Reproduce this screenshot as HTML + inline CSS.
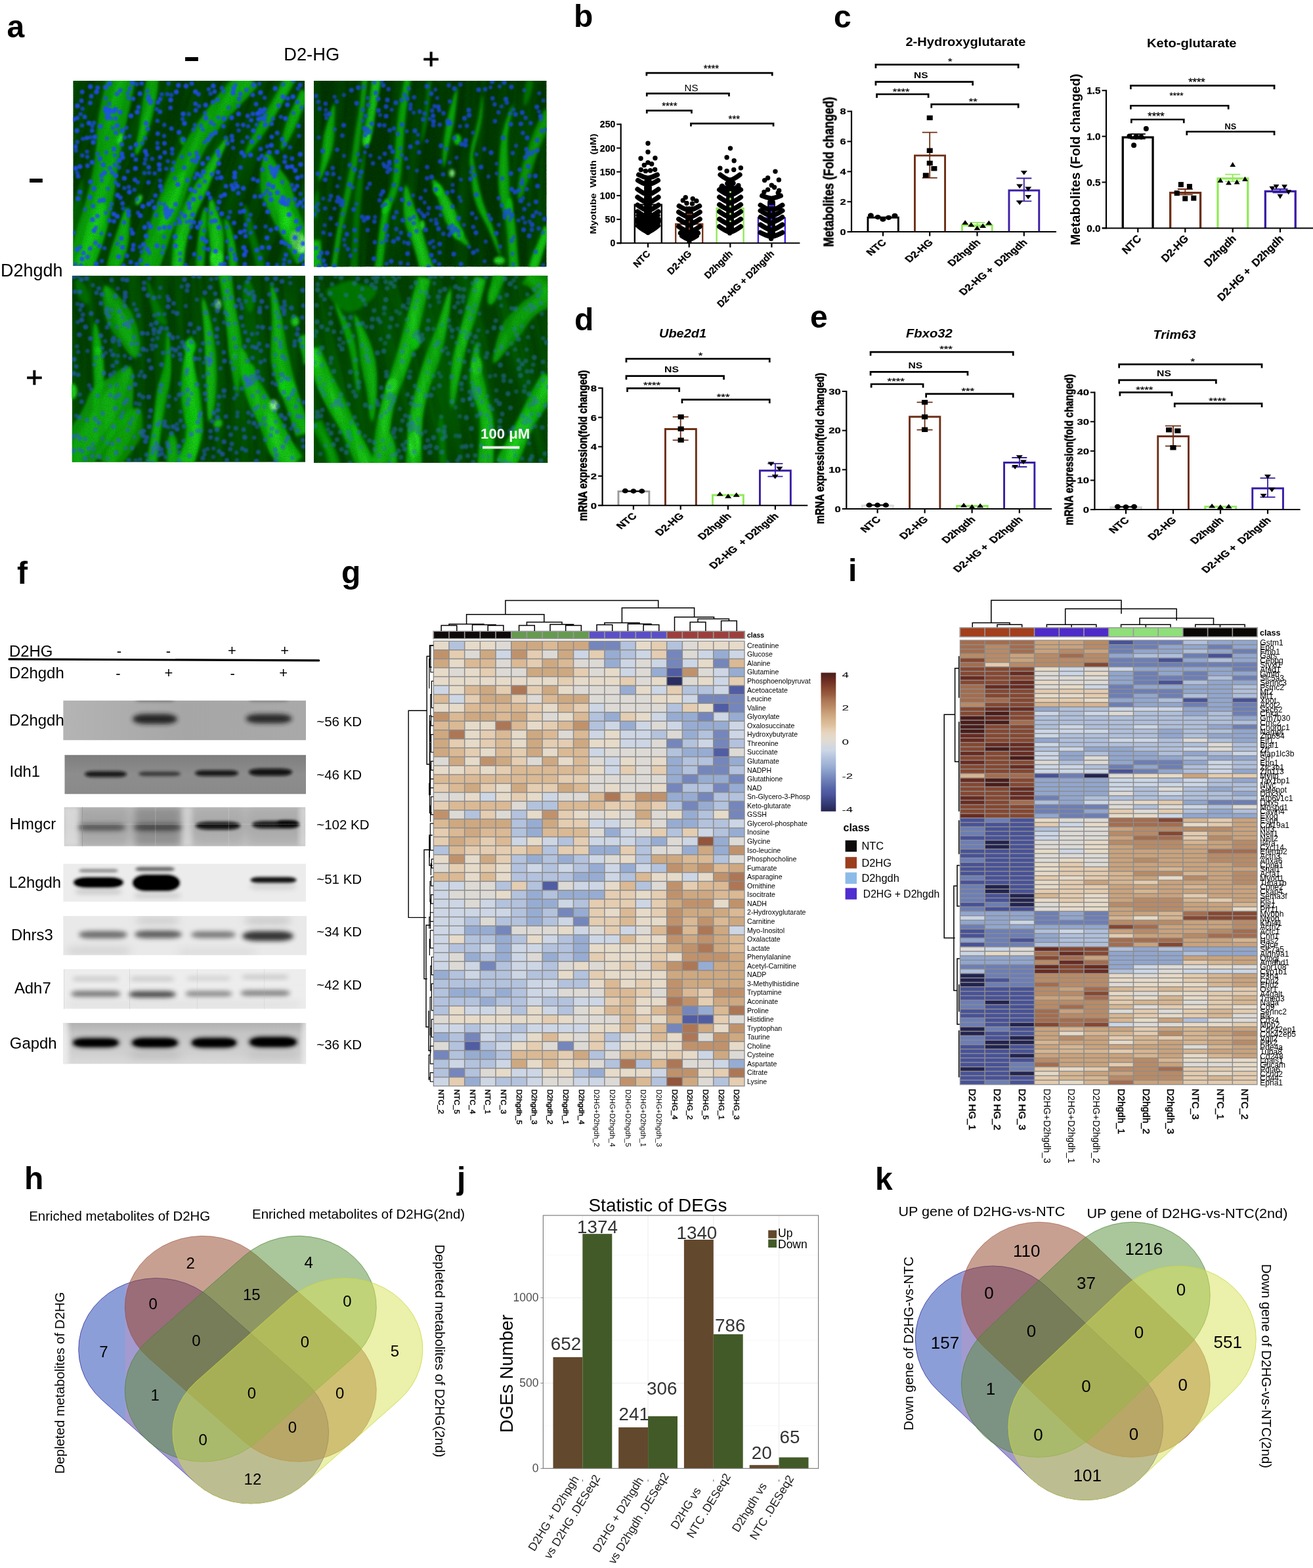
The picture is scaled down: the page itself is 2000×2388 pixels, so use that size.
<!DOCTYPE html>
<html lang="en"><head><meta charset="utf-8"><title>Figure</title>
<style>
html,body{margin:0;padding:0;background:#fff}
body{width:2000px;height:2388px;overflow:hidden}
svg{display:block}
text{font-family:"Liberation Sans","DejaVu Sans",sans-serif}
</style></head>
<body>
<svg width="2000" height="2388" viewBox="0 0 2000 2388">
<rect width="2000" height="2388" fill="#fff"/>
<g id="panel-a">
<defs><filter id="mb1" x="-5%" y="-5%" width="110%" height="110%"><feGaussianBlur stdDeviation="2.2"/></filter><filter id="mb1b" x="-5%" y="-5%" width="110%" height="110%"><feGaussianBlur stdDeviation="3.6"/></filter><filter id="mb2" x="-50%" y="-50%" width="200%" height="200%"><feGaussianBlur stdDeviation="2.2"/></filter><filter id="mb3" x="-2%" y="-2%" width="104%" height="104%"><feGaussianBlur stdDeviation="0.8"/></filter><filter id="grain" x="0" y="0" width="100%" height="100%"><feTurbulence type="fractalNoise" baseFrequency="0.9" numOctaves="2" seed="3"/><feColorMatrix type="matrix" values="0 0 0 0 0  0 0 0 0 0.12  0 0 0 0 0  0 1.6 0 0 -0.62"/></filter>
<filter id="fib1" x="0" y="0" width="100%" height="100%"><feTurbulence type="fractalNoise" baseFrequency="0.045 0.0035" numOctaves="3" seed="7"/><feColorMatrix type="matrix" values="0 0 0 0 0  0 0 0 0 0.22  0 0 0 0 0  2.6 0 0 0 -1.0"/></filter>
<filter id="fib2" x="0" y="0" width="100%" height="100%"><feTurbulence type="fractalNoise" baseFrequency="0.045 0.0035" numOctaves="3" seed="12"/><feColorMatrix type="matrix" values="0 0 0 0 0  0 0 0 0 0.22  0 0 0 0 0  2.6 0 0 0 -1.0"/></filter>
<filter id="fib3" x="0" y="0" width="100%" height="100%"><feTurbulence type="fractalNoise" baseFrequency="0.045 0.0035" numOctaves="3" seed="21"/><feColorMatrix type="matrix" values="0 0 0 0 0  0 0 0 0 0.22  0 0 0 0 0  2.6 0 0 0 -1.0"/></filter>
<filter id="fib4" x="0" y="0" width="100%" height="100%"><feTurbulence type="fractalNoise" baseFrequency="0.045 0.0035" numOctaves="3" seed="30"/><feColorMatrix type="matrix" values="0 0 0 0 0  0 0 0 0 0.22  0 0 0 0 0  2.6 0 0 0 -1.0"/></filter>
</defs>
<clipPath id="mc1"><rect x="0" y="0" width="352.9" height="282"/></clipPath><g transform="translate(111.3 123)" clip-path="url(#mc1)"><rect x="0" y="0" width="352.9" height="282" fill="#013401"/><g filter="url(#mb1)"><path d="M28.9 292L35.6 275.2L44.2 251.1L51.2 228L56.2 207.3L60.1 186.9L63.4 166.4L66.3 146.4L69.5 126.3L73.5 104.6L77.8 81.3L82.2 59.1L86.9 37.5L91.5 15.9L94.3 0.4L53.3 -8.9L49 6.3L43.9 28.6L40 51.9L37.4 75.5L35.3 99.1L32.8 120.7L29.8 140.4L25.9 159.1L20.8 177.9L15.1 196.6L9.2 215.8L2.5 237.9L-4.7 262L-9.3 279.4Z" fill="#0cbc0a" fill-opacity="0.8"/><path d="M30.5 285.2L31.6 280L33.6 272.9L36.6 264.6L40 255.6L43.6 246.5L46.8 237.8L49.2 229.9L50.8 222.5L50.7 214.6L50.3 206.9L49.9 199.8L49.5 193.4L48.7 187.9L46.1 183.4L46.1 183.4L41.6 186.3L38.5 190.8L35.2 196.2L31.6 202.3L27.7 208.7L23.8 215.3L21.6 222.1L19.5 229.7L17.4 238.5L15.3 247.9L13 257.2L10.7 265.7L8.3 272.7L6.2 277.7Z" fill="#12dc10" fill-opacity="0.55"/><path d="M70.6 288.7L72.1 285.1L74.3 280.3L76.8 274.4L79.2 267.7L81.4 260.5L83.1 253L84.4 245.6L85.5 237.9L85.8 229.2L86.1 220.4L86.5 211.8L86.4 203.9L85.7 197.2L83.2 191.9L83.2 191.9L79 196L76.1 202.2L73.5 209.6L70.9 217.7L68.2 225.9L65.3 233.7L63.2 240.6L60.9 247L58.6 253.8L56.5 260.7L54.7 267.3L53.3 273.5L52.2 278.8L51.4 282.7Z" fill="#0cbc0a" fill-opacity="0.8"/><path d="M95.1 115.1L99.8 109.7L104.3 101.2L108.6 91.1L112.6 80.7L116 71.2L119 61.8L121.3 52.3L123.5 43.1L125.5 34.3L127.3 25.8L128.6 17.1L129.4 8.9L129.9 1.9L130.1 -3L113 -5.5L111.8 -0.6L110.4 6.2L108.9 14.2L107.5 22.6L106.3 30.9L105.2 39.7L104 49L102.4 58.3L101.3 67.7L99.7 77.2L97.6 87.8L95.6 98.5L94.3 108L95.1 115.1Z" fill="#0cbc0a" fill-opacity="0.8"/><path d="M130 290.7L139.4 264.1L150.8 231.8L159.6 207.9L167.7 185.6L175.2 164.1L182.9 143.2L191.7 122.3L202.4 101.8L216.1 81.4L231.8 61.6L249.9 42.1L266.5 25.1L276.5 14.1L281.6 7.7L254 -16.3L248.5 -10.4L239.2 0.5L223.6 18.7L205.8 40.7L190 63.1L175.5 85.8L163.2 108L152.3 129.7L142.4 151L133.3 172.6L124.6 195.1L116.2 220.2L106.2 253.5L98.6 280.7Z" fill="#0cbc0a" fill-opacity="0.8"/><path d="M131.3 234.5L136 230.4L140.4 224L145.2 216.3L150.1 207.8L154.7 199.1L158.5 190.7L160.7 182.9L162.9 175.7L164.4 168L166.1 160.6L167.7 153.6L168.9 147.2L169.2 141.5L167.6 136.5L167.6 136.5L162.9 138.9L159.2 143.2L155.5 148.6L151.7 154.8L147.7 161.4L143.6 168.3L140.3 175.3L136.9 183L134.6 192.1L132.8 201.9L131.5 211.7L130.6 220.7L130.2 228.4L131.3 234.5Z" fill="#12dc10" fill-opacity="0.7"/><path d="M168.8 286.4L169.5 274.4L171.1 257.7L174 242.1L178.2 227.8L183.3 213.4L189.2 199L196.2 184.2L203.9 168.8L210.2 152.5L216.5 135.9L222.7 120.6L228.7 106.9L234.3 94.2L236.7 84.4L236.7 84.4L229.1 91.1L220.6 102.3L212 115L203.2 129.3L194 144.4L184.8 159L176.2 174L168.3 189.7L162 205.7L157.3 221.8L153.9 238L151.6 255.3L150.3 272.9L149.3 285Z" fill="#12dc10" fill-opacity="0.7"/><path d="M228.6 285.8L228.5 279.4L228.8 270.1L229.4 259.4L229.9 248.8L229.9 239.6L229.2 231.3L228 223.7L226.5 216.6L223.8 210L221.2 203.2L218.8 195.9L216.4 188.9L213.9 183L210.2 179.1L210.2 179.1L207.9 183.9L207.2 190.3L206.8 197.6L206.5 205.2L205.8 212.5L205.2 219.7L205.8 226.8L206.5 233.8L207.3 241.1L208.1 249.4L208.8 259.4L209.2 269.9L209.2 279.1L209 285.6Z" fill="#12dc10" fill-opacity="0.75"/><path d="M198.8 286.1L199.5 280.5L200.2 272.7L200.9 263.4L201.4 253.4L201.8 243.4L202.2 234.2L202.7 226.5L203.3 220.1L203.6 214L203.8 208.4L203.9 203.3L203.7 198.8L203.1 195L201.7 191.9L201.7 191.9L199.5 194.5L197.9 198L196.5 202.3L195.2 207.2L194 212.8L192.9 218.9L192.2 225.5L191.4 233.3L190.4 242.5L189.4 252.5L188.5 262.5L187.9 271.9L187.6 279.7L187.6 285.3Z" fill="#0cbc0a" fill-opacity="0.8"/><path d="M378.4 257.2L370.7 246.7L360.3 231.4L350.8 215.4L344.7 202.4L340.8 190.6L337.7 178.8L334.3 167L330.4 155.4L323.9 145.5L317.2 136.8L311.3 129L306.4 121L301.8 113.7L295.5 108.7L295.5 108.7L290.5 115L287.9 123.7L286.1 134.4L285.1 145.9L285 158.3L286.3 171.1L290.8 182.7L295.9 194.1L301.6 206.2L308.3 219.4L316.2 234.2L325.9 251.6L334.8 268.3L340.6 280.1Z" fill="#0cbc0a" fill-opacity="0.8"/><path d="M362.2 254.1L359.7 250.6L356.8 245.5L353.7 239.3L350.7 232.4L347.9 225.4L345.1 218.9L342.6 213.5L340.1 208.7L336 204.4L331.9 200.1L328.1 196L324.6 192.2L321.3 189.2L316.8 187.6L316.8 187.6L314.6 191.7L314 196.2L313.9 201.3L313.9 207.1L314 213.4L314.4 219.9L316.7 225.7L319.7 231.7L323.6 238.1L327.9 244.6L332 251L335.6 257L338.2 262.2L339.7 266.2Z" fill="#12dc10" fill-opacity="0.7"/><path d="M261.4 115.1L267.3 110.1L274.1 102L281.6 92.4L289 82.5L295.5 73.5L301.7 64.4L307 54.7L312.4 45.3L317.6 36.5L322.7 28.1L327.7 19.5L332.3 11.6L336 4.8L338.5 -0.2L322.5 -8.4L319.9 -3.5L316.6 3.5L312.8 11.7L308.7 20.4L304.3 28.8L299.3 37.5L293.5 46.5L287.4 55.7L282.1 65.4L277.2 75.4L272 86.6L267.1 97.7L263.1 107.6L261.4 115.1Z" fill="#0cbc0a" fill-opacity="0.8"/><path d="M316.8 106.6L321.1 102.3L325.4 95.6L330 87.6L334.7 78.8L339.1 69.9L342.9 61.6L345.4 54.3L347.9 48.1L350.7 42.3L353.8 36.9L356.8 32.1L359.5 27.9L361.7 24.2L363.2 21.2L347.2 12.9L345.7 15.7L343.9 19.5L341.9 24.2L339.6 29.6L337 35.5L334 41.7L330.9 48.1L327.4 55.3L324.5 64.2L321.8 73.9L319.4 83.6L317.7 92.7L316.6 100.6L316.8 106.6Z" fill="#0cbc0a" fill-opacity="0.8"/><path d="M250 285.2L249.9 281.3L249.7 275.9L249.2 269.5L248.4 262.4L247.5 255.3L246.4 248.4L245.3 242.2L244.1 236.4L242.4 230.6L240.5 225L238.5 219.7L236.3 215.2L234.1 211.5L231.6 209L231.6 209L230.6 212.4L230.7 216.8L231.2 221.7L232.1 227.2L233 232.8L233.9 238.5L234.9 243.9L235.6 249.8L236 256.5L236.4 263.5L236.9 270.5L237.4 276.9L238.1 282.3L238.7 286.2Z" fill="#0cbc0a" fill-opacity="0.8"/><path d="M292.4 284.1L291.1 278.5L289 270.7L286.4 261.5L283.3 251.6L280.2 241.7L277.3 232.5L275 224.7L273.3 217.8L271.3 211.3L269.5 205.1L267.7 199.5L265.8 194.6L263.9 190.6L261.4 187.6L261.4 187.6L260.4 191.3L260.1 195.8L260.3 201L261 207L261.9 213.4L263.1 220.3L264.9 227.3L266.8 235.4L269.2 244.8L271.7 254.9L274.5 264.9L277.2 274.1L279.7 281.8L281.6 287.3Z" fill="#0a9a08" fill-opacity="0.6"/><path d="M35.4 93.8L39.6 88.5L43.6 80.5L47.6 70.8L51.4 60.3L55 49.8L58.1 40.1L60.2 31.9L62.2 25.3L64.3 19.2L66.3 13.8L68 8.9L69.3 4.7L70.1 1.1L70.4 -1.9L53.2 -6.6L52 -3.9L50.9 -0.4L49.8 3.9L48.7 8.9L47.7 14.7L46.4 21L44.7 27.8L42.4 35.9L40.3 45.8L38.1 56.8L36.2 67.8L34.9 78.2L34.4 87.1L35.4 93.8Z" fill="#0a9a08" fill-opacity="0.6"/><path d="M4.1 265.3L4.7 259.4L5.4 251.3L6.3 241.6L7.4 231.1L8.8 220.4L10.4 210.3L12.1 201.4L13.7 193.1L14.5 184.4L15 175.8L15.3 167.7L15.3 160.3L15.1 154.1L14.1 149.3L14.1 149.3L11.5 153.5L9.2 159.2L6.8 166.2L4.3 174L1.9 182.3L-0 190.9L-1 199.5L-1.9 208.6L-3.1 218.8L-4.6 229.5L-6.2 240L-7.8 249.6L-9.1 257.6L-10.1 263.5Z" fill="#0a9a08" fill-opacity="0.4"/></g><g filter="url(#mb1b)"><path d="M19.6 288.9L24.7 271.7L32.2 247.3L38.9 224.4L44.5 204.3L49.8 184.5L54.7 164.7L58.5 145.1L61.8 125.1L64.9 103.4L67.7 79.9L70.6 57.1L74.4 35L79.1 13.1L82.8 -2.2L64.7 -6.3L61.4 9.1L56.4 31.2L51.6 53.9L47.6 77L43.9 100.3L40.5 121.9L37.6 141.7L34.7 160.8L31.1 180.2L26.7 199.6L21.5 219.4L14.5 241.7L6.2 265.6L0.1 282.5Z" fill="#12dc10" fill-opacity="0.42"/><path d="M25.1 283.5L26.6 278.4L28.5 271.3L30.8 262.8L33.4 253.6L36.1 244.3L38.9 235.5L41.5 227.7L43.8 220.6L45.2 213.2L46.2 205.9L46.8 199L47 192.8L46.9 187.5L46.1 183.4L46.1 183.4L43.4 186.7L41 191.4L38.4 197L35.8 203.3L33.2 210.1L30.9 217.2L29.3 224.3L27.4 232L24.8 240.8L21.9 250L18.8 259L15.8 267.3L13.3 274.2L11.6 279.4Z" fill="#30f62c" fill-opacity="0.5"/><path d="M65.8 287.2L67.2 283.5L69.1 278.6L71.3 272.6L73.5 265.9L75.5 258.7L77.3 251.4L78.8 244.3L80.2 236.8L81.3 228.4L82.4 219.7L83.3 211.3L83.9 203.5L84 196.9L83.2 191.9L83.2 191.9L80.7 196.3L78.6 202.6L76.7 210.1L74.7 218.4L72.6 226.8L70.5 234.8L68.8 241.9L66.7 248.6L64.5 255.5L62.3 262.5L60.2 269.1L58.5 275.2L57.1 280.3L56.2 284.2Z" fill="#12dc10" fill-opacity="0.42"/><path d="M95.1 115.1L98.2 109.2L101.8 100.4L105.7 90.2L109.5 79.9L112.7 70.4L115.5 61.1L117.5 51.6L119.1 42.3L120.4 33.4L121.6 24.9L122.8 16.3L124 8.1L125.1 1.2L126 -3.6L117 -4.9L116.6 0L115.8 6.9L114.6 15L113.1 23.5L111.4 31.8L109.6 40.6L107.8 49.7L106 59L104.5 68.4L102.9 78.1L100.6 88.7L98 99.3L95.9 108.5L95.1 115.1Z" fill="#12dc10" fill-opacity="0.42"/><path d="M121.9 288.1L130.9 261.4L141.9 228.9L150.7 204.6L159 182.3L166.9 160.8L175.2 139.8L184.5 118.7L195.5 97.8L209.4 76.7L225.1 56.3L243.2 36.1L259.5 18.8L269.4 7.9L274.6 1.7L261 -10.2L255.6 -4.2L246.2 6.8L230.3 24.7L212.4 46.1L196.7 67.8L182.3 89.9L170.4 111.6L160 133.1L150.7 154.3L142 175.9L133.6 198.4L125 223.2L114.7 256.2L106.6 283.3Z" fill="#12dc10" fill-opacity="0.42"/><path d="M131.3 234.5L134.5 229.9L138 223.2L141.8 215.2L145.7 206.3L149.5 197.3L152.9 188.7L155.4 180.9L157.9 173.8L160.2 166.4L162.5 159.2L164.7 152.4L166.5 146.2L167.6 140.8L167.6 136.5L167.6 136.5L164.5 139.6L161.6 144.2L158.5 149.8L155.3 156.2L152 163.1L148.6 170.2L145.7 177.3L142.6 185L139.8 193.9L137.2 203.4L134.9 212.8L133 221.5L131.6 228.9L131.3 234.5Z" fill="#30f62c" fill-opacity="0.5"/><path d="M163.8 286.1L164.8 274L166.5 257.1L169.3 241.1L173.2 226.3L177.9 211.5L183.7 196.5L190.8 181.5L198.7 166.1L205.9 150.3L213.1 134.2L220.1 119.3L226.8 105.8L233.1 93.5L236.7 84.4L236.7 84.4L230.4 91.8L222.5 103.4L214.6 116.4L206.6 131L198.3 146.5L190 161.6L181.7 176.8L173.8 192.1L167.4 207.7L162.4 223.3L158.6 238.9L156.2 255.9L155 273.2L154.3 285.4Z" fill="#30f62c" fill-opacity="0.5"/><path d="M223.5 285.8L223.7 279.3L224.2 270L224.5 259.4L224.6 248.9L224.2 240L223.3 232L222 224.5L220.7 217.4L219 210.6L217.5 203.7L215.9 196.3L214.2 189.2L212.4 183.2L210.2 179.1L210.2 179.1L209.3 183.7L209.3 189.9L209.7 197.2L210.2 204.7L210.6 211.8L211 218.9L211.8 225.9L212.5 233.2L213 240.7L213.4 249.2L213.6 259.4L213.8 269.9L213.9 279.2L214 285.7Z" fill="#30f62c" fill-opacity="0.5"/><path d="M195.9 285.9L196.5 280.3L197.1 272.5L197.7 263.2L198.4 253.1L198.9 243.2L199.5 233.9L200 226.2L200.6 219.8L201.1 213.7L201.6 208.1L202 203L202.2 198.6L202.2 194.9L201.7 191.9L201.7 191.9L200.5 194.6L199.4 198.2L198.4 202.5L197.4 207.5L196.4 213.1L195.5 219.2L194.9 225.8L194.1 233.5L193.3 242.7L192.4 252.7L191.7 262.8L191.1 272.1L190.7 279.9L190.4 285.5Z" fill="#12dc10" fill-opacity="0.42"/><path d="M367.9 263.6L361 252.5L351.6 236.5L342.6 219.8L336.4 206.3L331.8 194.2L327.6 182.5L323.1 171L318.5 159.7L313 149.1L308.3 139.3L304.6 130.5L301.8 121.7L299.2 114L295.5 108.7L295.5 108.7L293.2 114.7L292.5 123.1L292.8 132.9L294 143.4L295.9 154.8L298.3 166.8L302 178.7L306 190.4L310.6 202.6L316.6 215.5L324.4 229.7L334.6 246.5L344.5 262.5L351.1 273.7Z" fill="#12dc10" fill-opacity="0.42"/><path d="M357.2 256.8L355.1 253.1L352 248.1L348.4 242.2L344.6 235.7L341 229L337.8 222.6L335.4 216.9L333.4 211.7L330.7 206.6L327.9 201.7L325 197.1L322.2 193.1L319.6 189.8L316.8 187.6L316.8 187.6L316.2 191.1L316.4 195.3L317 200.2L317.9 205.6L319.2 211.3L321.1 217L323.9 222.3L327 228L330.5 234.5L334 241.3L337.3 248.1L340.3 254.4L342.8 259.7L344.8 263.5Z" fill="#30f62c" fill-opacity="0.5"/><path d="M261.4 115.1L266.2 109.4L272.1 100.8L278.8 90.7L285.6 80.4L291.9 71.3L298.1 62.2L304 52.9L309.7 43.7L314.8 34.8L319.4 26.3L323.8 17.5L327.9 9.3L331.3 2.3L333.9 -2.5L327.1 -6L324.6 -1.1L321.1 5.8L316.7 13.8L312 22.2L307.2 30.4L302 39.1L296.5 48.4L291 57.9L285.8 67.6L280.6 77.5L274.8 88.3L269 98.9L264.2 108.2L261.4 115.1Z" fill="#12dc10" fill-opacity="0.42"/><path d="M316.8 106.6L319.9 101.8L323.2 94.8L326.9 86.4L330.9 77.4L335 68.4L339 60L342.2 52.9L345 46.8L347.8 40.8L350.4 35.2L352.9 30L355.1 25.5L357 21.7L358.6 18.8L351.8 15.3L350.4 18.2L348.4 21.9L345.8 26.3L342.9 31.3L339.9 36.9L336.9 43L334.2 49.5L331.3 56.9L328.5 65.8L325.5 75.3L322.5 84.8L319.8 93.6L317.7 101L316.8 106.6Z" fill="#12dc10" fill-opacity="0.42"/><path d="M247.1 285.5L246.9 281.5L246.6 276.1L246.1 269.7L245.4 262.7L244.6 255.6L243.6 248.7L242.6 242.6L241.5 236.9L240 231.2L238.3 225.5L236.6 220.3L234.9 215.6L233.2 211.7L231.6 209L231.6 209L231.5 212.2L232.1 216.4L233.1 221.2L234.2 226.6L235.4 232.3L236.5 238L237.5 243.5L238.3 249.4L238.9 256.2L239.5 263.3L240 270.2L240.6 276.6L241.1 282L241.6 286Z" fill="#12dc10" fill-opacity="0.42"/></g><g filter="url(#mb2)"><ellipse cx="70.79" cy="88.27" rx="3.84" ry="8.53" fill="#30f62c" opacity="0.9" transform="rotate(20 70.79 88.27)"/><ellipse cx="100.21" cy="181.24" rx="3.84" ry="8.53" fill="#30f62c" opacity="0.9" transform="rotate(25 100.21 181.24)"/><ellipse cx="166.74" cy="91.68" rx="3.41" ry="6.82" fill="#12dc10" opacity="0.86" transform="rotate(-10 166.74 91.68)"/><ellipse cx="218.76" cy="270.79" rx="9.38" ry="13.65" fill="#30f62c" opacity="0.9" transform="rotate(0 218.76 270.79)"/><ellipse cx="161.19" cy="247.33" rx="5.12" ry="17.06" fill="#12dc10" opacity="0.86" transform="rotate(8 161.19 247.33)"/><ellipse cx="343.28" cy="245.2" rx="11.09" ry="17.91" fill="#98ff90" opacity="0.95" transform="rotate(-25 343.28 245.2)"/></g><rect x="-120" y="-120" width="592.9" height="522" filter="url(#fib1)" opacity="0.4" transform="rotate(20 176.45 141)"/><rect x="0" y="0" width="352.9" height="282" filter="url(#grain)" opacity="0.5"/><g fill="none" stroke-linecap="round" filter="url(#mb3)"><path d="M159.6 157.9h0M326.2 131.3h0M179.2 165.6h0M65.2 144.4h0M222.3 223.6h0M33.2 85.6h0M32 228.3h0M244.7 11.8h0M346.6 272.1h0M230.8 173.6h0M55.6 4.2h0M186.5 16.8h0M67.1 68.2h0M10.6 130.8h0M155.5 237.6h0M183.2 180.6h0M176.4 186.8h0M161.4 78.4h0M352.1 280.8h0M296.5 199.6h0M111.3 64.8h0M102 19.8h0M270.4 112.9h0M298.8 109h0M338.1 238.9h0M0.2 59.1h0M346 112.1h0M25.8 177.5h0M274.7 76.1h0M30.8 93.8h0M340.2 213.8h0M41.6 69.5h0M35.7 16.9h0M281.3 50.1h0M197.4 126.2h0M67.3 206.4h0M46.2 181.5h0M41.1 118.7h0M75.1 76.1h0M342.6 226.6h0M107.3 249.5h0M74.4 111.2h0M301.5 181h0M35.4 279h0M272.7 92.8h0M31.8 164.3h0M85.8 169.6h0M131.2 127.8h0M338.5 136.4h0M202.8 244.4h0M64.5 43.5h0M320.6 230.6h0M88 53.5h0M260.9 265.2h0M69.4 267.9h0M311.3 170.2h0M148.7 29.3h0M13.7 271.5h0M84.1 198.7h0M90.7 232.3h0M210.5 82.7h0M61.9 203.1h0M24.3 64.4h0M197.4 240.4h0M216.8 79h0M323.7 57.5h0M5.8 75.9h0M157.3 17h0M62.2 104h0M201.9 37.1h0M127.8 251.2h0M346 185.3h0M243.9 164.8h0M49.5 9.9h0M6.3 256.7h0M247.4 271.5h0M7.5 179.4h0M170.2 206h0M112.5 281.8h0M26.6 154h0M260.1 253.9h0M260.1 198.4h0M279.9 258h0M124.2 193.2h0M317.9 245.7h0M147.2 222.9h0M304.7 161.5h0M220.5 107.8h0M205.6 171.7h0M350.5 248.1h0M257 109.5h0M259.4 163.8h0M29.6 211.6h0M10.5 169.6h0M169.7 64.9h0M246.4 140.2h0M216.9 259.6h0M90.3 3.2h0M106.2 191.2h0M71.5 47.8h0M319.6 186.1h0M156 251.5h0M115.4 187.8h0M70.1 121.5h0M310.6 108.4h0M205.8 89.2h0M48.1 140h0M295.4 239.3h0M97.7 47.7h0M75.5 116.7h0M220.8 139.3h0M111.3 236.6h0M346.6 127.6h0M26.4 8.9h0M308 11.7h0M250.1 160.9h0M109.1 223.2h0M6.7 38.3h0M160.5 7h0M292.8 66.9h0M222 125.9h0M222.3 184.7h0M284.9 270.3h0M241.6 56.2h0M167.7 50.4h0M3.8 133.2h0M252 50.5h0M96.1 97.5h0M246.1 146.8h0M216.8 213.3h0M138.9 223.3h0M319.8 24.6h0M329.1 203.7h0M45.8 127.9h0M133 160.4h0M310.3 224.7h0M333.2 130.8h0M229.9 57.8h0M254.8 230.8h0M226.4 202.4h0M75.3 253.8h0M189.5 223h0M113.1 256.6h0M302 98.3h0M29.2 124.3h0M194.2 216.6h0M172 8h0M285.5 18.1h0M118.2 222.2h0M49.6 41.9h0M182.3 204h0M335 24.3h0M78.1 148.5h0M102.4 205.5h0M225.5 147.4h0M297.7 157.9h0M110 107.5h0M298.3 253.9h0M73.5 239.9h0M341.8 147.8h0M202.2 56.7h0M189.1 141.9h0M213.6 7.8h0M198.6 138.5h0M243.8 18.6h0M190.1 116.7h0M337.7 260.4h0M95 133.4h0M287.9 254h0M168.2 89.5h0M67.6 174.2h0M326.5 36.5h0M275 6.4h0" stroke="#1f4cf0" stroke-opacity="0.9" stroke-width="7.52"/><path d="M242.5 90.8h0M125.4 174.8h0M37 206.1h0M43.3 144h0M187.2 123.2h0M132.6 116.6h0M186.8 45h0M72.1 178h0M300.4 172.5h0M302.4 65.6h0M261.4 228.6h0M318.6 89.1h0M77 281.5h0M313.2 37.8h0M84.5 204.9h0M91.6 27.4h0M293.7 118.9h0M278.8 35.5h0M142.1 193.2h0M6.3 56.7h0M240.8 257h0M341.7 32.5h0M178.5 213.8h0M177.4 193.4h0M66.7 19.9h0M37.5 10.6h0M194.7 145.2h0M65.1 57.5h0M296.5 279.3h0M327.1 26.9h0M21.9 268.3h0M163.1 215.7h0M115.3 131.7h0M181.8 121.3h0M247.4 238.1h0M64 128h0M260.9 114.3h0M180.9 4.3h0M222.1 114.1h0M211.6 142.2h0M91.1 257h0M262.7 219.4h0M287.5 114.4h0M245.2 216.4h0M255 19.9h0M3.7 100.3h0M225.4 176h0M81.9 266.4h0M235.1 95.3h0M232.8 160.6h0M188.1 109.9h0M352.9 181.1h0M345.9 6.4h0M90.6 113.2h0M17.8 55.1h0M132.6 27.8h0M341.3 160.2h0M210.9 214.1h0M15.9 262.3h0M56.4 133h0M59.7 139.7h0M215.7 16.5h0M333.6 118.6h0M185.9 168.6h0M129 80.6h0M104.5 4h0M86.5 12.1h0M55.3 212.8h0M137.6 253.1h0M264.1 14.1h0M348.9 266.3h0M25.9 255.4h0M151.6 134.7h0M343.4 68.7h0M184.7 264.3h0M255.1 132.1h0M213 32.5h0M71.9 14.7h0M186.4 35.1h0M156.3 188.3h0M205.5 118.3h0M274.5 149.7h0M259.1 67.2h0M40.2 251.7h0M276.8 176.2h0M241.8 159.3h0M208.8 178.5h0M265.9 53.5h0M87.9 276.3h0M323.2 247.8h0M13.9 17.1h0M95.6 119.9h0M220 28.9h0M191.1 20.4h0M30.5 190.7h0M194.3 178h0M131.7 135h0M74.3 96.9h0M262.8 236.5h0M26.2 33.8h0M285.6 175.9h0M271.3 60.1h0M149.8 72.8h0M285.8 104h0M230.7 278.9h0M114.8 154.7h0M263.3 259.7h0M150.9 104.1h0M34.2 246.8h0M27.7 23.4h0M241.9 84.3h0M273.7 21.5h0M75.3 186.7h0M99.8 40.3h0M126.3 204.7h0M129.3 33.1h0M324.2 265.1h0M322.3 123.5h0M283.4 85.9h0M112.1 112.7h0M329.8 252.3h0M87.6 102h0M129 102.5h0M139.6 109.3h0M68.8 159h0M281.3 152.4h0M62.3 214h0M310.9 79.4h0M7.8 145.4h0M192 160h0M229 69.2h0M77.8 215.8h0M184.1 215.6h0M139.2 95.3h0M341.7 189.6h0M174.2 151.5h0M254.4 199.7h0M322.9 115.8h0M291.6 188h0M301.2 227.3h0M338 180.6h0M283.1 118.9h0M148.4 41.2h0M261.6 279.5h0M132.5 47.3h0M103.1 273.5h0M20.9 87h0M40.5 182.7h0M273.8 50.6h0M22 129.4h0M206.1 256.4h0M12.8 30.6h0M209.9 63.2h0M65.3 79.3h0M288.4 135.2h0M91.9 250.3h0M322.6 96.5h0M193.2 269.9h0M96.9 279.2h0M131.1 224.7h0M251.7 170.9h0M55.5 44.2h0M113.6 73.2h0M306.8 145.5h0M224.8 280.1h0M94.1 150.8h0M0.5 231.6h0M29.1 76.1h0M252.9 27.4h0M169.4 132.2h0M337.2 165.4h0M302.6 85.6h0M291.6 58.8h0" stroke="#1f4cf0" stroke-opacity="0.83" stroke-width="7"/><path d="M55.6 234.6h0M109.9 87.6h0M26.8 86.2h0M164.9 201.7h0M37.3 111.2h0M163 272.7h0M4.4 106.3h0M250.6 67h0M3.7 279.6h0M282.1 58.3h0M132.7 152.2h0M105.2 95.1h0M138.4 188h0M258.1 92.9h0M333.5 158.7h0M291.8 26h0M49.7 26.6h0M239.2 199.7h0M63.5 113.4h0M295.3 167.2h0M31.8 63.9h0M55.4 35h0M143.6 20.5h0M270.6 231.6h0M145.4 4.3h0M346.5 222.7h0M6.5 93.3h0M120.8 183.5h0M179.8 222.4h0M291.2 172.4h0M318.7 154.6h0M124.4 141.1h0M50 201.2h0M348.2 145.5h0M221.3 55.8h0M29.4 69h0M203.4 196.6h0M116.2 262h0M43.8 274.5h0M47.9 254.9h0M197.7 74.6h0M320.9 279.8h0M43.3 232.6h0M101.8 253h0M85 161.8h0M293.2 52.3h0M11.3 50.8h0M232.3 86.8h0M236.9 208h0M134.7 166.9h0M283.7 4.6h0M70.4 132h0M50.5 109h0M201 49h0M183.4 74.4h0M200.5 93.7h0M226.5 10.7h0M236.8 40.8h0M165.8 116h0M220.1 194.4h0M267.5 212h0M171.4 280.5h0M144.3 122.4h0M199.7 255.3h0M185.6 148.1h0M113.2 15.4h0M265.3 85.9h0M209.4 19.7h0M177.4 111.9h0M18.3 196h0M185.7 67.4h0M83.2 19.3h0M321.6 272.5h0M234.9 244.4h0M34.8 223.4h0M43.7 151.6h0M335.6 0.2h0M86.1 84.4h0M206.6 12.9h0M11 253.4h0M108.6 140.6h0M329.6 275.6h0M166.8 58.2h0M104.2 260.2h0M316.5 55.1h0M295.7 99.9h0M310.5 280.7h0M67.6 248.2h0M251.7 38h0M245.6 264.5h0M78.8 86.6h0M234.5 222.9h0M131.5 186.7h0M327 188.1h0M97.7 180.5h0M155.4 149h0M88.5 226.5h0M266.7 69.3h0M98.5 154.6h0M135.8 262.1h0M176.4 50.7h0M178.4 238.4h0M335.8 49h0M214.6 66.4h0M155.4 218h0M277.6 223.1h0M83.3 137.9h0M78.1 163.6h0M210.6 201.6h0M6.3 139.9h0M153.4 124.6h0M200.8 153.2h0M279.4 67.1h0M51.6 87.7h0M14.9 88.6h0M219.2 148.2h0M93.4 166h0M60.6 71.9h0M56.4 194.8h0M293.2 221.9h0M21.6 115.8h0M128.6 61h0M342.5 11.9h0M172.8 214.7h0M348 40.8h0M160.7 210.1h0M13.8 67.9h0M138.7 84.1h0M149.8 21.6h0M12.1 280.9h0M81.1 71.4h0M194.8 68.2h0M162.9 263h0M128.5 95h0M346.3 172.3h0M14 113.7h0M229.3 16.5h0M312.8 130.5h0M138.7 237.7h0M64.8 155h0M57.8 57.4h0M108.9 126.1h0M350.5 191.5h0M304.5 57.7h0M135.1 20.5h0M244 102.3h0M96.9 5.2h0M252.4 75.8h0M127.4 43.3h0M330.5 101.4h0M270.2 204h0M320.1 5.8h0M114.8 217.3h0M139 67.2h0M14.4 42.5h0M110.2 119.6h0M192 38.4h0M256 187.9h0M51.9 57.8h0M98.9 201h0M199.7 228.1h0M344.3 84.1h0M76.3 194.4h0M235.2 269.4h0M150.9 110.7h0M21.2 108.1h0M115.8 140.2h0M142 134h0M58.8 187.6h0M84.6 26.2h0M120.6 119.1h0M53.2 164.3h0M247.5 156h0M247.1 6.5h0" stroke="#1f4cf0" stroke-opacity="0.72" stroke-width="6.48"/><path d="M303.9 138.3h0M309.2 137.7h0M309.9 137.8h0M303 134.5h0M305.3 138.3h0M308.9 136.9h0M309.7 133.6h0M305.8 141.8h0M307.7 139.9h0M300.5 131.4h0M303.2 140h0M150.6 198h0M140.2 196.4h0M141 202.4h0M142.9 207.8h0M146.6 198.1h0M144.4 200.2h0M147.1 203.9h0M143 203.5h0M145.5 200.2h0M144.9 202.3h0M55.7 44.8h0M62.2 46.9h0M54.8 48.4h0M50.2 47.2h0M50.8 45h0M49 43.8h0M60 46.3h0M51.7 54.2h0M53.9 53.5h0M319 177.6h0M328.3 181.7h0M324.1 188.1h0M316 183.7h0M319.4 185.2h0M321.1 178.6h0M321.3 185.6h0M320.4 184.8h0M320 183.3h0M114.8 27.9h0M118.8 31.1h0M117 30.1h0M114.8 23.9h0M117.9 33.6h0M114.6 27.4h0M286.9 56.8h0M288.2 47h0M286.4 48.5h0M286.2 47.7h0M282.8 58.4h0M292 43.6h0M282.8 49.3h0M285.2 44.6h0M291.3 43.5h0" stroke="#1f4cf0" stroke-opacity="0.85" stroke-width="7"/></g></g>
<clipPath id="mc2"><rect x="0" y="0" width="354.6" height="283.2"/></clipPath><g transform="translate(478 123)" clip-path="url(#mc2)"><rect x="0" y="0" width="354.6" height="283.2" fill="#012e01"/><g filter="url(#mb1)"><path d="M31.1 34.1L28.2 39.4L25.7 47.1L22.9 56.2L20.1 65.5L17.4 74.4L15 83.4L13.8 92.7L12.7 101.9L12.4 110.9L11.7 119.9L10.3 129.6L8.6 139.1L7.4 147.3L7.7 153.5L7.7 153.5L11.3 148.5L14.8 140.9L18.5 131.9L22.2 122.5L25.5 113.5L28.2 104.4L29.8 94.9L31 85.6L31.2 76.4L31.3 67.4L31.6 57.6L32 48.2L32.1 40.1L31.1 34.1Z" fill="#0cbc0a" fill-opacity="0.8"/><path d="M73.7 -4.7L72.5 10.6L70.5 31.5L68.1 49.9L65.1 67.9L62.1 86.8L59.5 106.1L56.3 127.1L51.1 152.8L45.4 179.1L41.3 198.5L38 213.1L34.3 233.5L29.6 263.8L26 287.2L34.5 288.5L37.7 265L42.2 234.8L46 214.8L49.6 200.4L54.3 181.1L60.3 154.7L65.7 128.8L68.8 107.3L71 88L73.5 69.2L76.1 51L78.5 32.4L80.7 11.4L82.4 -3.9Z" fill="#0cbc0a" fill-opacity="0.8"/><path d="M88.9 -5.3L88 1.7L86.8 11.8L85.4 23.3L83.8 34.8L82.2 44.9L80.3 54.9L78.1 64.9L76.1 74.1L75.2 82L75 87.8L75.3 91.9L75.9 94.8L76.6 97L78 98.9L78 98.9L80.1 97.9L81.9 96.3L83.7 93.8L85.7 89.9L87.7 84.3L89.7 76.6L91.1 67.2L92.5 57.1L94.1 46.9L95.8 36.7L97.8 25.2L99.9 13.8L101.8 3.8L103 -3.2Z" fill="#12dc10" fill-opacity="0.7"/><path d="M78 106.6L75.3 113.9L72.3 124.5L69.1 136.8L66.3 149.4L64.1 160.8L62.6 171.1L62 181.2L61.4 192L60.7 204.1L59.7 219.2L58.4 238L57.1 257.8L56 275.4L55.3 287.5L66.7 288.1L67.3 275.9L67.9 258.4L68.7 238.6L69.5 219.7L70.3 204.8L71.2 192.7L72.3 182L73.4 172.1L74.1 162L74.9 150.7L76 138L77.2 125.4L78.1 114.4L78 106.6Z" fill="#0a9a08" fill-opacity="0.6"/><path d="M138.1 -5L134.2 18.6L129.3 50L126.3 74.9L124.6 96.5L123 117.5L121.9 138.3L119.9 156.7L115 172.5L109.2 186.2L105.9 194.5L104.2 199.2L101.4 217L96.5 255.7L92.8 287.2L104.2 288.5L107.8 257L112.1 218.3L114.3 201L115.1 197.9L118.1 189.9L124.2 175.9L130 158.9L132.8 139.3L134.3 118.3L136 97.4L137.5 75.9L139.9 51.4L144.2 20.1L147.7 -3.5Z" fill="#0cbc0a" fill-opacity="0.8"/><path d="M139.9 157.8L137.9 164.5L137.3 173.7L136.9 184.4L136.8 195.5L137.2 205.8L138.4 215.7L141.5 225L144.9 234L148.4 243L151.8 252.6L155.2 263.6L158.3 274.6L160.7 284.2L162.2 291.1L183.2 284.6L180.6 278.1L177.2 268.8L173.7 257.9L170.4 246.9L167.8 236.9L165.4 227.4L162.9 218.2L160.4 209.4L156.8 201.1L153.1 192.4L149.6 182.5L146.4 172.5L143.5 163.7L139.9 157.8Z" fill="#12dc10" fill-opacity="0.7"/><path d="M218.8 8.5L216.1 14.5L213.2 23.1L210.2 33.2L207.2 43.6L204.6 53.5L202.3 63.6L200.6 74.2L199 84.6L197.9 94.4L197.1 103.4L196.5 112.2L196.2 120.3L196.4 127.2L197.4 132.2L197.4 132.2L199.6 127.6L201.3 120.9L202.9 113L204.5 104.5L206.4 95.8L208.7 86.3L210.8 76.1L213 65.6L214.6 55.4L215.8 45.3L217.1 34.6L218.2 24.1L218.9 15.1L218.8 8.5Z" fill="#0cbc0a" fill-opacity="0.8"/><path d="M180.4 149.3L180.7 155.1L183.2 162L186.3 169.6L188.9 177.2L191.3 185.9L193.6 195.3L196.7 204.2L199.8 213L204.3 221.6L209.7 230L216.2 237.5L223.7 244.3L230.8 249.7L236.7 252.5L236.7 252.5L234.7 246.3L230.4 238.7L226.3 230.6L223.6 222.8L221.6 214.4L219.1 205.4L215.2 196.7L211 188L206.1 179.6L201.1 171.5L196.2 164.2L190.8 157.4L185.5 152L180.4 149.3Z" fill="#12dc10" fill-opacity="0.7"/><path d="M257.1 21.3L255.6 26.8L254.3 34.7L252.9 43.9L251.4 53.3L249.6 62.1L247.2 71.2L244.6 80.8L241.9 90.2L239.8 99L238.6 107.1L237.8 114.9L237.5 122L237.5 127.9L238 132.2L238 132.2L239.4 128.1L240.8 122.4L242.3 115.5L243.9 108L245.8 100.4L248.1 91.8L250.5 82.4L253 72.7L255 63.2L256.3 54L257.2 44.3L257.6 35L257.7 27L257.1 21.3Z" fill="#0cbc0a" fill-opacity="0.8"/><path d="M304.1 34.1L298.1 46.5L291.4 64.9L286.4 84.2L283.7 104.6L282.1 125.2L281.1 143.4L281.4 159.2L282.8 174.2L285.4 188.6L289.2 200.7L292.5 214.8L294.8 237.9L296.5 267.1L297.4 288.3L312.4 287.4L310.7 266.1L308.5 236.7L306 212.8L302.9 197.3L300 185.5L298.4 172.5L297.6 158.5L297.2 143.2L296.1 125.3L295.1 105.1L295.1 85.3L297.6 66.4L301.9 47.6L304.1 34.1Z" fill="#0cbc0a" fill-opacity="0.8"/><path d="M351.4 43.1L347.8 49.8L343 59.4L337.8 70.9L332.9 83L328.8 94.3L325 105.8L321.2 117.4L317.4 128.7L314.7 139.6L312.6 149.8L311.3 159.9L310.8 169.4L311 177.4L312.6 183.4L312.6 183.4L316.3 178.4L319.6 171.2L322.8 162.5L326.1 153.2L329.4 143.9L333.1 133.6L336.5 122.5L340.4 111.2L344.8 100.4L349.5 90L354.9 78.7L360.3 67.6L364.7 57.8L367.6 50.7Z" fill="#0cbc0a" fill-opacity="0.6"/><path d="M240.1 106.6L239.4 115.9L239.5 129.3L240 143.5L241 155.7L242.3 167L244.4 178.2L248 189.3L252.7 200.4L258.4 211L264.1 221.8L269.4 233.5L275 247.4L280.5 260.6L285.3 269.5L285.3 269.5L283.6 259.6L279.8 245.7L275.4 231.2L270.9 218.8L266.2 207.4L261.7 196.5L257.8 185.9L255 175.4L252.2 165L249.6 154.3L247 142.6L244.5 128.8L242.3 115.7L240.1 106.6Z" fill="#0cbc0a" fill-opacity="0.8"/><path d="M350.8 221.1L349.5 224.5L347.9 229.3L345.9 234.9L343.6 241L341.1 247.1L338.6 252.8L336.3 257.8L334.2 262.4L332.3 267.2L330.8 271.8L329.6 276.2L328.6 280.2L327.9 283.5L327.3 286L338.8 289.7L339.8 287.3L341.1 284.2L342.7 280.5L344.3 276.3L345.8 271.8L347.2 267.1L348.6 262.5L350.2 257.4L352.3 251.6L354.8 245.6L357.5 239.8L360.1 234.4L362.4 229.9L364 226.6Z" fill="#12dc10" fill-opacity="0.86"/><path d="M-7.7 243.5L-8 245.4L-8.1 248L-7.8 251L-7.2 254.3L-6.6 258L-6 261.9L-5.7 265.8L-5.7 269.8L-5.9 273.7L-6.2 277.4L-6.4 280.9L-6.3 283.9L-6 286.4L-5.5 288.3L12.3 287.4L12.7 285.5L12.7 283L12.5 280L12 276.6L11.3 272.9L10.7 269.1L10.4 265.1L10.3 261.1L10.5 257.2L10.8 253.5L11 250.1L11 247.1L10.7 244.5L10.2 242.6Z" fill="#12dc10" fill-opacity="0.7"/><path d="M5.5 166.3L4.2 168L3.2 170.4L2.3 173.1L1.3 176.3L0.2 179.7L-0.9 183.4L-1.3 187.2L-1.7 191L-1.8 194.7L-2 198.2L-2.1 201.5L-2.3 204.3L-2.6 206.7L-3 208.5L5.5 209.4L5.5 207.5L5.7 205.1L6.1 202.3L6.6 199.1L7.2 195.6L7.7 191.9L8.2 188.1L8.4 184.3L8.1 180.5L7.7 177L7.4 173.6L7 170.7L6.5 168.3L5.5 166.3Z" fill="#0a9a08" fill-opacity="0.6"/><path d="M324.9 -1.1L324.3 0.6L323.6 2.6L322.7 5.2L322 8L321.3 11.2L320.8 14.6L320.3 18.1L319.8 21.5L319.7 25L319.5 28.3L319.4 31.3L319.5 34L319.9 36.4L321.1 38.4L321.1 38.4L323.1 37.1L324.4 35.1L325.7 32.7L326.8 29.9L328.1 26.9L329.4 23.7L330.4 20.3L331.4 17L332.4 13.7L333.2 10.5L333.7 7.6L334 5L334.2 2.8L334.4 1.1Z" fill="#0a9a08" fill-opacity="0.6"/><path d="M172.3 -0.3L172 3.9L171.7 9.6L171.4 16.3L170.9 23.8L170.3 31.5L169.5 39.2L168.5 46.5L167.2 53.9L166.2 62.2L165.2 70.7L164.3 79.1L163.6 86.8L163.2 93.2L163.3 98.1L163.3 98.1L165.1 93.6L166.9 87.4L168.9 79.9L170.9 71.7L172.8 63.2L174.3 55L175.2 47.3L176 39.9L176.7 32.1L177.5 24.3L178.3 16.9L179 10.1L179.6 4.5L179.9 0.3Z" fill="#0a9a08" fill-opacity="0.6"/></g><g filter="url(#mb1b)"><path d="M31.1 34.1L29.1 39.5L27.1 47.4L25.1 56.5L23.2 66L21.3 75L19.6 84L18.2 93.3L16.7 102.5L15.5 111.5L14 120.5L12.1 130.1L10.1 139.5L8.4 147.6L7.7 153.5L7.7 153.5L10.3 148.2L13.4 140.5L16.7 131.4L19.9 121.9L22.4 112.9L24.3 103.7L25.4 94.3L26.5 85L27.2 75.9L28.3 66.9L29.4 57.3L30.6 47.9L31.3 39.9L31.1 34.1Z" fill="#12dc10" fill-opacity="0.42"/><path d="M92.6 -4.8L91.4 2.2L89.9 12.3L88.3 23.8L86.7 35.3L85.2 45.4L83.5 55.5L81.6 65.5L79.8 74.8L78.5 82.6L77.7 88.4L77.3 92.4L77.3 95.2L77.5 97.2L78 98.9L78 98.9L79.3 97.7L80.4 95.9L81.6 93.3L82.9 89.4L84.3 83.7L86 75.9L87.5 66.6L89.3 56.5L91.1 46.4L93 36.3L94.9 24.8L96.8 13.3L98.4 3.3L99.3 -3.7Z" fill="#30f62c" fill-opacity="0.5"/><path d="M140.4 -4.6L136.7 19L131.9 50.3L129.1 75.1L127.5 96.7L126 117.7L124.8 138.6L122.6 157.3L117.4 173.4L111.4 187.1L108.1 195.4L106.7 199.6L104 217.3L99.3 256L95.7 287.5L101.3 288.2L104.9 256.6L109.5 218L111.8 200.5L112.8 197.1L115.8 188.9L121.8 175L127.3 158.3L129.9 139L131.4 118.1L133.1 97.1L134.7 75.6L137.3 51L141.8 19.7L145.3 -3.9Z" fill="#12dc10" fill-opacity="0.42"/><path d="M139.9 157.8L139.3 164.3L139.4 173.4L139.9 184L140.8 194.7L142.1 204.6L144.2 214.1L147.3 223.2L150.5 232.2L153.6 241.4L156.5 251.1L159.7 262.2L162.8 273.2L165.4 282.8L167.3 289.5L178.1 286.2L175.9 279.6L172.8 270.1L169.2 259.3L165.6 248.4L162.6 238.5L159.8 229.2L157.1 220.1L154.7 211L151.8 202.3L149.2 193.2L146.6 182.9L144.2 172.8L142.1 163.9L139.9 157.8Z" fill="#30f62c" fill-opacity="0.5"/><path d="M218.8 8.5L216.8 14.6L214.5 23.3L211.9 33.5L209.4 44.1L207.2 54L205.1 64.2L203.3 74.7L201.5 85.1L200.1 94.8L199 103.7L198.1 112.4L197.5 120.5L197.2 127.3L197.4 132.2L197.4 132.2L198.8 127.5L200 120.8L201.3 112.8L202.7 104.2L204.3 95.5L206.2 85.9L208.1 75.6L210.2 65.1L212 54.9L213.6 44.9L215.3 34.2L217 23.9L218.2 14.9L218.8 8.5Z" fill="#12dc10" fill-opacity="0.42"/><path d="M180.4 149.3L182 154.2L185.3 160.8L188.7 168.3L191.6 176L194.5 184.5L197.5 193.6L201.3 202.3L205 211L209.1 219.6L213.7 228L219 235.6L225.4 242.8L231.7 248.9L236.7 252.5L236.7 252.5L233.7 247.1L228.6 240.1L223.4 232.5L219.6 224.9L216.7 216.4L214 207.4L210.7 198.5L207.1 189.7L202.8 181L198.4 172.8L193.8 165.5L188.8 158.6L184.2 152.9L180.4 149.3Z" fill="#30f62c" fill-opacity="0.5"/><path d="M304.1 34.1L298.9 46.7L292.8 65.2L288.6 84.5L286.8 104.8L286.1 125.3L285.7 143.3L285.9 159L286.8 173.8L288.8 187.9L292.2 200L295.4 214.3L298 237.6L300.1 266.8L301.5 288.1L308.3 287.6L307.1 266.4L305.3 237L303.1 213.2L299.9 198.1L296.6 186.2L294.4 172.9L293.2 158.7L292.6 143.2L292.1 125.3L292 105L292.9 85L296.2 66L301.1 47.4L304.1 34.1Z" fill="#12dc10" fill-opacity="0.42"/><path d="M355.6 45.1L352.5 52L348 61.8L342.7 73.2L337.4 84.9L332.8 95.8L328.4 107L324.4 118.5L320.8 129.8L318.2 140.6L316.2 150.7L314.6 160.7L313.4 169.9L312.6 177.7L312.6 183.4L312.6 183.4L314.8 178.1L317 170.6L319.6 161.8L322.5 152.3L325.9 142.8L329.7 132.6L333.3 121.4L337 110L340.8 98.9L345 88.1L349.9 76.5L355.2 65.2L360 55.5L363.4 48.8Z" fill="#12dc10" fill-opacity="0.42"/><path d="M240.1 106.6L240.1 115.9L240.7 129.2L241.7 143.2L243.2 155.3L244.9 166.5L247.2 177.4L250.6 188.4L255 199.4L260.4 210.1L265.8 221L270.8 232.9L276.2 247L281.3 260.4L285.3 269.5L285.3 269.5L282.8 259.8L278.7 246.2L273.9 231.8L269.3 219.5L264.2 208.3L259.4 197.5L255.2 186.8L252.2 176.1L249.6 165.5L247.4 154.6L245.2 142.8L243.3 128.9L241.6 115.7L240.1 106.6Z" fill="#12dc10" fill-opacity="0.42"/><path d="M354.2 222.6L352.7 225.9L350.8 230.5L348.6 236L346.3 242.1L343.9 248.2L341.7 254L339.6 259.1L337.8 263.7L335.9 268.4L334.2 273L332.8 277.3L331.6 281.1L330.7 284.4L330.1 286.9L336 288.8L337 286.4L338.2 283.3L339.5 279.4L340.8 275.1L342.2 270.6L343.7 265.8L345.2 261.2L347.1 256.2L349.5 250.5L352.2 244.5L354.8 238.6L357.2 233.2L359.2 228.6L360.5 225.2Z" fill="#30f62c" fill-opacity="0.5"/><path d="M-3 243.3L-2.7 245.2L-2.5 247.7L-2.3 250.7L-2.3 254.1L-2.4 257.8L-2.4 261.7L-2.3 265.7L-2.1 269.7L-1.8 273.5L-1.4 277.2L-1 280.6L-0.7 283.6L-0.7 286.1L-0.7 288L7.6 287.6L7.3 285.7L7.1 283.2L7.1 280.2L7.2 276.8L7.2 273.1L7.2 269.2L7 265.2L6.7 261.3L6.3 257.4L5.9 253.7L5.6 250.3L5.4 247.3L5.5 244.8L5.6 242.9Z" fill="#30f62c" fill-opacity="0.5"/></g><g filter="url(#mb2)"><ellipse cx="80.17" cy="89.55" rx="5.12" ry="11.09" fill="#30f62c" opacity="0.9" transform="rotate(10 80.17 89.55)"/><ellipse cx="210.23" cy="140.72" rx="4.26" ry="5.97" fill="#98ff90" opacity="0.95" transform="rotate(0 210.23 140.72)"/><ellipse cx="165.46" cy="219.62" rx="3.41" ry="7.68" fill="#30f62c" opacity="0.9" transform="rotate(-5 165.46 219.62)"/><ellipse cx="188.91" cy="166.31" rx="6.82" ry="10.23" fill="#12dc10" opacity="0.86" transform="rotate(-20 188.91 166.31)"/><ellipse cx="218.76" cy="89.55" rx="5.97" ry="8.53" fill="#12dc10" opacity="0.86" transform="rotate(0 218.76 89.55)"/><ellipse cx="110.02" cy="191.9" rx="5.97" ry="11.94" fill="#12dc10" opacity="0.86" transform="rotate(10 110.02 191.9)"/><ellipse cx="218.76" cy="231.13" rx="8.53" ry="11.94" fill="#12dc10" opacity="0.86" transform="rotate(-30 218.76 231.13)"/><ellipse cx="297.65" cy="191.9" rx="5.12" ry="13.65" fill="#12dc10" opacity="0.86" transform="rotate(0 297.65 191.9)"/><ellipse cx="282.73" cy="273.77" rx="8.53" ry="5.97" fill="#30f62c" opacity="0.9" transform="rotate(0 282.73 273.77)"/><ellipse cx="2.13" cy="260.13" rx="7.68" ry="13.65" fill="#12dc10" opacity="0.86" transform="rotate(0 2.13 260.13)"/></g><rect x="-120" y="-120" width="594.6" height="523.2" filter="url(#fib2)" opacity="0.3" transform="rotate(4 177.3 141.6)"/><rect x="0" y="0" width="354.6" height="283.2" filter="url(#grain)" opacity="0.5"/><g fill="none" stroke-linecap="round" filter="url(#mb3)"><path d="M339.8 39.8h0M8.4 282.8h0M65.3 34.2h0M231 97.9h0M315.4 65.6h0M340.2 90.5h0M213.2 264h0M243 261.6h0M251.1 13.7h0M312.5 167h0M110.2 53.8h0M301.3 165.1h0M332.6 219.2h0M340.8 160.4h0M247.6 173.4h0M91.6 270.9h0M110.8 221.2h0M338.5 184.3h0M50.4 233.7h0M236.7 52.4h0M17.4 150.6h0M11.4 262h0M179.5 146.5h0M145.2 187.2h0M325 87h0M132.5 165h0M105.4 168.7h0M192.6 122.8h0M238.7 149.6h0M31.2 282.2h0M126.1 122.3h0M142.8 263.2h0M337.6 145h0M142.1 27.3h0M317.5 48.5h0M193.8 98.9h0M116.4 101.2h0M67.8 10.5h0M189.9 225.4h0M229.5 57.1h0M145.7 234.5h0M326.6 130.4h0M300.2 141.2h0M185.8 165.5h0M351.5 210.6h0M167.7 206h0M278.1 232.2h0M6.4 141.6h0M225 96.5h0M60.8 196h0M154 76.2h0M14.8 273.9h0M124.9 33.4h0M76.7 72.2h0M307.2 51.2h0M98 27.6h0M166.6 58.8h0M122 208.1h0M328 236.2h0M13.6 107h0M301 9.3h0M72.1 138.8h0M135.6 212.5h0M254.7 131.5h0M88.3 65.3h0M94.4 18.5h0M236.1 44.7h0M315.4 182.9h0M20.1 141.2h0M214.1 12h0M172.6 8.5h0M271.7 1.2h0M224.1 279.1h0M300.1 66.1h0M189.6 39.6h0M121.4 244.6h0M290 2.6h0M134.7 181.3h0M62.2 227.3h0M316.7 156.2h0M128.4 240.3h0M181.8 53.3h0M98.5 45.1h0M247 231.5h0M345.3 53.9h0M143.9 247.6h0M270.1 109.5h0M57.4 14.3h0M134.6 66.8h0M183.6 274.6h0M54.2 157.9h0M306.6 169.5h0M186.9 217.4h0M7.7 268.6h0M292.6 27.9h0M23.6 50.5h0M179 265.7h0M322.4 116.7h0M220.7 209.5h0M117.9 274.8h0M334 205.9h0M319.6 226.8h0M231.3 91h0M99.8 67.5h0M20.3 262.2h0M105.8 6.8h0M112.1 29.2h0M157.9 94.1h0M62.2 135h0M147.1 100.3h0M288.4 86.9h0M191.9 248.6h0M340.1 106.1h0M182.3 61.6h0M45.5 67.7h0M110.1 39.3h0M17.4 281.6h0M170.5 227h0M178.9 19.6h0M120.4 107.8h0" stroke="#1c48e0" stroke-opacity="0.82" stroke-width="7.31"/><path d="M324.3 165.1h0M162.8 178.6h0M17.2 194.3h0M286.5 189.9h0M128 81h0M3.6 23.2h0M54.8 128.4h0M276 61.5h0M223.2 5.8h0M107.5 67.8h0M197.6 49.5h0M197.3 233.1h0M92.9 246h0M187.9 193.1h0M203.1 170.5h0M85.1 156.9h0M125.7 226h0M132.2 277.4h0M205.8 64.5h0M147.4 36.3h0M261.1 13h0M214.5 87.2h0M275.5 35.9h0M241.3 202.2h0M82.7 36.9h0M92.5 2.5h0M156.5 229h0M56 266.4h0M180.2 45.5h0M35.5 105h0M168.9 49.8h0M29.8 142h0M90.1 125.8h0M159.8 197.5h0M63.7 243.2h0M17.9 34.9h0M24.8 234h0M191.8 261.6h0M152.6 207.4h0M82 227.4h0M144.5 11.9h0M121.9 158.7h0M52 256.4h0M328.4 144.8h0M320.8 195.4h0M190.8 44.8h0M337.9 260.4h0M160.3 109h0M26.1 175.4h0M303.1 110.1h0M102.4 173.6h0M281.3 48.1h0M100.1 181.9h0M14.7 231.3h0M111.9 235.7h0M161.3 46.9h0M6.9 32.1h0M92.3 214.5h0M281.6 178.8h0M108.9 188.1h0M259.7 104h0M28.9 132.8h0M78.7 53.4h0M138.5 21.2h0M318.4 79.5h0M318.6 208.8h0M3.8 254.7h0M287 148.8h0M313.6 135.5h0M8.9 42.5h0M110.1 243h0M294.1 33.4h0M81 99.7h0M147 42.5h0M233.2 68.6h0M152.3 216.9h0M122.3 72.7h0M43.5 83.5h0M83.2 208.2h0M125.9 200.2h0M108.1 111.2h0M322.7 56.4h0M75 44.2h0M330.4 64.4h0M207.3 31.6h0M0.5 203.5h0M242.9 222.7h0M172.6 131.4h0M183.9 38.6h0M182.2 67.8h0M113.8 12.7h0M191.8 66.9h0M197 142.6h0M211.3 191.6h0M244.8 143.8h0M205.7 6.9h0M108.6 226.7h0M133.8 29.5h0M34.8 31.7h0M176.7 247.1h0M272.3 26.7h0M301.2 243.9h0M115.5 75.4h0M347.1 76.5h0M25.7 209.4h0M342.6 224.9h0M146.3 210.7h0M269.7 210.7h0M174.8 282.9h0M152.7 25.2h0M132.9 231.5h0M172.4 148.5h0M125.4 136.9h0M175.1 193.9h0M332.2 227h0M193.4 193.7h0M191 279.3h0M211.5 168.2h0M140.4 118.7h0M338.7 200.1h0" stroke="#1c48e0" stroke-opacity="0.75" stroke-width="6.8"/><path d="M202.1 103.9h0M6.4 187.3h0M266.4 204.8h0M269.2 10.1h0M242.6 79.2h0M137.8 246h0M143.6 132.2h0M18 51.4h0M74.5 60.9h0M185.3 13.5h0M31.6 24.4h0M260.1 274.8h0M266 145.8h0M46.3 222h0M45.9 21.7h0M181.4 244.2h0M261.9 244.9h0M349.1 231.3h0M69.6 146.1h0M193.2 204.6h0M81.4 163.4h0M100.8 52.2h0M141.5 76.9h0M104.3 190.7h0M221.7 177.4h0M327.6 188.6h0M46.1 114.3h0M185.9 211.4h0M188 26.3h0M168.8 185.5h0M278.5 126.3h0M75.8 9.6h0M178.4 212.4h0M39.2 148.1h0M211.6 158.6h0M82.1 26.1h0M7.6 86.4h0M207 124.6h0M118.6 44.2h0M318.7 178.7h0M134 113.2h0M35.9 160.6h0M278.7 141.2h0M247.3 209.1h0M117.4 180.6h0M344.7 202.6h0M64.9 187.6h0M228.6 219.6h0M248.9 258.4h0M346.2 59.3h0M349.7 30.2h0M151.2 174.6h0M152.2 48.6h0M173.7 202.5h0M106.1 126.5h0M224.1 150.6h0M284 252.4h0M342.9 46.8h0M171.1 33.4h0M247.7 112.2h0M283 8.7h0M217.4 117.1h0M31.5 194.7h0M115.7 123.2h0M143.3 279.1h0M221.2 235.8h0M158.6 82.2h0M182.7 253.3h0M321.6 215.9h0M14.3 179.4h0M32 74.1h0M308 98.9h0M169.9 167.2h0M100.2 117.3h0M298.7 50.1h0M317.9 150.3h0M223.9 182.8h0M236.7 253h0M349.5 280.8h0M44.2 203h0M35.4 257.9h0M176.5 58.1h0M328.8 214.5h0M59.3 162.5h0M353.1 74.6h0M132.3 102.9h0M222.8 69.3h0M241.3 132.5h0M298.9 211.4h0M304.3 43.9h0M281.8 219.4h0M103.5 0.3h0M35.2 218.7h0M343.3 19.1h0M86.2 113.9h0M24.2 181.6h0M304.2 238.5h0M63.3 257.8h0M302.6 263.5h0M311.7 212.7h0M3.1 192.2h0M47.3 250.6h0M320.6 14.5h0M6.6 197.6h0M103.4 246.3h0M163.9 201.7h0M16.5 219.9h0M70.7 121.6h0M172.3 92h0M18.3 44.6h0M46.2 241.9h0M110.6 278.6h0M303.5 279.5h0M157 136.8h0M239.1 138.9h0M93.2 207.5h0M77.9 108.8h0M285.9 39.1h0M67.3 112h0M19.3 56.9h0" stroke="#1c48e0" stroke-opacity="0.66" stroke-width="6.29"/><path d="M81.6 73.7h0M81.9 74.3h0M82 78.9h0M79.3 75.9h0M83.2 78.1h0M79.3 73.5h0M85.4 77.7h0M78 82.9h0M114.6 124.1h0M112.3 138.8h0M111.9 130.8h0M115.9 135.6h0M109.7 130.5h0M111.2 131.3h0M107.8 130.1h0M115.3 126.5h0M116.6 134.6h0M115.5 135.6h0M36.9 177.7h0M44.4 183.6h0M41.7 187.4h0M35.3 183.6h0M39.9 180.7h0M37.5 183.7h0M41.5 188.8h0M43.6 189.4h0M38.9 184.1h0M39.7 183.2h0M77.1 212.1h0M81.5 209.3h0M73.5 207.1h0M76.5 212.8h0M80.5 208.6h0M208.1 65.1h0M206 64h0M203.5 61.3h0M205.8 61.4h0M206.7 63.7h0M204.1 65h0M204.6 63.4h0M209 231.1h0M212.6 228h0M212.1 229.6h0M210.7 220.6h0M220.2 228.9h0M215.8 225h0M205.8 223.7h0M214.4 227.1h0M212.2 227.4h0M206.4 235h0M291.4 198.3h0M290.8 204.2h0M301.6 203.8h0M296.7 202.1h0M302.2 204h0M297.6 198.3h0M301.7 206.1h0M294.1 200.4h0M297.9 197.1h0M296.1 200h0M290.8 208.1h0M323.8 104.2h0M333.6 108.6h0M331.7 111.1h0M324 104.8h0M327.3 111.4h0M326 110h0M325.4 110.7h0M327.7 110.7h0" stroke="#1c48e0" stroke-opacity="0.78" stroke-width="6.8"/></g></g>
<clipPath id="mc3"><rect x="0" y="0" width="355.2" height="284"/></clipPath><g transform="translate(109.8 419.8)" clip-path="url(#mc3)"><rect x="0" y="0" width="355.2" height="284" fill="#023a02"/><g filter="url(#mb1)"><path d="M21.8 307.6L27.7 296.8L37 281.5L48.2 264.8L59.7 249.1L69.6 236.8L78.1 226.9L85.4 218L91.2 209.5L92.6 198.7L93.1 186.3L93.6 172.8L93.9 159.6L93.2 148L88.7 137.7L88.7 137.7L77.7 140.1L68 146.4L57.6 154.1L47 161.5L37.1 168L28.9 174.4L25.2 182.7L21.7 191.7L17.3 201.8L10.2 214.1L-0.5 229.1L-13 244.3L-25 257.5L-33.7 266.3Z" fill="#0cbc0a" fill-opacity="0.7"/><path d="M71.7 297.5L73.9 292.4L77.8 285.8L83.1 278.4L89.1 270.4L95.1 262.4L100.4 254.5L104.3 247.4L107 240.7L107.2 232.9L107 225.5L106.9 218.8L106.5 212.8L105.4 207.4L101.5 201.7L101.5 201.7L94.5 201.8L89.5 204.1L84.5 207.3L79.1 211L73 214.8L66.8 218.8L62.9 224.2L59 230.8L55 239L51 248.1L47 257.1L43 265.4L39.2 272L35.8 276.4Z" fill="#0cbc0a" fill-opacity="0.6"/><path d="M49.5 14.1L46.8 21.9L46.6 31.4L47.4 42.2L48.8 53.3L51 63.7L54.7 74L60.7 83.1L66.1 91.8L71.9 98.9L76.6 105.2L80.9 111.7L85.2 117.9L90.1 123L97.2 125.8L97.2 125.8L102 119.9L103.8 112.9L104.1 104.7L103.1 95.5L101.4 85.9L98.9 75.5L94.7 65.4L90.7 55.4L84.9 47.1L78.6 39.6L71.5 31.5L64.1 23.8L57 17.5L49.5 14.1Z" fill="#0cbc0a" fill-opacity="0.65"/><path d="M34.5 69.5L32.5 76.8L31.7 87L31.4 98.6L31.4 110.1L31.4 120.2L31.7 129.6L32.5 138.5L32.8 147.2L33.4 155.8L33.5 164.8L33.2 175.2L32.9 185.6L33 194.9L34.5 201.7L34.5 201.7L38.3 195.9L41.7 187.2L44.9 176.9L47.3 166.2L48.7 156.3L49.2 146.8L48.5 137.5L47.9 128.3L46.6 119L45.1 109L43.1 97.5L40.7 86.1L37.9 76.3L34.5 69.5Z" fill="#0cbc0a" fill-opacity="0.8"/><path d="M181.7 90.8L177 100.2L173.2 114L169.9 129.9L167.7 145.6L166.5 162.3L166.1 179.1L167.4 194.7L169.6 209.1L172.1 221.9L173.7 233.2L172.9 244.9L169.1 259.1L163.9 273L159.9 282.7L184.7 291.3L187.5 281L192.2 266.2L196.7 249.5L198.9 233.7L198.6 219L197.2 205.3L195.9 191.6L194.3 176.4L190.8 160.4L187.5 145L185.3 130.5L184.5 115.1L184 101L181.7 90.8Z" fill="#12dc10" fill-opacity="0.86"/><path d="M198.7 31.1L198 42.4L199 58.1L200.4 75.2L201.3 90.8L202 106.6L202.6 122.6L203.5 138L203.7 153.2L204.2 168.3L204.7 182.3L205.4 194.8L206.2 206.6L207.2 216.7L209.4 223.9L209.4 223.9L212.6 217.1L215.1 207.2L217.2 195.3L218.6 182.6L219.6 168.4L220.1 153L219.5 137.4L218.9 121.6L217.2 105.4L215 89.3L212 73.5L207.9 56.6L203.3 41.4L198.7 31.1Z" fill="#12dc10" fill-opacity="0.7"/><path d="M145.4 78L143.6 91.3L142.6 110.2L141.2 129.4L138.6 143.9L135 155.6L131.3 166.8L128.9 178.9L127.3 190.8L126 202.2L124.5 214.8L122.3 230.6L119 251.3L115.6 271.7L113.1 285.8L129.1 288.2L130.8 273.9L133.4 253.4L136.2 232.6L138.5 216.8L140.6 204.3L142.7 193.1L144.9 181.9L147.6 170.6L149.5 158.8L150.7 145.5L150.6 129.8L149.4 110.2L147.7 91.2L145.4 78Z" fill="#0cbc0a" fill-opacity="0.8"/><path d="M258.4 107.9L255.1 121.1L254.9 139.4L256.9 157L261.1 172.5L266.5 187L272.4 202.1L280.6 218L287.7 233.4L292.3 245.7L295.5 256.7L300.3 268.6L308.2 280.8L317.2 291.3L323.7 297.9L350.9 276L346 268.5L339.2 258.8L333.7 250.3L329.7 242.5L324.7 232L317.7 218.8L309.3 203.5L301.4 187.7L293.4 174L285.8 161.6L278.9 149.8L272.4 135.5L265.9 119.2L258.4 107.9Z" fill="#12dc10" fill-opacity="0.75"/><path d="M303.2 9.8L302.3 24.6L303.8 45.1L304.5 65.8L303.7 87.7L302.7 110.1L302.9 129.3L305.6 144.1L309.5 157.4L314.7 172.2L320.9 187.7L327 202.8L332.4 218.3L337.5 234.1L340.7 245.2L365.5 236.6L361 225.9L355.2 210.3L349.8 194.7L344.7 179.2L340 163.8L336.4 149.7L333.5 137.8L331 125.2L327 108.1L323.5 86.5L319.8 64.3L314.9 43.4L309.3 23.3L303.2 9.8Z" fill="#0cbc0a" fill-opacity="0.8"/><path d="M222.6 -1.6L224.5 8L226.8 22L229.2 37.6L231.4 52.9L233.7 69.3L235.8 85.7L237.3 100.5L238.1 113.2L239.9 125L241.9 136.5L244.2 148.4L246.6 161.4L249 173.1L252 181.2L252 181.2L254.2 172.8L255.2 160.9L256.2 147.8L257.4 135.9L258.8 124.3L259.6 111.9L258.2 98.2L255.7 82.7L252.5 66.2L249.4 50.1L247.1 35.1L245.2 19.5L243.8 5.5L243 -4.3Z" fill="#0cbc0a" fill-opacity="0.8"/><path d="M113.4 5.5L113.1 11.1L114.2 18.3L116 26.8L118.1 35.9L120.3 44.8L122.2 52.9L124.5 59.4L126.7 64.6L129.8 68.4L133.1 71.2L136.3 73L139.2 74L141.7 74.6L144.1 74.6L144.1 74.6L144.2 72L143.5 69.6L142.5 66.9L141.4 64.1L140.2 61.1L138.8 57.8L136.5 54L133.9 48.5L130.5 41.3L126.9 33L123.5 24.5L120.1 16.5L116.9 9.9L113.4 5.5Z" fill="#0a9a08" fill-opacity="0.6"/><path d="M6.8 5.5L5.1 8.3L4.4 11.2L4.3 14.3L4.7 17.6L5.4 21.1L6.4 24.6L8 28L9.4 31.5L11.3 34.6L13.4 37.5L15.7 39.9L18.1 41.9L20.7 43.4L23.9 43.9L23.9 43.9L25.6 41.2L26.3 38.3L26.4 35.1L26.1 31.8L25.4 28.4L24.4 24.8L22.7 21.5L21.3 18L19.3 14.9L17.2 12L15 9.5L12.6 7.5L10 6.1L6.8 5.5Z" fill="#0a9a08" fill-opacity="0.5"/><path d="M345.2 92.2L345.4 94.1L345.6 96.6L345.7 99.5L346 102.8L346.6 106.3L347.4 110L348.6 113.7L349.7 117.5L350.8 121.1L351.6 124.6L352.1 127.8L352.3 130.8L352.4 133.2L352.4 135.1L369.1 131.8L368.4 130L367.5 127.7L366.6 124.9L365.8 121.7L365.2 118.2L364.8 114.4L364.5 110.6L364 106.7L363.4 103L362.6 99.5L361.6 96.3L360.6 93.6L359.8 91.2L359.3 89.4Z" fill="#0cbc0a" fill-opacity="0.8"/><path d="M267 5.5L264.4 8L262.9 11L261.8 14.5L261.1 18.5L260.7 22.8L260.6 27.3L261.1 31.8L261.3 36.4L262.2 40.8L263.3 44.9L264.6 48.7L266.3 52L268.3 54.7L271.2 56.7L271.2 56.7L273.7 54.3L275.3 51.3L276.4 47.7L277.1 43.8L277.5 39.5L277.6 35L277.1 30.5L276.8 25.9L275.9 21.5L274.9 17.4L273.5 13.6L271.8 10.2L269.8 7.5L267 5.5Z" fill="#0a9a08" fill-opacity="0.6"/><path d="M151.8 240.1L149.2 242.2L147.5 244.9L146.3 248.1L145.4 251.7L144.9 255.6L144.5 259.7L144.9 263.9L144.9 268.1L144.7 272.2L144.4 276.1L144.2 279.6L144.2 282.8L144.5 285.4L145 287.4L162.9 286.6L163.2 284.6L163.3 281.9L163 278.8L162.5 275.2L161.8 271.4L161.3 267.3L160.9 263.2L160.8 259L160.1 255L159.2 251.1L158 247.6L156.5 244.5L154.6 242L151.8 240.1Z" fill="#0cbc0a" fill-opacity="0.8"/></g><g filter="url(#mb1b)"><path d="M6.4 296.2L13.3 286L23.9 271.8L36.3 256L48.2 241L57.6 228.8L64.8 218.6L70.3 209.2L74.8 200.2L77.4 190.3L80.3 179.4L83.8 167.7L87.2 156.2L89.5 146.1L88.7 137.7L88.7 137.7L81.5 142L74.7 149.8L67.4 159.1L59.8 168.4L52.4 176.5L45.4 183.7L40.2 191.5L35 200L29.2 209.8L21.7 222.2L11.4 237.8L0.1 254.1L-10.5 268.3L-18.3 277.8Z" fill="#12dc10" fill-opacity="0.42"/><path d="M62.2 292L65.1 287.3L69.4 280.9L74.6 273.3L80 265.1L85.2 256.6L89.7 248.4L93.3 241.2L96.1 234.8L98 228L99.7 221.7L101.3 215.9L102.5 210.7L102.8 206.1L101.5 201.7L101.5 201.7L97.1 203.2L93.6 206.2L90.1 210.2L86.4 214.7L82.2 219.7L77.7 224.7L73.9 230.4L69.7 236.9L64.9 244.8L60.1 253.4L55.6 262.2L51.4 270.3L47.9 277.2L45.2 282Z" fill="#12dc10" fill-opacity="0.42"/><path d="M49.5 14.1L49.3 20.8L51.3 29.4L54.3 39.1L57.6 49.2L60.6 59L64.1 69.1L68.7 78.9L73.1 88.3L78.1 96.2L82.5 103.1L86.6 110L90.3 116.6L93.6 122.1L97.2 125.8L97.2 125.8L98.6 120.8L98.7 114.3L98.3 106.4L97.3 97.7L95.3 88.6L91.9 79L86.6 69.6L81.2 60.3L75.2 51.8L69.9 43.6L64.5 34.6L59.4 25.8L54.5 18.5L49.5 14.1Z" fill="#12dc10" fill-opacity="0.42"/><path d="M34.5 69.5L34 76.6L34.3 86.7L34.8 98.3L35.2 109.8L35.2 119.9L35.3 129.3L35.9 138.3L36.4 147.1L37 155.9L37.2 165.2L36.5 175.7L35.5 186.1L34.5 195.2L34.5 201.7L34.5 201.7L36.8 195.6L39.1 186.7L41.5 176.4L43.7 165.9L45.1 156.2L45.7 146.9L45.2 137.7L44.4 128.5L42.9 119.3L41.4 109.3L39.7 97.8L38 86.4L36.4 76.4L34.5 69.5Z" fill="#12dc10" fill-opacity="0.42"/><path d="M181.7 90.8L178.5 100.3L175.7 114.3L173.7 130L173 145.4L173.4 161.8L174.2 178.3L175.4 193.9L176.8 208.1L178.4 221.2L179.2 233.3L178 245.9L174.3 260.7L169.8 275L166.6 285.1L177.9 288.9L181.6 279L186.9 264.6L191.6 248.5L193.3 233.6L192.3 219.7L190 206.3L187.9 192.5L186.2 177.1L183.9 160.9L182.2 145.1L181.5 130.3L182 114.9L182.5 100.8L181.7 90.8Z" fill="#30f62c" fill-opacity="0.5"/><path d="M198.7 31.1L199.5 42.1L201.6 57.7L203.7 74.7L205 90.4L205.7 106.3L206.2 122.4L206.8 137.9L207.2 153.2L207.9 168.3L208.4 182.4L208.8 195L208.8 206.7L208.7 216.8L209.4 223.9L209.4 223.9L211 217L212.5 207L213.8 195.2L214.9 182.6L215.9 168.4L216.5 153.1L216.2 137.6L215.3 121.8L213.4 105.7L211.2 89.7L208.6 74L205.3 57.1L201.8 41.7L198.7 31.1Z" fill="#30f62c" fill-opacity="0.5"/><path d="M145.4 78L144.5 91.3L144.2 110.2L143.6 129.5L142 144.4L139.2 156.6L135.9 167.9L133.1 179.7L131 191.3L129.3 202.7L127.5 215.2L125.4 231L122.5 251.8L119.7 272.2L117.7 286.5L124.5 287.5L126.7 273.3L129.9 252.8L133.1 232.2L135.6 216.4L137.4 203.8L139 192.6L140.6 181.1L142.9 169.5L145.3 157.9L147.2 145.1L148.1 129.7L147.8 110.2L146.8 91.2L145.4 78Z" fill="#12dc10" fill-opacity="0.42"/><path d="M258.4 107.9L257.9 120.6L259.4 138.4L262.4 155.2L267.1 169.9L273 183.8L279.6 198.5L287.9 214.3L295.6 229.5L301 242.1L304.6 252.9L309 263.8L316.1 275.2L324.3 285.7L330.3 292.6L344.3 281.3L338.9 274.1L331.3 264.3L325 255.1L320.7 246.3L316.1 235.7L309.8 222.7L302 207.2L294.2 191.3L286.9 177.1L279.8 164.2L273.4 151.6L267.9 136.5L263.1 119.7L258.4 107.9Z" fill="#30f62c" fill-opacity="0.5"/><path d="M303.2 9.8L303.8 24.3L306.3 44.7L308.2 65.4L309 87.4L309.6 109.6L311 128.1L313.4 142.3L316.5 155.4L320.7 170.2L326.2 185.8L331.9 201.1L337.6 216.5L343.4 232L347.4 242.9L358.7 239L355.2 227.9L350.1 212.1L344.9 196.4L339.4 181.1L333.9 165.8L329.3 151.7L325.8 139.5L322.9 126.4L320.1 108.7L318.2 86.8L316.1 64.6L312.4 43.8L307.8 23.6L303.2 9.8Z" fill="#12dc10" fill-opacity="0.42"/><path d="M228.4 -2.4L229.7 7.3L231.5 21.4L233.4 37L235.4 52.3L237.9 68.6L240.5 85L242.7 99.9L244 112.9L245.2 124.8L246.2 136.3L247.4 148.3L248.7 161.2L250.2 173.1L252 181.2L252 181.2L253 172.9L253.1 161L253 148L253 136.1L253.4 124.5L253.7 112.3L252.8 98.8L250.9 83.4L248.3 66.9L245.4 50.7L242.9 35.7L240.5 20.1L238.5 6.2L237.3 -3.6Z" fill="#12dc10" fill-opacity="0.42"/><path d="M348.2 91.6L348.7 93.4L349.4 95.8L350.1 98.6L350.8 101.8L351.5 105.4L352 109.1L352.6 112.9L353.2 116.8L353.9 120.5L354.6 124L355.5 127.2L356.3 130L356.9 132.3L357.3 134.2L364.2 132.8L363.9 130.9L363.6 128.5L363.2 125.6L362.8 122.3L362.1 118.8L361.4 115.1L360.4 111.4L359.5 107.6L358.6 104L357.8 100.5L357.2 97.2L356.8 94.3L356.5 91.9L356.3 90Z" fill="#12dc10" fill-opacity="0.42"/><path d="M151.8 240.1L150.7 242.2L150.2 244.8L149.7 248L149.2 251.6L148.6 255.5L148.1 259.6L148.2 263.8L148.4 267.9L148.7 272L149.2 275.8L149.5 279.4L149.8 282.5L149.9 285.2L149.8 287.2L158.1 286.8L157.8 284.8L157.7 282.2L157.6 279L157.7 275.4L157.8 271.6L157.7 267.5L157.6 263.3L157.2 259.2L156.4 255.1L155.5 251.3L154.6 247.8L153.9 244.7L153.1 242L151.8 240.1Z" fill="#12dc10" fill-opacity="0.42"/></g><g filter="url(#mb2)"><ellipse cx="222.17" cy="43.92" rx="4.69" ry="7.68" fill="#98ff90" opacity="0.95" transform="rotate(0 222.17 43.92)"/><ellipse cx="339.45" cy="69.51" rx="5.97" ry="7.68" fill="#30f62c" opacity="0.9" transform="rotate(0 339.45 69.51)"/><ellipse cx="307.46" cy="197.44" rx="6.4" ry="8.53" fill="#98ff90" opacity="0.95" transform="rotate(-10 307.46 197.44)"/><ellipse cx="222.17" cy="225.16" rx="5.97" ry="6.82" fill="#30f62c" opacity="0.9" transform="rotate(30 222.17 225.16)"/><ellipse cx="0" cy="176.12" rx="7.68" ry="11.94" fill="#30f62c" opacity="0.9" transform="rotate(0 0 176.12)"/><ellipse cx="247.76" cy="122.81" rx="2.13" ry="4.26" fill="#30f62c" opacity="0.9" transform="rotate(0 247.76 122.81)"/><ellipse cx="179.53" cy="107.89" rx="9.38" ry="11.09" fill="#12dc10" opacity="0.86" transform="rotate(0 179.53 107.89)"/><ellipse cx="183.8" cy="216.63" rx="10.23" ry="14.5" fill="#12dc10" opacity="0.86" transform="rotate(0 183.8 216.63)"/><ellipse cx="269.08" cy="146.27" rx="10.23" ry="12.79" fill="#12dc10" opacity="0.86" transform="rotate(0 269.08 146.27)"/><ellipse cx="326.65" cy="169.72" rx="11.94" ry="17.06" fill="#12dc10" opacity="0.86" transform="rotate(-20 326.65 169.72)"/><ellipse cx="38.81" cy="114.29" rx="4.26" ry="6.4" fill="#12dc10" opacity="0.86" transform="rotate(0 38.81 114.29)"/></g><rect x="-120" y="-120" width="595.2" height="524" filter="url(#fib3)" opacity="0.4" transform="rotate(-3 177.6 142)"/><rect x="0" y="0" width="355.2" height="284" filter="url(#grain)" opacity="0.5"/><g fill="none" stroke-linecap="round" filter="url(#mb3)"><path d="M202.6 179.6h0M290.2 78.8h0M231.5 253h0M322.8 53h0M231.5 175.3h0M178.8 274.4h0M187.6 126.5h0M335.2 180.5h0M107 87.8h0M176.2 14.9h0M215.8 209h0M151.4 240.4h0M329.6 157.8h0M242 33.3h0M19.9 278.3h0M101 60.6h0M318.5 212.9h0M43.8 91.4h0M86.2 77.4h0M2.3 149h0M108.1 112h0M65.9 31.3h0M11.7 247.9h0M265.5 158.9h0M44 42.3h0M20.5 78.2h0M72.1 54.8h0M232.2 130h0M168.2 101.7h0M191.5 223h0M109.4 19.9h0M170.9 107.7h0M277.2 31.5h0M310 4.2h0M112 252.4h0M249.4 46.4h0M175.8 173.9h0M11.9 24.8h0M164.3 119.9h0M180.1 74h0M311.3 273.1h0M171.2 5.8h0M141.1 228.1h0M115.4 30h0M65.8 202.1h0M220.9 81.3h0M221.5 216h0M343.2 236.1h0M154.1 229.9h0M328.7 246.8h0M266.6 166.6h0M181.7 241.5h0M222 204.8h0M81 26.2h0M96 165.7h0M203.5 56.4h0M67 269.8h0M25.4 263.1h0M274.2 162.9h0M353.6 193.1h0M2.4 266.7h0M146.8 260.3h0M289.1 39.2h0M14.1 5.9h0M277.3 224.8h0M81 32h0M130.2 227h0M263.1 246.2h0M343.9 214.3h0M296.8 4.7h0M2.3 244.9h0M219.8 92.8h0M120.5 140.8h0M159.8 57.4h0M29.1 57.7h0M45.6 28.5h0M147.2 37h0M284.2 154.7h0M163.4 181.5h0M83.4 6.6h0M27.9 95.8h0M128.3 71.7h0M108.8 236.8h0M3.1 127.5h0M136 80.1h0M257.5 63.7h0M15 45.3h0M347.5 98.2h0M41.6 275.7h0M229.1 271.6h0M117.7 230h0M14.7 67.5h0M282.3 146.5h0M280.4 109.6h0M311.3 22h0M221.5 53.6h0M70.8 250.8h0M100.9 207.4h0M322.3 178h0M83.3 189.8h0M337.7 227.5h0M157.7 113.4h0M35 218.3h0M56.2 62h0M136.3 135.4h0M62.2 120.6h0M269.3 27.5h0M48.1 148.4h0M321.1 260.6h0M202.2 26h0M310.4 281.9h0M319.4 150.8h0M135.9 166.7h0M280.8 282.4h0M175.3 143.9h0M110.3 153.4h0M193.1 80.4h0M162.8 260h0M83.8 72.1h0M108.2 243.8h0M285.7 55.3h0M160 233.8h0M87.3 170.9h0M309.4 265.1h0M124.5 33.9h0M11 89.9h0M292.6 184.6h0M220.6 234.8h0M116.7 184.6h0M124.6 82.1h0M40.7 224h0M319.8 8.8h0M254.5 17.7h0M148.3 89.9h0M320.7 123h0M181.4 101.1h0M90.5 69.1h0M22.1 4.1h0M195.4 209.7h0M238.2 73.6h0M351.1 22.4h0M153.3 94.8h0M254 37.3h0M62.9 230h0M132.3 85.6h0M209.2 88.5h0M210.3 18h0M190.1 165.8h0M113.6 246.4h0M329.7 186.6h0M146.2 47.1h0M58.6 151.2h0M71.1 181.6h0M269.9 3.3h0M119.7 205.4h0M342.9 89.2h0M268 98.5h0M334.1 49.3h0M236.2 23.5h0M324.4 217.4h0" stroke="#2a5ad8" stroke-opacity="0.62" stroke-width="7.52"/><path d="M195.2 113.6h0M223.8 184.1h0M264.7 266.1h0M220.5 248.8h0M263 108h0M285 103.7h0M294.3 249.7h0M245.9 141.5h0M102.5 181.5h0M317 101.8h0M74.8 215h0M323 58.5h0M196 236.3h0M88 224.7h0M16.5 59.4h0M194.2 215.3h0M175.4 195.3h0M127.7 107.2h0M185 0.6h0M71.2 99.7h0M233.2 55.9h0M86.5 281.3h0M231.2 116.7h0M278.1 203h0M290.2 158.7h0M218.3 27.5h0M152.2 111.4h0M90.9 103.6h0M314.7 63.2h0M60.1 6.6h0M324.3 155.5h0M9.4 150.9h0M61.9 137.3h0M335.7 277.8h0M141.2 222.3h0M175.1 22.8h0M350.9 108h0M249.5 232.4h0M310 96.6h0M134.2 175.7h0M131.7 58.4h0M65.8 185.4h0M283.5 268.7h0M79.5 194.5h0M58.4 182.2h0M234.3 214.5h0M310.7 165.7h0M80.1 46.2h0M304.3 233h0M287.4 114.4h0M325.8 252.5h0M2.2 2.1h0M312.1 237.6h0M274.9 125.1h0M113.4 272.8h0M6.3 138.2h0M313.4 199h0M315.5 77.3h0M199.1 278h0M47 122.2h0M352.1 45.6h0M274.8 212.7h0M277.3 37.5h0M351.6 250.7h0M264.3 22.6h0M170.4 229.5h0M258.7 49.2h0M117.1 129h0M163.1 281h0M331.6 0.4h0M219.6 39.1h0M307.1 149.9h0M22.8 219.6h0M165.3 220.8h0M176.3 113h0M164.2 164.8h0M243.3 256.2h0M131.9 273.1h0M249.6 108.9h0M199.6 102.9h0M231.9 7.1h0M4.1 24.4h0M120.5 74.7h0M297.5 106.8h0M325.5 79h0M122.5 270.2h0M40.7 19.5h0M246.8 95.7h0M37.2 26.3h0M114.7 88.2h0M235.8 281h0M211.1 246.1h0M352.3 260.2h0M46.8 209.8h0M274.9 108.1h0M11.3 215.9h0M268.5 208.8h0M15.4 267.3h0M339.4 100.1h0M213.8 221.6h0M146.6 198.4h0M339 106.2h0M323.2 39.8h0M210.8 236.6h0M143.9 80.5h0M98.6 103.4h0M138.7 117.6h0M78.9 74.6h0M97.8 51.6h0M84.7 234.9h0M282.6 199.8h0M207 149.2h0M285.9 49.5h0M267.2 129.7h0M300.5 28.5h0M317.4 108.4h0M165.3 127.7h0M323.7 45.5h0M343.8 81.2h0M240.9 264.3h0M241.7 242.3h0M31 274.6h0M14.5 192h0M292.7 217.7h0M258.4 172.2h0M350.6 63.7h0M323.3 229h0M68.1 131.6h0M154.7 42.3h0M302.8 243h0M266.7 9.8h0M259.2 263.5h0M341 199.7h0M263.6 85.9h0M274.2 88.9h0M94.4 93.6h0M109.7 10.9h0M53.3 78.6h0M77 5.7h0M261.3 234.4h0M203.6 167.5h0M61.2 256h0M190.5 236.5h0M20.2 248.9h0M186.2 86.3h0M92.3 153.7h0M35.8 234.8h0M145.2 254.7h0M38.5 69.4h0M223.8 267.4h0M222.1 102.4h0M287.2 131.7h0M209.5 129.2h0M337.8 174.1h0M38.4 182.7h0M337.4 62.3h0M193.5 1.5h0M107.9 185h0M177.6 188.2h0M91.2 262.4h0" stroke="#2a5ad8" stroke-opacity="0.57" stroke-width="7"/><path d="M296.6 47.9h0M147.8 184.3h0M318.8 48.6h0M105.2 146.4h0M242.1 131.6h0M251.1 281.3h0M23.5 114.7h0M281.6 230.3h0M294.1 226.8h0M190.2 36.6h0M248.6 72.7h0M9 0.6h0M121.1 106.1h0M193.7 126.6h0M181.9 179.8h0M238.2 230.6h0M200.3 153.4h0M94.5 245.8h0M68.2 78.2h0M293.5 129h0M54.1 255.2h0M211.8 5.4h0M122.6 97.6h0M305.2 163.3h0M169.3 251.5h0M201.2 266.7h0M169.1 179.1h0M279.5 158.7h0M167 16.7h0M217.1 67.3h0M94.3 43.4h0M208.6 102.4h0M92.2 217.9h0M257.4 43.6h0M50.4 100h0M282.2 88h0M80.2 122.2h0M113.4 113.6h0M349.5 215.3h0M78 144.3h0M54 278.4h0M76.9 63.8h0M122.2 111.7h0M145.2 31.8h0M223 196.6h0M79.5 38.3h0M12.4 51.9h0M333.5 232.9h0M56.4 73.3h0M69.6 19.6h0M8.6 70.8h0M124.9 244h0M36.2 125.1h0M310.3 222.1h0M64 147.1h0M306.3 192.5h0M130.2 95h0M31.7 256.4h0M68.1 166.8h0M247.9 171.4h0M283 78h0M237 60.2h0M251.7 214.1h0M165.4 207.1h0M240.4 4.3h0M81.8 262.4h0M69.8 121.9h0M301.7 80.3h0M304.7 12.6h0M103.6 238.7h0M232.8 34.9h0M174 149.8h0M10.4 264.8h0M246.9 186.6h0M34 135.6h0M215 276h0M250.3 269.4h0M248.7 123.7h0M332.5 11.4h0M31.7 14.4h0M159.7 226.2h0M282.6 176.6h0M161.2 93.7h0M32.7 263.9h0M46.3 248.1h0M28.8 172.4h0M308.2 137.2h0M8.4 43.1h0M311.3 55.9h0M250.8 181.8h0M275.1 183.2h0M26 166.9h0M204.1 188.8h0M103.6 280.1h0M212.1 119.2h0M60.3 52.2h0M97 194.4h0M146.5 230.7h0M344.7 190h0M163.3 109h0M142.5 276.2h0M260.1 76.2h0M153.9 122h0M163.1 268.9h0M225.9 141.1h0M46.2 110.4h0M286.9 225.7h0M11.9 181h0M59 114h0M8.6 243.2h0M157.9 188h0M133.9 222.8h0M201.1 132.4h0M201.9 272.3h0M117.7 4.3h0M117.7 214.8h0M293.1 199.9h0M309.8 38.5h0M146.7 116.7h0M102.8 120.7h0M330.8 211.2h0M231.3 71.2h0M124.5 88.3h0M88.7 125.6h0M82.1 139.4h0M277.4 246.8h0M206.1 264h0M102.5 195.7h0M140.8 58.6h0M222.5 46.1h0M252.1 208.5h0M7.5 107.6h0M231.5 183.5h0M220 4.2h0M265 38.9h0M6.4 213.4h0M154 55.2h0M309.8 120.8h0M58.3 168.1h0M318.6 159.9h0M125 60.4h0M51.1 117.8h0M149.3 268.1h0M177 84.9h0M72.1 105.8h0M275.4 24.4h0M215.3 263.3h0M308.3 206h0M324.9 127.3h0M77.7 208.4h0M214.3 44.3h0M269.3 223h0M102.2 152.1h0M9.3 116.3h0M96.9 281.4h0M122.1 283.9h0M132.8 32.5h0M134.5 18.4h0M173.2 46.3h0M114.9 281.9h0" stroke="#2a5ad8" stroke-opacity="0.5" stroke-width="6.48"/><path d="M265.1 155.5h0M273.3 153.2h0M271.1 156.8h0M263 155.6h0M270.5 157.9h0M278 153h0M270.7 158h0M267.7 160.2h0M270.6 165.4h0M263.7 153.8h0M123.4 262.1h0M129.3 259.8h0M124.1 264.2h0M128.6 259.7h0M137 271.2h0M128 254.9h0M130.9 264.7h0M135.8 264.6h0M130.1 263.5h0M132.3 261.7h0M62.9 99h0M62.5 99.9h0M63.3 95.1h0M61.8 98.2h0M64.1 96.4h0M52.4 57h0M52.6 51.1h0M52.4 52.4h0M52.8 52.7h0M53.4 50.4h0M204.2 125.4h0M209.2 130.2h0M208.8 135.7h0M209.2 129.5h0M211.8 130.3h0M210.6 128.2h0M209.8 126.7h0" stroke="#2a5ad8" stroke-opacity="0.59" stroke-width="7"/></g></g>
<clipPath id="mc4"><rect x="0" y="0" width="356.2" height="285.1"/></clipPath><g transform="translate(478 419.8)" clip-path="url(#mc4)"><rect x="0" y="0" width="356.2" height="285.1" fill="#023c02"/><g filter="url(#mb1)"><path d="M-14.6 116.8L-10.6 126.9L-5.3 141.7L0.5 157.6L6.1 171.6L12.1 184.5L18.5 196.6L24.9 208.1L31.1 218.7L36.9 228.8L42.6 239.6L48.7 252.4L55.8 268.6L62.5 284.4L67 295.4L93.3 282.9L87.6 272.4L79.6 257.2L71.4 241.5L64.9 228.6L59.7 217.4L55 206.7L50.1 195.3L44.6 183.3L38.5 171.2L32.2 159.3L25.8 146.7L18.9 131.9L12.7 117.6L8.6 107.5Z" fill="#12dc10" fill-opacity="0.75"/><path d="M61 56.7L61.5 66.8L64.3 80.6L67.1 95.1L68.7 107.7L69.8 120L71.2 132.1L73.7 143.7L75.8 154.5L78.5 164.7L80.6 175.2L82.3 186.9L83.8 200.9L85.4 214.4L88.7 223.9L88.7 223.9L92.2 214.5L94.2 201L95.5 186.5L96.1 174.2L96.3 162.9L96.3 151.7L95.2 140.3L93.8 128.2L90.6 115.8L86.3 103.3L80.9 90.7L74.1 77.1L67.2 64.7L61 56.7Z" fill="#0cbc0a" fill-opacity="0.8"/><path d="M158.7 0.9L153.4 20L146.1 46.1L140 68.7L134.4 90.3L128.4 111.9L121.2 134.9L114.7 155.4L110.1 169.1L106 181.2L101.7 197.5L97.4 216.1L93.8 238.3L90.9 266.8L89.2 288.3L113 289.9L114.2 268.6L115.9 240.7L118.3 219.7L121.5 202L125.3 187.1L129.5 176.3L135.2 162.7L142.9 142.3L151.1 118.9L157.5 96.3L162.5 74.2L167.5 51.4L173.6 25.2L178.2 5.9Z" fill="#12dc10" fill-opacity="0.7"/><path d="M209 16.2L202.9 30.8L196.3 51.8L189.5 71.4L182.7 89.1L175.8 106.6L169.3 124.4L163.4 142.7L157.7 161.5L152.9 180.1L148.5 198.1L144.8 217.7L142.3 242.2L141 269.5L140.3 288.9L164.2 289.4L164.3 270.1L164.5 243.3L165.8 220.2L168.4 202L172.3 185L177.5 167.6L184 149.8L191 131.6L196 112.9L200.1 94.1L203.5 75L206.4 54L208.8 32L209 16.2Z" fill="#12dc10" fill-opacity="0.7"/><path d="M245.1 1.1L241.3 13.4L236.3 31.2L231.2 50.1L227.1 66.1L223 81.1L219 95.8L215.2 110.3L212 124.3L209.9 138.1L208.6 151.6L207.8 165.1L207.7 179.8L208.3 193.2L210.2 202.6L210.2 202.6L213.7 193.6L216.6 180.6L219.5 166.5L222.3 153.6L225.1 140.7L228 127.6L230.8 114.1L234.6 100.3L239.3 86.1L244.4 71.2L249.4 55.1L254.7 36.3L259.4 18.3L262.4 5.8Z" fill="#12dc10" fill-opacity="0.7"/><path d="M248.6 99.4L244.9 108.3L241.7 121.5L239.1 135.8L237.9 148.5L238 160.3L239.3 171.5L242.3 183L246.1 194.5L250 205.6L252.6 217.1L253.3 232L252.3 252.7L250.6 273.7L249.5 288.5L273.3 289.8L273.9 275L274.6 253.6L274.4 231.6L272.7 214.2L269.3 200.2L265.9 188.6L263.4 177.8L261.7 166.9L258.9 156.8L256 146.9L253.6 135.8L252.1 122.1L250.9 108.8L248.6 99.4Z" fill="#12dc10" fill-opacity="0.75"/><path d="M348.8 147.7L343.5 155.8L336.5 167.7L329.7 180.2L324.6 190.3L320.5 198.8L316.3 207.3L311.5 217L305.6 228.5L299.2 240.7L293.1 252.1L287.9 261.4L283.4 269.8L279.9 277.1L278 282.4L304.5 295.9L307.7 291.1L311.5 284L315.7 275L319.9 264.8L324.7 252.6L329.8 240L335 229.1L340 220.6L345.1 213.2L350.7 205.3L356.9 195.4L364 183L370.4 170.7L374.4 161.9Z" fill="#12dc10" fill-opacity="0.75"/><path d="M353.3 14.7L348.2 18.3L340.6 23.5L331.5 29.9L321.9 37L313.1 44.6L304.9 52.5L297.1 60.9L289.8 69.7L284.8 79.9L280.8 90.9L277.3 103.3L274.6 115.4L272.8 126L273.3 134.3L273.3 134.3L280.2 129.6L287.2 121.5L294.9 112.3L302.7 103.4L310 95.9L316.8 88.4L322.1 79.9L327.4 71.9L333 64.9L339.2 59.2L347.2 54.1L355.9 49.7L364.1 46.1L370 43.3Z" fill="#0cbc0a" fill-opacity="0.65"/><path d="M18.3 22.6L20.2 29.1L23.8 34L28.5 39.1L34.1 44.6L40.5 50L48 54.4L56.7 54.8L65.3 53.5L72.7 48.7L79.3 43.5L85.2 38.6L90.2 34.1L94 29.4L95.9 22.6L95.9 22.6L90.8 17.6L84.9 15.7L78.5 14.5L71.8 12.9L65.3 10.7L60 8L56.7 7.4L53.7 7.1L48.6 9.4L42.3 11.9L35.6 14L29.2 15.8L23.4 17.9L18.3 22.6Z" fill="#0a9a08" fill-opacity="0.6"/><path d="M31.1 39.7L32.7 46.7L36 56.3L39.9 67.2L43.7 77.8L46.5 86.9L48.9 94.7L51.4 101.8L53.6 109.4L55.9 118.1L58.2 129.3L60.5 143.5L62.8 158.6L65.1 172L67.8 181.2L67.8 181.2L68.6 171.7L68.3 158.1L67.4 142.8L66.2 128.1L64.8 116.5L63.4 107.1L61.4 99L59.3 91.2L56.2 83.3L52 74.3L46.7 64.1L40.9 54L35.6 45.4L31.1 39.7Z" fill="#0cbc0a" fill-opacity="0.8"/><path d="M275.1 -5.8L274 -3.9L272.9 -1.2L272 2L271.2 5.7L270.4 9.8L269.4 14.1L268.1 18.4L266.5 22.6L265.6 26.9L265 31L264.8 35L265.1 38.6L265.9 41.9L267.8 44.8L267.8 44.8L271 43.6L273.6 41.4L276 38.7L278.2 35.4L280.2 31.7L282.1 27.7L283.3 23.4L284.8 19.2L286.6 15.2L288.3 11.4L289.9 7.9L291.1 4.7L291.8 2L292.1 -0.2Z" fill="#0cbc0a" fill-opacity="0.8"/><path d="M316 12.8L317.8 13.3L320.2 14L322.9 14.9L325.7 16.4L328.4 18.5L331 21L333.5 23.8L336.2 26.5L339 28.8L341.9 30.5L344.9 31.7L347.6 32.6L349.9 33.4L351.5 34.2L367.4 11L366.1 9.8L364.6 7.9L362.8 5.7L360.6 3.3L357.9 1.2L354.8 -0.6L351.3 -2.1L347.8 -3.4L344.5 -5L341.6 -6.8L339.2 -8.8L337.3 -11L335.9 -13L334.8 -14.5Z" fill="#0cbc0a" fill-opacity="0.6"/><path d="M116.4 240.1L114.6 242.4L113.7 245.2L113.2 248.6L112.8 252.4L112.4 256.5L112 260.8L112 265.2L112 269.6L112.2 273.8L112.5 277.9L113.1 281.6L113.7 284.8L114.3 287.6L114.7 289.6L126.7 288.6L126.7 286.5L126.8 283.7L126.9 280.4L126.8 276.6L126.4 272.6L125.8 268.4L125.1 264L124.4 259.7L123.2 255.5L122.1 251.6L121 247.9L120 244.7L118.6 242L116.4 240.1Z" fill="#0cbc0a" fill-opacity="0.8"/><path d="M193.2 210.2L191.9 213.7L191.1 218.2L190.4 223.5L189.8 229.6L189.5 236.1L189.5 243L190.2 250L190.8 257L191.3 263.8L191.5 270.3L191.6 276.3L191.6 281.6L191.6 286L191.7 289.4L203.2 288.8L202.9 285.4L202.4 281L201.9 275.7L201.3 269.8L200.9 263.3L200.6 256.4L200.5 249.4L200.4 242.4L199.6 235.5L198.6 229.1L197.4 223.2L196.1 217.9L194.8 213.5L193.2 210.2Z" fill="#0a9a08" fill-opacity="0.6"/><path d="M-4.6 227.1L-3.1 230.9L-0.7 235.9L2.5 241.7L6.1 247.8L9.7 253.9L12.9 259.6L15.2 264.5L16.8 269L17.9 273.5L18.7 278L19.5 282.2L20.4 286L21.4 289.1L22.5 291.5L39.7 286.7L39.5 284.3L38.9 281.1L37.8 277.3L36.2 273L34.3 268.3L32.2 263.4L30 258.3L27.6 252.7L25 246.3L22.2 239.6L19.2 233L16.3 227.1L13.6 222.3L11.4 218.9Z" fill="#0cbc0a" fill-opacity="0.5"/></g><g filter="url(#mb1b)"><path d="M-9.7 114.8L-5.4 124.8L0.7 139.3L7.4 154.7L13.6 168L19.8 180.6L25.8 192.9L31.5 204.8L36.7 215.9L41.8 226.4L47.3 237.3L53.8 250L61.8 265.7L69.4 281.1L74.7 291.8L85.7 286.5L80.7 275.7L73.6 260.1L66.3 244L60.2 230.9L54.8 219.9L49.4 209.5L43.6 198.6L37.3 187L30.8 175.1L24.7 162.8L19 149.7L13 134.3L7.5 119.7L3.7 109.5Z" fill="#30f62c" fill-opacity="0.5"/><path d="M61 56.7L62.9 66.3L66.7 79.7L70.5 94L73.2 106.6L75.2 118.9L77.1 131.1L79.3 142.8L81.2 153.8L83 164.3L84.5 174.9L85.6 186.8L86.3 200.9L87.1 214.5L88.7 223.9L88.7 223.9L90.5 214.5L91.7 201L92.3 186.6L92.2 174.4L91.8 163.3L91 152.5L89.5 141.2L87.9 129.2L85.2 116.8L81.8 104.4L77.4 91.8L71.7 78L65.8 65.3L61 56.7Z" fill="#12dc10" fill-opacity="0.42"/><path d="M163.6 2.2L158.4 21.3L151.4 47.4L145.6 70.1L140.3 91.8L134.3 113.7L126.9 136.9L120.1 157.3L115.2 171L110.9 182.7L106.6 198.6L102.6 217L99.2 238.9L96.7 267.3L95.2 288.7L106.9 289.5L108.4 268.1L110.5 240.1L113.1 218.8L116.5 200.9L120.4 185.6L124.5 174.4L129.8 160.8L137.2 140.4L145.2 117.1L151.6 94.8L156.8 72.9L162.2 50.1L168.6 24L173.3 4.7Z" fill="#30f62c" fill-opacity="0.5"/><path d="M209 16.2L204.3 31.1L198.7 52.3L193 72.3L187.1 90.3L181 108.2L175 126.3L168.8 144.6L162.8 163.1L157.8 181.3L153.5 199L150 218.3L147.8 242.5L146.8 269.6L146.4 289L158.1 289.2L158.5 269.9L159 243L160.6 219.5L163.5 201.1L167.4 183.8L172.3 166L178.6 147.9L185.3 129.7L190.8 111.3L195.7 92.8L200 74.1L203.9 53.5L207.3 31.7L209 16.2Z" fill="#30f62c" fill-opacity="0.5"/><path d="M249.6 2.3L246.4 14.8L241.7 32.7L236.5 51.5L231.8 67.5L227 82.3L222.4 96.8L218.5 111L215.4 125L213.6 138.7L212.2 152.1L211.1 165.5L210.3 180L209.9 193.3L210.2 202.6L210.2 202.6L212.2 193.5L214 180.4L216.1 166.1L218.7 153.1L221.5 140.1L224.6 126.9L227.6 113.3L231.2 99.3L235.3 84.8L239.7 69.8L244.1 53.7L249.3 34.8L254.3 16.9L257.9 4.5Z" fill="#30f62c" fill-opacity="0.5"/><path d="M248.6 99.4L246.4 108.4L244.3 121.6L242.7 135.8L242.5 148.1L243.4 159.4L245.1 170.3L247.9 181.6L251.2 193L254.9 204.2L257.6 216.4L258.5 231.9L257.8 253L256.4 274L255.6 288.8L267.2 289.5L268.1 274.7L269.1 253.4L269.3 231.7L267.7 214.9L264.4 201.6L260.7 190.1L257.9 179.2L255.8 168.1L253.4 157.7L251.4 147.3L250 135.8L249.5 121.9L249.4 108.7L248.6 99.4Z" fill="#30f62c" fill-opacity="0.5"/><path d="M355.3 151.3L350.9 159.9L344.5 172.1L337.6 184.6L331.9 194.5L326.7 202.4L321.7 210.3L316.4 219.5L310.8 230.9L305.1 243.5L300 255.4L295.7 265.2L291.6 274L288 281.2L285.2 286.1L297.3 292.2L299.6 287.1L303.3 279.8L307.9 271.2L313 261.5L318.8 249.8L324.7 237.6L330.1 226.5L334.6 217.6L338.9 209.6L343.4 201.1L349 191L356 178.5L363 166.5L368 158.3Z" fill="#30f62c" fill-opacity="0.5"/><path d="M358 22.8L352.7 26.2L344.8 30.6L335.4 35.9L325.8 42.1L317.4 49L309.9 56.8L303.1 65.5L296.9 74.6L291.8 84.3L287.1 94.5L282.3 105.8L277.9 117L274.6 126.9L273.3 134.3L273.3 134.3L278.4 128.7L283.9 119.9L290 109.7L296.4 99.8L303 91.5L309.7 83.5L316 75.3L322.4 67.5L328.6 60.5L335.2 54.1L343.3 48.1L351.8 42.6L359.6 38.2L365.2 35.1Z" fill="#12dc10" fill-opacity="0.42"/><path d="M31.1 39.7L33.4 46.4L37.2 55.7L41.6 66.4L45.8 76.9L49 86L51.6 93.8L54 101.1L56.1 108.8L58.2 117.7L60.2 129L62.3 143.3L64.2 158.5L66 171.9L67.8 181.2L67.8 181.2L67.7 171.8L66.9 158.2L65.7 143L64.2 128.4L62.6 116.9L60.9 107.7L58.8 99.7L56.6 92.1L53.7 84.3L49.9 75.2L45 64.9L39.7 54.6L34.8 45.7L31.1 39.7Z" fill="#12dc10" fill-opacity="0.42"/><path d="M279.5 -4.3L279 -2.2L278.3 0.5L277.2 3.7L275.9 7.3L274.4 11.1L272.8 15.2L271.3 19.4L269.9 23.7L269.1 28L268.5 32.2L268 36L267.6 39.5L267.4 42.4L267.8 44.8L267.8 44.8L269.6 43.1L271.1 40.6L272.8 37.6L274.7 34.2L276.7 30.5L278.7 26.6L280.1 22.4L281.4 18.1L282.6 13.9L283.7 9.9L284.7 6.2L285.8 3L286.8 0.4L287.7 -1.6Z" fill="#12dc10" fill-opacity="0.42"/><path d="M321.3 5L322.9 5.9L324.8 7.2L326.9 9L329.3 11.1L331.9 13.4L334.8 15.5L337.8 17.6L341 19.4L344.2 21.1L347.2 22.7L349.9 24.4L352.1 26L353.9 27.6L355.1 29L363.9 16.2L362.2 15.6L360.1 14.5L357.7 13L355.2 11.1L352.6 8.9L349.9 6.5L347 4.2L344 2L341 0.1L338 -1.5L335.1 -2.9L332.7 -4.3L330.8 -5.5L329.4 -6.7Z" fill="#12dc10" fill-opacity="0.42"/><path d="M116.4 240.1L115.6 242.3L115.2 245.1L115 248.4L115 252.2L115.1 256.2L115.2 260.5L115.6 264.9L115.8 269.2L116 273.5L116.2 277.6L116.5 281.3L116.8 284.6L117.2 287.3L117.5 289.4L123.8 288.9L123.8 286.7L123.7 284L123.5 280.7L123.1 277L122.6 272.9L122 268.7L121.5 264.3L121.1 260L120.5 255.8L119.9 251.7L119.2 248.1L118.5 244.8L117.6 242.1L116.4 240.1Z" fill="#12dc10" fill-opacity="0.42"/><path d="M-0.4 225L1.6 228.5L4.3 233.3L7.3 239.2L10.5 245.5L13.5 252L16.1 258.1L18.3 263.2L20.1 267.8L21.8 272.3L23.3 276.7L24.7 280.8L25.8 284.5L26.6 287.7L27.1 290.2L35.1 288L34.3 285.7L33.4 282.5L32.6 278.7L31.6 274.3L30.4 269.5L28.8 264.6L26.9 259.6L24.4 254.2L21.2 248.2L17.8 241.8L14.4 235.5L11.3 229.7L8.9 224.7L7.3 221.1Z" fill="#12dc10" fill-opacity="0.42"/></g><g filter="url(#mb2)"><ellipse cx="2.13" cy="124.95" rx="7.68" ry="15.35" fill="#30f62c" opacity="0.9" transform="rotate(-20 2.13 124.95)"/><ellipse cx="118.55" cy="167.59" rx="7.68" ry="11.94" fill="#30f62c" opacity="0.9" transform="rotate(20 118.55 167.59)"/><ellipse cx="248.61" cy="137.74" rx="7.68" ry="13.65" fill="#30f62c" opacity="0.9" transform="rotate(0 248.61 137.74)"/><ellipse cx="152.67" cy="257.14" rx="7.68" ry="19.62" fill="#30f62c" opacity="0.9" transform="rotate(0 152.67 257.14)"/><ellipse cx="56.72" cy="237.95" rx="9.38" ry="15.35" fill="#12dc10" opacity="0.86" transform="rotate(-25 56.72 237.95)"/><ellipse cx="154.8" cy="101.49" rx="7.68" ry="11.94" fill="#12dc10" opacity="0.86" transform="rotate(15 154.8 101.49)"/><ellipse cx="327.51" cy="218.76" rx="7.68" ry="13.65" fill="#12dc10" opacity="0.86" transform="rotate(30 327.51 218.76)"/></g><rect x="-120" y="-120" width="596.2" height="525.1" filter="url(#fib4)" opacity="0.4" transform="rotate(-12 178.1 142.55)"/><rect x="0" y="0" width="356.2" height="285.1" filter="url(#grain)" opacity="0.5"/><g fill="none" stroke-linecap="round" filter="url(#mb3)"><path d="M145.5 154.5h0M307.1 50.4h0M80.2 8.3h0M41.6 2.5h0M55.8 146.5h0M352.5 197.7h0M134.8 115.5h0M246.2 93h0M26.2 239.9h0M219.9 31.9h0M25 27h0M341.6 30.7h0M222.7 276.4h0M12.5 110h0M170 261.4h0M67.2 73.7h0M88.3 14h0M240 232.8h0M155.4 10.8h0M254.2 210.1h0M232.8 93.7h0M295.8 179.8h0M210.1 154.1h0M83.1 129.9h0M282.8 194.9h0M123.2 233.7h0M299 12.4h0M56 63.6h0M5.2 214.8h0M230.4 154.9h0M354.3 101.7h0M70.9 31.8h0M121.2 238.9h0M216.1 16.9h0M63.9 183.2h0M104.6 184h0M96.9 1.9h0M97.6 196.2h0M223.2 54.9h0M299.4 236.8h0M99.5 274h0M93.5 18.5h0M182.5 246.6h0M173.7 81h0M106.8 114.9h0M194.9 268.8h0M25.9 71.9h0M336.1 187.4h0M26.5 125.9h0M231.9 260h0M30 257.2h0M274.5 79.4h0M190 235.3h0M86.6 200h0M199.5 20.8h0M96.8 117.6h0M49.7 269.1h0M89.1 66.1h0M113.7 92.8h0M176.9 259.2h0M334.1 194.8h0M285.9 108.9h0M342.9 211.7h0M244.6 128h0M78.6 197.1h0M262.1 1.5h0M110.9 152.7h0M75.5 36.9h0M66.9 4.5h0M43 111.6h0M178.6 182h0M109.8 36.6h0M327.8 180.1h0M241.8 196.4h0M114.6 169.3h0M113.6 186.1h0M291.3 4.6h0M283.4 33.4h0M5.7 21.5h0M200.3 244.5h0M329.6 45h0M152.8 268.5h0M316.1 235.6h0M88.4 78.3h0M53.1 75.1h0M144.1 227.2h0M235.1 49h0M63.7 128.5h0M317.2 134.7h0M312.7 141.5h0M134.6 130.5h0M285.7 79.4h0M68.9 238.6h0M171.1 182.9h0M62 11.8h0M80.2 122.4h0M11.8 77.8h0M335.9 124.6h0M1.6 228.8h0M107.5 49.3h0M227.2 189.5h0M115.5 202.6h0M311.9 96.8h0M177.1 1.6h0M210.7 83.3h0M232.4 216.1h0M121.3 190.2h0M335.8 48.2h0M284.1 136.1h0M336.1 20.8h0M136.4 46.2h0M92.3 253.8h0M189.1 102h0M342.9 15h0M198.7 237.4h0M176.8 269.1h0M118.2 65.3h0M314.8 152h0M10.7 2.9h0M5.6 208h0M227.5 32.2h0M283.7 221.3h0M224.8 164.8h0M154.6 197.4h0M138.5 264.3h0M210.4 191.8h0M329.7 280.3h0M189.8 32.1h0M187 261.9h0M74 72.8h0M98 66.2h0M289.3 152.7h0M30.4 145.8h0M247.9 7.6h0M248 114.1h0M4.9 70.4h0M68.6 162.2h0M152 120h0M117.4 11.2h0M116.3 180.7h0" stroke="#2a70b6" stroke-opacity="0.5" stroke-width="7.74"/><path d="M191.5 167.6h0M271.6 203.4h0M234.5 274.4h0M109.2 208.6h0M102.7 170.8h0M323 129.8h0M219 281.5h0M174.5 68.2h0M339.9 192.2h0M116 78.4h0M348.8 159.3h0M277.2 68.5h0M299.5 201.4h0M326.9 162.1h0M51.4 259.1h0M107.3 263.3h0M195.7 114.1h0M185.1 106.2h0M27.8 13.1h0M124.1 6.4h0M142.7 181h0M225.9 260.6h0M124.9 272h0M4.2 45.1h0M148.7 223.7h0M194.5 0h0M91.9 53h0M229.2 131.2h0M351.9 271.3h0M109.5 9.3h0M30.6 85.4h0M146.1 215.1h0M41.2 180.7h0M135.2 220.9h0M242.4 54.6h0M251.4 105.3h0M205.5 68h0M306.1 81.2h0M246 273.7h0M35.4 249.9h0M42.1 264.5h0M110.5 146.7h0M346 41.8h0M27.9 198h0M16.2 36h0M90.7 3.1h0M122.2 16.2h0M331.8 145.5h0M11.1 213.5h0M84.8 251.2h0M132.3 234.9h0M332.3 275.1h0M73.5 106.1h0M303.9 231.6h0M147.9 194.6h0M158.2 237.9h0M102.4 214.4h0M54.2 168h0M95 9h0M33.6 191.4h0M237.2 187.7h0M154 168.1h0M283 280.7h0M139.3 213.2h0M289.1 240.8h0M238.6 65.3h0M289.2 159.8h0M264.1 212.4h0M73.8 20.4h0M278.1 190.1h0M6 13.3h0M150.5 186h0M43.8 198.1h0M122.6 184.8h0M52.6 195.7h0M221.8 19.8h0M40.4 238.3h0M92.8 264.7h0M348 231.1h0M49.3 29.5h0M295.1 118.7h0M11.5 29.7h0M101.3 70.7h0M13 204.5h0M20.6 82.1h0M248.7 213.7h0M60.6 176.8h0M287 210.6h0M263.9 118.2h0M255.4 259.1h0M219.4 41.4h0M3.9 85h0M132.9 276.5h0M262.2 124h0M204.4 118.5h0M320.4 176.1h0M129.3 266.7h0M311.9 128.8h0M173.6 250.8h0M255.4 191.6h0M56.7 249h0M175 32.4h0M267.8 199h0M345.8 281.7h0M221.8 244.3h0M324.9 145.7h0M299.6 160.7h0M269.2 230.1h0M251.9 173.2h0M301.2 49.9h0M291.2 282.9h0M171.2 25.9h0M245.2 22.6h0M283.1 231.3h0M135.3 257.8h0M39.3 96.6h0M141.1 253.3h0M294 29.6h0M164 240.9h0M349.1 131.3h0M57.4 223.8h0M68.5 169.9h0M111.6 19.2h0M7.9 118.1h0M16.5 181.9h0M308.7 89.8h0M214.4 47.7h0M242.9 284.3h0M118.2 196h0M55.4 285h0M192.2 23.9h0M228.7 20.9h0M119.2 273.4h0M184.5 1.5h0M62.2 215.7h0M96 190.9h0M196.2 248.5h0M120.8 0.6h0M12.3 136.1h0M199.4 230.3h0" stroke="#2a70b6" stroke-opacity="0.46" stroke-width="7.2"/><path d="M225.1 173h0M304.5 7.6h0M117.2 257.3h0M190.5 148.5h0M306.7 273.9h0M349.3 95.3h0M190.7 40h0M278.1 174.9h0M172.8 147.7h0M130.6 57.4h0M162.3 197.7h0M141.6 50h0M176 130.8h0M210.7 93.3h0M245.6 45.1h0M236.1 114.7h0M274.3 240.3h0M231.2 2.1h0M24.6 58h0M252 143.1h0M211.5 2.9h0M28.4 160h0M60.2 92.1h0M13.7 175.8h0M1.8 132.3h0M355.4 169.3h0M201.3 110.2h0M216 200.6h0M129.8 2.4h0M333 78.3h0M17.9 259.1h0M123.3 246.2h0M321.4 168.5h0M250.9 83.2h0M257.6 275.3h0M148.6 17.5h0M264.2 85.6h0M241.5 11.6h0M316.6 77.2h0M182.1 81.4h0M240.1 259.1h0M39 106.2h0M260.1 237.6h0M306.7 112.5h0M240.7 162.8h0M26.8 49h0M219 80.8h0M346.1 24.3h0M324.2 112.8h0M217.3 102.2h0M337.1 229.2h0M238.7 143.7h0M25.7 133h0M163.1 24.5h0M105.1 250.6h0M222.3 214.2h0M328 255.2h0M317.2 278.6h0M327.6 197h0M183.7 11.7h0M334.2 135.6h0M108.7 102.9h0M268.6 219.6h0M144.6 35.6h0M216.1 243.9h0M143.9 41.6h0M66 148.4h0M241.8 101.1h0M42.2 86.1h0M71.9 261.5h0M79.7 77.7h0M107.2 57.9h0M30 228.3h0M8.6 156.9h0M10 271.6h0M45 102.2h0M327 246.6h0M322.9 50.5h0M53.5 100.3h0M15.3 165.3h0M1.2 91.8h0M195.8 74.8h0M221.5 128h0M146.6 146.2h0M298 285.1h0M77.7 244.3h0M268.3 153.4h0M158.9 218.9h0M348.3 147.7h0M9.6 171.2h0M206.9 77.6h0M276.6 114.7h0M307.4 17.7h0M331.7 231.3h0M21.4 226.2h0M285.6 45.8h0M223.8 85.9h0M305.1 264.3h0M331.2 52.9h0M45.9 64.4h0M194.3 215h0M204.1 284.8h0M266.6 276.4h0M341.6 167.8h0M33 1.2h0M46.6 79.2h0M131.1 202.7h0M138.9 106h0M80.8 112.6h0M125.7 54.3h0M326.4 93.8h0M264 183.8h0M347.4 58.3h0M21.8 234.1h0M325.4 28.6h0M141.7 67h0M101.7 96.9h0M207.5 133.5h0M177 46h0M170.1 237.5h0M78.9 44.3h0M154.5 48.6h0M159.6 174.9h0M230.7 85.3h0M115.8 283.7h0M276.4 152h0M238.2 89.1h0M66.1 226.8h0M308.4 176.5h0M182.3 152.7h0M227.1 39.2h0M301.2 103.5h0M142.7 84.2h0M106.6 1.7h0M308.2 1h0M126.8 75.7h0M252.3 57.8h0M182.6 171.7h0M193.4 153.8h0M157.1 39h0" stroke="#2a70b6" stroke-opacity="0.4" stroke-width="6.66"/><path d="M165.7 95.6h0M165.9 96.7h0M156.6 87h0M157.8 94.5h0M159.3 96.9h0M158 85.9h0M162.5 100.4h0M164.6 90.1h0M152.9 91.4h0M159.9 92.3h0M39.2 188.9h0M39.8 195.7h0M33.8 196.3h0M35.9 192.3h0M39.5 196h0M37.7 192.1h0M33.8 194.4h0M252.1 178.1h0M243.5 170h0M237.6 176.8h0M238.7 187.1h0M242.3 178.1h0M247.6 185.8h0M250.3 172.4h0M241.1 182.9h0M243.1 176.1h0M241.1 177.9h0M54 240.1h0M52.4 237.8h0M51.9 238h0M52.1 244.2h0M53.3 237.9h0M52.6 239.3h0M52.5 240.1h0M330.5 221.7h0M320.2 222.6h0M331.2 211h0M325.8 218.4h0M326.1 218.1h0M319.5 214.5h0M319.7 224.3h0M317.6 213.6h0M324.3 223.9h0M150.7 231.5h0M150.8 224.2h0M152.2 227.9h0M150.9 233h0M159.5 230.7h0M152.7 231.7h0M146.2 234.9h0" stroke="#2a70b6" stroke-opacity="0.47" stroke-width="7.2"/></g><text x="291.6" y="248.2" font-size="22" text-anchor="middle" font-weight="bold" fill="#f2f2f2" textLength="75" lengthAdjust="spacingAndGlyphs">100 μM</text><line x1="257" y1="261.8" x2="313.4" y2="261.8" stroke="#eee" stroke-width="4" /></g>
<text x="474.7" y="92.1" font-size="27.5" text-anchor="middle" textLength="85" lengthAdjust="spacingAndGlyphs">D2-HG</text>
<text x="1" y="420.7" font-size="27.3" textLength="94.5" lengthAdjust="spacingAndGlyphs">D2hgdh</text>
<text x="291.9" y="103.3" font-size="50" text-anchor="middle" font-weight="bold" textLength="26" lengthAdjust="spacingAndGlyphs">-</text>
<text x="54.9" y="288.1" font-size="50" text-anchor="middle" font-weight="bold" textLength="26" lengthAdjust="spacingAndGlyphs">-</text>
</g>
<text x="656.6" y="104.6" font-size="45" text-anchor="middle" stroke="#000" stroke-width="0.7">+</text><text x="52.3" y="590.2" font-size="45" text-anchor="middle" stroke="#000" stroke-width="0.7">+</text>
<g id="charts">
<path d="M966.8 370.3V311.6H1007.8V370.3" fill="#fff" stroke="#000" stroke-width="2.4"/>
<path d="M1029.2 370.3V341.2H1070.2V370.3" fill="#fff" stroke="#7a3a1e" stroke-width="2.4"/>
<path d="M1091.6 370.3V317.2H1132.6V370.3" fill="#fff" stroke="#92e95a" stroke-width="2.4"/>
<path d="M1154.9 370.3V331.9H1195.8V370.3" fill="#fff" stroke="#4a22e0" stroke-width="2.4"/>
<line x1="945.7" y1="188.3" x2="945.7" y2="371.3" stroke="#000" stroke-width="2.2" />
<line x1="940" y1="370.3" x2="1218.4" y2="370.3" stroke="#000" stroke-width="2" />
<line x1="939.2" y1="370.3" x2="945.7" y2="370.3" stroke="#000" stroke-width="2" />
<text transform="translate(937.2 375.34)" font-size="14" text-anchor="end" font-weight="bold" stroke="#000" stroke-width="0.25">0</text>
<line x1="939.2" y1="334.1" x2="945.7" y2="334.1" stroke="#000" stroke-width="2" />
<text transform="translate(937.2 339.14)" font-size="14" text-anchor="end" font-weight="bold" stroke="#000" stroke-width="0.25">50</text>
<line x1="939.2" y1="297.9" x2="945.7" y2="297.9" stroke="#000" stroke-width="2" />
<text transform="translate(937.2 302.94)" font-size="14" text-anchor="end" font-weight="bold" stroke="#000" stroke-width="0.25">100</text>
<line x1="939.2" y1="261.7" x2="945.7" y2="261.7" stroke="#000" stroke-width="2" />
<text transform="translate(937.2 266.74)" font-size="14" text-anchor="end" font-weight="bold" stroke="#000" stroke-width="0.25">150</text>
<line x1="939.2" y1="225.5" x2="945.7" y2="225.5" stroke="#000" stroke-width="2" />
<text transform="translate(937.2 230.54)" font-size="14" text-anchor="end" font-weight="bold" stroke="#000" stroke-width="0.25">200</text>
<line x1="939.2" y1="189.3" x2="945.7" y2="189.3" stroke="#000" stroke-width="2" />
<text transform="translate(937.2 194.34)" font-size="14" text-anchor="end" font-weight="bold" stroke="#000" stroke-width="0.25">250</text>
<line x1="987" y1="370.3" x2="987" y2="376.8" stroke="#000" stroke-width="2.2" />
<text transform="translate(991.5 387.3) rotate(-45)" font-size="14.5" text-anchor="end" font-weight="bold" xml:space="preserve" stroke="#000" stroke-width="0.3">NTC</text>
<line x1="1049.7" y1="370.3" x2="1049.7" y2="376.8" stroke="#000" stroke-width="2.2" />
<text transform="translate(1054.2 387.3) rotate(-45)" font-size="14.5" text-anchor="end" font-weight="bold" xml:space="preserve" stroke="#000" stroke-width="0.3">D2-HG</text>
<line x1="1112.3" y1="370.3" x2="1112.3" y2="376.8" stroke="#000" stroke-width="2.2" />
<text transform="translate(1116.8 387.3) rotate(-45)" font-size="14.5" text-anchor="end" font-weight="bold" xml:space="preserve" stroke="#000" stroke-width="0.3">D2hgdh</text>
<line x1="1175.4" y1="370.3" x2="1175.4" y2="376.8" stroke="#000" stroke-width="2.2" />
<text transform="translate(1179.9 387.3) rotate(-45)" font-size="14.5" text-anchor="end" font-weight="bold" xml:space="preserve" stroke="#000" stroke-width="0.3">D2-HG + D2hgdh</text>
<g fill="#000">
</g>
<path d="M984.85 115.5V111.1H1176.25V115.5" fill="none" stroke="#000" stroke-width="2.7" stroke-linejoin="miter"/><text transform="translate(1083.5 108.9)" font-size="15" text-anchor="middle" stroke="#000" stroke-width="0.3">****</text>
<path d="M985.25 146.7V142.3H1110.45V146.7" fill="none" stroke="#000" stroke-width="2.7" stroke-linejoin="miter"/><text transform="translate(1053 139.4)" font-size="15" text-anchor="middle">NS</text>
<path d="M985.25 172.8V168.4H1053.45V172.8" fill="none" stroke="#000" stroke-width="2.7" stroke-linejoin="miter"/><text transform="translate(1019.8 166.2)" font-size="15" text-anchor="middle" stroke="#000" stroke-width="0.3">****</text>
<path d="M1052.45 192.6V188.2H1178.05V192.6" fill="none" stroke="#000" stroke-width="2.7" stroke-linejoin="miter"/><text transform="translate(1118.3 186)" font-size="15" text-anchor="middle" stroke="#000" stroke-width="0.3">***</text>
<text transform="translate(908 280) rotate(-90)" font-size="13.5" text-anchor="middle" font-weight="bold" xml:space="preserve" textLength="153" lengthAdjust="spacingAndGlyphs">Myotube  Width  (μM)</text><path d="M979.87 347.81Q983.78 352.61 986.98 354.21Q990.18 352.61 994.08 347.81M971.34 343.55Q979.94 351.01 986.98 353.5Q994.01 351.01 1002.61 343.55M971.34 338.57Q979.94 345.5 986.98 347.81Q994.01 345.5 1002.61 338.57M971.06 333.6Q979.82 339.99 986.98 342.13Q994.14 339.99 1002.9 333.6M972.06 327.91Q980.26 333.78 986.98 335.73Q993.69 333.78 1001.9 327.91M971.06 322.23Q979.82 328.84 986.98 331.04Q994.14 328.84 1002.9 322.23M971.06 312.28Q979.82 318.89 986.98 321.09Q994.14 318.89 1002.9 312.28M971.06 300.2Q979.82 306.81 986.98 309.01Q994.14 306.81 1002.9 300.2M971.06 288.12Q979.82 294.73 986.98 296.93Q994.14 294.73 1002.9 288.12M971.63 274.62Q980.07 279.95 986.98 281.72Q993.89 279.95 1002.33 274.62M972.77 266.09Q980.58 270.14 986.98 271.49Q993.37 270.14 1001.19 266.09M976.32 258.56h0M983.43 260.4h0M990.53 259.69h0M997.64 258.27h0M981.29 251.45h0M986.98 247.61h0M992.66 249.74h0M976.03 241.22h0M997.92 240.79h0M986.98 231.55h0M986.98 218.19h0M986.98 354.21h0M970.63 336.44h0M1003.32 336.44h0M986.98 332.18h0M986.98 299.49h0M986.98 310.86h0M986.98 273.91V353.5M984.78 276.75V347.81M989.18 276.75V347.81" stroke="#000" stroke-width="7.4" stroke-linecap="round" stroke-linejoin="round" fill="none"/><path d="M1038.57 359.18Q1044.82 363.45 1049.94 364.87Q1055.06 363.45 1061.31 359.18M1036.44 354.92Q1043.86 358.12 1049.94 359.18Q1056.02 358.12 1063.44 354.92M1033.74 344.97Q1042.65 351.15 1049.94 353.21Q1057.23 351.15 1066.14 344.97M1033.74 333.6Q1042.65 339.78 1049.94 341.84Q1057.23 339.78 1066.14 333.6M1033.74 322.94Q1042.65 329.12 1049.94 331.18Q1057.23 329.12 1066.14 322.94M1034.31 313.7Q1042.91 319.03 1049.94 320.81Q1056.98 319.03 1065.57 313.7M1040.28 305.17h0M1044.26 300.63h0M1055.2 302.62h0M1060.88 305.88h0M1045.96 309.44h0M1054.49 310.15h0M1049.94 367.71h0M1049.94 363.45h0M1049.94 322.23h0M1045.96 317.96h0M1054.49 317.96h0M1049.94 317.96V366.29M1047.74 320.81V360.6M1052.14 320.81V360.6" stroke="#000" stroke-width="7.4" stroke-linecap="round" stroke-linejoin="round" fill="none"/><path d="M1095.7 344.97Q1104.69 351.58 1112.05 353.78Q1119.4 351.58 1128.39 344.97M1095.7 333.6Q1104.69 340.21 1112.05 342.41Q1119.4 340.21 1128.39 333.6M1095.7 322.23Q1104.69 328.84 1112.05 331.04Q1119.4 328.84 1128.39 322.23M1095.7 311.57Q1104.69 318.18 1112.05 320.38Q1119.4 318.18 1128.39 311.57M1095.7 300.2Q1104.69 306.81 1112.05 309.01Q1119.4 306.81 1128.39 300.2M1095.7 288.83Q1104.69 295.44 1112.05 297.64Q1119.4 295.44 1128.39 288.83M1099.26 283.85Q1106.29 288.12 1112.05 289.54Q1117.81 288.12 1124.84 283.85M1097.13 266.09Q1105.33 272.48 1112.05 274.62Q1118.76 272.48 1126.97 266.09M1096.84 256.14h0M1107.08 260.4h0M1117.73 258.56h0M1128.39 255.71h0M1107.08 239.8h0M1118.16 244.77h0M1112.48 225.87h0M1111.62 354.92h0M1099.97 283.14h0M1124.84 282.43h0M1107.79 279.59h0M1117.02 278.88h0M1112.05 349.23h0M1112.05 279.59V353.5M1109.85 282.43V347.81M1114.25 282.43V347.81" stroke="#000" stroke-width="7.4" stroke-linecap="round" stroke-linejoin="round" fill="none"/><path d="M1158.24 354.21Q1167.46 359 1175.01 360.6Q1182.56 359 1191.78 354.21M1158.24 342.13Q1167.46 348.52 1175.01 350.65Q1182.56 348.52 1191.78 342.13M1158.24 330.76Q1167.46 337.15 1175.01 339.28Q1182.56 337.15 1191.78 330.76M1158.24 320.81Q1167.46 327.2 1175.01 329.33Q1182.56 327.2 1191.78 320.81M1158.24 312.28Q1167.46 318.68 1175.01 320.81Q1182.56 318.68 1191.78 312.28M1160.8 298.07Q1168.62 301.26 1175.01 302.33Q1181.41 301.26 1189.22 298.07M1169.61 288.83h0M1179.56 285.28h0M1186.67 290.25h0M1175.3 282.15h0M1164.64 274.62h0M1169.61 271.06h0M1186.38 273.91h0M1180.98 261.11h0M1174.58 363.45h0M1174.58 357.76h0M1163.93 292.38h0M1185.24 293.8h0M1175.01 350.65h0M1175.01 305.17V362.02M1172.81 308.02V356.34M1177.21 308.02V356.34" stroke="#000" stroke-width="7.4" stroke-linecap="round" stroke-linejoin="round" fill="none"/><path d="M1045.96 326.49h8.5M1049.94 336.16v3.5M1049.94 346.39v3.5" stroke="#7a3a1e" stroke-width="1.8" fill="none"/><path d="M1112.48 290.96v3M1112.48 301.19v3.5M1112.48 312.99v3M1112.48 324.36v3M1112.48 335.73v2.5" stroke="#92e95a" stroke-width="2.6" fill="none"/><path d="M1171.03 313.27h8.5M1175.01 321.52v2.5M1175.01 332.89v2.5M1175.01 343.83v2.5" stroke="#4a22e0" stroke-width="2.4" fill="none"/>
<path d="M1321.95 353.1V331.25H1368.35V353.1" fill="#fff" stroke="#000" stroke-width="2.9"/>
<path d="M1393.45 353.1V236.85H1439.55V353.1" fill="#fff" stroke="#6e2f17" stroke-width="2.9"/>
<path d="M1465.45 353.1V343.15H1511.25V353.1" fill="#fff" stroke="#92e95a" stroke-width="2.9"/>
<path d="M1536.95 353.1V289.95H1582.75V353.1" fill="#fff" stroke="#3a1ea6" stroke-width="2.9"/>
<path d="M1404.7 201.6H1427.7M1404.7 270.9H1427.7M1416.2 201.6V270.9" fill="none" stroke="#6e2f17" stroke-width="1.8" />
<path d="M1548.3 271.5H1571.3M1548.3 306.3H1571.3M1559.8 271.5V306.3" fill="none" stroke="#3a1ea6" stroke-width="1.8" />
<path d="M1477 338.97H1500M1477 345.14H1500M1488.5 338.97V345.14" fill="none" stroke="#92e95a" stroke-width="1.8" />
<line x1="1297" y1="168.6" x2="1297" y2="354.1" stroke="#000" stroke-width="2.2" />
<line x1="1291.4" y1="353.1" x2="1609" y2="353.1" stroke="#000" stroke-width="2" />
<line x1="1290.5" y1="353.1" x2="1297" y2="353.1" stroke="#000" stroke-width="2" />
<text transform="translate(1288.5 357.92) scale(1.22 1)" font-size="13.4" text-anchor="end" font-weight="bold" stroke="#000" stroke-width="0.25">0</text>
<line x1="1290.5" y1="307.23" x2="1297" y2="307.23" stroke="#000" stroke-width="2" />
<text transform="translate(1288.5 312.05) scale(1.22 1)" font-size="13.4" text-anchor="end" font-weight="bold" stroke="#000" stroke-width="0.25">2</text>
<line x1="1290.5" y1="261.35" x2="1297" y2="261.35" stroke="#000" stroke-width="2" />
<text transform="translate(1288.5 266.17) scale(1.22 1)" font-size="13.4" text-anchor="end" font-weight="bold" stroke="#000" stroke-width="0.25">4</text>
<line x1="1290.5" y1="215.47" x2="1297" y2="215.47" stroke="#000" stroke-width="2" />
<text transform="translate(1288.5 220.3) scale(1.22 1)" font-size="13.4" text-anchor="end" font-weight="bold" stroke="#000" stroke-width="0.25">6</text>
<line x1="1290.5" y1="169.6" x2="1297" y2="169.6" stroke="#000" stroke-width="2" />
<text transform="translate(1288.5 174.42) scale(1.22 1)" font-size="13.4" text-anchor="end" font-weight="bold" stroke="#000" stroke-width="0.25">8</text>
<line x1="1345" y1="353.1" x2="1345" y2="359.6" stroke="#000" stroke-width="2.2" />
<text transform="translate(1351 370.1) scale(1.22 1) rotate(-45)" font-size="13.8" text-anchor="end" font-weight="bold" xml:space="preserve" stroke="#000" stroke-width="0.3">NTC</text>
<line x1="1416.2" y1="353.1" x2="1416.2" y2="359.6" stroke="#000" stroke-width="2.2" />
<text transform="translate(1422.2 370.1) scale(1.22 1) rotate(-45)" font-size="13.8" text-anchor="end" font-weight="bold" xml:space="preserve" stroke="#000" stroke-width="0.3">D2-HG</text>
<line x1="1488.5" y1="353.1" x2="1488.5" y2="359.6" stroke="#000" stroke-width="2.2" />
<text transform="translate(1494.5 370.1) scale(1.22 1) rotate(-45)" font-size="13.8" text-anchor="end" font-weight="bold" xml:space="preserve" stroke="#000" stroke-width="0.3">D2hgdh</text>
<line x1="1559.8" y1="353.1" x2="1559.8" y2="359.6" stroke="#000" stroke-width="2.2" />
<text transform="translate(1565.8 370.1) scale(1.22 1) rotate(-45)" font-size="13.8" text-anchor="end" font-weight="bold" xml:space="preserve" stroke="#000" stroke-width="0.3">D2-HG +  D2hgdh</text>
<g fill="#000">
<rect x="1411.71" y="175.73" width="9.03" height="7.4"/>
<rect x="1411.71" y="225.56" width="9.03" height="7.4"/>
<rect x="1411.71" y="244.76" width="9.03" height="7.4"/>
<rect x="1418.34" y="252.99" width="9.03" height="7.4"/>
<rect x="1405.77" y="263.27" width="9.03" height="7.4"/>
<ellipse cx="1326.4" cy="328" rx="4.51" ry="3.7"/>
<ellipse cx="1337.14" cy="330.74" rx="4.51" ry="3.7"/>
<ellipse cx="1344.91" cy="334.17" rx="4.51" ry="3.7"/>
<ellipse cx="1353.6" cy="331.43" rx="4.51" ry="3.7"/>
<ellipse cx="1362.97" cy="328.46" rx="4.51" ry="3.7"/>
<path d="M1465.21 341.93L1475.14 341.93L1470.17 335.27Z"/>
<path d="M1474.35 345.13L1484.28 345.13L1479.31 338.47Z"/>
<path d="M1483.49 350.39L1493.42 350.39L1488.46 343.73Z"/>
<path d="M1492.18 346.96L1502.11 346.96L1497.14 340.3Z"/>
<path d="M1501.32 342.39L1511.25 342.39L1506.29 335.73Z"/>
<path d="M1554.81 259.9L1564.74 259.9L1559.77 266.56Z"/>
<path d="M1548.18 280.47L1558.11 280.47L1553.14 287.13Z"/>
<path d="M1561.21 284.58L1571.14 284.58L1566.17 291.24Z"/>
<path d="M1561.21 296.93L1571.14 296.93L1566.17 303.59Z"/>
<path d="M1548.18 305.61L1558.11 305.61L1553.14 312.27Z"/>
</g>
<path d="M1333.95 103.9V98.3H1551.15V103.9" fill="none" stroke="#000" stroke-width="2.7" stroke-linejoin="miter"/><text transform="translate(1447.3 98.3) scale(1.22 1)" font-size="13.6" text-anchor="middle" stroke="#000" stroke-width="0.3">*</text>
<path d="M1333.95 130.2V124.6H1481.65V130.2" fill="none" stroke="#000" stroke-width="2.7" stroke-linejoin="miter"/><text transform="translate(1402.7 118.9) scale(1.22 1)" font-size="12.7" text-anchor="middle" font-weight="bold">NS</text>
<path d="M1335.55 149.1V143.5H1414.15V149.1" fill="none" stroke="#000" stroke-width="2.7" stroke-linejoin="miter"/><text transform="translate(1372.6 143.5) scale(1.22 1)" font-size="13.6" text-anchor="middle" stroke="#000" stroke-width="0.3">****</text>
<path d="M1418.75 164.5V158.9H1551.15V164.5" fill="none" stroke="#000" stroke-width="2.7" stroke-linejoin="miter"/><text transform="translate(1482.3 158.9) scale(1.22 1)" font-size="13.6" text-anchor="middle" stroke="#000" stroke-width="0.3">**</text>
<text x="1470.9" y="69.7" font-size="17.5" text-anchor="middle" font-weight="bold" textLength="183" lengthAdjust="spacingAndGlyphs">2-Hydroxyglutarate</text>
<text transform="translate(1269.5 261.7) scale(1.22 1) rotate(-90)" font-size="17.66" text-anchor="middle" font-weight="bold" stroke="#000" stroke-width="0.45">Metabolites (Fold changed)</text>
<path d="M1710.25 347.4V209.15H1756.05V347.4" fill="#fff" stroke="#000" stroke-width="3.3"/>
<path d="M1782.65 347.4V293.55H1828.55V347.4" fill="#fff" stroke="#6e2f17" stroke-width="3.3"/>
<path d="M1854.95 347.4V271.85H1900.75V347.4" fill="#fff" stroke="#92e95a" stroke-width="3.3"/>
<path d="M1927.35 347.4V291.45H1973.25V347.4" fill="#fff" stroke="#3a1ea6" stroke-width="3.3"/>
<path d="M1721.8 204.11H1744.8M1721.8 211.43H1744.8M1733.3 204.11V211.43" fill="none" stroke="#000" stroke-width="1.8" />
<path d="M1793.8 288H1816.8M1793.8 296.46H1816.8M1805.3 288V296.46" fill="none" stroke="#6e2f17" stroke-width="1.8" />
<path d="M1866.2 265.6H1889.2M1866.2 276.11H1889.2M1877.7 265.6V276.11" fill="none" stroke="#92e95a" stroke-width="1.8" />
<path d="M1938.5 288H1961.5M1938.5 293.26H1961.5M1950 288V293.26" fill="none" stroke="#3a1ea6" stroke-width="1.8" />
<line x1="1685" y1="136.8" x2="1685" y2="348.4" stroke="#000" stroke-width="2.2" />
<line x1="1678.9" y1="347.4" x2="2000" y2="347.4" stroke="#000" stroke-width="2" />
<line x1="1678.5" y1="347.4" x2="1685" y2="347.4" stroke="#000" stroke-width="2" />
<text transform="translate(1676.5 352.91)" font-size="15.3" text-anchor="end" font-weight="bold" stroke="#000" stroke-width="0.25">0.0</text>
<line x1="1678.5" y1="277.53" x2="1685" y2="277.53" stroke="#000" stroke-width="2" />
<text transform="translate(1676.5 283.04)" font-size="15.3" text-anchor="end" font-weight="bold" stroke="#000" stroke-width="0.25">0.5</text>
<line x1="1678.5" y1="207.67" x2="1685" y2="207.67" stroke="#000" stroke-width="2" />
<text transform="translate(1676.5 213.17)" font-size="15.3" text-anchor="end" font-weight="bold" stroke="#000" stroke-width="0.25">1.0</text>
<line x1="1678.5" y1="137.8" x2="1685" y2="137.8" stroke="#000" stroke-width="2" />
<text transform="translate(1676.5 143.31)" font-size="15.3" text-anchor="end" font-weight="bold" stroke="#000" stroke-width="0.25">1.5</text>
<line x1="1733.3" y1="347.4" x2="1733.3" y2="353.9" stroke="#000" stroke-width="2.2" />
<text transform="translate(1739.3 364.4) rotate(-45)" font-size="16.3" text-anchor="end" font-weight="bold" xml:space="preserve" stroke="#000" stroke-width="0.3">NTC</text>
<line x1="1805.3" y1="347.4" x2="1805.3" y2="353.9" stroke="#000" stroke-width="2.2" />
<text transform="translate(1811.3 364.4) rotate(-45)" font-size="16.3" text-anchor="end" font-weight="bold" xml:space="preserve" stroke="#000" stroke-width="0.3">D2-HG</text>
<line x1="1877.7" y1="347.4" x2="1877.7" y2="353.9" stroke="#000" stroke-width="2.2" />
<text transform="translate(1883.7 364.4) rotate(-45)" font-size="16.3" text-anchor="end" font-weight="bold" xml:space="preserve" stroke="#000" stroke-width="0.3">D2hgdh</text>
<line x1="1950" y1="347.4" x2="1950" y2="353.9" stroke="#000" stroke-width="2.2" />
<text transform="translate(1956 364.4) rotate(-45)" font-size="16.3" text-anchor="end" font-weight="bold" xml:space="preserve" stroke="#000" stroke-width="0.3">D2-HG +  D2hgdh</text>
<g fill="#000">
<ellipse cx="1720.46" cy="207.54" rx="4" ry="4"/>
<ellipse cx="1730.29" cy="208.46" rx="4" ry="4"/>
<ellipse cx="1738.29" cy="208.46" rx="4" ry="4"/>
<ellipse cx="1745.83" cy="196.11" rx="4" ry="4"/>
<ellipse cx="1727.09" cy="221.26" rx="4" ry="4"/>
<rect x="1794.86" y="277.14" width="8" height="8"/>
<rect x="1807.89" y="280.11" width="8" height="8"/>
<rect x="1788.69" y="290.17" width="8" height="8"/>
<rect x="1801.26" y="298.4" width="8" height="8"/>
<rect x="1814.29" y="297.71" width="8" height="8"/>
<path d="M1873.31 253.94L1882.11 253.94L1877.71 246.74Z"/>
<path d="M1854.57 277.94L1863.37 277.94L1858.97 270.74Z"/>
<path d="M1867.14 281.6L1875.94 281.6L1871.54 274.4Z"/>
<path d="M1879.71 280.46L1888.51 280.46L1884.11 273.26Z"/>
<path d="M1892.06 275.89L1900.86 275.89L1896.46 268.69Z"/>
<path d="M1933.43 283.66L1942.23 283.66L1937.83 290.86Z"/>
<path d="M1939.6 280.91L1948.4 280.91L1944 288.11Z"/>
<path d="M1952.17 281.37L1960.97 281.37L1956.57 288.57Z"/>
<path d="M1958.34 289.37L1967.14 289.37L1962.74 296.57Z"/>
<path d="M1945.54 295.77L1954.34 295.77L1949.94 302.97Z"/>
</g>
<path d="M1722.35 135.9V130.3H1941.05V135.9" fill="none" stroke="#000" stroke-width="2.7" stroke-linejoin="miter"/><text transform="translate(1822.9 131.4)" font-size="16.3" text-anchor="middle" stroke="#000" stroke-width="0.3">****</text>
<path d="M1722.35 166.6V161H1871.15V166.6" fill="none" stroke="#000" stroke-width="2.7" stroke-linejoin="miter"/><text transform="translate(1792 149.5)" font-size="13.5" text-anchor="middle" stroke="#000" stroke-width="0.3">****</text>
<path d="M1723.35 187.6V182H1803.25V187.6" fill="none" stroke="#000" stroke-width="2.7" stroke-linejoin="miter"/><text transform="translate(1761 183.1)" font-size="16.3" text-anchor="middle" stroke="#000" stroke-width="0.3">****</text>
<path d="M1807.75 206.1V200.5H1941.05V206.1" fill="none" stroke="#000" stroke-width="2.7" stroke-linejoin="miter"/><text transform="translate(1874.3 196.6)" font-size="12.7" text-anchor="middle" font-weight="bold">NS</text>
<text x="1815.3" y="72" font-size="18" text-anchor="middle" font-weight="bold" textLength="136.5" lengthAdjust="spacingAndGlyphs">Keto-glutarate</text>
<text transform="translate(1644.5 242.9) rotate(-90)" font-size="20.2" text-anchor="middle" font-weight="bold">Metabolites (Fold changed)</text>
<path d="M941.95 769.7V748.35H988.85V769.7" fill="#fff" stroke="#9a9a9a" stroke-width="2.9"/>
<path d="M1013.45 769.7V653.45H1060.35V769.7" fill="#fff" stroke="#6e2f17" stroke-width="2.9"/>
<path d="M1085.45 769.7V754.05H1132.35V769.7" fill="#fff" stroke="#92e95a" stroke-width="2.9"/>
<path d="M1157.45 769.7V716.75H1204.35V769.7" fill="#fff" stroke="#3a1ea6" stroke-width="2.9"/>
<path d="M1024.7 634.9H1048.7M1024.7 670.3H1048.7M1036.7 634.9V670.3" fill="none" stroke="#6e2f17" stroke-width="1.8" />
<path d="M1169.4 706.2H1192.4M1169.4 725.6H1192.4M1180.9 706.2V725.6" fill="none" stroke="#3a1ea6" stroke-width="1.8" />
<line x1="917.6" y1="590" x2="917.6" y2="770.7" stroke="#000" stroke-width="2.2" />
<line x1="911.4" y1="769.7" x2="1230.3" y2="769.7" stroke="#000" stroke-width="2" />
<line x1="911.1" y1="769.7" x2="917.6" y2="769.7" stroke="#000" stroke-width="2" />
<text transform="translate(909.1 774.52) scale(1.24 1)" font-size="13.4" text-anchor="end" font-weight="bold" stroke="#000" stroke-width="0.25">0</text>
<line x1="911.1" y1="725.03" x2="917.6" y2="725.03" stroke="#000" stroke-width="2" />
<text transform="translate(909.1 729.85) scale(1.24 1)" font-size="13.4" text-anchor="end" font-weight="bold" stroke="#000" stroke-width="0.25">2</text>
<line x1="911.1" y1="680.35" x2="917.6" y2="680.35" stroke="#000" stroke-width="2" />
<text transform="translate(909.1 685.17) scale(1.24 1)" font-size="13.4" text-anchor="end" font-weight="bold" stroke="#000" stroke-width="0.25">4</text>
<line x1="911.1" y1="635.67" x2="917.6" y2="635.67" stroke="#000" stroke-width="2" />
<text transform="translate(909.1 640.5) scale(1.24 1)" font-size="13.4" text-anchor="end" font-weight="bold" stroke="#000" stroke-width="0.25">6</text>
<line x1="911.1" y1="591" x2="917.6" y2="591" stroke="#000" stroke-width="2" />
<text transform="translate(909.1 595.82) scale(1.24 1)" font-size="13.4" text-anchor="end" font-weight="bold" stroke="#000" stroke-width="0.25">8</text>
<line x1="964.9" y1="769.7" x2="964.9" y2="776.2" stroke="#000" stroke-width="2.2" />
<text transform="translate(970.9 786.7) scale(1.24 1) rotate(-45)" font-size="13.8" text-anchor="end" font-weight="bold" xml:space="preserve" stroke="#000" stroke-width="0.3">NTC</text>
<line x1="1036.7" y1="769.7" x2="1036.7" y2="776.2" stroke="#000" stroke-width="2.2" />
<text transform="translate(1042.7 786.7) scale(1.24 1) rotate(-45)" font-size="13.8" text-anchor="end" font-weight="bold" xml:space="preserve" stroke="#000" stroke-width="0.3">D2-HG</text>
<line x1="1108.9" y1="769.7" x2="1108.9" y2="776.2" stroke="#000" stroke-width="2.2" />
<text transform="translate(1114.9 786.7) scale(1.24 1) rotate(-45)" font-size="13.8" text-anchor="end" font-weight="bold" xml:space="preserve" stroke="#000" stroke-width="0.3">D2hgdh</text>
<line x1="1180.9" y1="769.7" x2="1180.9" y2="776.2" stroke="#000" stroke-width="2.2" />
<text transform="translate(1186.9 786.7) scale(1.24 1) rotate(-45)" font-size="13.8" text-anchor="end" font-weight="bold" xml:space="preserve" stroke="#000" stroke-width="0.3">D2-HG  + D2hgdh</text>
<g fill="#000">
<rect x="1032.55" y="631.16" width="9.18" height="7.4"/>
<rect x="1032.55" y="649.44" width="9.18" height="7.4"/>
<rect x="1032.55" y="666.59" width="9.18" height="7.4"/>
<ellipse cx="952.34" cy="747.54" rx="4.59" ry="3.7"/>
<ellipse cx="964.91" cy="748" rx="4.59" ry="3.7"/>
<ellipse cx="977.71" cy="748" rx="4.59" ry="3.7"/>
<path d="M1091.52 755.3L1101.62 755.3L1096.57 748.64Z"/>
<path d="M1104.1 758.73L1114.19 758.73L1109.14 752.07Z"/>
<path d="M1116.67 756.67L1126.76 756.67L1121.71 750.01Z"/>
<path d="M1169.47 703.44L1179.56 703.44L1174.51 710.1Z"/>
<path d="M1182.27 710.75L1192.36 710.75L1187.31 717.41Z"/>
<path d="M1175.64 722.87L1185.73 722.87L1180.69 729.53Z"/>
</g>
<path d="M953.95 552V546.4H1172.25V552" fill="none" stroke="#000" stroke-width="2.7" stroke-linejoin="miter"/><text transform="translate(1066.9 546.4) scale(1.24 1)" font-size="13.6" text-anchor="middle" stroke="#000" stroke-width="0.3">*</text>
<path d="M953.95 578.3V572.7H1102.55V578.3" fill="none" stroke="#000" stroke-width="2.7" stroke-linejoin="miter"/><text transform="translate(1023 567) scale(1.24 1)" font-size="12.7" text-anchor="middle" font-weight="bold">NS</text>
<path d="M955.55 597V591.4H1034.65V597" fill="none" stroke="#000" stroke-width="2.7" stroke-linejoin="miter"/><text transform="translate(993 591.4) scale(1.24 1)" font-size="13.6" text-anchor="middle" stroke="#000" stroke-width="0.3">****</text>
<path d="M1038.95 614.2V608.6H1172.25V614.2" fill="none" stroke="#000" stroke-width="2.7" stroke-linejoin="miter"/><text transform="translate(1101.6 608.6) scale(1.24 1)" font-size="13.6" text-anchor="middle" stroke="#000" stroke-width="0.3">***</text>
<text x="1040" y="513.7" font-size="17.5" text-anchor="middle" font-weight="bold" font-style="italic" textLength="72" lengthAdjust="spacingAndGlyphs">Ube2d1</text>
<text transform="translate(893.5 678.5) scale(1.24 1) rotate(-90)" font-size="14.85" text-anchor="middle" font-weight="bold" stroke="#000" stroke-width="0.5">mRNA expression(fold changed)</text><line x1="952.34" y1="748" x2="977.71" y2="748" stroke="#000" stroke-width="2" />
<path d="M1313.35 775V770.05H1360.25V775" fill="#fff" stroke="#dcdcdc" stroke-width="2.9"/>
<path d="M1385.55 775V634.75H1431.85V775" fill="#fff" stroke="#6e2f17" stroke-width="2.9"/>
<path d="M1457.55 775V770.45H1504.25V775" fill="#fff" stroke="#92e95a" stroke-width="2.9"/>
<path d="M1529.55 775V704.45H1575.85V775" fill="#fff" stroke="#3a1ea6" stroke-width="2.9"/>
<path d="M1396.6 612.7H1420.6M1396.6 654.7H1420.6M1408.6 612.7V654.7" fill="none" stroke="#6e2f17" stroke-width="1.8" />
<path d="M1541.3 697H1564.3M1541.3 711H1564.3M1552.8 697V711" fill="none" stroke="#3a1ea6" stroke-width="1.8" />
<line x1="1289.3" y1="595" x2="1289.3" y2="776" stroke="#000" stroke-width="2.2" />
<line x1="1282.9" y1="775" x2="1602.2" y2="775" stroke="#000" stroke-width="2" />
<line x1="1282.8" y1="775" x2="1289.3" y2="775" stroke="#000" stroke-width="2" />
<text transform="translate(1280.8 779.82) scale(1.24 1)" font-size="13.4" text-anchor="end" font-weight="bold" stroke="#000" stroke-width="0.25">0</text>
<line x1="1282.8" y1="715.33" x2="1289.3" y2="715.33" stroke="#000" stroke-width="2" />
<text transform="translate(1280.8 720.16) scale(1.24 1)" font-size="13.4" text-anchor="end" font-weight="bold" stroke="#000" stroke-width="0.25">10</text>
<line x1="1282.8" y1="655.67" x2="1289.3" y2="655.67" stroke="#000" stroke-width="2" />
<text transform="translate(1280.8 660.49) scale(1.24 1)" font-size="13.4" text-anchor="end" font-weight="bold" stroke="#000" stroke-width="0.25">20</text>
<line x1="1282.8" y1="596" x2="1289.3" y2="596" stroke="#000" stroke-width="2" />
<text transform="translate(1280.8 600.82) scale(1.24 1)" font-size="13.4" text-anchor="end" font-weight="bold" stroke="#000" stroke-width="0.25">30</text>
<line x1="1336.6" y1="775" x2="1336.6" y2="781.5" stroke="#000" stroke-width="2.2" />
<text transform="translate(1342.6 792) scale(1.24 1) rotate(-45)" font-size="13.8" text-anchor="end" font-weight="bold" xml:space="preserve" stroke="#000" stroke-width="0.3">NTC</text>
<line x1="1408.6" y1="775" x2="1408.6" y2="781.5" stroke="#000" stroke-width="2.2" />
<text transform="translate(1414.6 792) scale(1.24 1) rotate(-45)" font-size="13.8" text-anchor="end" font-weight="bold" xml:space="preserve" stroke="#000" stroke-width="0.3">D2-HG</text>
<line x1="1480.6" y1="775" x2="1480.6" y2="781.5" stroke="#000" stroke-width="2.2" />
<text transform="translate(1486.6 792) scale(1.24 1) rotate(-45)" font-size="13.8" text-anchor="end" font-weight="bold" xml:space="preserve" stroke="#000" stroke-width="0.3">D2hgdh</text>
<line x1="1552.8" y1="775" x2="1552.8" y2="781.5" stroke="#000" stroke-width="2.2" />
<text transform="translate(1558.8 792) scale(1.24 1) rotate(-45)" font-size="13.8" text-anchor="end" font-weight="bold" xml:space="preserve" stroke="#000" stroke-width="0.3">D2-HG +  D2hgdh</text>
<g fill="#000">
<rect x="1403.98" y="608.99" width="9.18" height="7.4"/>
<rect x="1403.98" y="631.16" width="9.18" height="7.4"/>
<rect x="1403.98" y="650.59" width="9.18" height="7.4"/>
<ellipse cx="1324" cy="769.26" rx="4.59" ry="3.7"/>
<ellipse cx="1336.57" cy="769.26" rx="4.59" ry="3.7"/>
<ellipse cx="1349.37" cy="769.26" rx="4.59" ry="3.7"/>
<path d="M1462.95 772.45L1473.05 772.45L1468 765.79Z"/>
<path d="M1475.52 774.73L1485.62 774.73L1480.57 768.07Z"/>
<path d="M1488.1 773.13L1498.19 773.13L1493.14 766.47Z"/>
<path d="M1547.75 693.15L1557.85 693.15L1552.8 699.81Z"/>
<path d="M1553.92 700.47L1564.02 700.47L1558.97 707.13Z"/>
<path d="M1541.12 708.01L1551.22 708.01L1546.17 714.67Z"/>
</g>
<path d="M1326.05 541.7V536.1H1543.25V541.7" fill="none" stroke="#000" stroke-width="2.7" stroke-linejoin="miter"/><text transform="translate(1441 536.1) scale(1.24 1)" font-size="13.6" text-anchor="middle" stroke="#000" stroke-width="0.3">***</text>
<path d="M1326.05 571.9V566.3H1473.95V571.9" fill="none" stroke="#000" stroke-width="2.7" stroke-linejoin="miter"/><text transform="translate(1394.4 560.6) scale(1.24 1)" font-size="12.7" text-anchor="middle" font-weight="bold">NS</text>
<path d="M1327.15 590.6V585H1406.05V590.6" fill="none" stroke="#000" stroke-width="2.7" stroke-linejoin="miter"/><text transform="translate(1364.7 585) scale(1.24 1)" font-size="13.6" text-anchor="middle" stroke="#000" stroke-width="0.3">****</text>
<path d="M1410.65 605.5V599.9H1543.25V605.5" fill="none" stroke="#000" stroke-width="2.7" stroke-linejoin="miter"/><text transform="translate(1474.2 599.9) scale(1.24 1)" font-size="13.6" text-anchor="middle" stroke="#000" stroke-width="0.3">***</text>
<text x="1415.4" y="513.7" font-size="17.5" text-anchor="middle" font-weight="bold" font-style="italic" textLength="71" lengthAdjust="spacingAndGlyphs">Fbxo32</text>
<text transform="translate(1255 683) scale(1.24 1) rotate(-90)" font-size="14.9" text-anchor="middle" font-weight="bold" stroke="#000" stroke-width="0.5">mRNA expression(fold changed)</text><line x1="1324" y1="769.26" x2="1349.37" y2="769.26" stroke="#000" stroke-width="2" />
<path d="M1691.75 776.1V772.75H1738.45V776.1" fill="#fff" stroke="#cfcfcf" stroke-width="2.9"/>
<path d="M1763.75 776.1V664.45H1810.45V776.1" fill="#fff" stroke="#6e2f17" stroke-width="2.9"/>
<path d="M1835.75 776.1V771.65H1882.65V776.1" fill="#fff" stroke="#92e95a" stroke-width="2.9"/>
<path d="M1907.75 776.1V743.75H1954.45V776.1" fill="#fff" stroke="#3a1ea6" stroke-width="2.9"/>
<path d="M1775 648.6H1799M1775 679.4H1799M1787 648.6V679.4" fill="none" stroke="#6e2f17" stroke-width="1.8" />
<path d="M1919.5 728.1H1942.5M1919.5 757.1H1942.5M1931 728.1V757.1" fill="none" stroke="#3a1ea6" stroke-width="1.8" />
<line x1="1667.4" y1="596.6" x2="1667.4" y2="777.1" stroke="#000" stroke-width="2.2" />
<line x1="1661.3" y1="776.1" x2="1980.6" y2="776.1" stroke="#000" stroke-width="2" />
<line x1="1660.9" y1="776.1" x2="1667.4" y2="776.1" stroke="#000" stroke-width="2" />
<text transform="translate(1658.9 780.92) scale(1.24 1)" font-size="13.4" text-anchor="end" font-weight="bold" stroke="#000" stroke-width="0.25">0</text>
<line x1="1660.9" y1="731.48" x2="1667.4" y2="731.48" stroke="#000" stroke-width="2" />
<text transform="translate(1658.9 736.3) scale(1.24 1)" font-size="13.4" text-anchor="end" font-weight="bold" stroke="#000" stroke-width="0.25">10</text>
<line x1="1660.9" y1="686.85" x2="1667.4" y2="686.85" stroke="#000" stroke-width="2" />
<text transform="translate(1658.9 691.67) scale(1.24 1)" font-size="13.4" text-anchor="end" font-weight="bold" stroke="#000" stroke-width="0.25">20</text>
<line x1="1660.9" y1="642.23" x2="1667.4" y2="642.23" stroke="#000" stroke-width="2" />
<text transform="translate(1658.9 647.05) scale(1.24 1)" font-size="13.4" text-anchor="end" font-weight="bold" stroke="#000" stroke-width="0.25">30</text>
<line x1="1660.9" y1="597.6" x2="1667.4" y2="597.6" stroke="#000" stroke-width="2" />
<text transform="translate(1658.9 602.42) scale(1.24 1)" font-size="13.4" text-anchor="end" font-weight="bold" stroke="#000" stroke-width="0.25">40</text>
<line x1="1715" y1="776.1" x2="1715" y2="782.6" stroke="#000" stroke-width="2.2" />
<text transform="translate(1721 793.1) scale(1.24 1) rotate(-45)" font-size="13.8" text-anchor="end" font-weight="bold" xml:space="preserve" stroke="#000" stroke-width="0.3">NTC</text>
<line x1="1787" y1="776.1" x2="1787" y2="782.6" stroke="#000" stroke-width="2.2" />
<text transform="translate(1793 793.1) scale(1.24 1) rotate(-45)" font-size="13.8" text-anchor="end" font-weight="bold" xml:space="preserve" stroke="#000" stroke-width="0.3">D2-HG</text>
<line x1="1859" y1="776.1" x2="1859" y2="782.6" stroke="#000" stroke-width="2.2" />
<text transform="translate(1865 793.1) scale(1.24 1) rotate(-45)" font-size="13.8" text-anchor="end" font-weight="bold" xml:space="preserve" stroke="#000" stroke-width="0.3">D2hgdh</text>
<line x1="1931" y1="776.1" x2="1931" y2="782.6" stroke="#000" stroke-width="2.2" />
<text transform="translate(1937 793.1) scale(1.24 1) rotate(-45)" font-size="13.8" text-anchor="end" font-weight="bold" xml:space="preserve" stroke="#000" stroke-width="0.3">D2-HG +  D2hgdh</text>
<g fill="#000">
<rect x="1775.98" y="651.04" width="9.18" height="7.4"/>
<rect x="1789.24" y="652.41" width="9.18" height="7.4"/>
<rect x="1782.38" y="678.01" width="9.18" height="7.4"/>
<ellipse cx="1702.4" cy="771.54" rx="4.59" ry="3.7"/>
<ellipse cx="1714.97" cy="772" rx="4.59" ry="3.7"/>
<ellipse cx="1727.54" cy="771.54" rx="4.59" ry="3.7"/>
<path d="M1841.12 773.59L1851.22 773.59L1846.17 766.93Z"/>
<path d="M1853.92 774.96L1864.02 774.96L1858.97 768.3Z"/>
<path d="M1866.5 774.27L1876.59 774.27L1871.54 767.61Z"/>
<path d="M1925.92 722.87L1936.02 722.87L1930.97 729.53Z"/>
<path d="M1932.32 742.75L1942.42 742.75L1937.37 749.41Z"/>
<path d="M1919.52 751.9L1929.62 751.9L1924.57 758.56Z"/>
</g>
<path d="M1704.65 560.5V554.9H1922.05V560.5" fill="none" stroke="#000" stroke-width="2.7" stroke-linejoin="miter"/><text transform="translate(1816.7 554.9) scale(1.24 1)" font-size="13.6" text-anchor="middle" stroke="#000" stroke-width="0.3">*</text>
<path d="M1704.65 584.5V578.9H1852.35V584.5" fill="none" stroke="#000" stroke-width="2.7" stroke-linejoin="miter"/><text transform="translate(1773 572.7) scale(1.24 1)" font-size="12.7" text-anchor="middle" font-weight="bold">NS</text>
<path d="M1705.85 603.2V597.6H1784.95V603.2" fill="none" stroke="#000" stroke-width="2.7" stroke-linejoin="miter"/><text transform="translate(1743.3 597.6) scale(1.24 1)" font-size="13.6" text-anchor="middle" stroke="#000" stroke-width="0.3">****</text>
<path d="M1789.25 620.3V614.7H1922.05V620.3" fill="none" stroke="#000" stroke-width="2.7" stroke-linejoin="miter"/><text transform="translate(1854.4 614.7) scale(1.24 1)" font-size="13.6" text-anchor="middle" stroke="#000" stroke-width="0.3">****</text>
<text x="1789" y="516" font-size="17.5" text-anchor="middle" font-weight="bold" font-style="italic" textLength="65" lengthAdjust="spacingAndGlyphs">Trim63</text>
<text transform="translate(1634 685) scale(1.24 1) rotate(-90)" font-size="14.9" text-anchor="middle" font-weight="bold" stroke="#000" stroke-width="0.5">mRNA expression(fold changed)</text><line x1="1702.4" y1="771.77" x2="1727.54" y2="771.77" stroke="#000" stroke-width="2" />
</g>
<g id="panel-f">
<defs>
<filter id="bl1" x="-30%" y="-80%" width="160%" height="260%"><feGaussianBlur stdDeviation="1.2"/></filter>
<filter id="bl2" x="-30%" y="-80%" width="160%" height="260%"><feGaussianBlur stdDeviation="2.2"/></filter>
<filter id="bl3" x="-30%" y="-80%" width="160%" height="260%"><feGaussianBlur stdDeviation="3.5"/></filter>
<filter id="bl4" x="-30%" y="-80%" width="160%" height="260%"><feGaussianBlur stdDeviation="6"/></filter>
<linearGradient id="gIdh" x1="0" y1="0" x2="0" y2="1"><stop offset="0" stop-color="#7e7e7e"/><stop offset="0.5" stop-color="#8d8d8d"/><stop offset="1" stop-color="#8a8a8a"/></linearGradient>
<linearGradient id="gD2" x1="0" y1="0" x2="1" y2="0"><stop offset="0" stop-color="#b4b4b4"/><stop offset="0.5" stop-color="#a6a6a6"/><stop offset="1" stop-color="#a9a9a9"/></linearGradient>
<linearGradient id="gGap" x1="0" y1="0" x2="0" y2="1"><stop offset="0" stop-color="#b0b0b0"/><stop offset="0.25" stop-color="#c4c4c4"/><stop offset="0.75" stop-color="#d0d0d0"/><stop offset="1" stop-color="#dadada"/></linearGradient>
<linearGradient id="gHm" x1="0" y1="0" x2="0" y2="1"><stop offset="0" stop-color="#bdbdbd"/><stop offset="0.5" stop-color="#b0b0b0"/><stop offset="1" stop-color="#c6c6c6"/></linearGradient>
</defs>
<text x="14" y="999.8" font-size="23.9">D2HG</text>
<line x1="14" y1="1003.9" x2="485.7" y2="1005.9" stroke="#000" stroke-width="3.2" stroke-linecap="round"/>
<text x="14" y="1032.5" font-size="23.9">D2hgdh</text>
<text x="181.5" y="999" font-size="22" text-anchor="middle">-</text>
<text x="256.3" y="999" font-size="22" text-anchor="middle">-</text>
<text x="353.5" y="998" font-size="22" text-anchor="middle">+</text>
<text x="433.6" y="998" font-size="22" text-anchor="middle">+</text>
<text x="179.8" y="1033" font-size="22" text-anchor="middle">-</text>
<text x="257" y="1032" font-size="22" text-anchor="middle">+</text>
<text x="354.2" y="1033" font-size="22" text-anchor="middle">-</text>
<text x="431.8" y="1032" font-size="22" text-anchor="middle">+</text>
<clipPath id="bc1"><rect x="96.2" y="1066.7" width="369.8" height="60.7"/></clipPath><g clip-path="url(#bc1)"><rect x="96.2" y="1066.7" width="369.8" height="60.7" fill="url(#gD2)"/><rect x="202" y="1087.5" width="68" height="15" rx="18.7" ry="7.5" fill="#1a1a1a" opacity="0.95" filter="url(#bl3)"/><rect x="374.5" y="1087.5" width="70" height="14" rx="19.25" ry="7" fill="#1a1a1a" opacity="0.92" filter="url(#bl3)"/><rect x="206" y="1063" width="60" height="6" rx="9" ry="3" fill="#555" opacity="0.5" filter="url(#bl2)"/><rect x="379" y="1063" width="60" height="6" rx="9" ry="3" fill="#555" opacity="0.4" filter="url(#bl2)"/></g>
<text x="14" y="1104.8" font-size="23.9">D2hgdh</text>
<text x="482.2" y="1106.2" font-size="20.5">~56 KD</text>
<clipPath id="bc2"><rect x="98.3" y="1149.6" width="367.7" height="59.9"/></clipPath><g clip-path="url(#bc2)"><rect x="98.3" y="1149.6" width="367.7" height="59.9" fill="url(#gIdh)"/><rect x="129" y="1174.5" width="64" height="9" rx="13.5" ry="4.5" fill="#111" opacity="0.9" filter="url(#bl2)"/><rect x="211" y="1174.9" width="64" height="7.2" rx="10.8" ry="3.6" fill="#222" opacity="0.75" filter="url(#bl2)"/><rect x="297" y="1173" width="66" height="9" rx="13.5" ry="4.5" fill="#111" opacity="0.9" filter="url(#bl2)"/><rect x="379" y="1170.5" width="66" height="11" rx="16.5" ry="5.5" fill="#080808" opacity="0.95" filter="url(#bl2)"/></g>
<text x="14.5" y="1183" font-size="23.9">Idh1</text>
<text x="482.2" y="1186.6" font-size="20.5">~46 KD</text>
<clipPath id="bc3"><rect x="97.6" y="1229.3" width="367.7" height="59.5"/></clipPath><g clip-path="url(#bc3)"><rect x="97.6" y="1229.3" width="367.7" height="59.5" fill="url(#gHm)"/><rect x="120" y="1229" width="75" height="60" fill="#9a9a9a" opacity="0.55" filter="url(#bl4)"/><rect x="205" y="1229" width="70" height="60" fill="#7e7e7e" opacity="0.7" filter="url(#bl4)"/><rect x="295" y="1229" width="75" height="60" fill="#a0a0a0" opacity="0.45" filter="url(#bl4)"/><rect x="378" y="1229" width="80" height="60" fill="#a0a0a0" opacity="0.45" filter="url(#bl4)"/><rect x="96" y="1229" width="24" height="60" fill="#e0e0e0" opacity="0.8" filter="url(#bl3)"/><rect x="278" y="1229" width="14" height="60" fill="#e0e0e0" opacity="0.6" filter="url(#bl3)"/><rect x="456" y="1229" width="12" height="60" fill="#e0e0e0" opacity="0.7" filter="url(#bl3)"/><rect x="119" y="1255" width="72" height="10" rx="15" ry="5" fill="#3a3a3a" opacity="0.75" filter="url(#bl3)"/><rect x="204" y="1255" width="72" height="10" rx="15" ry="5" fill="#333" opacity="0.8" filter="url(#bl3)"/><rect x="298" y="1251.5" width="68" height="12" rx="18" ry="6" fill="#0a0a0a" opacity="0.95" filter="url(#bl2)"/><rect x="384" y="1250.5" width="72" height="11" rx="16.5" ry="5.5" fill="#0a0a0a" opacity="0.95" filter="url(#bl2)"/><rect x="422" y="1249.5" width="32" height="9" rx="8.8" ry="4.5" fill="#000" opacity="0.8" filter="url(#bl2)"/></g>
<g stroke="#ddd" stroke-width="0.7" stroke-dasharray="1 1.4" opacity="0.9"><line x1="110" y1="1255.2" x2="462" y2="1255.2" stroke="#e6e6e6" stroke-width="0.7" /><line x1="236.8" y1="1229" x2="236.8" y2="1289" stroke="#e6e6e6" stroke-width="0.7" /><line x1="348.3" y1="1229" x2="348.3" y2="1289" stroke="#e6e6e6" stroke-width="0.7" /></g>
<line x1="125.5" y1="1229" x2="125.5" y2="1289" stroke="#8a8a8a" stroke-width="0.6" />
<text x="14.8" y="1263.4" font-size="23.9">Hmgcr</text>
<text x="482.2" y="1263.4" font-size="20.5">~102 KD</text>
<clipPath id="bc4"><rect x="96.2" y="1315.3" width="369.8" height="58.1"/></clipPath><g clip-path="url(#bc4)"><rect x="96.2" y="1315.3" width="369.8" height="58.1" fill="#ececec"/><rect x="112" y="1336" width="76" height="16" rx="20.9" ry="8" fill="#000" opacity="1" filter="url(#bl2)"/><rect x="116" y="1339" width="68" height="10" rx="15" ry="5" fill="#000" opacity="1" filter="url(#bl1)"/><rect x="202" y="1332" width="72" height="25" rx="19.8" ry="12.5" fill="#000" opacity="1" filter="url(#bl2)"/><rect x="205" y="1335" width="66" height="19" rx="18.15" ry="9.5" fill="#000" opacity="1" filter="url(#bl1)"/><rect x="381.5" y="1335.8" width="70" height="9" rx="13.5" ry="4.5" fill="#000" opacity="0.95" filter="url(#bl2)"/><rect x="120" y="1323.5" width="60" height="5" rx="7.5" ry="2.5" fill="#444" opacity="0.6" filter="url(#bl2)"/><rect x="206" y="1320.5" width="60" height="6" rx="9" ry="3" fill="#333" opacity="0.75" filter="url(#bl2)"/><rect x="114" y="1354" width="72" height="8" rx="12" ry="4" fill="#999" opacity="0.4" filter="url(#bl3)"/><rect x="204" y="1360" width="72" height="8" rx="12" ry="4" fill="#999" opacity="0.35" filter="url(#bl3)"/><rect x="380" y="1345" width="72" height="10" rx="15" ry="5" fill="#aaa" opacity="0.35" filter="url(#bl3)"/></g>
<text x="13.4" y="1352.3" font-size="23.9">L2hgdh</text>
<text x="482.2" y="1346.3" font-size="20.5">~51 KD</text>
<clipPath id="bc5"><rect x="96.2" y="1395" width="370.8" height="59.8"/></clipPath><g clip-path="url(#bc5)"><rect x="96.2" y="1395" width="370.8" height="59.8" fill="#e9e9e9"/><rect x="120" y="1418" width="74" height="11" rx="16.5" ry="5.5" fill="#555" opacity="0.85" filter="url(#bl3)"/><rect x="205" y="1417.2" width="72" height="11.6" rx="17.4" ry="5.8" fill="#4a4a4a" opacity="0.88" filter="url(#bl3)"/><rect x="291" y="1418.5" width="68" height="10" rx="15" ry="5" fill="#5a5a5a" opacity="0.8" filter="url(#bl3)"/><rect x="369" y="1418" width="78" height="15" rx="21.45" ry="7.5" fill="#2c2c2c" opacity="0.95" filter="url(#bl3)"/><rect x="206" y="1396" width="68" height="12" rx="18" ry="6" fill="#bbb" opacity="0.6" filter="url(#bl4)"/><rect x="372" y="1395" width="72" height="14" rx="19.8" ry="7" fill="#b8b8b8" opacity="0.6" filter="url(#bl4)"/><rect x="100" y="1442" width="100" height="12" rx="18" ry="6" fill="#c4c4c4" opacity="0.6" filter="url(#bl4)"/><rect x="270" y="1445" width="120" height="10" rx="15" ry="5" fill="#cdcdcd" opacity="0.5" filter="url(#bl4)"/></g>
<text x="17" y="1431.6" font-size="23.9">Dhrs3</text>
<text x="482.2" y="1425.6" font-size="20.5">~34 KD</text>
<clipPath id="bc6"><rect x="97" y="1476" width="369" height="60.6"/></clipPath><g clip-path="url(#bc6)"><rect x="97" y="1476" width="369" height="60.6" fill="#ededed"/><rect x="108" y="1509.3" width="76" height="8.8" rx="13.2" ry="4.4" fill="#555" opacity="0.8" filter="url(#bl3)"/><rect x="196" y="1509.5" width="72" height="10" rx="15" ry="5" fill="#333" opacity="0.88" filter="url(#bl3)"/><rect x="282" y="1509.3" width="72" height="8.4" rx="12.6" ry="4.2" fill="#666" opacity="0.75" filter="url(#bl3)"/><rect x="366" y="1508.3" width="76" height="8.4" rx="12.6" ry="4.2" fill="#606060" opacity="0.78" filter="url(#bl3)"/><rect x="110" y="1487.8" width="72" height="6" rx="9" ry="3" fill="#aaa" opacity="0.6" filter="url(#bl3)"/><rect x="198" y="1487.8" width="68" height="6" rx="9" ry="3" fill="#aaa" opacity="0.6" filter="url(#bl3)"/><rect x="284" y="1487" width="68" height="6" rx="9" ry="3" fill="#b5b5b5" opacity="0.55" filter="url(#bl3)"/><rect x="368" y="1485" width="72" height="6" rx="9" ry="3" fill="#aaa" opacity="0.6" filter="url(#bl3)"/><rect x="100" y="1525" width="360" height="10" rx="15" ry="5" fill="#d8d8d8" opacity="0.6" filter="url(#bl4)"/></g>
<g opacity="0.45"><line x1="197.5" y1="1476" x2="197.5" y2="1537" stroke="#aaa" stroke-width="0.6" /><line x1="300.5" y1="1476" x2="300.5" y2="1537" stroke="#bbb" stroke-width="0.6" /><line x1="402.5" y1="1476" x2="402.5" y2="1537" stroke="#bbb" stroke-width="0.6" /><line x1="97.5" y1="1476" x2="97.5" y2="1537" stroke="#aaa" stroke-width="0.6" /><line x1="97" y1="1500.5" x2="466" y2="1500.5" stroke="#d0d0d0" stroke-width="0.5" stroke-dasharray="1 1.5"/></g>
<text x="21.9" y="1513" font-size="23.9">Adh7</text>
<text x="482.2" y="1507.4" font-size="20.5">~42 KD</text>
<clipPath id="bc7"><rect x="96.2" y="1557.8" width="370.1" height="62.7"/></clipPath><g clip-path="url(#bc7)"><rect x="96.2" y="1557.8" width="370.1" height="62.7" fill="url(#gGap)"/><rect x="110" y="1581" width="72" height="14" rx="19.8" ry="7" fill="#000" opacity="1" filter="url(#bl3)"/><rect x="200" y="1580.5" width="72" height="15" rx="19.8" ry="7.5" fill="#000" opacity="1" filter="url(#bl3)"/><rect x="291" y="1580.5" width="70" height="15" rx="19.25" ry="7.5" fill="#000" opacity="1" filter="url(#bl3)"/><rect x="379" y="1579" width="74" height="16" rx="20.35" ry="8" fill="#000" opacity="1" filter="url(#bl3)"/><rect x="114" y="1584" width="64" height="8" rx="12" ry="4" fill="#000" opacity="0.9" filter="url(#bl2)"/><rect x="204" y="1583.5" width="64" height="9" rx="13.5" ry="4.5" fill="#000" opacity="0.9" filter="url(#bl2)"/><rect x="294" y="1583.5" width="64" height="9" rx="13.5" ry="4.5" fill="#000" opacity="0.9" filter="url(#bl2)"/><rect x="383" y="1582" width="66" height="10" rx="15" ry="5" fill="#000" opacity="0.9" filter="url(#bl2)"/><rect x="196" y="1602" width="80" height="10" rx="15" ry="5" fill="#aaa" opacity="0.5" filter="url(#bl4)"/><rect x="376" y="1602" width="80" height="10" rx="15" ry="5" fill="#b0b0b0" opacity="0.45" filter="url(#bl4)"/><rect x="89" y="1550" width="16" height="80" rx="4.4" ry="40" fill="#eee" opacity="0.9" filter="url(#bl3)"/><rect x="460" y="1550" width="12" height="80" rx="3.3" ry="40" fill="#eee" opacity="0.8" filter="url(#bl3)"/></g>
<text x="14.8" y="1596.5" font-size="23.9">Gapdh</text>
<text x="482.2" y="1597.6" font-size="20.5">~36 KD</text>
</g>
<g id="panel-g">
<rect x="659.3" y="960.6" width="475.8" height="12.8" fill="#999"/><rect x="661.1" y="962.1" width="22.09" height="9.8" fill="#0d0909"/><rect x="684.79" y="962.1" width="22.09" height="9.8" fill="#0d0909"/><rect x="708.48" y="962.1" width="22.09" height="9.8" fill="#0d0909"/><rect x="732.17" y="962.1" width="22.09" height="9.8" fill="#0d0909"/><rect x="755.86" y="962.1" width="22.09" height="9.8" fill="#0d0909"/><rect x="779.55" y="962.1" width="22.09" height="9.8" fill="#669a50"/><rect x="803.24" y="962.1" width="22.09" height="9.8" fill="#669a50"/><rect x="826.93" y="962.1" width="22.09" height="9.8" fill="#669a50"/><rect x="850.62" y="962.1" width="22.09" height="9.8" fill="#669a50"/><rect x="874.31" y="962.1" width="22.09" height="9.8" fill="#669a50"/><rect x="898" y="962.1" width="22.09" height="9.8" fill="#5b4fc6"/><rect x="921.69" y="962.1" width="22.09" height="9.8" fill="#5b4fc6"/><rect x="945.38" y="962.1" width="22.09" height="9.8" fill="#5b4fc6"/><rect x="969.07" y="962.1" width="22.09" height="9.8" fill="#5b4fc6"/><rect x="992.76" y="962.1" width="22.09" height="9.8" fill="#5b4fc6"/><rect x="1016.45" y="962.1" width="22.09" height="9.8" fill="#9c3f3c"/><rect x="1040.14" y="962.1" width="22.09" height="9.8" fill="#9c3f3c"/><rect x="1063.83" y="962.1" width="22.09" height="9.8" fill="#9c3f3c"/><rect x="1087.52" y="962.1" width="22.09" height="9.8" fill="#9c3f3c"/><rect x="1111.21" y="962.1" width="22.09" height="9.8" fill="#9c3f3c"/>
<rect x="659.7" y="975.7" width="475" height="678.95" fill="#8c8c8c"/><g shape-rendering="auto"><rect x="661.05" y="977.05" width="22.19" height="12.05" fill="#e6dac9"/><rect x="684.74" y="977.05" width="22.19" height="12.05" fill="#b3c2dd"/><rect x="708.43" y="977.05" width="22.19" height="12.05" fill="#e6dac9"/><rect x="732.12" y="977.05" width="22.19" height="12.05" fill="#e6dac9"/><rect x="755.81" y="977.05" width="22.19" height="12.05" fill="#dddad6"/><rect x="779.5" y="977.05" width="22.19" height="12.05" fill="#cea880"/><rect x="803.19" y="977.05" width="22.19" height="12.05" fill="#cea880"/><rect x="826.88" y="977.05" width="22.19" height="12.05" fill="#dab994"/><rect x="850.57" y="977.05" width="22.19" height="12.05" fill="#cea880"/><rect x="874.26" y="977.05" width="22.19" height="12.05" fill="#cea880"/><rect x="897.95" y="977.05" width="22.19" height="12.05" fill="#7486bc"/><rect x="921.64" y="977.05" width="22.19" height="12.05" fill="#7486bc"/><rect x="945.33" y="977.05" width="22.19" height="12.05" fill="#b3c2dd"/><rect x="969.02" y="977.05" width="22.19" height="12.05" fill="#e6dac9"/><rect x="992.71" y="977.05" width="22.19" height="12.05" fill="#e4cdb1"/><rect x="1016.4" y="977.05" width="22.19" height="12.05" fill="#b3c2dd"/><rect x="1040.09" y="977.05" width="22.19" height="12.05" fill="#dddad6"/><rect x="1063.78" y="977.05" width="22.19" height="12.05" fill="#e6dac9"/><rect x="1087.47" y="977.05" width="22.19" height="12.05" fill="#e6dac9"/><rect x="1111.16" y="977.05" width="22.19" height="12.05" fill="#e6dac9"/><rect x="661.05" y="990.6" width="22.19" height="12.05" fill="#c0926c"/><rect x="684.74" y="990.6" width="22.19" height="12.05" fill="#e4cdb1"/><rect x="708.43" y="990.6" width="22.19" height="12.05" fill="#dddad6"/><rect x="732.12" y="990.6" width="22.19" height="12.05" fill="#cea880"/><rect x="755.81" y="990.6" width="22.19" height="12.05" fill="#cdd6e5"/><rect x="779.5" y="990.6" width="22.19" height="12.05" fill="#c0926c"/><rect x="803.19" y="990.6" width="22.19" height="12.05" fill="#e4cdb1"/><rect x="826.88" y="990.6" width="22.19" height="12.05" fill="#dddad6"/><rect x="850.57" y="990.6" width="22.19" height="12.05" fill="#cea880"/><rect x="874.26" y="990.6" width="22.19" height="12.05" fill="#cdd6e5"/><rect x="897.95" y="990.6" width="22.19" height="12.05" fill="#e4cdb1"/><rect x="921.64" y="990.6" width="22.19" height="12.05" fill="#97acd2"/><rect x="945.33" y="990.6" width="22.19" height="12.05" fill="#b3c2dd"/><rect x="969.02" y="990.6" width="22.19" height="12.05" fill="#cdd6e5"/><rect x="992.71" y="990.6" width="22.19" height="12.05" fill="#e4cdb1"/><rect x="1016.4" y="990.6" width="22.19" height="12.05" fill="#7486bc"/><rect x="1040.09" y="990.6" width="22.19" height="12.05" fill="#dddad6"/><rect x="1063.78" y="990.6" width="22.19" height="12.05" fill="#cdd6e5"/><rect x="1087.47" y="990.6" width="22.19" height="12.05" fill="#97acd2"/><rect x="1111.16" y="990.6" width="22.19" height="12.05" fill="#cdd6e5"/><rect x="661.05" y="1004.16" width="22.19" height="12.05" fill="#cea880"/><rect x="684.74" y="1004.16" width="22.19" height="12.05" fill="#e6dac9"/><rect x="708.43" y="1004.16" width="22.19" height="12.05" fill="#dab994"/><rect x="732.12" y="1004.16" width="22.19" height="12.05" fill="#dab994"/><rect x="755.81" y="1004.16" width="22.19" height="12.05" fill="#dddad6"/><rect x="779.5" y="1004.16" width="22.19" height="12.05" fill="#dab994"/><rect x="803.19" y="1004.16" width="22.19" height="12.05" fill="#e4cdb1"/><rect x="826.88" y="1004.16" width="22.19" height="12.05" fill="#cea880"/><rect x="850.57" y="1004.16" width="22.19" height="12.05" fill="#dab994"/><rect x="874.26" y="1004.16" width="22.19" height="12.05" fill="#dddad6"/><rect x="897.95" y="1004.16" width="22.19" height="12.05" fill="#dddad6"/><rect x="921.64" y="1004.16" width="22.19" height="12.05" fill="#97acd2"/><rect x="945.33" y="1004.16" width="22.19" height="12.05" fill="#cdd6e5"/><rect x="969.02" y="1004.16" width="22.19" height="12.05" fill="#dddad6"/><rect x="992.71" y="1004.16" width="22.19" height="12.05" fill="#cdd6e5"/><rect x="1016.4" y="1004.16" width="22.19" height="12.05" fill="#7486bc"/><rect x="1040.09" y="1004.16" width="22.19" height="12.05" fill="#cdd6e5"/><rect x="1063.78" y="1004.16" width="22.19" height="12.05" fill="#e6dac9"/><rect x="1087.47" y="1004.16" width="22.19" height="12.05" fill="#7486bc"/><rect x="1111.16" y="1004.16" width="22.19" height="12.05" fill="#dab994"/><rect x="661.05" y="1017.71" width="22.19" height="12.05" fill="#e6dac9"/><rect x="684.74" y="1017.71" width="22.19" height="12.05" fill="#dddad6"/><rect x="708.43" y="1017.71" width="22.19" height="12.05" fill="#e6dac9"/><rect x="732.12" y="1017.71" width="22.19" height="12.05" fill="#e4cdb1"/><rect x="755.81" y="1017.71" width="22.19" height="12.05" fill="#dddad6"/><rect x="779.5" y="1017.71" width="22.19" height="12.05" fill="#dddad6"/><rect x="803.19" y="1017.71" width="22.19" height="12.05" fill="#cea880"/><rect x="826.88" y="1017.71" width="22.19" height="12.05" fill="#cea880"/><rect x="850.57" y="1017.71" width="22.19" height="12.05" fill="#cea880"/><rect x="874.26" y="1017.71" width="22.19" height="12.05" fill="#e4cdb1"/><rect x="897.95" y="1017.71" width="22.19" height="12.05" fill="#dddad6"/><rect x="921.64" y="1017.71" width="22.19" height="12.05" fill="#e6dac9"/><rect x="945.33" y="1017.71" width="22.19" height="12.05" fill="#cdd6e5"/><rect x="969.02" y="1017.71" width="22.19" height="12.05" fill="#dddad6"/><rect x="992.71" y="1017.71" width="22.19" height="12.05" fill="#97acd2"/><rect x="1016.4" y="1017.71" width="22.19" height="12.05" fill="#515da3"/><rect x="1040.09" y="1017.71" width="22.19" height="12.05" fill="#c0926c"/><rect x="1063.78" y="1017.71" width="22.19" height="12.05" fill="#dddad6"/><rect x="1087.47" y="1017.71" width="22.19" height="12.05" fill="#cdd6e5"/><rect x="1111.16" y="1017.71" width="22.19" height="12.05" fill="#97acd2"/><rect x="661.05" y="1031.27" width="22.19" height="12.05" fill="#e6dac9"/><rect x="684.74" y="1031.27" width="22.19" height="12.05" fill="#e6dac9"/><rect x="708.43" y="1031.27" width="22.19" height="12.05" fill="#e6dac9"/><rect x="732.12" y="1031.27" width="22.19" height="12.05" fill="#e6dac9"/><rect x="755.81" y="1031.27" width="22.19" height="12.05" fill="#e6dac9"/><rect x="779.5" y="1031.27" width="22.19" height="12.05" fill="#e6dac9"/><rect x="803.19" y="1031.27" width="22.19" height="12.05" fill="#e6dac9"/><rect x="826.88" y="1031.27" width="22.19" height="12.05" fill="#e6dac9"/><rect x="850.57" y="1031.27" width="22.19" height="12.05" fill="#e4cdb1"/><rect x="874.26" y="1031.27" width="22.19" height="12.05" fill="#e6dac9"/><rect x="897.95" y="1031.27" width="22.19" height="12.05" fill="#e6dac9"/><rect x="921.64" y="1031.27" width="22.19" height="12.05" fill="#e6dac9"/><rect x="945.33" y="1031.27" width="22.19" height="12.05" fill="#e4cdb1"/><rect x="969.02" y="1031.27" width="22.19" height="12.05" fill="#dddad6"/><rect x="992.71" y="1031.27" width="22.19" height="12.05" fill="#e6dac9"/><rect x="1016.4" y="1031.27" width="22.19" height="12.05" fill="#2b2d60"/><rect x="1040.09" y="1031.27" width="22.19" height="12.05" fill="#dddad6"/><rect x="1063.78" y="1031.27" width="22.19" height="12.05" fill="#e6dac9"/><rect x="1087.47" y="1031.27" width="22.19" height="12.05" fill="#cdd6e5"/><rect x="1111.16" y="1031.27" width="22.19" height="12.05" fill="#e4cdb1"/><rect x="661.05" y="1044.83" width="22.19" height="12.05" fill="#cdd6e5"/><rect x="684.74" y="1044.83" width="22.19" height="12.05" fill="#e6dac9"/><rect x="708.43" y="1044.83" width="22.19" height="12.05" fill="#dab994"/><rect x="732.12" y="1044.83" width="22.19" height="12.05" fill="#cea880"/><rect x="755.81" y="1044.83" width="22.19" height="12.05" fill="#e4cdb1"/><rect x="779.5" y="1044.83" width="22.19" height="12.05" fill="#ad7756"/><rect x="803.19" y="1044.83" width="22.19" height="12.05" fill="#e4cdb1"/><rect x="826.88" y="1044.83" width="22.19" height="12.05" fill="#cea880"/><rect x="850.57" y="1044.83" width="22.19" height="12.05" fill="#e6dac9"/><rect x="874.26" y="1044.83" width="22.19" height="12.05" fill="#dddad6"/><rect x="897.95" y="1044.83" width="22.19" height="12.05" fill="#dddad6"/><rect x="921.64" y="1044.83" width="22.19" height="12.05" fill="#dddad6"/><rect x="945.33" y="1044.83" width="22.19" height="12.05" fill="#97acd2"/><rect x="969.02" y="1044.83" width="22.19" height="12.05" fill="#e6dac9"/><rect x="992.71" y="1044.83" width="22.19" height="12.05" fill="#cdd6e5"/><rect x="1016.4" y="1044.83" width="22.19" height="12.05" fill="#e4cdb1"/><rect x="1040.09" y="1044.83" width="22.19" height="12.05" fill="#b3c2dd"/><rect x="1063.78" y="1044.83" width="22.19" height="12.05" fill="#b3c2dd"/><rect x="1087.47" y="1044.83" width="22.19" height="12.05" fill="#cdd6e5"/><rect x="1111.16" y="1044.83" width="22.19" height="12.05" fill="#515da3"/><rect x="661.05" y="1058.38" width="22.19" height="12.05" fill="#dab994"/><rect x="684.74" y="1058.38" width="22.19" height="12.05" fill="#cdd6e5"/><rect x="708.43" y="1058.38" width="22.19" height="12.05" fill="#e4cdb1"/><rect x="732.12" y="1058.38" width="22.19" height="12.05" fill="#cea880"/><rect x="755.81" y="1058.38" width="22.19" height="12.05" fill="#cea880"/><rect x="779.5" y="1058.38" width="22.19" height="12.05" fill="#e4cdb1"/><rect x="803.19" y="1058.38" width="22.19" height="12.05" fill="#dddad6"/><rect x="826.88" y="1058.38" width="22.19" height="12.05" fill="#dab994"/><rect x="850.57" y="1058.38" width="22.19" height="12.05" fill="#cea880"/><rect x="874.26" y="1058.38" width="22.19" height="12.05" fill="#cea880"/><rect x="897.95" y="1058.38" width="22.19" height="12.05" fill="#dddad6"/><rect x="921.64" y="1058.38" width="22.19" height="12.05" fill="#dddad6"/><rect x="945.33" y="1058.38" width="22.19" height="12.05" fill="#dddad6"/><rect x="969.02" y="1058.38" width="22.19" height="12.05" fill="#dddad6"/><rect x="992.71" y="1058.38" width="22.19" height="12.05" fill="#e6dac9"/><rect x="1016.4" y="1058.38" width="22.19" height="12.05" fill="#e6dac9"/><rect x="1040.09" y="1058.38" width="22.19" height="12.05" fill="#cdd6e5"/><rect x="1063.78" y="1058.38" width="22.19" height="12.05" fill="#7486bc"/><rect x="1087.47" y="1058.38" width="22.19" height="12.05" fill="#7486bc"/><rect x="1111.16" y="1058.38" width="22.19" height="12.05" fill="#7486bc"/><rect x="661.05" y="1071.93" width="22.19" height="12.05" fill="#e6dac9"/><rect x="684.74" y="1071.93" width="22.19" height="12.05" fill="#e6dac9"/><rect x="708.43" y="1071.93" width="22.19" height="12.05" fill="#dab994"/><rect x="732.12" y="1071.93" width="22.19" height="12.05" fill="#dab994"/><rect x="755.81" y="1071.93" width="22.19" height="12.05" fill="#dab994"/><rect x="779.5" y="1071.93" width="22.19" height="12.05" fill="#dab994"/><rect x="803.19" y="1071.93" width="22.19" height="12.05" fill="#e4cdb1"/><rect x="826.88" y="1071.93" width="22.19" height="12.05" fill="#e6dac9"/><rect x="850.57" y="1071.93" width="22.19" height="12.05" fill="#dab994"/><rect x="874.26" y="1071.93" width="22.19" height="12.05" fill="#e4cdb1"/><rect x="897.95" y="1071.93" width="22.19" height="12.05" fill="#cdd6e5"/><rect x="921.64" y="1071.93" width="22.19" height="12.05" fill="#dddad6"/><rect x="945.33" y="1071.93" width="22.19" height="12.05" fill="#dddad6"/><rect x="969.02" y="1071.93" width="22.19" height="12.05" fill="#dddad6"/><rect x="992.71" y="1071.93" width="22.19" height="12.05" fill="#dddad6"/><rect x="1016.4" y="1071.93" width="22.19" height="12.05" fill="#b3c2dd"/><rect x="1040.09" y="1071.93" width="22.19" height="12.05" fill="#e4cdb1"/><rect x="1063.78" y="1071.93" width="22.19" height="12.05" fill="#e6dac9"/><rect x="1087.47" y="1071.93" width="22.19" height="12.05" fill="#515da3"/><rect x="1111.16" y="1071.93" width="22.19" height="12.05" fill="#7486bc"/><rect x="661.05" y="1085.49" width="22.19" height="12.05" fill="#c0926c"/><rect x="684.74" y="1085.49" width="22.19" height="12.05" fill="#dab994"/><rect x="708.43" y="1085.49" width="22.19" height="12.05" fill="#cea880"/><rect x="732.12" y="1085.49" width="22.19" height="12.05" fill="#cea880"/><rect x="755.81" y="1085.49" width="22.19" height="12.05" fill="#dab994"/><rect x="779.5" y="1085.49" width="22.19" height="12.05" fill="#cea880"/><rect x="803.19" y="1085.49" width="22.19" height="12.05" fill="#e4cdb1"/><rect x="826.88" y="1085.49" width="22.19" height="12.05" fill="#dddad6"/><rect x="850.57" y="1085.49" width="22.19" height="12.05" fill="#e6dac9"/><rect x="874.26" y="1085.49" width="22.19" height="12.05" fill="#dab994"/><rect x="897.95" y="1085.49" width="22.19" height="12.05" fill="#b3c2dd"/><rect x="921.64" y="1085.49" width="22.19" height="12.05" fill="#97acd2"/><rect x="945.33" y="1085.49" width="22.19" height="12.05" fill="#e4cdb1"/><rect x="969.02" y="1085.49" width="22.19" height="12.05" fill="#e6dac9"/><rect x="992.71" y="1085.49" width="22.19" height="12.05" fill="#cdd6e5"/><rect x="1016.4" y="1085.49" width="22.19" height="12.05" fill="#97acd2"/><rect x="1040.09" y="1085.49" width="22.19" height="12.05" fill="#97acd2"/><rect x="1063.78" y="1085.49" width="22.19" height="12.05" fill="#7486bc"/><rect x="1087.47" y="1085.49" width="22.19" height="12.05" fill="#cdd6e5"/><rect x="1111.16" y="1085.49" width="22.19" height="12.05" fill="#97acd2"/><rect x="661.05" y="1099.05" width="22.19" height="12.05" fill="#dab994"/><rect x="684.74" y="1099.05" width="22.19" height="12.05" fill="#dab994"/><rect x="708.43" y="1099.05" width="22.19" height="12.05" fill="#e6dac9"/><rect x="732.12" y="1099.05" width="22.19" height="12.05" fill="#e6dac9"/><rect x="755.81" y="1099.05" width="22.19" height="12.05" fill="#ad7756"/><rect x="779.5" y="1099.05" width="22.19" height="12.05" fill="#dab994"/><rect x="803.19" y="1099.05" width="22.19" height="12.05" fill="#e6dac9"/><rect x="826.88" y="1099.05" width="22.19" height="12.05" fill="#e4cdb1"/><rect x="850.57" y="1099.05" width="22.19" height="12.05" fill="#dab994"/><rect x="874.26" y="1099.05" width="22.19" height="12.05" fill="#c0926c"/><rect x="897.95" y="1099.05" width="22.19" height="12.05" fill="#b3c2dd"/><rect x="921.64" y="1099.05" width="22.19" height="12.05" fill="#cdd6e5"/><rect x="945.33" y="1099.05" width="22.19" height="12.05" fill="#97acd2"/><rect x="969.02" y="1099.05" width="22.19" height="12.05" fill="#cdd6e5"/><rect x="992.71" y="1099.05" width="22.19" height="12.05" fill="#dddad6"/><rect x="1016.4" y="1099.05" width="22.19" height="12.05" fill="#cdd6e5"/><rect x="1040.09" y="1099.05" width="22.19" height="12.05" fill="#97acd2"/><rect x="1063.78" y="1099.05" width="22.19" height="12.05" fill="#97acd2"/><rect x="1087.47" y="1099.05" width="22.19" height="12.05" fill="#97acd2"/><rect x="1111.16" y="1099.05" width="22.19" height="12.05" fill="#cdd6e5"/><rect x="661.05" y="1112.6" width="22.19" height="12.05" fill="#cea880"/><rect x="684.74" y="1112.6" width="22.19" height="12.05" fill="#ad7756"/><rect x="708.43" y="1112.6" width="22.19" height="12.05" fill="#e6dac9"/><rect x="732.12" y="1112.6" width="22.19" height="12.05" fill="#e4cdb1"/><rect x="755.81" y="1112.6" width="22.19" height="12.05" fill="#dab994"/><rect x="779.5" y="1112.6" width="22.19" height="12.05" fill="#e6dac9"/><rect x="803.19" y="1112.6" width="22.19" height="12.05" fill="#cea880"/><rect x="826.88" y="1112.6" width="22.19" height="12.05" fill="#dab994"/><rect x="850.57" y="1112.6" width="22.19" height="12.05" fill="#dddad6"/><rect x="874.26" y="1112.6" width="22.19" height="12.05" fill="#dab994"/><rect x="897.95" y="1112.6" width="22.19" height="12.05" fill="#cdd6e5"/><rect x="921.64" y="1112.6" width="22.19" height="12.05" fill="#e6dac9"/><rect x="945.33" y="1112.6" width="22.19" height="12.05" fill="#cdd6e5"/><rect x="969.02" y="1112.6" width="22.19" height="12.05" fill="#cdd6e5"/><rect x="992.71" y="1112.6" width="22.19" height="12.05" fill="#b3c2dd"/><rect x="1016.4" y="1112.6" width="22.19" height="12.05" fill="#dddad6"/><rect x="1040.09" y="1112.6" width="22.19" height="12.05" fill="#97acd2"/><rect x="1063.78" y="1112.6" width="22.19" height="12.05" fill="#b3c2dd"/><rect x="1087.47" y="1112.6" width="22.19" height="12.05" fill="#7486bc"/><rect x="1111.16" y="1112.6" width="22.19" height="12.05" fill="#cdd6e5"/><rect x="661.05" y="1126.15" width="22.19" height="12.05" fill="#cea880"/><rect x="684.74" y="1126.15" width="22.19" height="12.05" fill="#e4cdb1"/><rect x="708.43" y="1126.15" width="22.19" height="12.05" fill="#e6dac9"/><rect x="732.12" y="1126.15" width="22.19" height="12.05" fill="#e4cdb1"/><rect x="755.81" y="1126.15" width="22.19" height="12.05" fill="#dab994"/><rect x="779.5" y="1126.15" width="22.19" height="12.05" fill="#e6dac9"/><rect x="803.19" y="1126.15" width="22.19" height="12.05" fill="#cea880"/><rect x="826.88" y="1126.15" width="22.19" height="12.05" fill="#e4cdb1"/><rect x="850.57" y="1126.15" width="22.19" height="12.05" fill="#e4cdb1"/><rect x="874.26" y="1126.15" width="22.19" height="12.05" fill="#cea880"/><rect x="897.95" y="1126.15" width="22.19" height="12.05" fill="#e6dac9"/><rect x="921.64" y="1126.15" width="22.19" height="12.05" fill="#e6dac9"/><rect x="945.33" y="1126.15" width="22.19" height="12.05" fill="#cdd6e5"/><rect x="969.02" y="1126.15" width="22.19" height="12.05" fill="#cdd6e5"/><rect x="992.71" y="1126.15" width="22.19" height="12.05" fill="#dddad6"/><rect x="1016.4" y="1126.15" width="22.19" height="12.05" fill="#7486bc"/><rect x="1040.09" y="1126.15" width="22.19" height="12.05" fill="#b3c2dd"/><rect x="1063.78" y="1126.15" width="22.19" height="12.05" fill="#cdd6e5"/><rect x="1087.47" y="1126.15" width="22.19" height="12.05" fill="#7486bc"/><rect x="1111.16" y="1126.15" width="22.19" height="12.05" fill="#b3c2dd"/><rect x="661.05" y="1139.71" width="22.19" height="12.05" fill="#cea880"/><rect x="684.74" y="1139.71" width="22.19" height="12.05" fill="#dab994"/><rect x="708.43" y="1139.71" width="22.19" height="12.05" fill="#e4cdb1"/><rect x="732.12" y="1139.71" width="22.19" height="12.05" fill="#e6dac9"/><rect x="755.81" y="1139.71" width="22.19" height="12.05" fill="#dab994"/><rect x="779.5" y="1139.71" width="22.19" height="12.05" fill="#e4cdb1"/><rect x="803.19" y="1139.71" width="22.19" height="12.05" fill="#cea880"/><rect x="826.88" y="1139.71" width="22.19" height="12.05" fill="#e6dac9"/><rect x="850.57" y="1139.71" width="22.19" height="12.05" fill="#dab994"/><rect x="874.26" y="1139.71" width="22.19" height="12.05" fill="#dab994"/><rect x="897.95" y="1139.71" width="22.19" height="12.05" fill="#cdd6e5"/><rect x="921.64" y="1139.71" width="22.19" height="12.05" fill="#dddad6"/><rect x="945.33" y="1139.71" width="22.19" height="12.05" fill="#dddad6"/><rect x="969.02" y="1139.71" width="22.19" height="12.05" fill="#dddad6"/><rect x="992.71" y="1139.71" width="22.19" height="12.05" fill="#dddad6"/><rect x="1016.4" y="1139.71" width="22.19" height="12.05" fill="#b3c2dd"/><rect x="1040.09" y="1139.71" width="22.19" height="12.05" fill="#97acd2"/><rect x="1063.78" y="1139.71" width="22.19" height="12.05" fill="#97acd2"/><rect x="1087.47" y="1139.71" width="22.19" height="12.05" fill="#515da3"/><rect x="1111.16" y="1139.71" width="22.19" height="12.05" fill="#dddad6"/><rect x="661.05" y="1153.26" width="22.19" height="12.05" fill="#dddad6"/><rect x="684.74" y="1153.26" width="22.19" height="12.05" fill="#cea880"/><rect x="708.43" y="1153.26" width="22.19" height="12.05" fill="#e6dac9"/><rect x="732.12" y="1153.26" width="22.19" height="12.05" fill="#c0926c"/><rect x="755.81" y="1153.26" width="22.19" height="12.05" fill="#cea880"/><rect x="779.5" y="1153.26" width="22.19" height="12.05" fill="#e4cdb1"/><rect x="803.19" y="1153.26" width="22.19" height="12.05" fill="#dddad6"/><rect x="826.88" y="1153.26" width="22.19" height="12.05" fill="#cea880"/><rect x="850.57" y="1153.26" width="22.19" height="12.05" fill="#e6dac9"/><rect x="874.26" y="1153.26" width="22.19" height="12.05" fill="#dab994"/><rect x="897.95" y="1153.26" width="22.19" height="12.05" fill="#dddad6"/><rect x="921.64" y="1153.26" width="22.19" height="12.05" fill="#cdd6e5"/><rect x="945.33" y="1153.26" width="22.19" height="12.05" fill="#e6dac9"/><rect x="969.02" y="1153.26" width="22.19" height="12.05" fill="#dddad6"/><rect x="992.71" y="1153.26" width="22.19" height="12.05" fill="#e6dac9"/><rect x="1016.4" y="1153.26" width="22.19" height="12.05" fill="#97acd2"/><rect x="1040.09" y="1153.26" width="22.19" height="12.05" fill="#b3c2dd"/><rect x="1063.78" y="1153.26" width="22.19" height="12.05" fill="#b3c2dd"/><rect x="1087.47" y="1153.26" width="22.19" height="12.05" fill="#7486bc"/><rect x="1111.16" y="1153.26" width="22.19" height="12.05" fill="#97acd2"/><rect x="661.05" y="1166.82" width="22.19" height="12.05" fill="#e6dac9"/><rect x="684.74" y="1166.82" width="22.19" height="12.05" fill="#e6dac9"/><rect x="708.43" y="1166.82" width="22.19" height="12.05" fill="#e4cdb1"/><rect x="732.12" y="1166.82" width="22.19" height="12.05" fill="#e6dac9"/><rect x="755.81" y="1166.82" width="22.19" height="12.05" fill="#e4cdb1"/><rect x="779.5" y="1166.82" width="22.19" height="12.05" fill="#dab994"/><rect x="803.19" y="1166.82" width="22.19" height="12.05" fill="#dab994"/><rect x="826.88" y="1166.82" width="22.19" height="12.05" fill="#dab994"/><rect x="850.57" y="1166.82" width="22.19" height="12.05" fill="#dab994"/><rect x="874.26" y="1166.82" width="22.19" height="12.05" fill="#dab994"/><rect x="897.95" y="1166.82" width="22.19" height="12.05" fill="#e6dac9"/><rect x="921.64" y="1166.82" width="22.19" height="12.05" fill="#cdd6e5"/><rect x="945.33" y="1166.82" width="22.19" height="12.05" fill="#e4cdb1"/><rect x="969.02" y="1166.82" width="22.19" height="12.05" fill="#dddad6"/><rect x="992.71" y="1166.82" width="22.19" height="12.05" fill="#e4cdb1"/><rect x="1016.4" y="1166.82" width="22.19" height="12.05" fill="#97acd2"/><rect x="1040.09" y="1166.82" width="22.19" height="12.05" fill="#b3c2dd"/><rect x="1063.78" y="1166.82" width="22.19" height="12.05" fill="#7486bc"/><rect x="1087.47" y="1166.82" width="22.19" height="12.05" fill="#7486bc"/><rect x="1111.16" y="1166.82" width="22.19" height="12.05" fill="#b3c2dd"/><rect x="661.05" y="1180.38" width="22.19" height="12.05" fill="#dab994"/><rect x="684.74" y="1180.38" width="22.19" height="12.05" fill="#dab994"/><rect x="708.43" y="1180.38" width="22.19" height="12.05" fill="#dab994"/><rect x="732.12" y="1180.38" width="22.19" height="12.05" fill="#dab994"/><rect x="755.81" y="1180.38" width="22.19" height="12.05" fill="#dab994"/><rect x="779.5" y="1180.38" width="22.19" height="12.05" fill="#dab994"/><rect x="803.19" y="1180.38" width="22.19" height="12.05" fill="#dab994"/><rect x="826.88" y="1180.38" width="22.19" height="12.05" fill="#dab994"/><rect x="850.57" y="1180.38" width="22.19" height="12.05" fill="#e4cdb1"/><rect x="874.26" y="1180.38" width="22.19" height="12.05" fill="#e4cdb1"/><rect x="897.95" y="1180.38" width="22.19" height="12.05" fill="#dddad6"/><rect x="921.64" y="1180.38" width="22.19" height="12.05" fill="#dddad6"/><rect x="945.33" y="1180.38" width="22.19" height="12.05" fill="#dddad6"/><rect x="969.02" y="1180.38" width="22.19" height="12.05" fill="#dddad6"/><rect x="992.71" y="1180.38" width="22.19" height="12.05" fill="#dddad6"/><rect x="1016.4" y="1180.38" width="22.19" height="12.05" fill="#97acd2"/><rect x="1040.09" y="1180.38" width="22.19" height="12.05" fill="#7486bc"/><rect x="1063.78" y="1180.38" width="22.19" height="12.05" fill="#97acd2"/><rect x="1087.47" y="1180.38" width="22.19" height="12.05" fill="#97acd2"/><rect x="1111.16" y="1180.38" width="22.19" height="12.05" fill="#7486bc"/><rect x="661.05" y="1193.93" width="22.19" height="12.05" fill="#e4cdb1"/><rect x="684.74" y="1193.93" width="22.19" height="12.05" fill="#dab994"/><rect x="708.43" y="1193.93" width="22.19" height="12.05" fill="#cea880"/><rect x="732.12" y="1193.93" width="22.19" height="12.05" fill="#e4cdb1"/><rect x="755.81" y="1193.93" width="22.19" height="12.05" fill="#e6dac9"/><rect x="779.5" y="1193.93" width="22.19" height="12.05" fill="#cea880"/><rect x="803.19" y="1193.93" width="22.19" height="12.05" fill="#e4cdb1"/><rect x="826.88" y="1193.93" width="22.19" height="12.05" fill="#e4cdb1"/><rect x="850.57" y="1193.93" width="22.19" height="12.05" fill="#cea880"/><rect x="874.26" y="1193.93" width="22.19" height="12.05" fill="#dab994"/><rect x="897.95" y="1193.93" width="22.19" height="12.05" fill="#dddad6"/><rect x="921.64" y="1193.93" width="22.19" height="12.05" fill="#e6dac9"/><rect x="945.33" y="1193.93" width="22.19" height="12.05" fill="#dddad6"/><rect x="969.02" y="1193.93" width="22.19" height="12.05" fill="#dddad6"/><rect x="992.71" y="1193.93" width="22.19" height="12.05" fill="#e6dac9"/><rect x="1016.4" y="1193.93" width="22.19" height="12.05" fill="#7486bc"/><rect x="1040.09" y="1193.93" width="22.19" height="12.05" fill="#b3c2dd"/><rect x="1063.78" y="1193.93" width="22.19" height="12.05" fill="#b3c2dd"/><rect x="1087.47" y="1193.93" width="22.19" height="12.05" fill="#7486bc"/><rect x="1111.16" y="1193.93" width="22.19" height="12.05" fill="#97acd2"/><rect x="661.05" y="1207.48" width="22.19" height="12.05" fill="#dddad6"/><rect x="684.74" y="1207.48" width="22.19" height="12.05" fill="#dddad6"/><rect x="708.43" y="1207.48" width="22.19" height="12.05" fill="#e6dac9"/><rect x="732.12" y="1207.48" width="22.19" height="12.05" fill="#cdd6e5"/><rect x="755.81" y="1207.48" width="22.19" height="12.05" fill="#e6dac9"/><rect x="779.5" y="1207.48" width="22.19" height="12.05" fill="#e4cdb1"/><rect x="803.19" y="1207.48" width="22.19" height="12.05" fill="#e6dac9"/><rect x="826.88" y="1207.48" width="22.19" height="12.05" fill="#cdd6e5"/><rect x="850.57" y="1207.48" width="22.19" height="12.05" fill="#dddad6"/><rect x="874.26" y="1207.48" width="22.19" height="12.05" fill="#dddad6"/><rect x="897.95" y="1207.48" width="22.19" height="12.05" fill="#dab994"/><rect x="921.64" y="1207.48" width="22.19" height="12.05" fill="#ad7756"/><rect x="945.33" y="1207.48" width="22.19" height="12.05" fill="#e4cdb1"/><rect x="969.02" y="1207.48" width="22.19" height="12.05" fill="#c0926c"/><rect x="992.71" y="1207.48" width="22.19" height="12.05" fill="#c0926c"/><rect x="1016.4" y="1207.48" width="22.19" height="12.05" fill="#97acd2"/><rect x="1040.09" y="1207.48" width="22.19" height="12.05" fill="#97acd2"/><rect x="1063.78" y="1207.48" width="22.19" height="12.05" fill="#7486bc"/><rect x="1087.47" y="1207.48" width="22.19" height="12.05" fill="#b3c2dd"/><rect x="1111.16" y="1207.48" width="22.19" height="12.05" fill="#b3c2dd"/><rect x="661.05" y="1221.04" width="22.19" height="12.05" fill="#e4cdb1"/><rect x="684.74" y="1221.04" width="22.19" height="12.05" fill="#dab994"/><rect x="708.43" y="1221.04" width="22.19" height="12.05" fill="#dab994"/><rect x="732.12" y="1221.04" width="22.19" height="12.05" fill="#dab994"/><rect x="755.81" y="1221.04" width="22.19" height="12.05" fill="#dab994"/><rect x="779.5" y="1221.04" width="22.19" height="12.05" fill="#dddad6"/><rect x="803.19" y="1221.04" width="22.19" height="12.05" fill="#b3c2dd"/><rect x="826.88" y="1221.04" width="22.19" height="12.05" fill="#b3c2dd"/><rect x="850.57" y="1221.04" width="22.19" height="12.05" fill="#dab994"/><rect x="874.26" y="1221.04" width="22.19" height="12.05" fill="#dab994"/><rect x="897.95" y="1221.04" width="22.19" height="12.05" fill="#dab994"/><rect x="921.64" y="1221.04" width="22.19" height="12.05" fill="#e4cdb1"/><rect x="945.33" y="1221.04" width="22.19" height="12.05" fill="#e4cdb1"/><rect x="969.02" y="1221.04" width="22.19" height="12.05" fill="#dab994"/><rect x="992.71" y="1221.04" width="22.19" height="12.05" fill="#e4cdb1"/><rect x="1016.4" y="1221.04" width="22.19" height="12.05" fill="#b3c2dd"/><rect x="1040.09" y="1221.04" width="22.19" height="12.05" fill="#7486bc"/><rect x="1063.78" y="1221.04" width="22.19" height="12.05" fill="#97acd2"/><rect x="1087.47" y="1221.04" width="22.19" height="12.05" fill="#b3c2dd"/><rect x="1111.16" y="1221.04" width="22.19" height="12.05" fill="#7486bc"/><rect x="661.05" y="1234.6" width="22.19" height="12.05" fill="#c0926c"/><rect x="684.74" y="1234.6" width="22.19" height="12.05" fill="#dddad6"/><rect x="708.43" y="1234.6" width="22.19" height="12.05" fill="#b3c2dd"/><rect x="732.12" y="1234.6" width="22.19" height="12.05" fill="#e4cdb1"/><rect x="755.81" y="1234.6" width="22.19" height="12.05" fill="#dddad6"/><rect x="779.5" y="1234.6" width="22.19" height="12.05" fill="#b3c2dd"/><rect x="803.19" y="1234.6" width="22.19" height="12.05" fill="#e6dac9"/><rect x="826.88" y="1234.6" width="22.19" height="12.05" fill="#c0926c"/><rect x="850.57" y="1234.6" width="22.19" height="12.05" fill="#e4cdb1"/><rect x="874.26" y="1234.6" width="22.19" height="12.05" fill="#e6dac9"/><rect x="897.95" y="1234.6" width="22.19" height="12.05" fill="#dddad6"/><rect x="921.64" y="1234.6" width="22.19" height="12.05" fill="#e6dac9"/><rect x="945.33" y="1234.6" width="22.19" height="12.05" fill="#dddad6"/><rect x="969.02" y="1234.6" width="22.19" height="12.05" fill="#cea880"/><rect x="992.71" y="1234.6" width="22.19" height="12.05" fill="#dddad6"/><rect x="1016.4" y="1234.6" width="22.19" height="12.05" fill="#e6dac9"/><rect x="1040.09" y="1234.6" width="22.19" height="12.05" fill="#97acd2"/><rect x="1063.78" y="1234.6" width="22.19" height="12.05" fill="#b3c2dd"/><rect x="1087.47" y="1234.6" width="22.19" height="12.05" fill="#e6dac9"/><rect x="1111.16" y="1234.6" width="22.19" height="12.05" fill="#7486bc"/><rect x="661.05" y="1248.15" width="22.19" height="12.05" fill="#dab994"/><rect x="684.74" y="1248.15" width="22.19" height="12.05" fill="#cea880"/><rect x="708.43" y="1248.15" width="22.19" height="12.05" fill="#cea880"/><rect x="732.12" y="1248.15" width="22.19" height="12.05" fill="#cea880"/><rect x="755.81" y="1248.15" width="22.19" height="12.05" fill="#cea880"/><rect x="779.5" y="1248.15" width="22.19" height="12.05" fill="#b3c2dd"/><rect x="803.19" y="1248.15" width="22.19" height="12.05" fill="#97acd2"/><rect x="826.88" y="1248.15" width="22.19" height="12.05" fill="#cea880"/><rect x="850.57" y="1248.15" width="22.19" height="12.05" fill="#e4cdb1"/><rect x="874.26" y="1248.15" width="22.19" height="12.05" fill="#e4cdb1"/><rect x="897.95" y="1248.15" width="22.19" height="12.05" fill="#cdd6e5"/><rect x="921.64" y="1248.15" width="22.19" height="12.05" fill="#cdd6e5"/><rect x="945.33" y="1248.15" width="22.19" height="12.05" fill="#dddad6"/><rect x="969.02" y="1248.15" width="22.19" height="12.05" fill="#e4cdb1"/><rect x="992.71" y="1248.15" width="22.19" height="12.05" fill="#dddad6"/><rect x="1016.4" y="1248.15" width="22.19" height="12.05" fill="#97acd2"/><rect x="1040.09" y="1248.15" width="22.19" height="12.05" fill="#97acd2"/><rect x="1063.78" y="1248.15" width="22.19" height="12.05" fill="#b3c2dd"/><rect x="1087.47" y="1248.15" width="22.19" height="12.05" fill="#b3c2dd"/><rect x="1111.16" y="1248.15" width="22.19" height="12.05" fill="#cdd6e5"/><rect x="661.05" y="1261.7" width="22.19" height="12.05" fill="#e4cdb1"/><rect x="684.74" y="1261.7" width="22.19" height="12.05" fill="#dab994"/><rect x="708.43" y="1261.7" width="22.19" height="12.05" fill="#cea880"/><rect x="732.12" y="1261.7" width="22.19" height="12.05" fill="#dab994"/><rect x="755.81" y="1261.7" width="22.19" height="12.05" fill="#dab994"/><rect x="779.5" y="1261.7" width="22.19" height="12.05" fill="#b3c2dd"/><rect x="803.19" y="1261.7" width="22.19" height="12.05" fill="#97acd2"/><rect x="826.88" y="1261.7" width="22.19" height="12.05" fill="#dab994"/><rect x="850.57" y="1261.7" width="22.19" height="12.05" fill="#dab994"/><rect x="874.26" y="1261.7" width="22.19" height="12.05" fill="#dab994"/><rect x="897.95" y="1261.7" width="22.19" height="12.05" fill="#dddad6"/><rect x="921.64" y="1261.7" width="22.19" height="12.05" fill="#97acd2"/><rect x="945.33" y="1261.7" width="22.19" height="12.05" fill="#cdd6e5"/><rect x="969.02" y="1261.7" width="22.19" height="12.05" fill="#dddad6"/><rect x="992.71" y="1261.7" width="22.19" height="12.05" fill="#e4cdb1"/><rect x="1016.4" y="1261.7" width="22.19" height="12.05" fill="#b3c2dd"/><rect x="1040.09" y="1261.7" width="22.19" height="12.05" fill="#e4cdb1"/><rect x="1063.78" y="1261.7" width="22.19" height="12.05" fill="#cdd6e5"/><rect x="1087.47" y="1261.7" width="22.19" height="12.05" fill="#b3c2dd"/><rect x="1111.16" y="1261.7" width="22.19" height="12.05" fill="#97acd2"/><rect x="661.05" y="1275.26" width="22.19" height="12.05" fill="#e4cdb1"/><rect x="684.74" y="1275.26" width="22.19" height="12.05" fill="#cea880"/><rect x="708.43" y="1275.26" width="22.19" height="12.05" fill="#dab994"/><rect x="732.12" y="1275.26" width="22.19" height="12.05" fill="#e4cdb1"/><rect x="755.81" y="1275.26" width="22.19" height="12.05" fill="#dab994"/><rect x="779.5" y="1275.26" width="22.19" height="12.05" fill="#cdd6e5"/><rect x="803.19" y="1275.26" width="22.19" height="12.05" fill="#e6dac9"/><rect x="826.88" y="1275.26" width="22.19" height="12.05" fill="#cdd6e5"/><rect x="850.57" y="1275.26" width="22.19" height="12.05" fill="#b3c2dd"/><rect x="874.26" y="1275.26" width="22.19" height="12.05" fill="#e4cdb1"/><rect x="897.95" y="1275.26" width="22.19" height="12.05" fill="#cdd6e5"/><rect x="921.64" y="1275.26" width="22.19" height="12.05" fill="#cdd6e5"/><rect x="945.33" y="1275.26" width="22.19" height="12.05" fill="#cdd6e5"/><rect x="969.02" y="1275.26" width="22.19" height="12.05" fill="#b3c2dd"/><rect x="992.71" y="1275.26" width="22.19" height="12.05" fill="#97acd2"/><rect x="1016.4" y="1275.26" width="22.19" height="12.05" fill="#dddad6"/><rect x="1040.09" y="1275.26" width="22.19" height="12.05" fill="#cdd6e5"/><rect x="1063.78" y="1275.26" width="22.19" height="12.05" fill="#93553b"/><rect x="1087.47" y="1275.26" width="22.19" height="12.05" fill="#97acd2"/><rect x="1111.16" y="1275.26" width="22.19" height="12.05" fill="#dddad6"/><rect x="661.05" y="1288.82" width="22.19" height="12.05" fill="#b3c2dd"/><rect x="684.74" y="1288.82" width="22.19" height="12.05" fill="#dab994"/><rect x="708.43" y="1288.82" width="22.19" height="12.05" fill="#e4cdb1"/><rect x="732.12" y="1288.82" width="22.19" height="12.05" fill="#e4cdb1"/><rect x="755.81" y="1288.82" width="22.19" height="12.05" fill="#e4cdb1"/><rect x="779.5" y="1288.82" width="22.19" height="12.05" fill="#e4cdb1"/><rect x="803.19" y="1288.82" width="22.19" height="12.05" fill="#dab994"/><rect x="826.88" y="1288.82" width="22.19" height="12.05" fill="#b3c2dd"/><rect x="850.57" y="1288.82" width="22.19" height="12.05" fill="#e4cdb1"/><rect x="874.26" y="1288.82" width="22.19" height="12.05" fill="#e4cdb1"/><rect x="897.95" y="1288.82" width="22.19" height="12.05" fill="#97acd2"/><rect x="921.64" y="1288.82" width="22.19" height="12.05" fill="#97acd2"/><rect x="945.33" y="1288.82" width="22.19" height="12.05" fill="#e4cdb1"/><rect x="969.02" y="1288.82" width="22.19" height="12.05" fill="#b3c2dd"/><rect x="992.71" y="1288.82" width="22.19" height="12.05" fill="#dddad6"/><rect x="1016.4" y="1288.82" width="22.19" height="12.05" fill="#dddad6"/><rect x="1040.09" y="1288.82" width="22.19" height="12.05" fill="#97acd2"/><rect x="1063.78" y="1288.82" width="22.19" height="12.05" fill="#cea880"/><rect x="1087.47" y="1288.82" width="22.19" height="12.05" fill="#97acd2"/><rect x="1111.16" y="1288.82" width="22.19" height="12.05" fill="#c0926c"/><rect x="661.05" y="1302.37" width="22.19" height="12.05" fill="#e6dac9"/><rect x="684.74" y="1302.37" width="22.19" height="12.05" fill="#c0926c"/><rect x="708.43" y="1302.37" width="22.19" height="12.05" fill="#e6dac9"/><rect x="732.12" y="1302.37" width="22.19" height="12.05" fill="#cea880"/><rect x="755.81" y="1302.37" width="22.19" height="12.05" fill="#e4cdb1"/><rect x="779.5" y="1302.37" width="22.19" height="12.05" fill="#b3c2dd"/><rect x="803.19" y="1302.37" width="22.19" height="12.05" fill="#97acd2"/><rect x="826.88" y="1302.37" width="22.19" height="12.05" fill="#b3c2dd"/><rect x="850.57" y="1302.37" width="22.19" height="12.05" fill="#97acd2"/><rect x="874.26" y="1302.37" width="22.19" height="12.05" fill="#b3c2dd"/><rect x="897.95" y="1302.37" width="22.19" height="12.05" fill="#cdd6e5"/><rect x="921.64" y="1302.37" width="22.19" height="12.05" fill="#dddad6"/><rect x="945.33" y="1302.37" width="22.19" height="12.05" fill="#e6dac9"/><rect x="969.02" y="1302.37" width="22.19" height="12.05" fill="#b3c2dd"/><rect x="992.71" y="1302.37" width="22.19" height="12.05" fill="#cea880"/><rect x="1016.4" y="1302.37" width="22.19" height="12.05" fill="#cea880"/><rect x="1040.09" y="1302.37" width="22.19" height="12.05" fill="#dab994"/><rect x="1063.78" y="1302.37" width="22.19" height="12.05" fill="#dab994"/><rect x="1087.47" y="1302.37" width="22.19" height="12.05" fill="#b3c2dd"/><rect x="1111.16" y="1302.37" width="22.19" height="12.05" fill="#dddad6"/><rect x="661.05" y="1315.92" width="22.19" height="12.05" fill="#dddad6"/><rect x="684.74" y="1315.92" width="22.19" height="12.05" fill="#e4cdb1"/><rect x="708.43" y="1315.92" width="22.19" height="12.05" fill="#e6dac9"/><rect x="732.12" y="1315.92" width="22.19" height="12.05" fill="#e4cdb1"/><rect x="755.81" y="1315.92" width="22.19" height="12.05" fill="#e6dac9"/><rect x="779.5" y="1315.92" width="22.19" height="12.05" fill="#b3c2dd"/><rect x="803.19" y="1315.92" width="22.19" height="12.05" fill="#cdd6e5"/><rect x="826.88" y="1315.92" width="22.19" height="12.05" fill="#b3c2dd"/><rect x="850.57" y="1315.92" width="22.19" height="12.05" fill="#cdd6e5"/><rect x="874.26" y="1315.92" width="22.19" height="12.05" fill="#b3c2dd"/><rect x="897.95" y="1315.92" width="22.19" height="12.05" fill="#97acd2"/><rect x="921.64" y="1315.92" width="22.19" height="12.05" fill="#cdd6e5"/><rect x="945.33" y="1315.92" width="22.19" height="12.05" fill="#97acd2"/><rect x="969.02" y="1315.92" width="22.19" height="12.05" fill="#cdd6e5"/><rect x="992.71" y="1315.92" width="22.19" height="12.05" fill="#b3c2dd"/><rect x="1016.4" y="1315.92" width="22.19" height="12.05" fill="#c0926c"/><rect x="1040.09" y="1315.92" width="22.19" height="12.05" fill="#cea880"/><rect x="1063.78" y="1315.92" width="22.19" height="12.05" fill="#c0926c"/><rect x="1087.47" y="1315.92" width="22.19" height="12.05" fill="#dab994"/><rect x="1111.16" y="1315.92" width="22.19" height="12.05" fill="#cea880"/><rect x="661.05" y="1329.48" width="22.19" height="12.05" fill="#dab994"/><rect x="684.74" y="1329.48" width="22.19" height="12.05" fill="#dab994"/><rect x="708.43" y="1329.48" width="22.19" height="12.05" fill="#e6dac9"/><rect x="732.12" y="1329.48" width="22.19" height="12.05" fill="#dab994"/><rect x="755.81" y="1329.48" width="22.19" height="12.05" fill="#e6dac9"/><rect x="779.5" y="1329.48" width="22.19" height="12.05" fill="#b3c2dd"/><rect x="803.19" y="1329.48" width="22.19" height="12.05" fill="#b3c2dd"/><rect x="826.88" y="1329.48" width="22.19" height="12.05" fill="#b3c2dd"/><rect x="850.57" y="1329.48" width="22.19" height="12.05" fill="#b3c2dd"/><rect x="874.26" y="1329.48" width="22.19" height="12.05" fill="#97acd2"/><rect x="897.95" y="1329.48" width="22.19" height="12.05" fill="#97acd2"/><rect x="921.64" y="1329.48" width="22.19" height="12.05" fill="#cdd6e5"/><rect x="945.33" y="1329.48" width="22.19" height="12.05" fill="#b3c2dd"/><rect x="969.02" y="1329.48" width="22.19" height="12.05" fill="#dab994"/><rect x="992.71" y="1329.48" width="22.19" height="12.05" fill="#e6dac9"/><rect x="1016.4" y="1329.48" width="22.19" height="12.05" fill="#e6dac9"/><rect x="1040.09" y="1329.48" width="22.19" height="12.05" fill="#cdd6e5"/><rect x="1063.78" y="1329.48" width="22.19" height="12.05" fill="#e6dac9"/><rect x="1087.47" y="1329.48" width="22.19" height="12.05" fill="#c0926c"/><rect x="1111.16" y="1329.48" width="22.19" height="12.05" fill="#ad7756"/><rect x="661.05" y="1343.03" width="22.19" height="12.05" fill="#cdd6e5"/><rect x="684.74" y="1343.03" width="22.19" height="12.05" fill="#cdd6e5"/><rect x="708.43" y="1343.03" width="22.19" height="12.05" fill="#dddad6"/><rect x="732.12" y="1343.03" width="22.19" height="12.05" fill="#dddad6"/><rect x="755.81" y="1343.03" width="22.19" height="12.05" fill="#b3c2dd"/><rect x="779.5" y="1343.03" width="22.19" height="12.05" fill="#e4cdb1"/><rect x="803.19" y="1343.03" width="22.19" height="12.05" fill="#b3c2dd"/><rect x="826.88" y="1343.03" width="22.19" height="12.05" fill="#515da3"/><rect x="850.57" y="1343.03" width="22.19" height="12.05" fill="#dddad6"/><rect x="874.26" y="1343.03" width="22.19" height="12.05" fill="#cdd6e5"/><rect x="897.95" y="1343.03" width="22.19" height="12.05" fill="#cdd6e5"/><rect x="921.64" y="1343.03" width="22.19" height="12.05" fill="#e6dac9"/><rect x="945.33" y="1343.03" width="22.19" height="12.05" fill="#dab994"/><rect x="969.02" y="1343.03" width="22.19" height="12.05" fill="#b3c2dd"/><rect x="992.71" y="1343.03" width="22.19" height="12.05" fill="#dddad6"/><rect x="1016.4" y="1343.03" width="22.19" height="12.05" fill="#c0926c"/><rect x="1040.09" y="1343.03" width="22.19" height="12.05" fill="#e4cdb1"/><rect x="1063.78" y="1343.03" width="22.19" height="12.05" fill="#dab994"/><rect x="1087.47" y="1343.03" width="22.19" height="12.05" fill="#dab994"/><rect x="1111.16" y="1343.03" width="22.19" height="12.05" fill="#ad7756"/><rect x="661.05" y="1356.59" width="22.19" height="12.05" fill="#cdd6e5"/><rect x="684.74" y="1356.59" width="22.19" height="12.05" fill="#dddad6"/><rect x="708.43" y="1356.59" width="22.19" height="12.05" fill="#dddad6"/><rect x="732.12" y="1356.59" width="22.19" height="12.05" fill="#dddad6"/><rect x="755.81" y="1356.59" width="22.19" height="12.05" fill="#e6dac9"/><rect x="779.5" y="1356.59" width="22.19" height="12.05" fill="#b3c2dd"/><rect x="803.19" y="1356.59" width="22.19" height="12.05" fill="#97acd2"/><rect x="826.88" y="1356.59" width="22.19" height="12.05" fill="#b3c2dd"/><rect x="850.57" y="1356.59" width="22.19" height="12.05" fill="#97acd2"/><rect x="874.26" y="1356.59" width="22.19" height="12.05" fill="#97acd2"/><rect x="897.95" y="1356.59" width="22.19" height="12.05" fill="#97acd2"/><rect x="921.64" y="1356.59" width="22.19" height="12.05" fill="#e4cdb1"/><rect x="945.33" y="1356.59" width="22.19" height="12.05" fill="#e4cdb1"/><rect x="969.02" y="1356.59" width="22.19" height="12.05" fill="#e6dac9"/><rect x="992.71" y="1356.59" width="22.19" height="12.05" fill="#e4cdb1"/><rect x="1016.4" y="1356.59" width="22.19" height="12.05" fill="#c0926c"/><rect x="1040.09" y="1356.59" width="22.19" height="12.05" fill="#cea880"/><rect x="1063.78" y="1356.59" width="22.19" height="12.05" fill="#cea880"/><rect x="1087.47" y="1356.59" width="22.19" height="12.05" fill="#dab994"/><rect x="1111.16" y="1356.59" width="22.19" height="12.05" fill="#dab994"/><rect x="661.05" y="1370.14" width="22.19" height="12.05" fill="#cdd6e5"/><rect x="684.74" y="1370.14" width="22.19" height="12.05" fill="#cdd6e5"/><rect x="708.43" y="1370.14" width="22.19" height="12.05" fill="#dddad6"/><rect x="732.12" y="1370.14" width="22.19" height="12.05" fill="#cdd6e5"/><rect x="755.81" y="1370.14" width="22.19" height="12.05" fill="#b3c2dd"/><rect x="779.5" y="1370.14" width="22.19" height="12.05" fill="#b3c2dd"/><rect x="803.19" y="1370.14" width="22.19" height="12.05" fill="#97acd2"/><rect x="826.88" y="1370.14" width="22.19" height="12.05" fill="#97acd2"/><rect x="850.57" y="1370.14" width="22.19" height="12.05" fill="#cdd6e5"/><rect x="874.26" y="1370.14" width="22.19" height="12.05" fill="#b3c2dd"/><rect x="897.95" y="1370.14" width="22.19" height="12.05" fill="#e4cdb1"/><rect x="921.64" y="1370.14" width="22.19" height="12.05" fill="#e4cdb1"/><rect x="945.33" y="1370.14" width="22.19" height="12.05" fill="#e4cdb1"/><rect x="969.02" y="1370.14" width="22.19" height="12.05" fill="#cdd6e5"/><rect x="992.71" y="1370.14" width="22.19" height="12.05" fill="#e4cdb1"/><rect x="1016.4" y="1370.14" width="22.19" height="12.05" fill="#cea880"/><rect x="1040.09" y="1370.14" width="22.19" height="12.05" fill="#c0926c"/><rect x="1063.78" y="1370.14" width="22.19" height="12.05" fill="#c0926c"/><rect x="1087.47" y="1370.14" width="22.19" height="12.05" fill="#e6dac9"/><rect x="1111.16" y="1370.14" width="22.19" height="12.05" fill="#c0926c"/><rect x="661.05" y="1383.7" width="22.19" height="12.05" fill="#cdd6e5"/><rect x="684.74" y="1383.7" width="22.19" height="12.05" fill="#cdd6e5"/><rect x="708.43" y="1383.7" width="22.19" height="12.05" fill="#cdd6e5"/><rect x="732.12" y="1383.7" width="22.19" height="12.05" fill="#cdd6e5"/><rect x="755.81" y="1383.7" width="22.19" height="12.05" fill="#cdd6e5"/><rect x="779.5" y="1383.7" width="22.19" height="12.05" fill="#b3c2dd"/><rect x="803.19" y="1383.7" width="22.19" height="12.05" fill="#97acd2"/><rect x="826.88" y="1383.7" width="22.19" height="12.05" fill="#b3c2dd"/><rect x="850.57" y="1383.7" width="22.19" height="12.05" fill="#7486bc"/><rect x="874.26" y="1383.7" width="22.19" height="12.05" fill="#97acd2"/><rect x="897.95" y="1383.7" width="22.19" height="12.05" fill="#e4cdb1"/><rect x="921.64" y="1383.7" width="22.19" height="12.05" fill="#e6dac9"/><rect x="945.33" y="1383.7" width="22.19" height="12.05" fill="#dab994"/><rect x="969.02" y="1383.7" width="22.19" height="12.05" fill="#e6dac9"/><rect x="992.71" y="1383.7" width="22.19" height="12.05" fill="#e4cdb1"/><rect x="1016.4" y="1383.7" width="22.19" height="12.05" fill="#c0926c"/><rect x="1040.09" y="1383.7" width="22.19" height="12.05" fill="#cea880"/><rect x="1063.78" y="1383.7" width="22.19" height="12.05" fill="#cea880"/><rect x="1087.47" y="1383.7" width="22.19" height="12.05" fill="#cea880"/><rect x="1111.16" y="1383.7" width="22.19" height="12.05" fill="#dab994"/><rect x="661.05" y="1397.25" width="22.19" height="12.05" fill="#cdd6e5"/><rect x="684.74" y="1397.25" width="22.19" height="12.05" fill="#cdd6e5"/><rect x="708.43" y="1397.25" width="22.19" height="12.05" fill="#b3c2dd"/><rect x="732.12" y="1397.25" width="22.19" height="12.05" fill="#dddad6"/><rect x="755.81" y="1397.25" width="22.19" height="12.05" fill="#b3c2dd"/><rect x="779.5" y="1397.25" width="22.19" height="12.05" fill="#b3c2dd"/><rect x="803.19" y="1397.25" width="22.19" height="12.05" fill="#97acd2"/><rect x="826.88" y="1397.25" width="22.19" height="12.05" fill="#b3c2dd"/><rect x="850.57" y="1397.25" width="22.19" height="12.05" fill="#cdd6e5"/><rect x="874.26" y="1397.25" width="22.19" height="12.05" fill="#7486bc"/><rect x="897.95" y="1397.25" width="22.19" height="12.05" fill="#e4cdb1"/><rect x="921.64" y="1397.25" width="22.19" height="12.05" fill="#e4cdb1"/><rect x="945.33" y="1397.25" width="22.19" height="12.05" fill="#dab994"/><rect x="969.02" y="1397.25" width="22.19" height="12.05" fill="#e6dac9"/><rect x="992.71" y="1397.25" width="22.19" height="12.05" fill="#e6dac9"/><rect x="1016.4" y="1397.25" width="22.19" height="12.05" fill="#c0926c"/><rect x="1040.09" y="1397.25" width="22.19" height="12.05" fill="#dab994"/><rect x="1063.78" y="1397.25" width="22.19" height="12.05" fill="#c0926c"/><rect x="1087.47" y="1397.25" width="22.19" height="12.05" fill="#dab994"/><rect x="1111.16" y="1397.25" width="22.19" height="12.05" fill="#cea880"/><rect x="661.05" y="1410.81" width="22.19" height="12.05" fill="#cdd6e5"/><rect x="684.74" y="1410.81" width="22.19" height="12.05" fill="#cdd6e5"/><rect x="708.43" y="1410.81" width="22.19" height="12.05" fill="#97acd2"/><rect x="732.12" y="1410.81" width="22.19" height="12.05" fill="#97acd2"/><rect x="755.81" y="1410.81" width="22.19" height="12.05" fill="#7486bc"/><rect x="779.5" y="1410.81" width="22.19" height="12.05" fill="#dddad6"/><rect x="803.19" y="1410.81" width="22.19" height="12.05" fill="#dddad6"/><rect x="826.88" y="1410.81" width="22.19" height="12.05" fill="#dddad6"/><rect x="850.57" y="1410.81" width="22.19" height="12.05" fill="#e6dac9"/><rect x="874.26" y="1410.81" width="22.19" height="12.05" fill="#cdd6e5"/><rect x="897.95" y="1410.81" width="22.19" height="12.05" fill="#dddad6"/><rect x="921.64" y="1410.81" width="22.19" height="12.05" fill="#e4cdb1"/><rect x="945.33" y="1410.81" width="22.19" height="12.05" fill="#cdd6e5"/><rect x="969.02" y="1410.81" width="22.19" height="12.05" fill="#dddad6"/><rect x="992.71" y="1410.81" width="22.19" height="12.05" fill="#dab994"/><rect x="1016.4" y="1410.81" width="22.19" height="12.05" fill="#ad7756"/><rect x="1040.09" y="1410.81" width="22.19" height="12.05" fill="#dab994"/><rect x="1063.78" y="1410.81" width="22.19" height="12.05" fill="#ad7756"/><rect x="1087.47" y="1410.81" width="22.19" height="12.05" fill="#cea880"/><rect x="1111.16" y="1410.81" width="22.19" height="12.05" fill="#cdd6e5"/><rect x="661.05" y="1424.37" width="22.19" height="12.05" fill="#cdd6e5"/><rect x="684.74" y="1424.37" width="22.19" height="12.05" fill="#e6dac9"/><rect x="708.43" y="1424.37" width="22.19" height="12.05" fill="#b3c2dd"/><rect x="732.12" y="1424.37" width="22.19" height="12.05" fill="#b3c2dd"/><rect x="755.81" y="1424.37" width="22.19" height="12.05" fill="#97acd2"/><rect x="779.5" y="1424.37" width="22.19" height="12.05" fill="#b3c2dd"/><rect x="803.19" y="1424.37" width="22.19" height="12.05" fill="#e6dac9"/><rect x="826.88" y="1424.37" width="22.19" height="12.05" fill="#cdd6e5"/><rect x="850.57" y="1424.37" width="22.19" height="12.05" fill="#b3c2dd"/><rect x="874.26" y="1424.37" width="22.19" height="12.05" fill="#97acd2"/><rect x="897.95" y="1424.37" width="22.19" height="12.05" fill="#cdd6e5"/><rect x="921.64" y="1424.37" width="22.19" height="12.05" fill="#cdd6e5"/><rect x="945.33" y="1424.37" width="22.19" height="12.05" fill="#dab994"/><rect x="969.02" y="1424.37" width="22.19" height="12.05" fill="#e6dac9"/><rect x="992.71" y="1424.37" width="22.19" height="12.05" fill="#e6dac9"/><rect x="1016.4" y="1424.37" width="22.19" height="12.05" fill="#c0926c"/><rect x="1040.09" y="1424.37" width="22.19" height="12.05" fill="#cea880"/><rect x="1063.78" y="1424.37" width="22.19" height="12.05" fill="#c0926c"/><rect x="1087.47" y="1424.37" width="22.19" height="12.05" fill="#cea880"/><rect x="1111.16" y="1424.37" width="22.19" height="12.05" fill="#dab994"/><rect x="661.05" y="1437.92" width="22.19" height="12.05" fill="#cdd6e5"/><rect x="684.74" y="1437.92" width="22.19" height="12.05" fill="#b3c2dd"/><rect x="708.43" y="1437.92" width="22.19" height="12.05" fill="#b3c2dd"/><rect x="732.12" y="1437.92" width="22.19" height="12.05" fill="#cdd6e5"/><rect x="755.81" y="1437.92" width="22.19" height="12.05" fill="#97acd2"/><rect x="779.5" y="1437.92" width="22.19" height="12.05" fill="#cdd6e5"/><rect x="803.19" y="1437.92" width="22.19" height="12.05" fill="#cdd6e5"/><rect x="826.88" y="1437.92" width="22.19" height="12.05" fill="#b3c2dd"/><rect x="850.57" y="1437.92" width="22.19" height="12.05" fill="#b3c2dd"/><rect x="874.26" y="1437.92" width="22.19" height="12.05" fill="#97acd2"/><rect x="897.95" y="1437.92" width="22.19" height="12.05" fill="#e6dac9"/><rect x="921.64" y="1437.92" width="22.19" height="12.05" fill="#e6dac9"/><rect x="945.33" y="1437.92" width="22.19" height="12.05" fill="#e6dac9"/><rect x="969.02" y="1437.92" width="22.19" height="12.05" fill="#e6dac9"/><rect x="992.71" y="1437.92" width="22.19" height="12.05" fill="#e4cdb1"/><rect x="1016.4" y="1437.92" width="22.19" height="12.05" fill="#cea880"/><rect x="1040.09" y="1437.92" width="22.19" height="12.05" fill="#c0926c"/><rect x="1063.78" y="1437.92" width="22.19" height="12.05" fill="#ad7756"/><rect x="1087.47" y="1437.92" width="22.19" height="12.05" fill="#cea880"/><rect x="1111.16" y="1437.92" width="22.19" height="12.05" fill="#dab994"/><rect x="661.05" y="1451.47" width="22.19" height="12.05" fill="#cdd6e5"/><rect x="684.74" y="1451.47" width="22.19" height="12.05" fill="#dddad6"/><rect x="708.43" y="1451.47" width="22.19" height="12.05" fill="#97acd2"/><rect x="732.12" y="1451.47" width="22.19" height="12.05" fill="#b3c2dd"/><rect x="755.81" y="1451.47" width="22.19" height="12.05" fill="#97acd2"/><rect x="779.5" y="1451.47" width="22.19" height="12.05" fill="#cdd6e5"/><rect x="803.19" y="1451.47" width="22.19" height="12.05" fill="#dddad6"/><rect x="826.88" y="1451.47" width="22.19" height="12.05" fill="#97acd2"/><rect x="850.57" y="1451.47" width="22.19" height="12.05" fill="#b3c2dd"/><rect x="874.26" y="1451.47" width="22.19" height="12.05" fill="#97acd2"/><rect x="897.95" y="1451.47" width="22.19" height="12.05" fill="#e4cdb1"/><rect x="921.64" y="1451.47" width="22.19" height="12.05" fill="#e6dac9"/><rect x="945.33" y="1451.47" width="22.19" height="12.05" fill="#e6dac9"/><rect x="969.02" y="1451.47" width="22.19" height="12.05" fill="#e6dac9"/><rect x="992.71" y="1451.47" width="22.19" height="12.05" fill="#e4cdb1"/><rect x="1016.4" y="1451.47" width="22.19" height="12.05" fill="#e6dac9"/><rect x="1040.09" y="1451.47" width="22.19" height="12.05" fill="#c0926c"/><rect x="1063.78" y="1451.47" width="22.19" height="12.05" fill="#c0926c"/><rect x="1087.47" y="1451.47" width="22.19" height="12.05" fill="#c0926c"/><rect x="1111.16" y="1451.47" width="22.19" height="12.05" fill="#cea880"/><rect x="661.05" y="1465.03" width="22.19" height="12.05" fill="#cdd6e5"/><rect x="684.74" y="1465.03" width="22.19" height="12.05" fill="#dddad6"/><rect x="708.43" y="1465.03" width="22.19" height="12.05" fill="#cdd6e5"/><rect x="732.12" y="1465.03" width="22.19" height="12.05" fill="#7486bc"/><rect x="755.81" y="1465.03" width="22.19" height="12.05" fill="#b3c2dd"/><rect x="779.5" y="1465.03" width="22.19" height="12.05" fill="#cdd6e5"/><rect x="803.19" y="1465.03" width="22.19" height="12.05" fill="#cdd6e5"/><rect x="826.88" y="1465.03" width="22.19" height="12.05" fill="#b3c2dd"/><rect x="850.57" y="1465.03" width="22.19" height="12.05" fill="#dddad6"/><rect x="874.26" y="1465.03" width="22.19" height="12.05" fill="#e6dac9"/><rect x="897.95" y="1465.03" width="22.19" height="12.05" fill="#dddad6"/><rect x="921.64" y="1465.03" width="22.19" height="12.05" fill="#e6dac9"/><rect x="945.33" y="1465.03" width="22.19" height="12.05" fill="#e4cdb1"/><rect x="969.02" y="1465.03" width="22.19" height="12.05" fill="#dddad6"/><rect x="992.71" y="1465.03" width="22.19" height="12.05" fill="#dab994"/><rect x="1016.4" y="1465.03" width="22.19" height="12.05" fill="#c0926c"/><rect x="1040.09" y="1465.03" width="22.19" height="12.05" fill="#ad7756"/><rect x="1063.78" y="1465.03" width="22.19" height="12.05" fill="#97acd2"/><rect x="1087.47" y="1465.03" width="22.19" height="12.05" fill="#cea880"/><rect x="1111.16" y="1465.03" width="22.19" height="12.05" fill="#cea880"/><rect x="661.05" y="1478.59" width="22.19" height="12.05" fill="#97acd2"/><rect x="684.74" y="1478.59" width="22.19" height="12.05" fill="#b3c2dd"/><rect x="708.43" y="1478.59" width="22.19" height="12.05" fill="#cdd6e5"/><rect x="732.12" y="1478.59" width="22.19" height="12.05" fill="#b3c2dd"/><rect x="755.81" y="1478.59" width="22.19" height="12.05" fill="#b3c2dd"/><rect x="779.5" y="1478.59" width="22.19" height="12.05" fill="#cdd6e5"/><rect x="803.19" y="1478.59" width="22.19" height="12.05" fill="#b3c2dd"/><rect x="826.88" y="1478.59" width="22.19" height="12.05" fill="#b3c2dd"/><rect x="850.57" y="1478.59" width="22.19" height="12.05" fill="#e6dac9"/><rect x="874.26" y="1478.59" width="22.19" height="12.05" fill="#b3c2dd"/><rect x="897.95" y="1478.59" width="22.19" height="12.05" fill="#e4cdb1"/><rect x="921.64" y="1478.59" width="22.19" height="12.05" fill="#e6dac9"/><rect x="945.33" y="1478.59" width="22.19" height="12.05" fill="#e6dac9"/><rect x="969.02" y="1478.59" width="22.19" height="12.05" fill="#e6dac9"/><rect x="992.71" y="1478.59" width="22.19" height="12.05" fill="#e6dac9"/><rect x="1016.4" y="1478.59" width="22.19" height="12.05" fill="#cea880"/><rect x="1040.09" y="1478.59" width="22.19" height="12.05" fill="#cea880"/><rect x="1063.78" y="1478.59" width="22.19" height="12.05" fill="#cea880"/><rect x="1087.47" y="1478.59" width="22.19" height="12.05" fill="#cea880"/><rect x="1111.16" y="1478.59" width="22.19" height="12.05" fill="#cea880"/><rect x="661.05" y="1492.14" width="22.19" height="12.05" fill="#b3c2dd"/><rect x="684.74" y="1492.14" width="22.19" height="12.05" fill="#b3c2dd"/><rect x="708.43" y="1492.14" width="22.19" height="12.05" fill="#b3c2dd"/><rect x="732.12" y="1492.14" width="22.19" height="12.05" fill="#b3c2dd"/><rect x="755.81" y="1492.14" width="22.19" height="12.05" fill="#b3c2dd"/><rect x="779.5" y="1492.14" width="22.19" height="12.05" fill="#b3c2dd"/><rect x="803.19" y="1492.14" width="22.19" height="12.05" fill="#cdd6e5"/><rect x="826.88" y="1492.14" width="22.19" height="12.05" fill="#cdd6e5"/><rect x="850.57" y="1492.14" width="22.19" height="12.05" fill="#b3c2dd"/><rect x="874.26" y="1492.14" width="22.19" height="12.05" fill="#b3c2dd"/><rect x="897.95" y="1492.14" width="22.19" height="12.05" fill="#e6dac9"/><rect x="921.64" y="1492.14" width="22.19" height="12.05" fill="#dab994"/><rect x="945.33" y="1492.14" width="22.19" height="12.05" fill="#e6dac9"/><rect x="969.02" y="1492.14" width="22.19" height="12.05" fill="#e4cdb1"/><rect x="992.71" y="1492.14" width="22.19" height="12.05" fill="#e6dac9"/><rect x="1016.4" y="1492.14" width="22.19" height="12.05" fill="#c0926c"/><rect x="1040.09" y="1492.14" width="22.19" height="12.05" fill="#cea880"/><rect x="1063.78" y="1492.14" width="22.19" height="12.05" fill="#cea880"/><rect x="1087.47" y="1492.14" width="22.19" height="12.05" fill="#cea880"/><rect x="1111.16" y="1492.14" width="22.19" height="12.05" fill="#cea880"/><rect x="661.05" y="1505.69" width="22.19" height="12.05" fill="#b3c2dd"/><rect x="684.74" y="1505.69" width="22.19" height="12.05" fill="#97acd2"/><rect x="708.43" y="1505.69" width="22.19" height="12.05" fill="#97acd2"/><rect x="732.12" y="1505.69" width="22.19" height="12.05" fill="#b3c2dd"/><rect x="755.81" y="1505.69" width="22.19" height="12.05" fill="#97acd2"/><rect x="779.5" y="1505.69" width="22.19" height="12.05" fill="#b3c2dd"/><rect x="803.19" y="1505.69" width="22.19" height="12.05" fill="#cdd6e5"/><rect x="826.88" y="1505.69" width="22.19" height="12.05" fill="#cdd6e5"/><rect x="850.57" y="1505.69" width="22.19" height="12.05" fill="#dddad6"/><rect x="874.26" y="1505.69" width="22.19" height="12.05" fill="#dddad6"/><rect x="897.95" y="1505.69" width="22.19" height="12.05" fill="#dddad6"/><rect x="921.64" y="1505.69" width="22.19" height="12.05" fill="#dab994"/><rect x="945.33" y="1505.69" width="22.19" height="12.05" fill="#dab994"/><rect x="969.02" y="1505.69" width="22.19" height="12.05" fill="#e4cdb1"/><rect x="992.71" y="1505.69" width="22.19" height="12.05" fill="#dddad6"/><rect x="1016.4" y="1505.69" width="22.19" height="12.05" fill="#c0926c"/><rect x="1040.09" y="1505.69" width="22.19" height="12.05" fill="#dab994"/><rect x="1063.78" y="1505.69" width="22.19" height="12.05" fill="#e4cdb1"/><rect x="1087.47" y="1505.69" width="22.19" height="12.05" fill="#c0926c"/><rect x="1111.16" y="1505.69" width="22.19" height="12.05" fill="#c0926c"/><rect x="661.05" y="1519.25" width="22.19" height="12.05" fill="#b3c2dd"/><rect x="684.74" y="1519.25" width="22.19" height="12.05" fill="#b3c2dd"/><rect x="708.43" y="1519.25" width="22.19" height="12.05" fill="#b3c2dd"/><rect x="732.12" y="1519.25" width="22.19" height="12.05" fill="#97acd2"/><rect x="755.81" y="1519.25" width="22.19" height="12.05" fill="#b3c2dd"/><rect x="779.5" y="1519.25" width="22.19" height="12.05" fill="#b3c2dd"/><rect x="803.19" y="1519.25" width="22.19" height="12.05" fill="#cdd6e5"/><rect x="826.88" y="1519.25" width="22.19" height="12.05" fill="#b3c2dd"/><rect x="850.57" y="1519.25" width="22.19" height="12.05" fill="#b3c2dd"/><rect x="874.26" y="1519.25" width="22.19" height="12.05" fill="#cdd6e5"/><rect x="897.95" y="1519.25" width="22.19" height="12.05" fill="#cdd6e5"/><rect x="921.64" y="1519.25" width="22.19" height="12.05" fill="#e4cdb1"/><rect x="945.33" y="1519.25" width="22.19" height="12.05" fill="#dab994"/><rect x="969.02" y="1519.25" width="22.19" height="12.05" fill="#e6dac9"/><rect x="992.71" y="1519.25" width="22.19" height="12.05" fill="#e6dac9"/><rect x="1016.4" y="1519.25" width="22.19" height="12.05" fill="#ad7756"/><rect x="1040.09" y="1519.25" width="22.19" height="12.05" fill="#c0926c"/><rect x="1063.78" y="1519.25" width="22.19" height="12.05" fill="#e4cdb1"/><rect x="1087.47" y="1519.25" width="22.19" height="12.05" fill="#cea880"/><rect x="1111.16" y="1519.25" width="22.19" height="12.05" fill="#cea880"/><rect x="661.05" y="1532.8" width="22.19" height="12.05" fill="#b3c2dd"/><rect x="684.74" y="1532.8" width="22.19" height="12.05" fill="#e6dac9"/><rect x="708.43" y="1532.8" width="22.19" height="12.05" fill="#cdd6e5"/><rect x="732.12" y="1532.8" width="22.19" height="12.05" fill="#cdd6e5"/><rect x="755.81" y="1532.8" width="22.19" height="12.05" fill="#dddad6"/><rect x="779.5" y="1532.8" width="22.19" height="12.05" fill="#b3c2dd"/><rect x="803.19" y="1532.8" width="22.19" height="12.05" fill="#e6dac9"/><rect x="826.88" y="1532.8" width="22.19" height="12.05" fill="#cdd6e5"/><rect x="850.57" y="1532.8" width="22.19" height="12.05" fill="#b3c2dd"/><rect x="874.26" y="1532.8" width="22.19" height="12.05" fill="#dddad6"/><rect x="897.95" y="1532.8" width="22.19" height="12.05" fill="#e6dac9"/><rect x="921.64" y="1532.8" width="22.19" height="12.05" fill="#dab994"/><rect x="945.33" y="1532.8" width="22.19" height="12.05" fill="#dab994"/><rect x="969.02" y="1532.8" width="22.19" height="12.05" fill="#e6dac9"/><rect x="992.71" y="1532.8" width="22.19" height="12.05" fill="#dab994"/><rect x="1016.4" y="1532.8" width="22.19" height="12.05" fill="#c0926c"/><rect x="1040.09" y="1532.8" width="22.19" height="12.05" fill="#7486bc"/><rect x="1063.78" y="1532.8" width="22.19" height="12.05" fill="#97acd2"/><rect x="1087.47" y="1532.8" width="22.19" height="12.05" fill="#dab994"/><rect x="1111.16" y="1532.8" width="22.19" height="12.05" fill="#ad7756"/><rect x="661.05" y="1546.36" width="22.19" height="12.05" fill="#dddad6"/><rect x="684.74" y="1546.36" width="22.19" height="12.05" fill="#e6dac9"/><rect x="708.43" y="1546.36" width="22.19" height="12.05" fill="#e6dac9"/><rect x="732.12" y="1546.36" width="22.19" height="12.05" fill="#e6dac9"/><rect x="755.81" y="1546.36" width="22.19" height="12.05" fill="#e6dac9"/><rect x="779.5" y="1546.36" width="22.19" height="12.05" fill="#e6dac9"/><rect x="803.19" y="1546.36" width="22.19" height="12.05" fill="#e6dac9"/><rect x="826.88" y="1546.36" width="22.19" height="12.05" fill="#e4cdb1"/><rect x="850.57" y="1546.36" width="22.19" height="12.05" fill="#e6dac9"/><rect x="874.26" y="1546.36" width="22.19" height="12.05" fill="#dddad6"/><rect x="897.95" y="1546.36" width="22.19" height="12.05" fill="#dddad6"/><rect x="921.64" y="1546.36" width="22.19" height="12.05" fill="#dddad6"/><rect x="945.33" y="1546.36" width="22.19" height="12.05" fill="#dab994"/><rect x="969.02" y="1546.36" width="22.19" height="12.05" fill="#e4cdb1"/><rect x="992.71" y="1546.36" width="22.19" height="12.05" fill="#e6dac9"/><rect x="1016.4" y="1546.36" width="22.19" height="12.05" fill="#cea880"/><rect x="1040.09" y="1546.36" width="22.19" height="12.05" fill="#515da3"/><rect x="1063.78" y="1546.36" width="22.19" height="12.05" fill="#515da3"/><rect x="1087.47" y="1546.36" width="22.19" height="12.05" fill="#e4cdb1"/><rect x="1111.16" y="1546.36" width="22.19" height="12.05" fill="#dddad6"/><rect x="661.05" y="1559.91" width="22.19" height="12.05" fill="#cdd6e5"/><rect x="684.74" y="1559.91" width="22.19" height="12.05" fill="#cdd6e5"/><rect x="708.43" y="1559.91" width="22.19" height="12.05" fill="#b3c2dd"/><rect x="732.12" y="1559.91" width="22.19" height="12.05" fill="#cdd6e5"/><rect x="755.81" y="1559.91" width="22.19" height="12.05" fill="#cdd6e5"/><rect x="779.5" y="1559.91" width="22.19" height="12.05" fill="#b3c2dd"/><rect x="803.19" y="1559.91" width="22.19" height="12.05" fill="#cdd6e5"/><rect x="826.88" y="1559.91" width="22.19" height="12.05" fill="#cdd6e5"/><rect x="850.57" y="1559.91" width="22.19" height="12.05" fill="#cdd6e5"/><rect x="874.26" y="1559.91" width="22.19" height="12.05" fill="#cdd6e5"/><rect x="897.95" y="1559.91" width="22.19" height="12.05" fill="#e6dac9"/><rect x="921.64" y="1559.91" width="22.19" height="12.05" fill="#e6dac9"/><rect x="945.33" y="1559.91" width="22.19" height="12.05" fill="#dab994"/><rect x="969.02" y="1559.91" width="22.19" height="12.05" fill="#dddad6"/><rect x="992.71" y="1559.91" width="22.19" height="12.05" fill="#dab994"/><rect x="1016.4" y="1559.91" width="22.19" height="12.05" fill="#7486bc"/><rect x="1040.09" y="1559.91" width="22.19" height="12.05" fill="#ad7756"/><rect x="1063.78" y="1559.91" width="22.19" height="12.05" fill="#cea880"/><rect x="1087.47" y="1559.91" width="22.19" height="12.05" fill="#e6dac9"/><rect x="1111.16" y="1559.91" width="22.19" height="12.05" fill="#c0926c"/><rect x="661.05" y="1573.47" width="22.19" height="12.05" fill="#97acd2"/><rect x="684.74" y="1573.47" width="22.19" height="12.05" fill="#b3c2dd"/><rect x="708.43" y="1573.47" width="22.19" height="12.05" fill="#7486bc"/><rect x="732.12" y="1573.47" width="22.19" height="12.05" fill="#cdd6e5"/><rect x="755.81" y="1573.47" width="22.19" height="12.05" fill="#b3c2dd"/><rect x="779.5" y="1573.47" width="22.19" height="12.05" fill="#cdd6e5"/><rect x="803.19" y="1573.47" width="22.19" height="12.05" fill="#e6dac9"/><rect x="826.88" y="1573.47" width="22.19" height="12.05" fill="#dab994"/><rect x="850.57" y="1573.47" width="22.19" height="12.05" fill="#e6dac9"/><rect x="874.26" y="1573.47" width="22.19" height="12.05" fill="#dddad6"/><rect x="897.95" y="1573.47" width="22.19" height="12.05" fill="#e4cdb1"/><rect x="921.64" y="1573.47" width="22.19" height="12.05" fill="#b3c2dd"/><rect x="945.33" y="1573.47" width="22.19" height="12.05" fill="#dddad6"/><rect x="969.02" y="1573.47" width="22.19" height="12.05" fill="#e6dac9"/><rect x="992.71" y="1573.47" width="22.19" height="12.05" fill="#dab994"/><rect x="1016.4" y="1573.47" width="22.19" height="12.05" fill="#e6dac9"/><rect x="1040.09" y="1573.47" width="22.19" height="12.05" fill="#ad7756"/><rect x="1063.78" y="1573.47" width="22.19" height="12.05" fill="#dddad6"/><rect x="1087.47" y="1573.47" width="22.19" height="12.05" fill="#c0926c"/><rect x="1111.16" y="1573.47" width="22.19" height="12.05" fill="#cea880"/><rect x="661.05" y="1587.03" width="22.19" height="12.05" fill="#dddad6"/><rect x="684.74" y="1587.03" width="22.19" height="12.05" fill="#b3c2dd"/><rect x="708.43" y="1587.03" width="22.19" height="12.05" fill="#515da3"/><rect x="732.12" y="1587.03" width="22.19" height="12.05" fill="#b3c2dd"/><rect x="755.81" y="1587.03" width="22.19" height="12.05" fill="#cdd6e5"/><rect x="779.5" y="1587.03" width="22.19" height="12.05" fill="#e6dac9"/><rect x="803.19" y="1587.03" width="22.19" height="12.05" fill="#e4cdb1"/><rect x="826.88" y="1587.03" width="22.19" height="12.05" fill="#dddad6"/><rect x="850.57" y="1587.03" width="22.19" height="12.05" fill="#7486bc"/><rect x="874.26" y="1587.03" width="22.19" height="12.05" fill="#dddad6"/><rect x="897.95" y="1587.03" width="22.19" height="12.05" fill="#e4cdb1"/><rect x="921.64" y="1587.03" width="22.19" height="12.05" fill="#cdd6e5"/><rect x="945.33" y="1587.03" width="22.19" height="12.05" fill="#e6dac9"/><rect x="969.02" y="1587.03" width="22.19" height="12.05" fill="#e6dac9"/><rect x="992.71" y="1587.03" width="22.19" height="12.05" fill="#e6dac9"/><rect x="1016.4" y="1587.03" width="22.19" height="12.05" fill="#e6dac9"/><rect x="1040.09" y="1587.03" width="22.19" height="12.05" fill="#c0926c"/><rect x="1063.78" y="1587.03" width="22.19" height="12.05" fill="#c0926c"/><rect x="1087.47" y="1587.03" width="22.19" height="12.05" fill="#c0926c"/><rect x="1111.16" y="1587.03" width="22.19" height="12.05" fill="#e6dac9"/><rect x="661.05" y="1600.58" width="22.19" height="12.05" fill="#7486bc"/><rect x="684.74" y="1600.58" width="22.19" height="12.05" fill="#b3c2dd"/><rect x="708.43" y="1600.58" width="22.19" height="12.05" fill="#97acd2"/><rect x="732.12" y="1600.58" width="22.19" height="12.05" fill="#97acd2"/><rect x="755.81" y="1600.58" width="22.19" height="12.05" fill="#b3c2dd"/><rect x="779.5" y="1600.58" width="22.19" height="12.05" fill="#dab994"/><rect x="803.19" y="1600.58" width="22.19" height="12.05" fill="#dab994"/><rect x="826.88" y="1600.58" width="22.19" height="12.05" fill="#dab994"/><rect x="850.57" y="1600.58" width="22.19" height="12.05" fill="#e4cdb1"/><rect x="874.26" y="1600.58" width="22.19" height="12.05" fill="#cea880"/><rect x="897.95" y="1600.58" width="22.19" height="12.05" fill="#b3c2dd"/><rect x="921.64" y="1600.58" width="22.19" height="12.05" fill="#dddad6"/><rect x="945.33" y="1600.58" width="22.19" height="12.05" fill="#dab994"/><rect x="969.02" y="1600.58" width="22.19" height="12.05" fill="#dab994"/><rect x="992.71" y="1600.58" width="22.19" height="12.05" fill="#e6dac9"/><rect x="1016.4" y="1600.58" width="22.19" height="12.05" fill="#e4cdb1"/><rect x="1040.09" y="1600.58" width="22.19" height="12.05" fill="#e6dac9"/><rect x="1063.78" y="1600.58" width="22.19" height="12.05" fill="#cdd6e5"/><rect x="1087.47" y="1600.58" width="22.19" height="12.05" fill="#cea880"/><rect x="1111.16" y="1600.58" width="22.19" height="12.05" fill="#dddad6"/><rect x="661.05" y="1614.13" width="22.19" height="12.05" fill="#b3c2dd"/><rect x="684.74" y="1614.13" width="22.19" height="12.05" fill="#cdd6e5"/><rect x="708.43" y="1614.13" width="22.19" height="12.05" fill="#b3c2dd"/><rect x="732.12" y="1614.13" width="22.19" height="12.05" fill="#b3c2dd"/><rect x="755.81" y="1614.13" width="22.19" height="12.05" fill="#cdd6e5"/><rect x="779.5" y="1614.13" width="22.19" height="12.05" fill="#cea880"/><rect x="803.19" y="1614.13" width="22.19" height="12.05" fill="#e6dac9"/><rect x="826.88" y="1614.13" width="22.19" height="12.05" fill="#dab994"/><rect x="850.57" y="1614.13" width="22.19" height="12.05" fill="#e6dac9"/><rect x="874.26" y="1614.13" width="22.19" height="12.05" fill="#e4cdb1"/><rect x="897.95" y="1614.13" width="22.19" height="12.05" fill="#dddad6"/><rect x="921.64" y="1614.13" width="22.19" height="12.05" fill="#b3c2dd"/><rect x="945.33" y="1614.13" width="22.19" height="12.05" fill="#ad7756"/><rect x="969.02" y="1614.13" width="22.19" height="12.05" fill="#b3c2dd"/><rect x="992.71" y="1614.13" width="22.19" height="12.05" fill="#dab994"/><rect x="1016.4" y="1614.13" width="22.19" height="12.05" fill="#ad7756"/><rect x="1040.09" y="1614.13" width="22.19" height="12.05" fill="#dddad6"/><rect x="1063.78" y="1614.13" width="22.19" height="12.05" fill="#dddad6"/><rect x="1087.47" y="1614.13" width="22.19" height="12.05" fill="#cdd6e5"/><rect x="1111.16" y="1614.13" width="22.19" height="12.05" fill="#97acd2"/><rect x="661.05" y="1627.69" width="22.19" height="12.05" fill="#b3c2dd"/><rect x="684.74" y="1627.69" width="22.19" height="12.05" fill="#7486bc"/><rect x="708.43" y="1627.69" width="22.19" height="12.05" fill="#b3c2dd"/><rect x="732.12" y="1627.69" width="22.19" height="12.05" fill="#dddad6"/><rect x="755.81" y="1627.69" width="22.19" height="12.05" fill="#e6dac9"/><rect x="779.5" y="1627.69" width="22.19" height="12.05" fill="#cdd6e5"/><rect x="803.19" y="1627.69" width="22.19" height="12.05" fill="#cdd6e5"/><rect x="826.88" y="1627.69" width="22.19" height="12.05" fill="#e6dac9"/><rect x="850.57" y="1627.69" width="22.19" height="12.05" fill="#e6dac9"/><rect x="874.26" y="1627.69" width="22.19" height="12.05" fill="#b3c2dd"/><rect x="897.95" y="1627.69" width="22.19" height="12.05" fill="#97acd2"/><rect x="921.64" y="1627.69" width="22.19" height="12.05" fill="#e6dac9"/><rect x="945.33" y="1627.69" width="22.19" height="12.05" fill="#e6dac9"/><rect x="969.02" y="1627.69" width="22.19" height="12.05" fill="#e6dac9"/><rect x="992.71" y="1627.69" width="22.19" height="12.05" fill="#cdd6e5"/><rect x="1016.4" y="1627.69" width="22.19" height="12.05" fill="#c0926c"/><rect x="1040.09" y="1627.69" width="22.19" height="12.05" fill="#c0926c"/><rect x="1063.78" y="1627.69" width="22.19" height="12.05" fill="#e6dac9"/><rect x="1087.47" y="1627.69" width="22.19" height="12.05" fill="#e4cdb1"/><rect x="1111.16" y="1627.69" width="22.19" height="12.05" fill="#ad7756"/><rect x="661.05" y="1641.24" width="22.19" height="12.05" fill="#cdd6e5"/><rect x="684.74" y="1641.24" width="22.19" height="12.05" fill="#e4cdb1"/><rect x="708.43" y="1641.24" width="22.19" height="12.05" fill="#97acd2"/><rect x="732.12" y="1641.24" width="22.19" height="12.05" fill="#cdd6e5"/><rect x="755.81" y="1641.24" width="22.19" height="12.05" fill="#b3c2dd"/><rect x="779.5" y="1641.24" width="22.19" height="12.05" fill="#b3c2dd"/><rect x="803.19" y="1641.24" width="22.19" height="12.05" fill="#cdd6e5"/><rect x="826.88" y="1641.24" width="22.19" height="12.05" fill="#dddad6"/><rect x="850.57" y="1641.24" width="22.19" height="12.05" fill="#dddad6"/><rect x="874.26" y="1641.24" width="22.19" height="12.05" fill="#cdd6e5"/><rect x="897.95" y="1641.24" width="22.19" height="12.05" fill="#cdd6e5"/><rect x="921.64" y="1641.24" width="22.19" height="12.05" fill="#dddad6"/><rect x="945.33" y="1641.24" width="22.19" height="12.05" fill="#c0926c"/><rect x="969.02" y="1641.24" width="22.19" height="12.05" fill="#dab994"/><rect x="992.71" y="1641.24" width="22.19" height="12.05" fill="#b3c2dd"/><rect x="1016.4" y="1641.24" width="22.19" height="12.05" fill="#93553b"/><rect x="1040.09" y="1641.24" width="22.19" height="12.05" fill="#cea880"/><rect x="1063.78" y="1641.24" width="22.19" height="12.05" fill="#dddad6"/><rect x="1087.47" y="1641.24" width="22.19" height="12.05" fill="#b3c2dd"/><rect x="1111.16" y="1641.24" width="22.19" height="12.05" fill="#e4cdb1"/></g>
<text x="1138" y="986.78" font-size="10.6">Creatinine</text>
<text x="1138" y="1000.33" font-size="10.6">Glucose</text>
<text x="1138" y="1013.89" font-size="10.6">Alanine</text>
<text x="1138" y="1027.44" font-size="10.6">Glutamine</text>
<text x="1138" y="1041" font-size="10.6">Phosphoenolpyruvat</text>
<text x="1138" y="1054.55" font-size="10.6">Acetoacetate</text>
<text x="1138" y="1068.11" font-size="10.6">Leucine</text>
<text x="1138" y="1081.66" font-size="10.6">Valine</text>
<text x="1138" y="1095.22" font-size="10.6">Glyoxylate</text>
<text x="1138" y="1108.77" font-size="10.6">Oxalosuccinate</text>
<text x="1138" y="1122.33" font-size="10.6">Hydroxybutyrate</text>
<text x="1138" y="1135.88" font-size="10.6">Threonine</text>
<text x="1138" y="1149.44" font-size="10.6">Succinate</text>
<text x="1138" y="1162.99" font-size="10.6">Glutamate</text>
<text x="1138" y="1176.55" font-size="10.6">NADPH</text>
<text x="1138" y="1190.1" font-size="10.6">Glutathione</text>
<text x="1138" y="1203.66" font-size="10.6">NAD</text>
<text x="1138" y="1217.21" font-size="10.6">Sn-Glycero-3-Phosp</text>
<text x="1138" y="1230.77" font-size="10.6">Keto-glutarate</text>
<text x="1138" y="1244.32" font-size="10.6">GSSH</text>
<text x="1138" y="1257.88" font-size="10.6">Glycerol-phosphate</text>
<text x="1138" y="1271.43" font-size="10.6">Inosine</text>
<text x="1138" y="1284.99" font-size="10.6">Glycine</text>
<text x="1138" y="1298.54" font-size="10.6">Iso-leucine</text>
<text x="1138" y="1312.1" font-size="10.6">Phosphocholine</text>
<text x="1138" y="1325.65" font-size="10.6">Fumarate</text>
<text x="1138" y="1339.21" font-size="10.6">Asparagine</text>
<text x="1138" y="1352.76" font-size="10.6">Ornithine</text>
<text x="1138" y="1366.32" font-size="10.6">Isocitrate</text>
<text x="1138" y="1379.87" font-size="10.6">NADH</text>
<text x="1138" y="1393.43" font-size="10.6">2-Hydroxyglutarate</text>
<text x="1138" y="1406.98" font-size="10.6">Carnitine</text>
<text x="1138" y="1420.54" font-size="10.6">Myo-Inositol</text>
<text x="1138" y="1434.09" font-size="10.6">Oxalactate</text>
<text x="1138" y="1447.65" font-size="10.6">Lactate</text>
<text x="1138" y="1461.2" font-size="10.6">Phenylalanine</text>
<text x="1138" y="1474.76" font-size="10.6">Acetyl-Carnitine</text>
<text x="1138" y="1488.31" font-size="10.6">NADP</text>
<text x="1138" y="1501.87" font-size="10.6">3-Methylhistidine</text>
<text x="1138" y="1515.42" font-size="10.6">Tryptamine</text>
<text x="1138" y="1528.98" font-size="10.6">Aconinate</text>
<text x="1138" y="1542.53" font-size="10.6">Proline</text>
<text x="1138" y="1556.09" font-size="10.6">Histidine</text>
<text x="1138" y="1569.64" font-size="10.6">Tryptophan</text>
<text x="1138" y="1583.2" font-size="10.6">Taurine</text>
<text x="1138" y="1596.75" font-size="10.6">Choline</text>
<text x="1138" y="1610.31" font-size="10.6">Cysteine</text>
<text x="1138" y="1623.86" font-size="10.6">Aspartate</text>
<text x="1138" y="1637.42" font-size="10.6">Citrate</text>
<text x="1138" y="1650.97" font-size="10.6">Lysine</text>
<text x="1138" y="971" font-size="10.4" font-weight="bold">class</text>
<text transform="translate(668.35 1659) rotate(90)" font-size="11" textLength="37.5" lengthAdjust="spacingAndGlyphs" stroke="#000" stroke-width="0.45">NTC_2</text>
<text transform="translate(692.03 1659) rotate(90)" font-size="11" textLength="37.5" lengthAdjust="spacingAndGlyphs" stroke="#000" stroke-width="0.45">NTC_5</text>
<text transform="translate(715.73 1659) rotate(90)" font-size="11" textLength="37.5" lengthAdjust="spacingAndGlyphs" stroke="#000" stroke-width="0.45">NTC_4</text>
<text transform="translate(739.41 1659) rotate(90)" font-size="11" textLength="37.5" lengthAdjust="spacingAndGlyphs" stroke="#000" stroke-width="0.45">NTC_1</text>
<text transform="translate(763.11 1659) rotate(90)" font-size="11" textLength="37.5" lengthAdjust="spacingAndGlyphs" stroke="#000" stroke-width="0.45">NTC_3</text>
<text transform="translate(786.8 1659) rotate(90)" font-size="11" textLength="53.5" lengthAdjust="spacingAndGlyphs" stroke="#000" stroke-width="0.45">D2hgdh_5</text>
<text transform="translate(810.49 1659) rotate(90)" font-size="11" textLength="53.5" lengthAdjust="spacingAndGlyphs" stroke="#000" stroke-width="0.45">D2hgdh_3</text>
<text transform="translate(834.17 1659) rotate(90)" font-size="11" textLength="53.5" lengthAdjust="spacingAndGlyphs" stroke="#000" stroke-width="0.45">D2hgdh_2</text>
<text transform="translate(857.87 1659) rotate(90)" font-size="11" textLength="53.5" lengthAdjust="spacingAndGlyphs" stroke="#000" stroke-width="0.45">D2hgdh_1</text>
<text transform="translate(881.56 1659) rotate(90)" font-size="11" textLength="53.5" lengthAdjust="spacingAndGlyphs" stroke="#000" stroke-width="0.45">D2hgdh_4</text>
<text transform="translate(905.25 1659) rotate(90)" font-size="11" textLength="87.5" lengthAdjust="spacingAndGlyphs">D2HG+D2hgdh_2</text>
<text transform="translate(928.93 1659) rotate(90)" font-size="11" textLength="87.5" lengthAdjust="spacingAndGlyphs">D2HG+D2hgdh_4</text>
<text transform="translate(952.62 1659) rotate(90)" font-size="11" textLength="87.5" lengthAdjust="spacingAndGlyphs">D2HG+D2hgdh_5</text>
<text transform="translate(976.32 1659) rotate(90)" font-size="11" textLength="87.5" lengthAdjust="spacingAndGlyphs">D2HG+D2hgdh_1</text>
<text transform="translate(1000 1659) rotate(90)" font-size="11" textLength="87.5" lengthAdjust="spacingAndGlyphs">D2HG+D2hgdh_3</text>
<text transform="translate(1023.69 1659) rotate(90)" font-size="11" textLength="46" lengthAdjust="spacingAndGlyphs" stroke="#000" stroke-width="0.45">D2HG_4</text>
<text transform="translate(1047.38 1659) rotate(90)" font-size="11" textLength="46" lengthAdjust="spacingAndGlyphs" stroke="#000" stroke-width="0.45">D2HG_2</text>
<text transform="translate(1071.08 1659) rotate(90)" font-size="11" textLength="46" lengthAdjust="spacingAndGlyphs" stroke="#000" stroke-width="0.45">D2HG_5</text>
<text transform="translate(1094.77 1659) rotate(90)" font-size="11" textLength="46" lengthAdjust="spacingAndGlyphs" stroke="#000" stroke-width="0.45">D2HG_1</text>
<text transform="translate(1118.46 1659) rotate(90)" font-size="11" textLength="46" lengthAdjust="spacingAndGlyphs" stroke="#000" stroke-width="0.45">D2HG_3</text>
<path d="M769.9 935.8L769.9 914.4M769.9 914.4L1002.7 914.4M1002.7 914.4L1002.7 925.8M710.6 950.5L710.6 935.8M710.6 935.8L828.8 935.8M828.8 935.8L828.8 947.6M672.14 960.3L672.14 952.4M672.14 952.4L695.83 952.4M695.83 952.4L695.83 960.3M743.21 960.3L743.21 952.6M743.21 952.6L766.9 952.6M766.9 952.6L766.9 960.3M719.52 960.3L719.52 951.4M719.52 951.4L755.06 951.4M755.06 951.4L755.06 952.6M683.99 952.4L683.99 950.5M683.99 950.5L737 950.5M737 950.5L737 951.4M790.6 960.3L790.6 952.4M790.6 952.4L814.28 952.4M814.28 952.4L814.28 960.3M861.66 960.3L861.66 952.4M861.66 952.4L885.36 952.4M885.36 952.4L885.36 960.3M837.97 960.3L837.97 951M837.97 951L873.51 951M873.51 951L873.51 952.4M802.44 952.4L802.44 947.6M802.44 947.6L856 947.6M856 947.6L856 951M947.4 948.4L947.4 925.8M947.4 925.8L1057.6 925.8M1057.6 925.8L1057.6 939.7M909.04 960.3L909.04 951.6M909.04 951.6L932.73 951.6M932.73 951.6L932.73 960.3M980.12 960.3L980.12 951.6M980.12 951.6L1003.8 951.6M1003.8 951.6L1003.8 960.3M956.42 960.3L956.42 950.2M956.42 950.2L991.96 950.2M991.96 950.2L991.96 951.6M920.89 951.6L920.89 948.4M920.89 948.4L974 948.4M974 948.4L974 950.2M1027.49 960.3L1027.49 939.7M1027.49 939.7L1087.5 939.7M1087.5 939.7L1087.5 942.5M1051.18 960.3L1051.18 947.6M1051.18 947.6L1074.88 947.6M1074.88 947.6L1074.88 960.3M1098.57 960.3L1098.57 945.6M1098.57 945.6L1122.26 945.6M1122.26 945.6L1122.26 960.3M1063.03 947.6L1063.03 942.5M1063.03 942.5L1110.41 942.5M1110.41 942.5L1110.41 945.6" fill="none" stroke="#000" stroke-width="1.5" stroke-linecap="square"/>
<path d="M649.7 1082.2L622.2 1082.2M622.2 1082.2L622.2 1397.4M622.2 1397.4L648.5 1397.4M650.2 999.5L650.2 1164M650.2 999.5L654.5 999.5M650.2 1164L654.5 1164M654.5 983L654.5 1016M654.5 983L659.5 983M654.5 1016L657 1016M654.5 1090L654.5 1238M654.5 1238L657 1238M654.5 1090L657 1090M646 1294.3L646 1490.7M646 1294.3L654 1294.3M646 1490.7L650 1490.7M654 1272L654 1318M654 1272L658 1272M654 1318L658 1318M649 1409L649 1564M649 1409L655 1409M649 1564L653 1564M653 1540L653 1600M653 1600L656 1600" fill="none" stroke="#000" stroke-width="1.4" stroke-linecap="square"/>
<path d="M659.6 983.08L656 983.08M656 983.08L656 1023.74M656 1023.74L659.6 1023.74M656 1003.41L653.8 1003.41M653.8 1003.41L653.8 1047.85M659.6 1037.3L657.4 1037.3M657.4 1037.3L657.4 1077.96M657.4 1077.96L659.6 1077.96M657.4 1057.63L655.8 1057.63M655.8 1057.63L655.8 1088.52M659.6 1091.52L656.6 1091.52M656.6 1091.52L656.6 1105.07M656.6 1105.07L659.6 1105.07M656.6 1098.3L655.6 1098.3M655.6 1098.3L655.6 1129.18M659.6 1118.63L656.6 1118.63M656.6 1118.63L656.6 1145.74M656.6 1145.74L659.6 1145.74M656.6 1132.18L655 1132.18M655 1132.18L655 1183.4M659.6 1159.29L656.6 1159.29M656.6 1159.29L656.6 1172.85M656.6 1172.85L659.6 1172.85M656.6 1166.07L655.6 1166.07M655.6 1166.07L655.6 1210.51M659.6 1186.4L655.4 1186.4M655.4 1186.4L655.4 1199.96M655.4 1199.96L659.6 1199.96M655.4 1193.18L653.8 1193.18M653.8 1193.18L653.8 1210.51M659.6 1213.51L656.6 1213.51M656.6 1213.51L656.6 1240.62M656.6 1240.62L659.6 1240.62M656.6 1227.07L655.6 1227.07M655.6 1227.07L655.6 1251.18M659.6 1254.18L655.4 1254.18M655.4 1254.18L655.4 1294.84M655.4 1294.84L659.6 1294.84M655.4 1274.51L654.4 1274.51M654.4 1274.51L654.4 1305.4M659.6 1308.4L657.4 1308.4M657.4 1308.4L657.4 1321.95M657.4 1321.95L659.6 1321.95M657.4 1315.17L656.4 1315.17M656.4 1315.17L656.4 1332.51M659.6 1335.51L656.6 1335.51M656.6 1335.51L656.6 1349.06M656.6 1349.06L659.6 1349.06M656.6 1342.28L655 1342.28M655 1342.28L655 1373.17M659.6 1362.62L656.6 1362.62M656.6 1362.62L656.6 1376.17M656.6 1376.17L659.6 1376.17M656.6 1369.39L655.6 1369.39M655.6 1369.39L655.6 1413.84M659.6 1389.73L655.4 1389.73M655.4 1389.73L655.4 1403.28M655.4 1403.28L659.6 1403.28M655.4 1396.51L653.8 1396.51M653.8 1396.51L653.8 1413.84M659.6 1416.84L655.4 1416.84M655.4 1416.84L655.4 1443.95M655.4 1443.95L659.6 1443.95M655.4 1430.39L654.4 1430.39M654.4 1430.39L654.4 1454.5M659.6 1457.5L657.4 1457.5M657.4 1457.5L657.4 1484.61M657.4 1484.61L659.6 1484.61M657.4 1471.06L655.8 1471.06M655.8 1471.06L655.8 1508.72M659.6 1498.17L657.4 1498.17M657.4 1498.17L657.4 1538.83M657.4 1538.83L659.6 1538.83M657.4 1518.5L655.2 1518.5M655.2 1518.5L655.2 1576.5M659.6 1552.39L657.4 1552.39M657.4 1552.39L657.4 1579.5M657.4 1579.5L659.6 1579.5M657.4 1565.94L655.8 1565.94M655.8 1565.94L655.8 1603.61M659.6 1593.05L655.4 1593.05M655.4 1593.05L655.4 1620.16M655.4 1620.16L659.6 1620.16M655.4 1606.61L653.2 1606.61M653.2 1606.61L653.2 1644.27M659.6 1633.72L655.4 1633.72M655.4 1633.72L655.4 1647.27M655.4 1647.27L659.6 1647.27M655.4 1640.49L653.8 1640.49M653.8 1640.49L653.8 1644.27" fill="none" stroke="#000" stroke-width="1.2" stroke-linecap="square"/>
<defs><linearGradient id="cbar" x1="0" y1="0" x2="0" y2="1">
<stop offset="0" stop-color="#4a1c1a"/>
<stop offset="0.03" stop-color="#5c251e"/>
<stop offset="0.06" stop-color="#6e2e22"/>
<stop offset="0.09" stop-color="#7c3c2a"/>
<stop offset="0.12" stop-color="#8a4a32"/>
<stop offset="0.16" stop-color="#995d41"/>
<stop offset="0.19" stop-color="#a87050"/>
<stop offset="0.22" stop-color="#b27e5b"/>
<stop offset="0.25" stop-color="#bc8c66"/>
<stop offset="0.28" stop-color="#c69b74"/>
<stop offset="0.31" stop-color="#cfa881"/>
<stop offset="0.34" stop-color="#d6b48e"/>
<stop offset="0.38" stop-color="#dec19f"/>
<stop offset="0.41" stop-color="#e4ceb1"/>
<stop offset="0.44" stop-color="#e6d6c2"/>
<stop offset="0.47" stop-color="#e3dacd"/>
<stop offset="0.5" stop-color="#dddad6"/>
<stop offset="0.53" stop-color="#d4d8de"/>
<stop offset="0.56" stop-color="#ccd6e6"/>
<stop offset="0.59" stop-color="#becbe1"/>
<stop offset="0.62" stop-color="#b0c0dc"/>
<stop offset="0.66" stop-color="#a2b4d6"/>
<stop offset="0.69" stop-color="#93a8d0"/>
<stop offset="0.72" stop-color="#869ac7"/>
<stop offset="0.75" stop-color="#798bbf"/>
<stop offset="0.78" stop-color="#6c7db6"/>
<stop offset="0.81" stop-color="#6070ae"/>
<stop offset="0.84" stop-color="#5562a6"/>
<stop offset="0.88" stop-color="#4a559e"/>
<stop offset="0.91" stop-color="#40488a"/>
<stop offset="0.94" stop-color="#363c77"/>
<stop offset="0.97" stop-color="#2d3064"/>
<stop offset="1" stop-color="#232350"/>
</linearGradient></defs>
<rect x="1250.5" y="1024.5" width="22.8" height="211.2" fill="url(#cbar)"/>
<text x="1282.6" y="1031.5" font-size="10" textLength="10.5" lengthAdjust="spacingAndGlyphs">4</text>
<text x="1282.6" y="1082.2" font-size="10" textLength="10.5" lengthAdjust="spacingAndGlyphs">2</text>
<text x="1282.6" y="1133.8" font-size="10" textLength="10.5" lengthAdjust="spacingAndGlyphs">0</text>
<text x="1282.6" y="1185.7" font-size="10" textLength="16.5" lengthAdjust="spacingAndGlyphs">-2</text>
<text x="1282.6" y="1236.9" font-size="10" textLength="16.5" lengthAdjust="spacingAndGlyphs">-4</text>
<text x="1284.5" y="1265.5" font-size="16" font-weight="bold">class</text>
<rect x="1287.6" y="1279.8" width="17.4" height="17.4" fill="#0f0b0b"/>
<text x="1312.4" y="1294" font-size="16.4">NTC</text>
<rect x="1287.6" y="1305.2" width="17.4" height="17.4" fill="#9a3e1e"/>
<text x="1312.4" y="1319.5" font-size="16.4">D2HG</text>
<rect x="1287.6" y="1328.6" width="17.4" height="17.4" fill="#8cbbe8"/>
<text x="1312.4" y="1342.9" font-size="16.4">D2hgdh</text>
<rect x="1287.6" y="1352.4" width="17.4" height="17.4" fill="#4f2dd0"/>
<text x="1314.8" y="1366.7" font-size="16.4" textLength="116.5" lengthAdjust="spacingAndGlyphs">D2HG + D2hgdh</text>
</g>
<g id="panel-i">
<rect x="1461.4" y="955.2" width="454.64" height="15.4" fill="#999"/><rect x="1463.2" y="956.7" width="36.12" height="12.4" fill="#a33f1c"/><rect x="1500.92" y="956.7" width="36.12" height="12.4" fill="#a33f1c"/><rect x="1538.64" y="956.7" width="36.12" height="12.4" fill="#a33f1c"/><rect x="1576.36" y="956.7" width="36.12" height="12.4" fill="#4e2ac8"/><rect x="1614.08" y="956.7" width="36.12" height="12.4" fill="#4e2ac8"/><rect x="1651.8" y="956.7" width="36.12" height="12.4" fill="#4e2ac8"/><rect x="1689.52" y="956.7" width="36.12" height="12.4" fill="#8fdf7a"/><rect x="1727.24" y="956.7" width="36.12" height="12.4" fill="#8fdf7a"/><rect x="1764.96" y="956.7" width="36.12" height="12.4" fill="#8fdf7a"/><rect x="1802.68" y="956.7" width="36.12" height="12.4" fill="#0b0705"/><rect x="1840.4" y="956.7" width="36.12" height="12.4" fill="#0b0705"/><rect x="1878.12" y="956.7" width="36.12" height="12.4" fill="#0b0705"/>
<rect x="1461.8" y="974.4" width="453.84" height="678" fill="#8c8c8c"/><g shape-rendering="auto"><rect x="1463.15" y="975.75" width="36.22" height="5.27" fill="#a56c4d"/><rect x="1500.87" y="975.75" width="36.22" height="5.27" fill="#a56c4d"/><rect x="1538.59" y="975.75" width="36.22" height="5.27" fill="#a56c4d"/><rect x="1576.31" y="975.75" width="36.22" height="5.27" fill="#cba27a"/><rect x="1614.03" y="975.75" width="36.22" height="5.27" fill="#cba27a"/><rect x="1651.75" y="975.75" width="36.22" height="5.27" fill="#ba8a64"/><rect x="1689.47" y="975.75" width="36.22" height="5.27" fill="#485299"/><rect x="1727.19" y="975.75" width="36.22" height="5.27" fill="#6c7eb7"/><rect x="1764.91" y="975.75" width="36.22" height="5.27" fill="#6c7eb7"/><rect x="1802.63" y="975.75" width="36.22" height="5.27" fill="#afbfdc"/><rect x="1840.35" y="975.75" width="36.22" height="5.27" fill="#91a6cf"/><rect x="1878.07" y="975.75" width="36.22" height="5.27" fill="#91a6cf"/><rect x="1463.15" y="982.52" width="36.22" height="5.27" fill="#a56c4d"/><rect x="1500.87" y="982.52" width="36.22" height="5.27" fill="#ba8a64"/><rect x="1538.59" y="982.52" width="36.22" height="5.27" fill="#a56c4d"/><rect x="1576.31" y="982.52" width="36.22" height="5.27" fill="#cba27a"/><rect x="1614.03" y="982.52" width="36.22" height="5.27" fill="#cba27a"/><rect x="1651.75" y="982.52" width="36.22" height="5.27" fill="#ba8a64"/><rect x="1689.47" y="982.52" width="36.22" height="5.27" fill="#6c7eb7"/><rect x="1727.19" y="982.52" width="36.22" height="5.27" fill="#6c7eb7"/><rect x="1764.91" y="982.52" width="36.22" height="5.27" fill="#91a6cf"/><rect x="1802.63" y="982.52" width="36.22" height="5.27" fill="#91a6cf"/><rect x="1840.35" y="982.52" width="36.22" height="5.27" fill="#6c7eb7"/><rect x="1878.07" y="982.52" width="36.22" height="5.27" fill="#91a6cf"/><rect x="1463.15" y="989.29" width="36.22" height="5.27" fill="#a56c4d"/><rect x="1500.87" y="989.29" width="36.22" height="5.27" fill="#ba8a64"/><rect x="1538.59" y="989.29" width="36.22" height="5.27" fill="#a56c4d"/><rect x="1576.31" y="989.29" width="36.22" height="5.27" fill="#cba27a"/><rect x="1614.03" y="989.29" width="36.22" height="5.27" fill="#ba8a64"/><rect x="1651.75" y="989.29" width="36.22" height="5.27" fill="#cba27a"/><rect x="1689.47" y="989.29" width="36.22" height="5.27" fill="#6c7eb7"/><rect x="1727.19" y="989.29" width="36.22" height="5.27" fill="#91a6cf"/><rect x="1764.91" y="989.29" width="36.22" height="5.27" fill="#91a6cf"/><rect x="1802.63" y="989.29" width="36.22" height="5.27" fill="#afbfdc"/><rect x="1840.35" y="989.29" width="36.22" height="5.27" fill="#91a6cf"/><rect x="1878.07" y="989.29" width="36.22" height="5.27" fill="#6c7eb7"/><rect x="1463.15" y="996.05" width="36.22" height="5.27" fill="#ba8a64"/><rect x="1500.87" y="996.05" width="36.22" height="5.27" fill="#ba8a64"/><rect x="1538.59" y="996.05" width="36.22" height="5.27" fill="#cba27a"/><rect x="1576.31" y="996.05" width="36.22" height="5.27" fill="#ba8a64"/><rect x="1614.03" y="996.05" width="36.22" height="5.27" fill="#a56c4d"/><rect x="1651.75" y="996.05" width="36.22" height="5.27" fill="#ba8a64"/><rect x="1689.47" y="996.05" width="36.22" height="5.27" fill="#91a6cf"/><rect x="1727.19" y="996.05" width="36.22" height="5.27" fill="#afbfdc"/><rect x="1764.91" y="996.05" width="36.22" height="5.27" fill="#afbfdc"/><rect x="1802.63" y="996.05" width="36.22" height="5.27" fill="#6c7eb7"/><rect x="1840.35" y="996.05" width="36.22" height="5.27" fill="#485299"/><rect x="1878.07" y="996.05" width="36.22" height="5.27" fill="#91a6cf"/><rect x="1463.15" y="1002.82" width="36.22" height="5.27" fill="#874730"/><rect x="1500.87" y="1002.82" width="36.22" height="5.27" fill="#ba8a64"/><rect x="1538.59" y="1002.82" width="36.22" height="5.27" fill="#cba27a"/><rect x="1576.31" y="1002.82" width="36.22" height="5.27" fill="#ba8a64"/><rect x="1614.03" y="1002.82" width="36.22" height="5.27" fill="#ba8a64"/><rect x="1651.75" y="1002.82" width="36.22" height="5.27" fill="#ba8a64"/><rect x="1689.47" y="1002.82" width="36.22" height="5.27" fill="#6c7eb7"/><rect x="1727.19" y="1002.82" width="36.22" height="5.27" fill="#6c7eb7"/><rect x="1764.91" y="1002.82" width="36.22" height="5.27" fill="#485299"/><rect x="1802.63" y="1002.82" width="36.22" height="5.27" fill="#91a6cf"/><rect x="1840.35" y="1002.82" width="36.22" height="5.27" fill="#afbfdc"/><rect x="1878.07" y="1002.82" width="36.22" height="5.27" fill="#91a6cf"/><rect x="1463.15" y="1009.59" width="36.22" height="5.27" fill="#a56c4d"/><rect x="1500.87" y="1009.59" width="36.22" height="5.27" fill="#e4cbad"/><rect x="1538.59" y="1009.59" width="36.22" height="5.27" fill="#ba8a64"/><rect x="1576.31" y="1009.59" width="36.22" height="5.27" fill="#ba8a64"/><rect x="1614.03" y="1009.59" width="36.22" height="5.27" fill="#ba8a64"/><rect x="1651.75" y="1009.59" width="36.22" height="5.27" fill="#874730"/><rect x="1689.47" y="1009.59" width="36.22" height="5.27" fill="#6c7eb7"/><rect x="1727.19" y="1009.59" width="36.22" height="5.27" fill="#6c7eb7"/><rect x="1764.91" y="1009.59" width="36.22" height="5.27" fill="#6c7eb7"/><rect x="1802.63" y="1009.59" width="36.22" height="5.27" fill="#6c7eb7"/><rect x="1840.35" y="1009.59" width="36.22" height="5.27" fill="#6c7eb7"/><rect x="1878.07" y="1009.59" width="36.22" height="5.27" fill="#6c7eb7"/><rect x="1463.15" y="1016.36" width="36.22" height="5.27" fill="#874730"/><rect x="1500.87" y="1016.36" width="36.22" height="5.27" fill="#874730"/><rect x="1538.59" y="1016.36" width="36.22" height="5.27" fill="#874730"/><rect x="1576.31" y="1016.36" width="36.22" height="5.27" fill="#e6dac7"/><rect x="1614.03" y="1016.36" width="36.22" height="5.27" fill="#cbd6e6"/><rect x="1651.75" y="1016.36" width="36.22" height="5.27" fill="#dddad6"/><rect x="1689.47" y="1016.36" width="36.22" height="5.27" fill="#cbd6e6"/><rect x="1727.19" y="1016.36" width="36.22" height="5.27" fill="#91a6cf"/><rect x="1764.91" y="1016.36" width="36.22" height="5.27" fill="#91a6cf"/><rect x="1802.63" y="1016.36" width="36.22" height="5.27" fill="#91a6cf"/><rect x="1840.35" y="1016.36" width="36.22" height="5.27" fill="#91a6cf"/><rect x="1878.07" y="1016.36" width="36.22" height="5.27" fill="#6c7eb7"/><rect x="1463.15" y="1023.13" width="36.22" height="5.27" fill="#874730"/><rect x="1500.87" y="1023.13" width="36.22" height="5.27" fill="#874730"/><rect x="1538.59" y="1023.13" width="36.22" height="5.27" fill="#692b21"/><rect x="1576.31" y="1023.13" width="36.22" height="5.27" fill="#dddad6"/><rect x="1614.03" y="1023.13" width="36.22" height="5.27" fill="#cbd6e6"/><rect x="1651.75" y="1023.13" width="36.22" height="5.27" fill="#e6dac7"/><rect x="1689.47" y="1023.13" width="36.22" height="5.27" fill="#91a6cf"/><rect x="1727.19" y="1023.13" width="36.22" height="5.27" fill="#6c7eb7"/><rect x="1764.91" y="1023.13" width="36.22" height="5.27" fill="#91a6cf"/><rect x="1802.63" y="1023.13" width="36.22" height="5.27" fill="#6c7eb7"/><rect x="1840.35" y="1023.13" width="36.22" height="5.27" fill="#91a6cf"/><rect x="1878.07" y="1023.13" width="36.22" height="5.27" fill="#91a6cf"/><rect x="1463.15" y="1029.89" width="36.22" height="5.27" fill="#692b21"/><rect x="1500.87" y="1029.89" width="36.22" height="5.27" fill="#874730"/><rect x="1538.59" y="1029.89" width="36.22" height="5.27" fill="#874730"/><rect x="1576.31" y="1029.89" width="36.22" height="5.27" fill="#dddad6"/><rect x="1614.03" y="1029.89" width="36.22" height="5.27" fill="#dddad6"/><rect x="1651.75" y="1029.89" width="36.22" height="5.27" fill="#dddad6"/><rect x="1689.47" y="1029.89" width="36.22" height="5.27" fill="#91a6cf"/><rect x="1727.19" y="1029.89" width="36.22" height="5.27" fill="#6c7eb7"/><rect x="1764.91" y="1029.89" width="36.22" height="5.27" fill="#6c7eb7"/><rect x="1802.63" y="1029.89" width="36.22" height="5.27" fill="#6c7eb7"/><rect x="1840.35" y="1029.89" width="36.22" height="5.27" fill="#afbfdc"/><rect x="1878.07" y="1029.89" width="36.22" height="5.27" fill="#6c7eb7"/><rect x="1463.15" y="1036.66" width="36.22" height="5.27" fill="#874730"/><rect x="1500.87" y="1036.66" width="36.22" height="5.27" fill="#874730"/><rect x="1538.59" y="1036.66" width="36.22" height="5.27" fill="#692b21"/><rect x="1576.31" y="1036.66" width="36.22" height="5.27" fill="#e6dac7"/><rect x="1614.03" y="1036.66" width="36.22" height="5.27" fill="#dddad6"/><rect x="1651.75" y="1036.66" width="36.22" height="5.27" fill="#dddad6"/><rect x="1689.47" y="1036.66" width="36.22" height="5.27" fill="#91a6cf"/><rect x="1727.19" y="1036.66" width="36.22" height="5.27" fill="#6c7eb7"/><rect x="1764.91" y="1036.66" width="36.22" height="5.27" fill="#485299"/><rect x="1802.63" y="1036.66" width="36.22" height="5.27" fill="#afbfdc"/><rect x="1840.35" y="1036.66" width="36.22" height="5.27" fill="#91a6cf"/><rect x="1878.07" y="1036.66" width="36.22" height="5.27" fill="#91a6cf"/><rect x="1463.15" y="1043.43" width="36.22" height="5.27" fill="#a56c4d"/><rect x="1500.87" y="1043.43" width="36.22" height="5.27" fill="#692b21"/><rect x="1538.59" y="1043.43" width="36.22" height="5.27" fill="#692b21"/><rect x="1576.31" y="1043.43" width="36.22" height="5.27" fill="#dddad6"/><rect x="1614.03" y="1043.43" width="36.22" height="5.27" fill="#e6dac7"/><rect x="1651.75" y="1043.43" width="36.22" height="5.27" fill="#cbd6e6"/><rect x="1689.47" y="1043.43" width="36.22" height="5.27" fill="#6c7eb7"/><rect x="1727.19" y="1043.43" width="36.22" height="5.27" fill="#91a6cf"/><rect x="1764.91" y="1043.43" width="36.22" height="5.27" fill="#91a6cf"/><rect x="1802.63" y="1043.43" width="36.22" height="5.27" fill="#91a6cf"/><rect x="1840.35" y="1043.43" width="36.22" height="5.27" fill="#91a6cf"/><rect x="1878.07" y="1043.43" width="36.22" height="5.27" fill="#afbfdc"/><rect x="1463.15" y="1050.2" width="36.22" height="5.27" fill="#a56c4d"/><rect x="1500.87" y="1050.2" width="36.22" height="5.27" fill="#874730"/><rect x="1538.59" y="1050.2" width="36.22" height="5.27" fill="#874730"/><rect x="1576.31" y="1050.2" width="36.22" height="5.27" fill="#e4cbad"/><rect x="1614.03" y="1050.2" width="36.22" height="5.27" fill="#e4cbad"/><rect x="1651.75" y="1050.2" width="36.22" height="5.27" fill="#e4cbad"/><rect x="1689.47" y="1050.2" width="36.22" height="5.27" fill="#6c7eb7"/><rect x="1727.19" y="1050.2" width="36.22" height="5.27" fill="#6c7eb7"/><rect x="1764.91" y="1050.2" width="36.22" height="5.27" fill="#6c7eb7"/><rect x="1802.63" y="1050.2" width="36.22" height="5.27" fill="#91a6cf"/><rect x="1840.35" y="1050.2" width="36.22" height="5.27" fill="#91a6cf"/><rect x="1878.07" y="1050.2" width="36.22" height="5.27" fill="#afbfdc"/><rect x="1463.15" y="1056.97" width="36.22" height="5.27" fill="#a56c4d"/><rect x="1500.87" y="1056.97" width="36.22" height="5.27" fill="#874730"/><rect x="1538.59" y="1056.97" width="36.22" height="5.27" fill="#874730"/><rect x="1576.31" y="1056.97" width="36.22" height="5.27" fill="#e6dac7"/><rect x="1614.03" y="1056.97" width="36.22" height="5.27" fill="#e6dac7"/><rect x="1651.75" y="1056.97" width="36.22" height="5.27" fill="#e4cbad"/><rect x="1689.47" y="1056.97" width="36.22" height="5.27" fill="#6c7eb7"/><rect x="1727.19" y="1056.97" width="36.22" height="5.27" fill="#91a6cf"/><rect x="1764.91" y="1056.97" width="36.22" height="5.27" fill="#6c7eb7"/><rect x="1802.63" y="1056.97" width="36.22" height="5.27" fill="#afbfdc"/><rect x="1840.35" y="1056.97" width="36.22" height="5.27" fill="#91a6cf"/><rect x="1878.07" y="1056.97" width="36.22" height="5.27" fill="#afbfdc"/><rect x="1463.15" y="1063.73" width="36.22" height="5.27" fill="#a56c4d"/><rect x="1500.87" y="1063.73" width="36.22" height="5.27" fill="#a56c4d"/><rect x="1538.59" y="1063.73" width="36.22" height="5.27" fill="#874730"/><rect x="1576.31" y="1063.73" width="36.22" height="5.27" fill="#e4cbad"/><rect x="1614.03" y="1063.73" width="36.22" height="5.27" fill="#e4cbad"/><rect x="1651.75" y="1063.73" width="36.22" height="5.27" fill="#e6dac7"/><rect x="1689.47" y="1063.73" width="36.22" height="5.27" fill="#91a6cf"/><rect x="1727.19" y="1063.73" width="36.22" height="5.27" fill="#91a6cf"/><rect x="1764.91" y="1063.73" width="36.22" height="5.27" fill="#afbfdc"/><rect x="1802.63" y="1063.73" width="36.22" height="5.27" fill="#485299"/><rect x="1840.35" y="1063.73" width="36.22" height="5.27" fill="#91a6cf"/><rect x="1878.07" y="1063.73" width="36.22" height="5.27" fill="#485299"/><rect x="1463.15" y="1070.5" width="36.22" height="5.27" fill="#ba8a64"/><rect x="1500.87" y="1070.5" width="36.22" height="5.27" fill="#874730"/><rect x="1538.59" y="1070.5" width="36.22" height="5.27" fill="#874730"/><rect x="1576.31" y="1070.5" width="36.22" height="5.27" fill="#d7b58f"/><rect x="1614.03" y="1070.5" width="36.22" height="5.27" fill="#d7b58f"/><rect x="1651.75" y="1070.5" width="36.22" height="5.27" fill="#d7b58f"/><rect x="1689.47" y="1070.5" width="36.22" height="5.27" fill="#6c7eb7"/><rect x="1727.19" y="1070.5" width="36.22" height="5.27" fill="#91a6cf"/><rect x="1764.91" y="1070.5" width="36.22" height="5.27" fill="#91a6cf"/><rect x="1802.63" y="1070.5" width="36.22" height="5.27" fill="#6c7eb7"/><rect x="1840.35" y="1070.5" width="36.22" height="5.27" fill="#91a6cf"/><rect x="1878.07" y="1070.5" width="36.22" height="5.27" fill="#6c7eb7"/><rect x="1463.15" y="1077.27" width="36.22" height="5.27" fill="#874730"/><rect x="1500.87" y="1077.27" width="36.22" height="5.27" fill="#692b21"/><rect x="1538.59" y="1077.27" width="36.22" height="5.27" fill="#692b21"/><rect x="1576.31" y="1077.27" width="36.22" height="5.27" fill="#91a6cf"/><rect x="1614.03" y="1077.27" width="36.22" height="5.27" fill="#afbfdc"/><rect x="1651.75" y="1077.27" width="36.22" height="5.27" fill="#afbfdc"/><rect x="1689.47" y="1077.27" width="36.22" height="5.27" fill="#cbd6e6"/><rect x="1727.19" y="1077.27" width="36.22" height="5.27" fill="#cbd6e6"/><rect x="1764.91" y="1077.27" width="36.22" height="5.27" fill="#cbd6e6"/><rect x="1802.63" y="1077.27" width="36.22" height="5.27" fill="#91a6cf"/><rect x="1840.35" y="1077.27" width="36.22" height="5.27" fill="#91a6cf"/><rect x="1878.07" y="1077.27" width="36.22" height="5.27" fill="#6c7eb7"/><rect x="1463.15" y="1084.04" width="36.22" height="5.27" fill="#874730"/><rect x="1500.87" y="1084.04" width="36.22" height="5.27" fill="#4a1c1a"/><rect x="1538.59" y="1084.04" width="36.22" height="5.27" fill="#874730"/><rect x="1576.31" y="1084.04" width="36.22" height="5.27" fill="#cbd6e6"/><rect x="1614.03" y="1084.04" width="36.22" height="5.27" fill="#afbfdc"/><rect x="1651.75" y="1084.04" width="36.22" height="5.27" fill="#cbd6e6"/><rect x="1689.47" y="1084.04" width="36.22" height="5.27" fill="#dddad6"/><rect x="1727.19" y="1084.04" width="36.22" height="5.27" fill="#afbfdc"/><rect x="1764.91" y="1084.04" width="36.22" height="5.27" fill="#afbfdc"/><rect x="1802.63" y="1084.04" width="36.22" height="5.27" fill="#91a6cf"/><rect x="1840.35" y="1084.04" width="36.22" height="5.27" fill="#afbfdc"/><rect x="1878.07" y="1084.04" width="36.22" height="5.27" fill="#6c7eb7"/><rect x="1463.15" y="1090.81" width="36.22" height="5.27" fill="#4a1c1a"/><rect x="1500.87" y="1090.81" width="36.22" height="5.27" fill="#692b21"/><rect x="1538.59" y="1090.81" width="36.22" height="5.27" fill="#874730"/><rect x="1576.31" y="1090.81" width="36.22" height="5.27" fill="#afbfdc"/><rect x="1614.03" y="1090.81" width="36.22" height="5.27" fill="#afbfdc"/><rect x="1651.75" y="1090.81" width="36.22" height="5.27" fill="#afbfdc"/><rect x="1689.47" y="1090.81" width="36.22" height="5.27" fill="#afbfdc"/><rect x="1727.19" y="1090.81" width="36.22" height="5.27" fill="#afbfdc"/><rect x="1764.91" y="1090.81" width="36.22" height="5.27" fill="#afbfdc"/><rect x="1802.63" y="1090.81" width="36.22" height="5.27" fill="#afbfdc"/><rect x="1840.35" y="1090.81" width="36.22" height="5.27" fill="#afbfdc"/><rect x="1878.07" y="1090.81" width="36.22" height="5.27" fill="#91a6cf"/><rect x="1463.15" y="1097.57" width="36.22" height="5.27" fill="#4a1c1a"/><rect x="1500.87" y="1097.57" width="36.22" height="5.27" fill="#4a1c1a"/><rect x="1538.59" y="1097.57" width="36.22" height="5.27" fill="#a56c4d"/><rect x="1576.31" y="1097.57" width="36.22" height="5.27" fill="#afbfdc"/><rect x="1614.03" y="1097.57" width="36.22" height="5.27" fill="#afbfdc"/><rect x="1651.75" y="1097.57" width="36.22" height="5.27" fill="#afbfdc"/><rect x="1689.47" y="1097.57" width="36.22" height="5.27" fill="#afbfdc"/><rect x="1727.19" y="1097.57" width="36.22" height="5.27" fill="#afbfdc"/><rect x="1764.91" y="1097.57" width="36.22" height="5.27" fill="#afbfdc"/><rect x="1802.63" y="1097.57" width="36.22" height="5.27" fill="#afbfdc"/><rect x="1840.35" y="1097.57" width="36.22" height="5.27" fill="#afbfdc"/><rect x="1878.07" y="1097.57" width="36.22" height="5.27" fill="#afbfdc"/><rect x="1463.15" y="1104.34" width="36.22" height="5.27" fill="#4a1c1a"/><rect x="1500.87" y="1104.34" width="36.22" height="5.27" fill="#874730"/><rect x="1538.59" y="1104.34" width="36.22" height="5.27" fill="#874730"/><rect x="1576.31" y="1104.34" width="36.22" height="5.27" fill="#afbfdc"/><rect x="1614.03" y="1104.34" width="36.22" height="5.27" fill="#cbd6e6"/><rect x="1651.75" y="1104.34" width="36.22" height="5.27" fill="#afbfdc"/><rect x="1689.47" y="1104.34" width="36.22" height="5.27" fill="#afbfdc"/><rect x="1727.19" y="1104.34" width="36.22" height="5.27" fill="#cbd6e6"/><rect x="1764.91" y="1104.34" width="36.22" height="5.27" fill="#afbfdc"/><rect x="1802.63" y="1104.34" width="36.22" height="5.27" fill="#afbfdc"/><rect x="1840.35" y="1104.34" width="36.22" height="5.27" fill="#91a6cf"/><rect x="1878.07" y="1104.34" width="36.22" height="5.27" fill="#6c7eb7"/><rect x="1463.15" y="1111.11" width="36.22" height="5.27" fill="#4a1c1a"/><rect x="1500.87" y="1111.11" width="36.22" height="5.27" fill="#874730"/><rect x="1538.59" y="1111.11" width="36.22" height="5.27" fill="#874730"/><rect x="1576.31" y="1111.11" width="36.22" height="5.27" fill="#cbd6e6"/><rect x="1614.03" y="1111.11" width="36.22" height="5.27" fill="#cbd6e6"/><rect x="1651.75" y="1111.11" width="36.22" height="5.27" fill="#cbd6e6"/><rect x="1689.47" y="1111.11" width="36.22" height="5.27" fill="#afbfdc"/><rect x="1727.19" y="1111.11" width="36.22" height="5.27" fill="#afbfdc"/><rect x="1764.91" y="1111.11" width="36.22" height="5.27" fill="#91a6cf"/><rect x="1802.63" y="1111.11" width="36.22" height="5.27" fill="#afbfdc"/><rect x="1840.35" y="1111.11" width="36.22" height="5.27" fill="#afbfdc"/><rect x="1878.07" y="1111.11" width="36.22" height="5.27" fill="#91a6cf"/><rect x="1463.15" y="1117.88" width="36.22" height="5.27" fill="#692b21"/><rect x="1500.87" y="1117.88" width="36.22" height="5.27" fill="#874730"/><rect x="1538.59" y="1117.88" width="36.22" height="5.27" fill="#874730"/><rect x="1576.31" y="1117.88" width="36.22" height="5.27" fill="#cbd6e6"/><rect x="1614.03" y="1117.88" width="36.22" height="5.27" fill="#afbfdc"/><rect x="1651.75" y="1117.88" width="36.22" height="5.27" fill="#afbfdc"/><rect x="1689.47" y="1117.88" width="36.22" height="5.27" fill="#afbfdc"/><rect x="1727.19" y="1117.88" width="36.22" height="5.27" fill="#afbfdc"/><rect x="1764.91" y="1117.88" width="36.22" height="5.27" fill="#91a6cf"/><rect x="1802.63" y="1117.88" width="36.22" height="5.27" fill="#afbfdc"/><rect x="1840.35" y="1117.88" width="36.22" height="5.27" fill="#91a6cf"/><rect x="1878.07" y="1117.88" width="36.22" height="5.27" fill="#91a6cf"/><rect x="1463.15" y="1124.65" width="36.22" height="5.27" fill="#692b21"/><rect x="1500.87" y="1124.65" width="36.22" height="5.27" fill="#874730"/><rect x="1538.59" y="1124.65" width="36.22" height="5.27" fill="#874730"/><rect x="1576.31" y="1124.65" width="36.22" height="5.27" fill="#91a6cf"/><rect x="1614.03" y="1124.65" width="36.22" height="5.27" fill="#afbfdc"/><rect x="1651.75" y="1124.65" width="36.22" height="5.27" fill="#afbfdc"/><rect x="1689.47" y="1124.65" width="36.22" height="5.27" fill="#cbd6e6"/><rect x="1727.19" y="1124.65" width="36.22" height="5.27" fill="#cbd6e6"/><rect x="1764.91" y="1124.65" width="36.22" height="5.27" fill="#afbfdc"/><rect x="1802.63" y="1124.65" width="36.22" height="5.27" fill="#dddad6"/><rect x="1840.35" y="1124.65" width="36.22" height="5.27" fill="#afbfdc"/><rect x="1878.07" y="1124.65" width="36.22" height="5.27" fill="#91a6cf"/><rect x="1463.15" y="1131.41" width="36.22" height="5.27" fill="#874730"/><rect x="1500.87" y="1131.41" width="36.22" height="5.27" fill="#692b21"/><rect x="1538.59" y="1131.41" width="36.22" height="5.27" fill="#692b21"/><rect x="1576.31" y="1131.41" width="36.22" height="5.27" fill="#cbd6e6"/><rect x="1614.03" y="1131.41" width="36.22" height="5.27" fill="#afbfdc"/><rect x="1651.75" y="1131.41" width="36.22" height="5.27" fill="#afbfdc"/><rect x="1689.47" y="1131.41" width="36.22" height="5.27" fill="#afbfdc"/><rect x="1727.19" y="1131.41" width="36.22" height="5.27" fill="#afbfdc"/><rect x="1764.91" y="1131.41" width="36.22" height="5.27" fill="#afbfdc"/><rect x="1802.63" y="1131.41" width="36.22" height="5.27" fill="#afbfdc"/><rect x="1840.35" y="1131.41" width="36.22" height="5.27" fill="#dddad6"/><rect x="1878.07" y="1131.41" width="36.22" height="5.27" fill="#afbfdc"/><rect x="1463.15" y="1138.18" width="36.22" height="5.27" fill="#874730"/><rect x="1500.87" y="1138.18" width="36.22" height="5.27" fill="#4a1c1a"/><rect x="1538.59" y="1138.18" width="36.22" height="5.27" fill="#692b21"/><rect x="1576.31" y="1138.18" width="36.22" height="5.27" fill="#afbfdc"/><rect x="1614.03" y="1138.18" width="36.22" height="5.27" fill="#cbd6e6"/><rect x="1651.75" y="1138.18" width="36.22" height="5.27" fill="#91a6cf"/><rect x="1689.47" y="1138.18" width="36.22" height="5.27" fill="#91a6cf"/><rect x="1727.19" y="1138.18" width="36.22" height="5.27" fill="#afbfdc"/><rect x="1764.91" y="1138.18" width="36.22" height="5.27" fill="#afbfdc"/><rect x="1802.63" y="1138.18" width="36.22" height="5.27" fill="#cbd6e6"/><rect x="1840.35" y="1138.18" width="36.22" height="5.27" fill="#dddad6"/><rect x="1878.07" y="1138.18" width="36.22" height="5.27" fill="#afbfdc"/><rect x="1463.15" y="1144.95" width="36.22" height="5.27" fill="#692b21"/><rect x="1500.87" y="1144.95" width="36.22" height="5.27" fill="#874730"/><rect x="1538.59" y="1144.95" width="36.22" height="5.27" fill="#692b21"/><rect x="1576.31" y="1144.95" width="36.22" height="5.27" fill="#cbd6e6"/><rect x="1614.03" y="1144.95" width="36.22" height="5.27" fill="#91a6cf"/><rect x="1651.75" y="1144.95" width="36.22" height="5.27" fill="#afbfdc"/><rect x="1689.47" y="1144.95" width="36.22" height="5.27" fill="#91a6cf"/><rect x="1727.19" y="1144.95" width="36.22" height="5.27" fill="#91a6cf"/><rect x="1764.91" y="1144.95" width="36.22" height="5.27" fill="#afbfdc"/><rect x="1802.63" y="1144.95" width="36.22" height="5.27" fill="#91a6cf"/><rect x="1840.35" y="1144.95" width="36.22" height="5.27" fill="#afbfdc"/><rect x="1878.07" y="1144.95" width="36.22" height="5.27" fill="#cbd6e6"/><rect x="1463.15" y="1151.72" width="36.22" height="5.27" fill="#874730"/><rect x="1500.87" y="1151.72" width="36.22" height="5.27" fill="#874730"/><rect x="1538.59" y="1151.72" width="36.22" height="5.27" fill="#4a1c1a"/><rect x="1576.31" y="1151.72" width="36.22" height="5.27" fill="#cbd6e6"/><rect x="1614.03" y="1151.72" width="36.22" height="5.27" fill="#91a6cf"/><rect x="1651.75" y="1151.72" width="36.22" height="5.27" fill="#dddad6"/><rect x="1689.47" y="1151.72" width="36.22" height="5.27" fill="#91a6cf"/><rect x="1727.19" y="1151.72" width="36.22" height="5.27" fill="#91a6cf"/><rect x="1764.91" y="1151.72" width="36.22" height="5.27" fill="#91a6cf"/><rect x="1802.63" y="1151.72" width="36.22" height="5.27" fill="#afbfdc"/><rect x="1840.35" y="1151.72" width="36.22" height="5.27" fill="#91a6cf"/><rect x="1878.07" y="1151.72" width="36.22" height="5.27" fill="#91a6cf"/><rect x="1463.15" y="1158.49" width="36.22" height="5.27" fill="#692b21"/><rect x="1500.87" y="1158.49" width="36.22" height="5.27" fill="#874730"/><rect x="1538.59" y="1158.49" width="36.22" height="5.27" fill="#874730"/><rect x="1576.31" y="1158.49" width="36.22" height="5.27" fill="#dddad6"/><rect x="1614.03" y="1158.49" width="36.22" height="5.27" fill="#afbfdc"/><rect x="1651.75" y="1158.49" width="36.22" height="5.27" fill="#dddad6"/><rect x="1689.47" y="1158.49" width="36.22" height="5.27" fill="#91a6cf"/><rect x="1727.19" y="1158.49" width="36.22" height="5.27" fill="#6c7eb7"/><rect x="1764.91" y="1158.49" width="36.22" height="5.27" fill="#6c7eb7"/><rect x="1802.63" y="1158.49" width="36.22" height="5.27" fill="#91a6cf"/><rect x="1840.35" y="1158.49" width="36.22" height="5.27" fill="#cbd6e6"/><rect x="1878.07" y="1158.49" width="36.22" height="5.27" fill="#afbfdc"/><rect x="1463.15" y="1165.25" width="36.22" height="5.27" fill="#874730"/><rect x="1500.87" y="1165.25" width="36.22" height="5.27" fill="#874730"/><rect x="1538.59" y="1165.25" width="36.22" height="5.27" fill="#692b21"/><rect x="1576.31" y="1165.25" width="36.22" height="5.27" fill="#cbd6e6"/><rect x="1614.03" y="1165.25" width="36.22" height="5.27" fill="#cbd6e6"/><rect x="1651.75" y="1165.25" width="36.22" height="5.27" fill="#afbfdc"/><rect x="1689.47" y="1165.25" width="36.22" height="5.27" fill="#6c7eb7"/><rect x="1727.19" y="1165.25" width="36.22" height="5.27" fill="#91a6cf"/><rect x="1764.91" y="1165.25" width="36.22" height="5.27" fill="#6c7eb7"/><rect x="1802.63" y="1165.25" width="36.22" height="5.27" fill="#afbfdc"/><rect x="1840.35" y="1165.25" width="36.22" height="5.27" fill="#cbd6e6"/><rect x="1878.07" y="1165.25" width="36.22" height="5.27" fill="#afbfdc"/><rect x="1463.15" y="1172.02" width="36.22" height="5.27" fill="#874730"/><rect x="1500.87" y="1172.02" width="36.22" height="5.27" fill="#874730"/><rect x="1538.59" y="1172.02" width="36.22" height="5.27" fill="#874730"/><rect x="1576.31" y="1172.02" width="36.22" height="5.27" fill="#cbd6e6"/><rect x="1614.03" y="1172.02" width="36.22" height="5.27" fill="#cbd6e6"/><rect x="1651.75" y="1172.02" width="36.22" height="5.27" fill="#cbd6e6"/><rect x="1689.47" y="1172.02" width="36.22" height="5.27" fill="#485299"/><rect x="1727.19" y="1172.02" width="36.22" height="5.27" fill="#6c7eb7"/><rect x="1764.91" y="1172.02" width="36.22" height="5.27" fill="#91a6cf"/><rect x="1802.63" y="1172.02" width="36.22" height="5.27" fill="#afbfdc"/><rect x="1840.35" y="1172.02" width="36.22" height="5.27" fill="#cbd6e6"/><rect x="1878.07" y="1172.02" width="36.22" height="5.27" fill="#91a6cf"/><rect x="1463.15" y="1178.79" width="36.22" height="5.27" fill="#d7b58f"/><rect x="1500.87" y="1178.79" width="36.22" height="5.27" fill="#a56c4d"/><rect x="1538.59" y="1178.79" width="36.22" height="5.27" fill="#a56c4d"/><rect x="1576.31" y="1178.79" width="36.22" height="5.27" fill="#485299"/><rect x="1614.03" y="1178.79" width="36.22" height="5.27" fill="#6c7eb7"/><rect x="1651.75" y="1178.79" width="36.22" height="5.27" fill="#232350"/><rect x="1689.47" y="1178.79" width="36.22" height="5.27" fill="#dddad6"/><rect x="1727.19" y="1178.79" width="36.22" height="5.27" fill="#e6dac7"/><rect x="1764.91" y="1178.79" width="36.22" height="5.27" fill="#e6dac7"/><rect x="1802.63" y="1178.79" width="36.22" height="5.27" fill="#cba27a"/><rect x="1840.35" y="1178.79" width="36.22" height="5.27" fill="#e4cbad"/><rect x="1878.07" y="1178.79" width="36.22" height="5.27" fill="#e4cbad"/><rect x="1463.15" y="1185.56" width="36.22" height="5.27" fill="#692b21"/><rect x="1500.87" y="1185.56" width="36.22" height="5.27" fill="#4a1c1a"/><rect x="1538.59" y="1185.56" width="36.22" height="5.27" fill="#874730"/><rect x="1576.31" y="1185.56" width="36.22" height="5.27" fill="#91a6cf"/><rect x="1614.03" y="1185.56" width="36.22" height="5.27" fill="#91a6cf"/><rect x="1651.75" y="1185.56" width="36.22" height="5.27" fill="#91a6cf"/><rect x="1689.47" y="1185.56" width="36.22" height="5.27" fill="#cbd6e6"/><rect x="1727.19" y="1185.56" width="36.22" height="5.27" fill="#cbd6e6"/><rect x="1764.91" y="1185.56" width="36.22" height="5.27" fill="#afbfdc"/><rect x="1802.63" y="1185.56" width="36.22" height="5.27" fill="#cbd6e6"/><rect x="1840.35" y="1185.56" width="36.22" height="5.27" fill="#afbfdc"/><rect x="1878.07" y="1185.56" width="36.22" height="5.27" fill="#91a6cf"/><rect x="1463.15" y="1192.33" width="36.22" height="5.27" fill="#874730"/><rect x="1500.87" y="1192.33" width="36.22" height="5.27" fill="#4a1c1a"/><rect x="1538.59" y="1192.33" width="36.22" height="5.27" fill="#874730"/><rect x="1576.31" y="1192.33" width="36.22" height="5.27" fill="#91a6cf"/><rect x="1614.03" y="1192.33" width="36.22" height="5.27" fill="#91a6cf"/><rect x="1651.75" y="1192.33" width="36.22" height="5.27" fill="#91a6cf"/><rect x="1689.47" y="1192.33" width="36.22" height="5.27" fill="#cbd6e6"/><rect x="1727.19" y="1192.33" width="36.22" height="5.27" fill="#cbd6e6"/><rect x="1764.91" y="1192.33" width="36.22" height="5.27" fill="#cbd6e6"/><rect x="1802.63" y="1192.33" width="36.22" height="5.27" fill="#cbd6e6"/><rect x="1840.35" y="1192.33" width="36.22" height="5.27" fill="#afbfdc"/><rect x="1878.07" y="1192.33" width="36.22" height="5.27" fill="#afbfdc"/><rect x="1463.15" y="1199.09" width="36.22" height="5.27" fill="#874730"/><rect x="1500.87" y="1199.09" width="36.22" height="5.27" fill="#874730"/><rect x="1538.59" y="1199.09" width="36.22" height="5.27" fill="#692b21"/><rect x="1576.31" y="1199.09" width="36.22" height="5.27" fill="#91a6cf"/><rect x="1614.03" y="1199.09" width="36.22" height="5.27" fill="#91a6cf"/><rect x="1651.75" y="1199.09" width="36.22" height="5.27" fill="#91a6cf"/><rect x="1689.47" y="1199.09" width="36.22" height="5.27" fill="#cbd6e6"/><rect x="1727.19" y="1199.09" width="36.22" height="5.27" fill="#afbfdc"/><rect x="1764.91" y="1199.09" width="36.22" height="5.27" fill="#dddad6"/><rect x="1802.63" y="1199.09" width="36.22" height="5.27" fill="#afbfdc"/><rect x="1840.35" y="1199.09" width="36.22" height="5.27" fill="#91a6cf"/><rect x="1878.07" y="1199.09" width="36.22" height="5.27" fill="#afbfdc"/><rect x="1463.15" y="1205.86" width="36.22" height="5.27" fill="#874730"/><rect x="1500.87" y="1205.86" width="36.22" height="5.27" fill="#874730"/><rect x="1538.59" y="1205.86" width="36.22" height="5.27" fill="#692b21"/><rect x="1576.31" y="1205.86" width="36.22" height="5.27" fill="#91a6cf"/><rect x="1614.03" y="1205.86" width="36.22" height="5.27" fill="#91a6cf"/><rect x="1651.75" y="1205.86" width="36.22" height="5.27" fill="#91a6cf"/><rect x="1689.47" y="1205.86" width="36.22" height="5.27" fill="#dddad6"/><rect x="1727.19" y="1205.86" width="36.22" height="5.27" fill="#afbfdc"/><rect x="1764.91" y="1205.86" width="36.22" height="5.27" fill="#cbd6e6"/><rect x="1802.63" y="1205.86" width="36.22" height="5.27" fill="#afbfdc"/><rect x="1840.35" y="1205.86" width="36.22" height="5.27" fill="#afbfdc"/><rect x="1878.07" y="1205.86" width="36.22" height="5.27" fill="#91a6cf"/><rect x="1463.15" y="1212.63" width="36.22" height="5.27" fill="#692b21"/><rect x="1500.87" y="1212.63" width="36.22" height="5.27" fill="#874730"/><rect x="1538.59" y="1212.63" width="36.22" height="5.27" fill="#692b21"/><rect x="1576.31" y="1212.63" width="36.22" height="5.27" fill="#6c7eb7"/><rect x="1614.03" y="1212.63" width="36.22" height="5.27" fill="#91a6cf"/><rect x="1651.75" y="1212.63" width="36.22" height="5.27" fill="#afbfdc"/><rect x="1689.47" y="1212.63" width="36.22" height="5.27" fill="#afbfdc"/><rect x="1727.19" y="1212.63" width="36.22" height="5.27" fill="#afbfdc"/><rect x="1764.91" y="1212.63" width="36.22" height="5.27" fill="#afbfdc"/><rect x="1802.63" y="1212.63" width="36.22" height="5.27" fill="#afbfdc"/><rect x="1840.35" y="1212.63" width="36.22" height="5.27" fill="#afbfdc"/><rect x="1878.07" y="1212.63" width="36.22" height="5.27" fill="#afbfdc"/><rect x="1463.15" y="1219.4" width="36.22" height="5.27" fill="#692b21"/><rect x="1500.87" y="1219.4" width="36.22" height="5.27" fill="#874730"/><rect x="1538.59" y="1219.4" width="36.22" height="5.27" fill="#a56c4d"/><rect x="1576.31" y="1219.4" width="36.22" height="5.27" fill="#afbfdc"/><rect x="1614.03" y="1219.4" width="36.22" height="5.27" fill="#91a6cf"/><rect x="1651.75" y="1219.4" width="36.22" height="5.27" fill="#cbd6e6"/><rect x="1689.47" y="1219.4" width="36.22" height="5.27" fill="#dddad6"/><rect x="1727.19" y="1219.4" width="36.22" height="5.27" fill="#e6dac7"/><rect x="1764.91" y="1219.4" width="36.22" height="5.27" fill="#e4cbad"/><rect x="1802.63" y="1219.4" width="36.22" height="5.27" fill="#91a6cf"/><rect x="1840.35" y="1219.4" width="36.22" height="5.27" fill="#6c7eb7"/><rect x="1878.07" y="1219.4" width="36.22" height="5.27" fill="#6c7eb7"/><rect x="1463.15" y="1226.17" width="36.22" height="5.27" fill="#874730"/><rect x="1500.87" y="1226.17" width="36.22" height="5.27" fill="#874730"/><rect x="1538.59" y="1226.17" width="36.22" height="5.27" fill="#874730"/><rect x="1576.31" y="1226.17" width="36.22" height="5.27" fill="#6c7eb7"/><rect x="1614.03" y="1226.17" width="36.22" height="5.27" fill="#6c7eb7"/><rect x="1651.75" y="1226.17" width="36.22" height="5.27" fill="#6c7eb7"/><rect x="1689.47" y="1226.17" width="36.22" height="5.27" fill="#dddad6"/><rect x="1727.19" y="1226.17" width="36.22" height="5.27" fill="#afbfdc"/><rect x="1764.91" y="1226.17" width="36.22" height="5.27" fill="#dddad6"/><rect x="1802.63" y="1226.17" width="36.22" height="5.27" fill="#cbd6e6"/><rect x="1840.35" y="1226.17" width="36.22" height="5.27" fill="#afbfdc"/><rect x="1878.07" y="1226.17" width="36.22" height="5.27" fill="#dddad6"/><rect x="1463.15" y="1232.93" width="36.22" height="5.27" fill="#874730"/><rect x="1500.87" y="1232.93" width="36.22" height="5.27" fill="#874730"/><rect x="1538.59" y="1232.93" width="36.22" height="5.27" fill="#874730"/><rect x="1576.31" y="1232.93" width="36.22" height="5.27" fill="#6c7eb7"/><rect x="1614.03" y="1232.93" width="36.22" height="5.27" fill="#6c7eb7"/><rect x="1651.75" y="1232.93" width="36.22" height="5.27" fill="#91a6cf"/><rect x="1689.47" y="1232.93" width="36.22" height="5.27" fill="#e4cbad"/><rect x="1727.19" y="1232.93" width="36.22" height="5.27" fill="#dddad6"/><rect x="1764.91" y="1232.93" width="36.22" height="5.27" fill="#e4cbad"/><rect x="1802.63" y="1232.93" width="36.22" height="5.27" fill="#afbfdc"/><rect x="1840.35" y="1232.93" width="36.22" height="5.27" fill="#91a6cf"/><rect x="1878.07" y="1232.93" width="36.22" height="5.27" fill="#afbfdc"/><rect x="1463.15" y="1239.7" width="36.22" height="5.27" fill="#692b21"/><rect x="1500.87" y="1239.7" width="36.22" height="5.27" fill="#874730"/><rect x="1538.59" y="1239.7" width="36.22" height="5.27" fill="#874730"/><rect x="1576.31" y="1239.7" width="36.22" height="5.27" fill="#91a6cf"/><rect x="1614.03" y="1239.7" width="36.22" height="5.27" fill="#6c7eb7"/><rect x="1651.75" y="1239.7" width="36.22" height="5.27" fill="#6c7eb7"/><rect x="1689.47" y="1239.7" width="36.22" height="5.27" fill="#e6dac7"/><rect x="1727.19" y="1239.7" width="36.22" height="5.27" fill="#e6dac7"/><rect x="1764.91" y="1239.7" width="36.22" height="5.27" fill="#cbd6e6"/><rect x="1802.63" y="1239.7" width="36.22" height="5.27" fill="#91a6cf"/><rect x="1840.35" y="1239.7" width="36.22" height="5.27" fill="#91a6cf"/><rect x="1878.07" y="1239.7" width="36.22" height="5.27" fill="#91a6cf"/><rect x="1463.15" y="1246.47" width="36.22" height="5.27" fill="#485299"/><rect x="1500.87" y="1246.47" width="36.22" height="5.27" fill="#6c7eb7"/><rect x="1538.59" y="1246.47" width="36.22" height="5.27" fill="#485299"/><rect x="1576.31" y="1246.47" width="36.22" height="5.27" fill="#e6dac7"/><rect x="1614.03" y="1246.47" width="36.22" height="5.27" fill="#dddad6"/><rect x="1651.75" y="1246.47" width="36.22" height="5.27" fill="#dddad6"/><rect x="1689.47" y="1246.47" width="36.22" height="5.27" fill="#a56c4d"/><rect x="1727.19" y="1246.47" width="36.22" height="5.27" fill="#a56c4d"/><rect x="1764.91" y="1246.47" width="36.22" height="5.27" fill="#874730"/><rect x="1802.63" y="1246.47" width="36.22" height="5.27" fill="#d7b58f"/><rect x="1840.35" y="1246.47" width="36.22" height="5.27" fill="#e4cbad"/><rect x="1878.07" y="1246.47" width="36.22" height="5.27" fill="#cba27a"/><rect x="1463.15" y="1253.24" width="36.22" height="5.27" fill="#485299"/><rect x="1500.87" y="1253.24" width="36.22" height="5.27" fill="#485299"/><rect x="1538.59" y="1253.24" width="36.22" height="5.27" fill="#485299"/><rect x="1576.31" y="1253.24" width="36.22" height="5.27" fill="#e4cbad"/><rect x="1614.03" y="1253.24" width="36.22" height="5.27" fill="#cbd6e6"/><rect x="1651.75" y="1253.24" width="36.22" height="5.27" fill="#e6dac7"/><rect x="1689.47" y="1253.24" width="36.22" height="5.27" fill="#a56c4d"/><rect x="1727.19" y="1253.24" width="36.22" height="5.27" fill="#a56c4d"/><rect x="1764.91" y="1253.24" width="36.22" height="5.27" fill="#a56c4d"/><rect x="1802.63" y="1253.24" width="36.22" height="5.27" fill="#e6dac7"/><rect x="1840.35" y="1253.24" width="36.22" height="5.27" fill="#e4cbad"/><rect x="1878.07" y="1253.24" width="36.22" height="5.27" fill="#cba27a"/><rect x="1463.15" y="1260.01" width="36.22" height="5.27" fill="#6c7eb7"/><rect x="1500.87" y="1260.01" width="36.22" height="5.27" fill="#485299"/><rect x="1538.59" y="1260.01" width="36.22" height="5.27" fill="#485299"/><rect x="1576.31" y="1260.01" width="36.22" height="5.27" fill="#afbfdc"/><rect x="1614.03" y="1260.01" width="36.22" height="5.27" fill="#dddad6"/><rect x="1651.75" y="1260.01" width="36.22" height="5.27" fill="#dddad6"/><rect x="1689.47" y="1260.01" width="36.22" height="5.27" fill="#cba27a"/><rect x="1727.19" y="1260.01" width="36.22" height="5.27" fill="#ba8a64"/><rect x="1764.91" y="1260.01" width="36.22" height="5.27" fill="#ba8a64"/><rect x="1802.63" y="1260.01" width="36.22" height="5.27" fill="#ba8a64"/><rect x="1840.35" y="1260.01" width="36.22" height="5.27" fill="#ba8a64"/><rect x="1878.07" y="1260.01" width="36.22" height="5.27" fill="#cba27a"/><rect x="1463.15" y="1266.77" width="36.22" height="5.27" fill="#6c7eb7"/><rect x="1500.87" y="1266.77" width="36.22" height="5.27" fill="#485299"/><rect x="1538.59" y="1266.77" width="36.22" height="5.27" fill="#485299"/><rect x="1576.31" y="1266.77" width="36.22" height="5.27" fill="#cbd6e6"/><rect x="1614.03" y="1266.77" width="36.22" height="5.27" fill="#dddad6"/><rect x="1651.75" y="1266.77" width="36.22" height="5.27" fill="#dddad6"/><rect x="1689.47" y="1266.77" width="36.22" height="5.27" fill="#ba8a64"/><rect x="1727.19" y="1266.77" width="36.22" height="5.27" fill="#ba8a64"/><rect x="1764.91" y="1266.77" width="36.22" height="5.27" fill="#874730"/><rect x="1802.63" y="1266.77" width="36.22" height="5.27" fill="#e4cbad"/><rect x="1840.35" y="1266.77" width="36.22" height="5.27" fill="#cba27a"/><rect x="1878.07" y="1266.77" width="36.22" height="5.27" fill="#cba27a"/><rect x="1463.15" y="1273.54" width="36.22" height="5.27" fill="#485299"/><rect x="1500.87" y="1273.54" width="36.22" height="5.27" fill="#485299"/><rect x="1538.59" y="1273.54" width="36.22" height="5.27" fill="#485299"/><rect x="1576.31" y="1273.54" width="36.22" height="5.27" fill="#cbd6e6"/><rect x="1614.03" y="1273.54" width="36.22" height="5.27" fill="#dddad6"/><rect x="1651.75" y="1273.54" width="36.22" height="5.27" fill="#dddad6"/><rect x="1689.47" y="1273.54" width="36.22" height="5.27" fill="#cba27a"/><rect x="1727.19" y="1273.54" width="36.22" height="5.27" fill="#a56c4d"/><rect x="1764.91" y="1273.54" width="36.22" height="5.27" fill="#a56c4d"/><rect x="1802.63" y="1273.54" width="36.22" height="5.27" fill="#e4cbad"/><rect x="1840.35" y="1273.54" width="36.22" height="5.27" fill="#ba8a64"/><rect x="1878.07" y="1273.54" width="36.22" height="5.27" fill="#cba27a"/><rect x="1463.15" y="1280.31" width="36.22" height="5.27" fill="#6c7eb7"/><rect x="1500.87" y="1280.31" width="36.22" height="5.27" fill="#232350"/><rect x="1538.59" y="1280.31" width="36.22" height="5.27" fill="#485299"/><rect x="1576.31" y="1280.31" width="36.22" height="5.27" fill="#dddad6"/><rect x="1614.03" y="1280.31" width="36.22" height="5.27" fill="#dddad6"/><rect x="1651.75" y="1280.31" width="36.22" height="5.27" fill="#e6dac7"/><rect x="1689.47" y="1280.31" width="36.22" height="5.27" fill="#ba8a64"/><rect x="1727.19" y="1280.31" width="36.22" height="5.27" fill="#ba8a64"/><rect x="1764.91" y="1280.31" width="36.22" height="5.27" fill="#ba8a64"/><rect x="1802.63" y="1280.31" width="36.22" height="5.27" fill="#d7b58f"/><rect x="1840.35" y="1280.31" width="36.22" height="5.27" fill="#cba27a"/><rect x="1878.07" y="1280.31" width="36.22" height="5.27" fill="#ba8a64"/><rect x="1463.15" y="1287.08" width="36.22" height="5.27" fill="#6c7eb7"/><rect x="1500.87" y="1287.08" width="36.22" height="5.27" fill="#232350"/><rect x="1538.59" y="1287.08" width="36.22" height="5.27" fill="#485299"/><rect x="1576.31" y="1287.08" width="36.22" height="5.27" fill="#dddad6"/><rect x="1614.03" y="1287.08" width="36.22" height="5.27" fill="#dddad6"/><rect x="1651.75" y="1287.08" width="36.22" height="5.27" fill="#e6dac7"/><rect x="1689.47" y="1287.08" width="36.22" height="5.27" fill="#cba27a"/><rect x="1727.19" y="1287.08" width="36.22" height="5.27" fill="#ba8a64"/><rect x="1764.91" y="1287.08" width="36.22" height="5.27" fill="#ba8a64"/><rect x="1802.63" y="1287.08" width="36.22" height="5.27" fill="#cba27a"/><rect x="1840.35" y="1287.08" width="36.22" height="5.27" fill="#cba27a"/><rect x="1878.07" y="1287.08" width="36.22" height="5.27" fill="#ba8a64"/><rect x="1463.15" y="1293.85" width="36.22" height="5.27" fill="#485299"/><rect x="1500.87" y="1293.85" width="36.22" height="5.27" fill="#485299"/><rect x="1538.59" y="1293.85" width="36.22" height="5.27" fill="#485299"/><rect x="1576.31" y="1293.85" width="36.22" height="5.27" fill="#e6dac7"/><rect x="1614.03" y="1293.85" width="36.22" height="5.27" fill="#cbd6e6"/><rect x="1651.75" y="1293.85" width="36.22" height="5.27" fill="#e6dac7"/><rect x="1689.47" y="1293.85" width="36.22" height="5.27" fill="#cba27a"/><rect x="1727.19" y="1293.85" width="36.22" height="5.27" fill="#cba27a"/><rect x="1764.91" y="1293.85" width="36.22" height="5.27" fill="#cba27a"/><rect x="1802.63" y="1293.85" width="36.22" height="5.27" fill="#cba27a"/><rect x="1840.35" y="1293.85" width="36.22" height="5.27" fill="#a56c4d"/><rect x="1878.07" y="1293.85" width="36.22" height="5.27" fill="#a56c4d"/><rect x="1463.15" y="1300.61" width="36.22" height="5.27" fill="#485299"/><rect x="1500.87" y="1300.61" width="36.22" height="5.27" fill="#485299"/><rect x="1538.59" y="1300.61" width="36.22" height="5.27" fill="#485299"/><rect x="1576.31" y="1300.61" width="36.22" height="5.27" fill="#dddad6"/><rect x="1614.03" y="1300.61" width="36.22" height="5.27" fill="#dddad6"/><rect x="1651.75" y="1300.61" width="36.22" height="5.27" fill="#dddad6"/><rect x="1689.47" y="1300.61" width="36.22" height="5.27" fill="#cba27a"/><rect x="1727.19" y="1300.61" width="36.22" height="5.27" fill="#cba27a"/><rect x="1764.91" y="1300.61" width="36.22" height="5.27" fill="#cba27a"/><rect x="1802.63" y="1300.61" width="36.22" height="5.27" fill="#cba27a"/><rect x="1840.35" y="1300.61" width="36.22" height="5.27" fill="#ba8a64"/><rect x="1878.07" y="1300.61" width="36.22" height="5.27" fill="#ba8a64"/><rect x="1463.15" y="1307.38" width="36.22" height="5.27" fill="#6c7eb7"/><rect x="1500.87" y="1307.38" width="36.22" height="5.27" fill="#485299"/><rect x="1538.59" y="1307.38" width="36.22" height="5.27" fill="#485299"/><rect x="1576.31" y="1307.38" width="36.22" height="5.27" fill="#dddad6"/><rect x="1614.03" y="1307.38" width="36.22" height="5.27" fill="#e6dac7"/><rect x="1651.75" y="1307.38" width="36.22" height="5.27" fill="#dddad6"/><rect x="1689.47" y="1307.38" width="36.22" height="5.27" fill="#cba27a"/><rect x="1727.19" y="1307.38" width="36.22" height="5.27" fill="#ba8a64"/><rect x="1764.91" y="1307.38" width="36.22" height="5.27" fill="#cba27a"/><rect x="1802.63" y="1307.38" width="36.22" height="5.27" fill="#cba27a"/><rect x="1840.35" y="1307.38" width="36.22" height="5.27" fill="#ba8a64"/><rect x="1878.07" y="1307.38" width="36.22" height="5.27" fill="#ba8a64"/><rect x="1463.15" y="1314.15" width="36.22" height="5.27" fill="#485299"/><rect x="1500.87" y="1314.15" width="36.22" height="5.27" fill="#485299"/><rect x="1538.59" y="1314.15" width="36.22" height="5.27" fill="#485299"/><rect x="1576.31" y="1314.15" width="36.22" height="5.27" fill="#e6dac7"/><rect x="1614.03" y="1314.15" width="36.22" height="5.27" fill="#e4cbad"/><rect x="1651.75" y="1314.15" width="36.22" height="5.27" fill="#dddad6"/><rect x="1689.47" y="1314.15" width="36.22" height="5.27" fill="#cba27a"/><rect x="1727.19" y="1314.15" width="36.22" height="5.27" fill="#cba27a"/><rect x="1764.91" y="1314.15" width="36.22" height="5.27" fill="#cba27a"/><rect x="1802.63" y="1314.15" width="36.22" height="5.27" fill="#cba27a"/><rect x="1840.35" y="1314.15" width="36.22" height="5.27" fill="#cba27a"/><rect x="1878.07" y="1314.15" width="36.22" height="5.27" fill="#ba8a64"/><rect x="1463.15" y="1320.92" width="36.22" height="5.27" fill="#485299"/><rect x="1500.87" y="1320.92" width="36.22" height="5.27" fill="#485299"/><rect x="1538.59" y="1320.92" width="36.22" height="5.27" fill="#485299"/><rect x="1576.31" y="1320.92" width="36.22" height="5.27" fill="#e6dac7"/><rect x="1614.03" y="1320.92" width="36.22" height="5.27" fill="#e4cbad"/><rect x="1651.75" y="1320.92" width="36.22" height="5.27" fill="#e4cbad"/><rect x="1689.47" y="1320.92" width="36.22" height="5.27" fill="#cba27a"/><rect x="1727.19" y="1320.92" width="36.22" height="5.27" fill="#cba27a"/><rect x="1764.91" y="1320.92" width="36.22" height="5.27" fill="#d7b58f"/><rect x="1802.63" y="1320.92" width="36.22" height="5.27" fill="#cba27a"/><rect x="1840.35" y="1320.92" width="36.22" height="5.27" fill="#cba27a"/><rect x="1878.07" y="1320.92" width="36.22" height="5.27" fill="#cba27a"/><rect x="1463.15" y="1327.69" width="36.22" height="5.27" fill="#485299"/><rect x="1500.87" y="1327.69" width="36.22" height="5.27" fill="#485299"/><rect x="1538.59" y="1327.69" width="36.22" height="5.27" fill="#485299"/><rect x="1576.31" y="1327.69" width="36.22" height="5.27" fill="#e6dac7"/><rect x="1614.03" y="1327.69" width="36.22" height="5.27" fill="#e4cbad"/><rect x="1651.75" y="1327.69" width="36.22" height="5.27" fill="#e4cbad"/><rect x="1689.47" y="1327.69" width="36.22" height="5.27" fill="#d7b58f"/><rect x="1727.19" y="1327.69" width="36.22" height="5.27" fill="#ba8a64"/><rect x="1764.91" y="1327.69" width="36.22" height="5.27" fill="#ba8a64"/><rect x="1802.63" y="1327.69" width="36.22" height="5.27" fill="#d7b58f"/><rect x="1840.35" y="1327.69" width="36.22" height="5.27" fill="#cba27a"/><rect x="1878.07" y="1327.69" width="36.22" height="5.27" fill="#ba8a64"/><rect x="1463.15" y="1334.45" width="36.22" height="5.27" fill="#6c7eb7"/><rect x="1500.87" y="1334.45" width="36.22" height="5.27" fill="#485299"/><rect x="1538.59" y="1334.45" width="36.22" height="5.27" fill="#485299"/><rect x="1576.31" y="1334.45" width="36.22" height="5.27" fill="#e4cbad"/><rect x="1614.03" y="1334.45" width="36.22" height="5.27" fill="#e6dac7"/><rect x="1651.75" y="1334.45" width="36.22" height="5.27" fill="#e4cbad"/><rect x="1689.47" y="1334.45" width="36.22" height="5.27" fill="#d7b58f"/><rect x="1727.19" y="1334.45" width="36.22" height="5.27" fill="#cba27a"/><rect x="1764.91" y="1334.45" width="36.22" height="5.27" fill="#e6dac7"/><rect x="1802.63" y="1334.45" width="36.22" height="5.27" fill="#ba8a64"/><rect x="1840.35" y="1334.45" width="36.22" height="5.27" fill="#cba27a"/><rect x="1878.07" y="1334.45" width="36.22" height="5.27" fill="#ba8a64"/><rect x="1463.15" y="1341.22" width="36.22" height="5.27" fill="#485299"/><rect x="1500.87" y="1341.22" width="36.22" height="5.27" fill="#485299"/><rect x="1538.59" y="1341.22" width="36.22" height="5.27" fill="#485299"/><rect x="1576.31" y="1341.22" width="36.22" height="5.27" fill="#e6dac7"/><rect x="1614.03" y="1341.22" width="36.22" height="5.27" fill="#e4cbad"/><rect x="1651.75" y="1341.22" width="36.22" height="5.27" fill="#cba27a"/><rect x="1689.47" y="1341.22" width="36.22" height="5.27" fill="#d7b58f"/><rect x="1727.19" y="1341.22" width="36.22" height="5.27" fill="#e4cbad"/><rect x="1764.91" y="1341.22" width="36.22" height="5.27" fill="#cba27a"/><rect x="1802.63" y="1341.22" width="36.22" height="5.27" fill="#cba27a"/><rect x="1840.35" y="1341.22" width="36.22" height="5.27" fill="#cba27a"/><rect x="1878.07" y="1341.22" width="36.22" height="5.27" fill="#ba8a64"/><rect x="1463.15" y="1347.99" width="36.22" height="5.27" fill="#6c7eb7"/><rect x="1500.87" y="1347.99" width="36.22" height="5.27" fill="#232350"/><rect x="1538.59" y="1347.99" width="36.22" height="5.27" fill="#485299"/><rect x="1576.31" y="1347.99" width="36.22" height="5.27" fill="#e6dac7"/><rect x="1614.03" y="1347.99" width="36.22" height="5.27" fill="#e4cbad"/><rect x="1651.75" y="1347.99" width="36.22" height="5.27" fill="#e4cbad"/><rect x="1689.47" y="1347.99" width="36.22" height="5.27" fill="#cba27a"/><rect x="1727.19" y="1347.99" width="36.22" height="5.27" fill="#cba27a"/><rect x="1764.91" y="1347.99" width="36.22" height="5.27" fill="#cba27a"/><rect x="1802.63" y="1347.99" width="36.22" height="5.27" fill="#d7b58f"/><rect x="1840.35" y="1347.99" width="36.22" height="5.27" fill="#cba27a"/><rect x="1878.07" y="1347.99" width="36.22" height="5.27" fill="#cba27a"/><rect x="1463.15" y="1354.76" width="36.22" height="5.27" fill="#6c7eb7"/><rect x="1500.87" y="1354.76" width="36.22" height="5.27" fill="#232350"/><rect x="1538.59" y="1354.76" width="36.22" height="5.27" fill="#485299"/><rect x="1576.31" y="1354.76" width="36.22" height="5.27" fill="#e4cbad"/><rect x="1614.03" y="1354.76" width="36.22" height="5.27" fill="#e4cbad"/><rect x="1651.75" y="1354.76" width="36.22" height="5.27" fill="#e4cbad"/><rect x="1689.47" y="1354.76" width="36.22" height="5.27" fill="#cba27a"/><rect x="1727.19" y="1354.76" width="36.22" height="5.27" fill="#d7b58f"/><rect x="1764.91" y="1354.76" width="36.22" height="5.27" fill="#cba27a"/><rect x="1802.63" y="1354.76" width="36.22" height="5.27" fill="#cba27a"/><rect x="1840.35" y="1354.76" width="36.22" height="5.27" fill="#cba27a"/><rect x="1878.07" y="1354.76" width="36.22" height="5.27" fill="#cba27a"/><rect x="1463.15" y="1361.53" width="36.22" height="5.27" fill="#6c7eb7"/><rect x="1500.87" y="1361.53" width="36.22" height="5.27" fill="#485299"/><rect x="1538.59" y="1361.53" width="36.22" height="5.27" fill="#232350"/><rect x="1576.31" y="1361.53" width="36.22" height="5.27" fill="#d7b58f"/><rect x="1614.03" y="1361.53" width="36.22" height="5.27" fill="#e4cbad"/><rect x="1651.75" y="1361.53" width="36.22" height="5.27" fill="#e6dac7"/><rect x="1689.47" y="1361.53" width="36.22" height="5.27" fill="#cba27a"/><rect x="1727.19" y="1361.53" width="36.22" height="5.27" fill="#cba27a"/><rect x="1764.91" y="1361.53" width="36.22" height="5.27" fill="#cba27a"/><rect x="1802.63" y="1361.53" width="36.22" height="5.27" fill="#e4cbad"/><rect x="1840.35" y="1361.53" width="36.22" height="5.27" fill="#cba27a"/><rect x="1878.07" y="1361.53" width="36.22" height="5.27" fill="#cba27a"/><rect x="1463.15" y="1368.29" width="36.22" height="5.27" fill="#6c7eb7"/><rect x="1500.87" y="1368.29" width="36.22" height="5.27" fill="#485299"/><rect x="1538.59" y="1368.29" width="36.22" height="5.27" fill="#232350"/><rect x="1576.31" y="1368.29" width="36.22" height="5.27" fill="#e6dac7"/><rect x="1614.03" y="1368.29" width="36.22" height="5.27" fill="#e4cbad"/><rect x="1651.75" y="1368.29" width="36.22" height="5.27" fill="#e6dac7"/><rect x="1689.47" y="1368.29" width="36.22" height="5.27" fill="#cba27a"/><rect x="1727.19" y="1368.29" width="36.22" height="5.27" fill="#ba8a64"/><rect x="1764.91" y="1368.29" width="36.22" height="5.27" fill="#ba8a64"/><rect x="1802.63" y="1368.29" width="36.22" height="5.27" fill="#d7b58f"/><rect x="1840.35" y="1368.29" width="36.22" height="5.27" fill="#e4cbad"/><rect x="1878.07" y="1368.29" width="36.22" height="5.27" fill="#cba27a"/><rect x="1463.15" y="1375.06" width="36.22" height="5.27" fill="#485299"/><rect x="1500.87" y="1375.06" width="36.22" height="5.27" fill="#6c7eb7"/><rect x="1538.59" y="1375.06" width="36.22" height="5.27" fill="#232350"/><rect x="1576.31" y="1375.06" width="36.22" height="5.27" fill="#dddad6"/><rect x="1614.03" y="1375.06" width="36.22" height="5.27" fill="#e6dac7"/><rect x="1651.75" y="1375.06" width="36.22" height="5.27" fill="#e6dac7"/><rect x="1689.47" y="1375.06" width="36.22" height="5.27" fill="#ba8a64"/><rect x="1727.19" y="1375.06" width="36.22" height="5.27" fill="#ba8a64"/><rect x="1764.91" y="1375.06" width="36.22" height="5.27" fill="#ba8a64"/><rect x="1802.63" y="1375.06" width="36.22" height="5.27" fill="#cba27a"/><rect x="1840.35" y="1375.06" width="36.22" height="5.27" fill="#cba27a"/><rect x="1878.07" y="1375.06" width="36.22" height="5.27" fill="#d7b58f"/><rect x="1463.15" y="1381.83" width="36.22" height="5.27" fill="#6c7eb7"/><rect x="1500.87" y="1381.83" width="36.22" height="5.27" fill="#485299"/><rect x="1538.59" y="1381.83" width="36.22" height="5.27" fill="#485299"/><rect x="1576.31" y="1381.83" width="36.22" height="5.27" fill="#dddad6"/><rect x="1614.03" y="1381.83" width="36.22" height="5.27" fill="#e6dac7"/><rect x="1651.75" y="1381.83" width="36.22" height="5.27" fill="#e6dac7"/><rect x="1689.47" y="1381.83" width="36.22" height="5.27" fill="#cba27a"/><rect x="1727.19" y="1381.83" width="36.22" height="5.27" fill="#ba8a64"/><rect x="1764.91" y="1381.83" width="36.22" height="5.27" fill="#ba8a64"/><rect x="1802.63" y="1381.83" width="36.22" height="5.27" fill="#cba27a"/><rect x="1840.35" y="1381.83" width="36.22" height="5.27" fill="#cba27a"/><rect x="1878.07" y="1381.83" width="36.22" height="5.27" fill="#e6dac7"/><rect x="1463.15" y="1388.6" width="36.22" height="5.27" fill="#91a6cf"/><rect x="1500.87" y="1388.6" width="36.22" height="5.27" fill="#91a6cf"/><rect x="1538.59" y="1388.6" width="36.22" height="5.27" fill="#91a6cf"/><rect x="1576.31" y="1388.6" width="36.22" height="5.27" fill="#6c7eb7"/><rect x="1614.03" y="1388.6" width="36.22" height="5.27" fill="#91a6cf"/><rect x="1651.75" y="1388.6" width="36.22" height="5.27" fill="#6c7eb7"/><rect x="1689.47" y="1388.6" width="36.22" height="5.27" fill="#cba27a"/><rect x="1727.19" y="1388.6" width="36.22" height="5.27" fill="#cba27a"/><rect x="1764.91" y="1388.6" width="36.22" height="5.27" fill="#d7b58f"/><rect x="1802.63" y="1388.6" width="36.22" height="5.27" fill="#a56c4d"/><rect x="1840.35" y="1388.6" width="36.22" height="5.27" fill="#874730"/><rect x="1878.07" y="1388.6" width="36.22" height="5.27" fill="#874730"/><rect x="1463.15" y="1395.37" width="36.22" height="5.27" fill="#cbd6e6"/><rect x="1500.87" y="1395.37" width="36.22" height="5.27" fill="#91a6cf"/><rect x="1538.59" y="1395.37" width="36.22" height="5.27" fill="#91a6cf"/><rect x="1576.31" y="1395.37" width="36.22" height="5.27" fill="#6c7eb7"/><rect x="1614.03" y="1395.37" width="36.22" height="5.27" fill="#91a6cf"/><rect x="1651.75" y="1395.37" width="36.22" height="5.27" fill="#6c7eb7"/><rect x="1689.47" y="1395.37" width="36.22" height="5.27" fill="#d7b58f"/><rect x="1727.19" y="1395.37" width="36.22" height="5.27" fill="#e6dac7"/><rect x="1764.91" y="1395.37" width="36.22" height="5.27" fill="#d7b58f"/><rect x="1802.63" y="1395.37" width="36.22" height="5.27" fill="#874730"/><rect x="1840.35" y="1395.37" width="36.22" height="5.27" fill="#874730"/><rect x="1878.07" y="1395.37" width="36.22" height="5.27" fill="#874730"/><rect x="1463.15" y="1402.13" width="36.22" height="5.27" fill="#91a6cf"/><rect x="1500.87" y="1402.13" width="36.22" height="5.27" fill="#91a6cf"/><rect x="1538.59" y="1402.13" width="36.22" height="5.27" fill="#cbd6e6"/><rect x="1576.31" y="1402.13" width="36.22" height="5.27" fill="#6c7eb7"/><rect x="1614.03" y="1402.13" width="36.22" height="5.27" fill="#6c7eb7"/><rect x="1651.75" y="1402.13" width="36.22" height="5.27" fill="#6c7eb7"/><rect x="1689.47" y="1402.13" width="36.22" height="5.27" fill="#ba8a64"/><rect x="1727.19" y="1402.13" width="36.22" height="5.27" fill="#ba8a64"/><rect x="1764.91" y="1402.13" width="36.22" height="5.27" fill="#ba8a64"/><rect x="1802.63" y="1402.13" width="36.22" height="5.27" fill="#cba27a"/><rect x="1840.35" y="1402.13" width="36.22" height="5.27" fill="#cba27a"/><rect x="1878.07" y="1402.13" width="36.22" height="5.27" fill="#ba8a64"/><rect x="1463.15" y="1408.9" width="36.22" height="5.27" fill="#6c7eb7"/><rect x="1500.87" y="1408.9" width="36.22" height="5.27" fill="#91a6cf"/><rect x="1538.59" y="1408.9" width="36.22" height="5.27" fill="#91a6cf"/><rect x="1576.31" y="1408.9" width="36.22" height="5.27" fill="#91a6cf"/><rect x="1614.03" y="1408.9" width="36.22" height="5.27" fill="#91a6cf"/><rect x="1651.75" y="1408.9" width="36.22" height="5.27" fill="#91a6cf"/><rect x="1689.47" y="1408.9" width="36.22" height="5.27" fill="#874730"/><rect x="1727.19" y="1408.9" width="36.22" height="5.27" fill="#a56c4d"/><rect x="1764.91" y="1408.9" width="36.22" height="5.27" fill="#cba27a"/><rect x="1802.63" y="1408.9" width="36.22" height="5.27" fill="#cba27a"/><rect x="1840.35" y="1408.9" width="36.22" height="5.27" fill="#cba27a"/><rect x="1878.07" y="1408.9" width="36.22" height="5.27" fill="#ba8a64"/><rect x="1463.15" y="1415.67" width="36.22" height="5.27" fill="#485299"/><rect x="1500.87" y="1415.67" width="36.22" height="5.27" fill="#6c7eb7"/><rect x="1538.59" y="1415.67" width="36.22" height="5.27" fill="#6c7eb7"/><rect x="1576.31" y="1415.67" width="36.22" height="5.27" fill="#afbfdc"/><rect x="1614.03" y="1415.67" width="36.22" height="5.27" fill="#cbd6e6"/><rect x="1651.75" y="1415.67" width="36.22" height="5.27" fill="#afbfdc"/><rect x="1689.47" y="1415.67" width="36.22" height="5.27" fill="#cba27a"/><rect x="1727.19" y="1415.67" width="36.22" height="5.27" fill="#ba8a64"/><rect x="1764.91" y="1415.67" width="36.22" height="5.27" fill="#cba27a"/><rect x="1802.63" y="1415.67" width="36.22" height="5.27" fill="#cba27a"/><rect x="1840.35" y="1415.67" width="36.22" height="5.27" fill="#ba8a64"/><rect x="1878.07" y="1415.67" width="36.22" height="5.27" fill="#a56c4d"/><rect x="1463.15" y="1422.44" width="36.22" height="5.27" fill="#485299"/><rect x="1500.87" y="1422.44" width="36.22" height="5.27" fill="#6c7eb7"/><rect x="1538.59" y="1422.44" width="36.22" height="5.27" fill="#6c7eb7"/><rect x="1576.31" y="1422.44" width="36.22" height="5.27" fill="#91a6cf"/><rect x="1614.03" y="1422.44" width="36.22" height="5.27" fill="#afbfdc"/><rect x="1651.75" y="1422.44" width="36.22" height="5.27" fill="#afbfdc"/><rect x="1689.47" y="1422.44" width="36.22" height="5.27" fill="#e4cbad"/><rect x="1727.19" y="1422.44" width="36.22" height="5.27" fill="#cba27a"/><rect x="1764.91" y="1422.44" width="36.22" height="5.27" fill="#cba27a"/><rect x="1802.63" y="1422.44" width="36.22" height="5.27" fill="#ba8a64"/><rect x="1840.35" y="1422.44" width="36.22" height="5.27" fill="#a56c4d"/><rect x="1878.07" y="1422.44" width="36.22" height="5.27" fill="#a56c4d"/><rect x="1463.15" y="1429.21" width="36.22" height="5.27" fill="#91a6cf"/><rect x="1500.87" y="1429.21" width="36.22" height="5.27" fill="#6c7eb7"/><rect x="1538.59" y="1429.21" width="36.22" height="5.27" fill="#485299"/><rect x="1576.31" y="1429.21" width="36.22" height="5.27" fill="#91a6cf"/><rect x="1614.03" y="1429.21" width="36.22" height="5.27" fill="#afbfdc"/><rect x="1651.75" y="1429.21" width="36.22" height="5.27" fill="#afbfdc"/><rect x="1689.47" y="1429.21" width="36.22" height="5.27" fill="#a56c4d"/><rect x="1727.19" y="1429.21" width="36.22" height="5.27" fill="#a56c4d"/><rect x="1764.91" y="1429.21" width="36.22" height="5.27" fill="#a56c4d"/><rect x="1802.63" y="1429.21" width="36.22" height="5.27" fill="#cba27a"/><rect x="1840.35" y="1429.21" width="36.22" height="5.27" fill="#cba27a"/><rect x="1878.07" y="1429.21" width="36.22" height="5.27" fill="#d7b58f"/><rect x="1463.15" y="1435.97" width="36.22" height="5.27" fill="#485299"/><rect x="1500.87" y="1435.97" width="36.22" height="5.27" fill="#6c7eb7"/><rect x="1538.59" y="1435.97" width="36.22" height="5.27" fill="#6c7eb7"/><rect x="1576.31" y="1435.97" width="36.22" height="5.27" fill="#afbfdc"/><rect x="1614.03" y="1435.97" width="36.22" height="5.27" fill="#afbfdc"/><rect x="1651.75" y="1435.97" width="36.22" height="5.27" fill="#afbfdc"/><rect x="1689.47" y="1435.97" width="36.22" height="5.27" fill="#a56c4d"/><rect x="1727.19" y="1435.97" width="36.22" height="5.27" fill="#cba27a"/><rect x="1764.91" y="1435.97" width="36.22" height="5.27" fill="#874730"/><rect x="1802.63" y="1435.97" width="36.22" height="5.27" fill="#cba27a"/><rect x="1840.35" y="1435.97" width="36.22" height="5.27" fill="#cba27a"/><rect x="1878.07" y="1435.97" width="36.22" height="5.27" fill="#cba27a"/><rect x="1463.15" y="1442.74" width="36.22" height="5.27" fill="#dddad6"/><rect x="1500.87" y="1442.74" width="36.22" height="5.27" fill="#cbd6e6"/><rect x="1538.59" y="1442.74" width="36.22" height="5.27" fill="#dddad6"/><rect x="1576.31" y="1442.74" width="36.22" height="5.27" fill="#692b21"/><rect x="1614.03" y="1442.74" width="36.22" height="5.27" fill="#874730"/><rect x="1651.75" y="1442.74" width="36.22" height="5.27" fill="#874730"/><rect x="1689.47" y="1442.74" width="36.22" height="5.27" fill="#afbfdc"/><rect x="1727.19" y="1442.74" width="36.22" height="5.27" fill="#91a6cf"/><rect x="1764.91" y="1442.74" width="36.22" height="5.27" fill="#afbfdc"/><rect x="1802.63" y="1442.74" width="36.22" height="5.27" fill="#91a6cf"/><rect x="1840.35" y="1442.74" width="36.22" height="5.27" fill="#91a6cf"/><rect x="1878.07" y="1442.74" width="36.22" height="5.27" fill="#91a6cf"/><rect x="1463.15" y="1449.51" width="36.22" height="5.27" fill="#cbd6e6"/><rect x="1500.87" y="1449.51" width="36.22" height="5.27" fill="#e6dac7"/><rect x="1538.59" y="1449.51" width="36.22" height="5.27" fill="#dddad6"/><rect x="1576.31" y="1449.51" width="36.22" height="5.27" fill="#a56c4d"/><rect x="1614.03" y="1449.51" width="36.22" height="5.27" fill="#692b21"/><rect x="1651.75" y="1449.51" width="36.22" height="5.27" fill="#874730"/><rect x="1689.47" y="1449.51" width="36.22" height="5.27" fill="#91a6cf"/><rect x="1727.19" y="1449.51" width="36.22" height="5.27" fill="#91a6cf"/><rect x="1764.91" y="1449.51" width="36.22" height="5.27" fill="#91a6cf"/><rect x="1802.63" y="1449.51" width="36.22" height="5.27" fill="#afbfdc"/><rect x="1840.35" y="1449.51" width="36.22" height="5.27" fill="#91a6cf"/><rect x="1878.07" y="1449.51" width="36.22" height="5.27" fill="#91a6cf"/><rect x="1463.15" y="1456.28" width="36.22" height="5.27" fill="#91a6cf"/><rect x="1500.87" y="1456.28" width="36.22" height="5.27" fill="#91a6cf"/><rect x="1538.59" y="1456.28" width="36.22" height="5.27" fill="#91a6cf"/><rect x="1576.31" y="1456.28" width="36.22" height="5.27" fill="#874730"/><rect x="1614.03" y="1456.28" width="36.22" height="5.27" fill="#a56c4d"/><rect x="1651.75" y="1456.28" width="36.22" height="5.27" fill="#cba27a"/><rect x="1689.47" y="1456.28" width="36.22" height="5.27" fill="#91a6cf"/><rect x="1727.19" y="1456.28" width="36.22" height="5.27" fill="#91a6cf"/><rect x="1764.91" y="1456.28" width="36.22" height="5.27" fill="#91a6cf"/><rect x="1802.63" y="1456.28" width="36.22" height="5.27" fill="#cba27a"/><rect x="1840.35" y="1456.28" width="36.22" height="5.27" fill="#cba27a"/><rect x="1878.07" y="1456.28" width="36.22" height="5.27" fill="#cba27a"/><rect x="1463.15" y="1463.05" width="36.22" height="5.27" fill="#91a6cf"/><rect x="1500.87" y="1463.05" width="36.22" height="5.27" fill="#91a6cf"/><rect x="1538.59" y="1463.05" width="36.22" height="5.27" fill="#91a6cf"/><rect x="1576.31" y="1463.05" width="36.22" height="5.27" fill="#ba8a64"/><rect x="1614.03" y="1463.05" width="36.22" height="5.27" fill="#692b21"/><rect x="1651.75" y="1463.05" width="36.22" height="5.27" fill="#a56c4d"/><rect x="1689.47" y="1463.05" width="36.22" height="5.27" fill="#91a6cf"/><rect x="1727.19" y="1463.05" width="36.22" height="5.27" fill="#91a6cf"/><rect x="1764.91" y="1463.05" width="36.22" height="5.27" fill="#91a6cf"/><rect x="1802.63" y="1463.05" width="36.22" height="5.27" fill="#e4cbad"/><rect x="1840.35" y="1463.05" width="36.22" height="5.27" fill="#d7b58f"/><rect x="1878.07" y="1463.05" width="36.22" height="5.27" fill="#cba27a"/><rect x="1463.15" y="1469.81" width="36.22" height="5.27" fill="#6c7eb7"/><rect x="1500.87" y="1469.81" width="36.22" height="5.27" fill="#6c7eb7"/><rect x="1538.59" y="1469.81" width="36.22" height="5.27" fill="#6c7eb7"/><rect x="1576.31" y="1469.81" width="36.22" height="5.27" fill="#692b21"/><rect x="1614.03" y="1469.81" width="36.22" height="5.27" fill="#874730"/><rect x="1651.75" y="1469.81" width="36.22" height="5.27" fill="#692b21"/><rect x="1689.47" y="1469.81" width="36.22" height="5.27" fill="#91a6cf"/><rect x="1727.19" y="1469.81" width="36.22" height="5.27" fill="#cbd6e6"/><rect x="1764.91" y="1469.81" width="36.22" height="5.27" fill="#dddad6"/><rect x="1802.63" y="1469.81" width="36.22" height="5.27" fill="#dddad6"/><rect x="1840.35" y="1469.81" width="36.22" height="5.27" fill="#e6dac7"/><rect x="1878.07" y="1469.81" width="36.22" height="5.27" fill="#dddad6"/><rect x="1463.15" y="1476.58" width="36.22" height="5.27" fill="#afbfdc"/><rect x="1500.87" y="1476.58" width="36.22" height="5.27" fill="#6c7eb7"/><rect x="1538.59" y="1476.58" width="36.22" height="5.27" fill="#6c7eb7"/><rect x="1576.31" y="1476.58" width="36.22" height="5.27" fill="#692b21"/><rect x="1614.03" y="1476.58" width="36.22" height="5.27" fill="#874730"/><rect x="1651.75" y="1476.58" width="36.22" height="5.27" fill="#692b21"/><rect x="1689.47" y="1476.58" width="36.22" height="5.27" fill="#afbfdc"/><rect x="1727.19" y="1476.58" width="36.22" height="5.27" fill="#cbd6e6"/><rect x="1764.91" y="1476.58" width="36.22" height="5.27" fill="#dddad6"/><rect x="1802.63" y="1476.58" width="36.22" height="5.27" fill="#cbd6e6"/><rect x="1840.35" y="1476.58" width="36.22" height="5.27" fill="#cbd6e6"/><rect x="1878.07" y="1476.58" width="36.22" height="5.27" fill="#cbd6e6"/><rect x="1463.15" y="1483.35" width="36.22" height="5.27" fill="#232350"/><rect x="1500.87" y="1483.35" width="36.22" height="5.27" fill="#6c7eb7"/><rect x="1538.59" y="1483.35" width="36.22" height="5.27" fill="#6c7eb7"/><rect x="1576.31" y="1483.35" width="36.22" height="5.27" fill="#ba8a64"/><rect x="1614.03" y="1483.35" width="36.22" height="5.27" fill="#ba8a64"/><rect x="1651.75" y="1483.35" width="36.22" height="5.27" fill="#ba8a64"/><rect x="1689.47" y="1483.35" width="36.22" height="5.27" fill="#e6dac7"/><rect x="1727.19" y="1483.35" width="36.22" height="5.27" fill="#dddad6"/><rect x="1764.91" y="1483.35" width="36.22" height="5.27" fill="#e6dac7"/><rect x="1802.63" y="1483.35" width="36.22" height="5.27" fill="#e4cbad"/><rect x="1840.35" y="1483.35" width="36.22" height="5.27" fill="#d7b58f"/><rect x="1878.07" y="1483.35" width="36.22" height="5.27" fill="#cba27a"/><rect x="1463.15" y="1490.12" width="36.22" height="5.27" fill="#232350"/><rect x="1500.87" y="1490.12" width="36.22" height="5.27" fill="#485299"/><rect x="1538.59" y="1490.12" width="36.22" height="5.27" fill="#6c7eb7"/><rect x="1576.31" y="1490.12" width="36.22" height="5.27" fill="#ba8a64"/><rect x="1614.03" y="1490.12" width="36.22" height="5.27" fill="#ba8a64"/><rect x="1651.75" y="1490.12" width="36.22" height="5.27" fill="#ba8a64"/><rect x="1689.47" y="1490.12" width="36.22" height="5.27" fill="#e6dac7"/><rect x="1727.19" y="1490.12" width="36.22" height="5.27" fill="#e6dac7"/><rect x="1764.91" y="1490.12" width="36.22" height="5.27" fill="#e6dac7"/><rect x="1802.63" y="1490.12" width="36.22" height="5.27" fill="#e4cbad"/><rect x="1840.35" y="1490.12" width="36.22" height="5.27" fill="#d7b58f"/><rect x="1878.07" y="1490.12" width="36.22" height="5.27" fill="#cba27a"/><rect x="1463.15" y="1496.89" width="36.22" height="5.27" fill="#232350"/><rect x="1500.87" y="1496.89" width="36.22" height="5.27" fill="#6c7eb7"/><rect x="1538.59" y="1496.89" width="36.22" height="5.27" fill="#6c7eb7"/><rect x="1576.31" y="1496.89" width="36.22" height="5.27" fill="#a56c4d"/><rect x="1614.03" y="1496.89" width="36.22" height="5.27" fill="#ba8a64"/><rect x="1651.75" y="1496.89" width="36.22" height="5.27" fill="#ba8a64"/><rect x="1689.47" y="1496.89" width="36.22" height="5.27" fill="#dddad6"/><rect x="1727.19" y="1496.89" width="36.22" height="5.27" fill="#e6dac7"/><rect x="1764.91" y="1496.89" width="36.22" height="5.27" fill="#e6dac7"/><rect x="1802.63" y="1496.89" width="36.22" height="5.27" fill="#e6dac7"/><rect x="1840.35" y="1496.89" width="36.22" height="5.27" fill="#d7b58f"/><rect x="1878.07" y="1496.89" width="36.22" height="5.27" fill="#cba27a"/><rect x="1463.15" y="1503.65" width="36.22" height="5.27" fill="#485299"/><rect x="1500.87" y="1503.65" width="36.22" height="5.27" fill="#485299"/><rect x="1538.59" y="1503.65" width="36.22" height="5.27" fill="#485299"/><rect x="1576.31" y="1503.65" width="36.22" height="5.27" fill="#ba8a64"/><rect x="1614.03" y="1503.65" width="36.22" height="5.27" fill="#cba27a"/><rect x="1651.75" y="1503.65" width="36.22" height="5.27" fill="#a56c4d"/><rect x="1689.47" y="1503.65" width="36.22" height="5.27" fill="#d7b58f"/><rect x="1727.19" y="1503.65" width="36.22" height="5.27" fill="#e4cbad"/><rect x="1764.91" y="1503.65" width="36.22" height="5.27" fill="#d7b58f"/><rect x="1802.63" y="1503.65" width="36.22" height="5.27" fill="#e4cbad"/><rect x="1840.35" y="1503.65" width="36.22" height="5.27" fill="#dddad6"/><rect x="1878.07" y="1503.65" width="36.22" height="5.27" fill="#e4cbad"/><rect x="1463.15" y="1510.42" width="36.22" height="5.27" fill="#485299"/><rect x="1500.87" y="1510.42" width="36.22" height="5.27" fill="#485299"/><rect x="1538.59" y="1510.42" width="36.22" height="5.27" fill="#485299"/><rect x="1576.31" y="1510.42" width="36.22" height="5.27" fill="#ba8a64"/><rect x="1614.03" y="1510.42" width="36.22" height="5.27" fill="#ba8a64"/><rect x="1651.75" y="1510.42" width="36.22" height="5.27" fill="#874730"/><rect x="1689.47" y="1510.42" width="36.22" height="5.27" fill="#e6dac7"/><rect x="1727.19" y="1510.42" width="36.22" height="5.27" fill="#dddad6"/><rect x="1764.91" y="1510.42" width="36.22" height="5.27" fill="#e6dac7"/><rect x="1802.63" y="1510.42" width="36.22" height="5.27" fill="#e6dac7"/><rect x="1840.35" y="1510.42" width="36.22" height="5.27" fill="#e4cbad"/><rect x="1878.07" y="1510.42" width="36.22" height="5.27" fill="#e4cbad"/><rect x="1463.15" y="1517.19" width="36.22" height="5.27" fill="#485299"/><rect x="1500.87" y="1517.19" width="36.22" height="5.27" fill="#485299"/><rect x="1538.59" y="1517.19" width="36.22" height="5.27" fill="#485299"/><rect x="1576.31" y="1517.19" width="36.22" height="5.27" fill="#cba27a"/><rect x="1614.03" y="1517.19" width="36.22" height="5.27" fill="#cba27a"/><rect x="1651.75" y="1517.19" width="36.22" height="5.27" fill="#a56c4d"/><rect x="1689.47" y="1517.19" width="36.22" height="5.27" fill="#e4cbad"/><rect x="1727.19" y="1517.19" width="36.22" height="5.27" fill="#e6dac7"/><rect x="1764.91" y="1517.19" width="36.22" height="5.27" fill="#d7b58f"/><rect x="1802.63" y="1517.19" width="36.22" height="5.27" fill="#e6dac7"/><rect x="1840.35" y="1517.19" width="36.22" height="5.27" fill="#e4cbad"/><rect x="1878.07" y="1517.19" width="36.22" height="5.27" fill="#d7b58f"/><rect x="1463.15" y="1523.96" width="36.22" height="5.27" fill="#6c7eb7"/><rect x="1500.87" y="1523.96" width="36.22" height="5.27" fill="#232350"/><rect x="1538.59" y="1523.96" width="36.22" height="5.27" fill="#485299"/><rect x="1576.31" y="1523.96" width="36.22" height="5.27" fill="#ba8a64"/><rect x="1614.03" y="1523.96" width="36.22" height="5.27" fill="#ba8a64"/><rect x="1651.75" y="1523.96" width="36.22" height="5.27" fill="#ba8a64"/><rect x="1689.47" y="1523.96" width="36.22" height="5.27" fill="#e4cbad"/><rect x="1727.19" y="1523.96" width="36.22" height="5.27" fill="#d7b58f"/><rect x="1764.91" y="1523.96" width="36.22" height="5.27" fill="#d7b58f"/><rect x="1802.63" y="1523.96" width="36.22" height="5.27" fill="#dddad6"/><rect x="1840.35" y="1523.96" width="36.22" height="5.27" fill="#e4cbad"/><rect x="1878.07" y="1523.96" width="36.22" height="5.27" fill="#d7b58f"/><rect x="1463.15" y="1530.73" width="36.22" height="5.27" fill="#6c7eb7"/><rect x="1500.87" y="1530.73" width="36.22" height="5.27" fill="#485299"/><rect x="1538.59" y="1530.73" width="36.22" height="5.27" fill="#485299"/><rect x="1576.31" y="1530.73" width="36.22" height="5.27" fill="#ba8a64"/><rect x="1614.03" y="1530.73" width="36.22" height="5.27" fill="#a56c4d"/><rect x="1651.75" y="1530.73" width="36.22" height="5.27" fill="#ba8a64"/><rect x="1689.47" y="1530.73" width="36.22" height="5.27" fill="#d7b58f"/><rect x="1727.19" y="1530.73" width="36.22" height="5.27" fill="#dddad6"/><rect x="1764.91" y="1530.73" width="36.22" height="5.27" fill="#e4cbad"/><rect x="1802.63" y="1530.73" width="36.22" height="5.27" fill="#e6dac7"/><rect x="1840.35" y="1530.73" width="36.22" height="5.27" fill="#e4cbad"/><rect x="1878.07" y="1530.73" width="36.22" height="5.27" fill="#e6dac7"/><rect x="1463.15" y="1537.49" width="36.22" height="5.27" fill="#485299"/><rect x="1500.87" y="1537.49" width="36.22" height="5.27" fill="#485299"/><rect x="1538.59" y="1537.49" width="36.22" height="5.27" fill="#485299"/><rect x="1576.31" y="1537.49" width="36.22" height="5.27" fill="#a56c4d"/><rect x="1614.03" y="1537.49" width="36.22" height="5.27" fill="#cba27a"/><rect x="1651.75" y="1537.49" width="36.22" height="5.27" fill="#ba8a64"/><rect x="1689.47" y="1537.49" width="36.22" height="5.27" fill="#dddad6"/><rect x="1727.19" y="1537.49" width="36.22" height="5.27" fill="#e4cbad"/><rect x="1764.91" y="1537.49" width="36.22" height="5.27" fill="#dddad6"/><rect x="1802.63" y="1537.49" width="36.22" height="5.27" fill="#e4cbad"/><rect x="1840.35" y="1537.49" width="36.22" height="5.27" fill="#d7b58f"/><rect x="1878.07" y="1537.49" width="36.22" height="5.27" fill="#e4cbad"/><rect x="1463.15" y="1544.26" width="36.22" height="5.27" fill="#485299"/><rect x="1500.87" y="1544.26" width="36.22" height="5.27" fill="#485299"/><rect x="1538.59" y="1544.26" width="36.22" height="5.27" fill="#485299"/><rect x="1576.31" y="1544.26" width="36.22" height="5.27" fill="#a56c4d"/><rect x="1614.03" y="1544.26" width="36.22" height="5.27" fill="#ba8a64"/><rect x="1651.75" y="1544.26" width="36.22" height="5.27" fill="#ba8a64"/><rect x="1689.47" y="1544.26" width="36.22" height="5.27" fill="#d7b58f"/><rect x="1727.19" y="1544.26" width="36.22" height="5.27" fill="#e4cbad"/><rect x="1764.91" y="1544.26" width="36.22" height="5.27" fill="#e6dac7"/><rect x="1802.63" y="1544.26" width="36.22" height="5.27" fill="#e4cbad"/><rect x="1840.35" y="1544.26" width="36.22" height="5.27" fill="#d7b58f"/><rect x="1878.07" y="1544.26" width="36.22" height="5.27" fill="#dddad6"/><rect x="1463.15" y="1551.03" width="36.22" height="5.27" fill="#6c7eb7"/><rect x="1500.87" y="1551.03" width="36.22" height="5.27" fill="#485299"/><rect x="1538.59" y="1551.03" width="36.22" height="5.27" fill="#485299"/><rect x="1576.31" y="1551.03" width="36.22" height="5.27" fill="#a56c4d"/><rect x="1614.03" y="1551.03" width="36.22" height="5.27" fill="#a56c4d"/><rect x="1651.75" y="1551.03" width="36.22" height="5.27" fill="#a56c4d"/><rect x="1689.47" y="1551.03" width="36.22" height="5.27" fill="#d7b58f"/><rect x="1727.19" y="1551.03" width="36.22" height="5.27" fill="#e6dac7"/><rect x="1764.91" y="1551.03" width="36.22" height="5.27" fill="#cba27a"/><rect x="1802.63" y="1551.03" width="36.22" height="5.27" fill="#afbfdc"/><rect x="1840.35" y="1551.03" width="36.22" height="5.27" fill="#dddad6"/><rect x="1878.07" y="1551.03" width="36.22" height="5.27" fill="#dddad6"/><rect x="1463.15" y="1557.8" width="36.22" height="5.27" fill="#6c7eb7"/><rect x="1500.87" y="1557.8" width="36.22" height="5.27" fill="#485299"/><rect x="1538.59" y="1557.8" width="36.22" height="5.27" fill="#232350"/><rect x="1576.31" y="1557.8" width="36.22" height="5.27" fill="#874730"/><rect x="1614.03" y="1557.8" width="36.22" height="5.27" fill="#a56c4d"/><rect x="1651.75" y="1557.8" width="36.22" height="5.27" fill="#874730"/><rect x="1689.47" y="1557.8" width="36.22" height="5.27" fill="#cbd6e6"/><rect x="1727.19" y="1557.8" width="36.22" height="5.27" fill="#dddad6"/><rect x="1764.91" y="1557.8" width="36.22" height="5.27" fill="#dddad6"/><rect x="1802.63" y="1557.8" width="36.22" height="5.27" fill="#e6dac7"/><rect x="1840.35" y="1557.8" width="36.22" height="5.27" fill="#e6dac7"/><rect x="1878.07" y="1557.8" width="36.22" height="5.27" fill="#e4cbad"/><rect x="1463.15" y="1564.57" width="36.22" height="5.27" fill="#232350"/><rect x="1500.87" y="1564.57" width="36.22" height="5.27" fill="#6c7eb7"/><rect x="1538.59" y="1564.57" width="36.22" height="5.27" fill="#485299"/><rect x="1576.31" y="1564.57" width="36.22" height="5.27" fill="#cba27a"/><rect x="1614.03" y="1564.57" width="36.22" height="5.27" fill="#d7b58f"/><rect x="1651.75" y="1564.57" width="36.22" height="5.27" fill="#cba27a"/><rect x="1689.47" y="1564.57" width="36.22" height="5.27" fill="#cba27a"/><rect x="1727.19" y="1564.57" width="36.22" height="5.27" fill="#e4cbad"/><rect x="1764.91" y="1564.57" width="36.22" height="5.27" fill="#cba27a"/><rect x="1802.63" y="1564.57" width="36.22" height="5.27" fill="#d7b58f"/><rect x="1840.35" y="1564.57" width="36.22" height="5.27" fill="#cba27a"/><rect x="1878.07" y="1564.57" width="36.22" height="5.27" fill="#cba27a"/><rect x="1463.15" y="1571.33" width="36.22" height="5.27" fill="#232350"/><rect x="1500.87" y="1571.33" width="36.22" height="5.27" fill="#485299"/><rect x="1538.59" y="1571.33" width="36.22" height="5.27" fill="#485299"/><rect x="1576.31" y="1571.33" width="36.22" height="5.27" fill="#cba27a"/><rect x="1614.03" y="1571.33" width="36.22" height="5.27" fill="#e6dac7"/><rect x="1651.75" y="1571.33" width="36.22" height="5.27" fill="#d7b58f"/><rect x="1689.47" y="1571.33" width="36.22" height="5.27" fill="#d7b58f"/><rect x="1727.19" y="1571.33" width="36.22" height="5.27" fill="#e4cbad"/><rect x="1764.91" y="1571.33" width="36.22" height="5.27" fill="#ba8a64"/><rect x="1802.63" y="1571.33" width="36.22" height="5.27" fill="#d7b58f"/><rect x="1840.35" y="1571.33" width="36.22" height="5.27" fill="#cba27a"/><rect x="1878.07" y="1571.33" width="36.22" height="5.27" fill="#ba8a64"/><rect x="1463.15" y="1578.1" width="36.22" height="5.27" fill="#6c7eb7"/><rect x="1500.87" y="1578.1" width="36.22" height="5.27" fill="#485299"/><rect x="1538.59" y="1578.1" width="36.22" height="5.27" fill="#232350"/><rect x="1576.31" y="1578.1" width="36.22" height="5.27" fill="#cba27a"/><rect x="1614.03" y="1578.1" width="36.22" height="5.27" fill="#ba8a64"/><rect x="1651.75" y="1578.1" width="36.22" height="5.27" fill="#cba27a"/><rect x="1689.47" y="1578.1" width="36.22" height="5.27" fill="#e4cbad"/><rect x="1727.19" y="1578.1" width="36.22" height="5.27" fill="#d7b58f"/><rect x="1764.91" y="1578.1" width="36.22" height="5.27" fill="#e4cbad"/><rect x="1802.63" y="1578.1" width="36.22" height="5.27" fill="#d7b58f"/><rect x="1840.35" y="1578.1" width="36.22" height="5.27" fill="#d7b58f"/><rect x="1878.07" y="1578.1" width="36.22" height="5.27" fill="#cba27a"/><rect x="1463.15" y="1584.87" width="36.22" height="5.27" fill="#6c7eb7"/><rect x="1500.87" y="1584.87" width="36.22" height="5.27" fill="#232350"/><rect x="1538.59" y="1584.87" width="36.22" height="5.27" fill="#232350"/><rect x="1576.31" y="1584.87" width="36.22" height="5.27" fill="#d7b58f"/><rect x="1614.03" y="1584.87" width="36.22" height="5.27" fill="#cba27a"/><rect x="1651.75" y="1584.87" width="36.22" height="5.27" fill="#cba27a"/><rect x="1689.47" y="1584.87" width="36.22" height="5.27" fill="#e6dac7"/><rect x="1727.19" y="1584.87" width="36.22" height="5.27" fill="#d7b58f"/><rect x="1764.91" y="1584.87" width="36.22" height="5.27" fill="#cba27a"/><rect x="1802.63" y="1584.87" width="36.22" height="5.27" fill="#d7b58f"/><rect x="1840.35" y="1584.87" width="36.22" height="5.27" fill="#cba27a"/><rect x="1878.07" y="1584.87" width="36.22" height="5.27" fill="#ba8a64"/><rect x="1463.15" y="1591.64" width="36.22" height="5.27" fill="#485299"/><rect x="1500.87" y="1591.64" width="36.22" height="5.27" fill="#232350"/><rect x="1538.59" y="1591.64" width="36.22" height="5.27" fill="#485299"/><rect x="1576.31" y="1591.64" width="36.22" height="5.27" fill="#cba27a"/><rect x="1614.03" y="1591.64" width="36.22" height="5.27" fill="#d7b58f"/><rect x="1651.75" y="1591.64" width="36.22" height="5.27" fill="#cba27a"/><rect x="1689.47" y="1591.64" width="36.22" height="5.27" fill="#cba27a"/><rect x="1727.19" y="1591.64" width="36.22" height="5.27" fill="#cba27a"/><rect x="1764.91" y="1591.64" width="36.22" height="5.27" fill="#cba27a"/><rect x="1802.63" y="1591.64" width="36.22" height="5.27" fill="#dddad6"/><rect x="1840.35" y="1591.64" width="36.22" height="5.27" fill="#d7b58f"/><rect x="1878.07" y="1591.64" width="36.22" height="5.27" fill="#cba27a"/><rect x="1463.15" y="1598.41" width="36.22" height="5.27" fill="#485299"/><rect x="1500.87" y="1598.41" width="36.22" height="5.27" fill="#485299"/><rect x="1538.59" y="1598.41" width="36.22" height="5.27" fill="#485299"/><rect x="1576.31" y="1598.41" width="36.22" height="5.27" fill="#d7b58f"/><rect x="1614.03" y="1598.41" width="36.22" height="5.27" fill="#d7b58f"/><rect x="1651.75" y="1598.41" width="36.22" height="5.27" fill="#d7b58f"/><rect x="1689.47" y="1598.41" width="36.22" height="5.27" fill="#e4cbad"/><rect x="1727.19" y="1598.41" width="36.22" height="5.27" fill="#d7b58f"/><rect x="1764.91" y="1598.41" width="36.22" height="5.27" fill="#cba27a"/><rect x="1802.63" y="1598.41" width="36.22" height="5.27" fill="#d7b58f"/><rect x="1840.35" y="1598.41" width="36.22" height="5.27" fill="#cba27a"/><rect x="1878.07" y="1598.41" width="36.22" height="5.27" fill="#cba27a"/><rect x="1463.15" y="1605.17" width="36.22" height="5.27" fill="#485299"/><rect x="1500.87" y="1605.17" width="36.22" height="5.27" fill="#485299"/><rect x="1538.59" y="1605.17" width="36.22" height="5.27" fill="#232350"/><rect x="1576.31" y="1605.17" width="36.22" height="5.27" fill="#cba27a"/><rect x="1614.03" y="1605.17" width="36.22" height="5.27" fill="#cba27a"/><rect x="1651.75" y="1605.17" width="36.22" height="5.27" fill="#cba27a"/><rect x="1689.47" y="1605.17" width="36.22" height="5.27" fill="#cba27a"/><rect x="1727.19" y="1605.17" width="36.22" height="5.27" fill="#d7b58f"/><rect x="1764.91" y="1605.17" width="36.22" height="5.27" fill="#cba27a"/><rect x="1802.63" y="1605.17" width="36.22" height="5.27" fill="#e6dac7"/><rect x="1840.35" y="1605.17" width="36.22" height="5.27" fill="#d7b58f"/><rect x="1878.07" y="1605.17" width="36.22" height="5.27" fill="#cba27a"/><rect x="1463.15" y="1611.94" width="36.22" height="5.27" fill="#485299"/><rect x="1500.87" y="1611.94" width="36.22" height="5.27" fill="#485299"/><rect x="1538.59" y="1611.94" width="36.22" height="5.27" fill="#485299"/><rect x="1576.31" y="1611.94" width="36.22" height="5.27" fill="#ba8a64"/><rect x="1614.03" y="1611.94" width="36.22" height="5.27" fill="#cba27a"/><rect x="1651.75" y="1611.94" width="36.22" height="5.27" fill="#cba27a"/><rect x="1689.47" y="1611.94" width="36.22" height="5.27" fill="#cba27a"/><rect x="1727.19" y="1611.94" width="36.22" height="5.27" fill="#ba8a64"/><rect x="1764.91" y="1611.94" width="36.22" height="5.27" fill="#d7b58f"/><rect x="1802.63" y="1611.94" width="36.22" height="5.27" fill="#e6dac7"/><rect x="1840.35" y="1611.94" width="36.22" height="5.27" fill="#e6dac7"/><rect x="1878.07" y="1611.94" width="36.22" height="5.27" fill="#e6dac7"/><rect x="1463.15" y="1618.71" width="36.22" height="5.27" fill="#485299"/><rect x="1500.87" y="1618.71" width="36.22" height="5.27" fill="#485299"/><rect x="1538.59" y="1618.71" width="36.22" height="5.27" fill="#6c7eb7"/><rect x="1576.31" y="1618.71" width="36.22" height="5.27" fill="#a56c4d"/><rect x="1614.03" y="1618.71" width="36.22" height="5.27" fill="#cba27a"/><rect x="1651.75" y="1618.71" width="36.22" height="5.27" fill="#cba27a"/><rect x="1689.47" y="1618.71" width="36.22" height="5.27" fill="#e4cbad"/><rect x="1727.19" y="1618.71" width="36.22" height="5.27" fill="#ba8a64"/><rect x="1764.91" y="1618.71" width="36.22" height="5.27" fill="#cba27a"/><rect x="1802.63" y="1618.71" width="36.22" height="5.27" fill="#dddad6"/><rect x="1840.35" y="1618.71" width="36.22" height="5.27" fill="#dddad6"/><rect x="1878.07" y="1618.71" width="36.22" height="5.27" fill="#e6dac7"/><rect x="1463.15" y="1625.48" width="36.22" height="5.27" fill="#232350"/><rect x="1500.87" y="1625.48" width="36.22" height="5.27" fill="#485299"/><rect x="1538.59" y="1625.48" width="36.22" height="5.27" fill="#6c7eb7"/><rect x="1576.31" y="1625.48" width="36.22" height="5.27" fill="#e4cbad"/><rect x="1614.03" y="1625.48" width="36.22" height="5.27" fill="#e6dac7"/><rect x="1651.75" y="1625.48" width="36.22" height="5.27" fill="#e4cbad"/><rect x="1689.47" y="1625.48" width="36.22" height="5.27" fill="#ba8a64"/><rect x="1727.19" y="1625.48" width="36.22" height="5.27" fill="#ba8a64"/><rect x="1764.91" y="1625.48" width="36.22" height="5.27" fill="#a56c4d"/><rect x="1802.63" y="1625.48" width="36.22" height="5.27" fill="#e4cbad"/><rect x="1840.35" y="1625.48" width="36.22" height="5.27" fill="#e4cbad"/><rect x="1878.07" y="1625.48" width="36.22" height="5.27" fill="#e6dac7"/><rect x="1463.15" y="1632.25" width="36.22" height="5.27" fill="#485299"/><rect x="1500.87" y="1632.25" width="36.22" height="5.27" fill="#485299"/><rect x="1538.59" y="1632.25" width="36.22" height="5.27" fill="#232350"/><rect x="1576.31" y="1632.25" width="36.22" height="5.27" fill="#e6dac7"/><rect x="1614.03" y="1632.25" width="36.22" height="5.27" fill="#d7b58f"/><rect x="1651.75" y="1632.25" width="36.22" height="5.27" fill="#cba27a"/><rect x="1689.47" y="1632.25" width="36.22" height="5.27" fill="#cba27a"/><rect x="1727.19" y="1632.25" width="36.22" height="5.27" fill="#ba8a64"/><rect x="1764.91" y="1632.25" width="36.22" height="5.27" fill="#ba8a64"/><rect x="1802.63" y="1632.25" width="36.22" height="5.27" fill="#e4cbad"/><rect x="1840.35" y="1632.25" width="36.22" height="5.27" fill="#e6dac7"/><rect x="1878.07" y="1632.25" width="36.22" height="5.27" fill="#e4cbad"/><rect x="1463.15" y="1639.01" width="36.22" height="5.27" fill="#485299"/><rect x="1500.87" y="1639.01" width="36.22" height="5.27" fill="#485299"/><rect x="1538.59" y="1639.01" width="36.22" height="5.27" fill="#485299"/><rect x="1576.31" y="1639.01" width="36.22" height="5.27" fill="#e4cbad"/><rect x="1614.03" y="1639.01" width="36.22" height="5.27" fill="#d7b58f"/><rect x="1651.75" y="1639.01" width="36.22" height="5.27" fill="#d7b58f"/><rect x="1689.47" y="1639.01" width="36.22" height="5.27" fill="#ba8a64"/><rect x="1727.19" y="1639.01" width="36.22" height="5.27" fill="#ba8a64"/><rect x="1764.91" y="1639.01" width="36.22" height="5.27" fill="#ba8a64"/><rect x="1802.63" y="1639.01" width="36.22" height="5.27" fill="#e4cbad"/><rect x="1840.35" y="1639.01" width="36.22" height="5.27" fill="#d7b58f"/><rect x="1878.07" y="1639.01" width="36.22" height="5.27" fill="#e4cbad"/><rect x="1463.15" y="1645.78" width="36.22" height="5.27" fill="#485299"/><rect x="1500.87" y="1645.78" width="36.22" height="5.27" fill="#6c7eb7"/><rect x="1538.59" y="1645.78" width="36.22" height="5.27" fill="#485299"/><rect x="1576.31" y="1645.78" width="36.22" height="5.27" fill="#e4cbad"/><rect x="1614.03" y="1645.78" width="36.22" height="5.27" fill="#e6dac7"/><rect x="1651.75" y="1645.78" width="36.22" height="5.27" fill="#d7b58f"/><rect x="1689.47" y="1645.78" width="36.22" height="5.27" fill="#a56c4d"/><rect x="1727.19" y="1645.78" width="36.22" height="5.27" fill="#cba27a"/><rect x="1764.91" y="1645.78" width="36.22" height="5.27" fill="#cba27a"/><rect x="1802.63" y="1645.78" width="36.22" height="5.27" fill="#e4cbad"/><rect x="1840.35" y="1645.78" width="36.22" height="5.27" fill="#e4cbad"/><rect x="1878.07" y="1645.78" width="36.22" height="5.27" fill="#e4cbad"/></g>
<text x="1919" y="968" font-size="12.6" font-weight="bold">class</text>
<g font-size="12">
<text x="1919.3" y="983.18">Gstm1</text>
<text x="1919.3" y="989.95">Epo</text>
<text x="1919.3" y="996.72">Fmo1</text>
<text x="1919.3" y="1003.49">Gars</text>
<text x="1919.3" y="1010.26">Cebpg</text>
<text x="1919.3" y="1017.02">Styxl1</text>
<text x="1919.3" y="1023.79">Atad1</text>
<text x="1919.3" y="1030.56">Gmfb</text>
<text x="1919.3" y="1037.33">Slc5a3</text>
<text x="1919.3" y="1044.1">Serinc3</text>
<text x="1919.3" y="1050.86">Psmc2</text>
<text x="1919.3" y="1057.63">Mt2</text>
<text x="1919.3" y="1064.4">Mt1</text>
<text x="1919.3" y="1071.17">Xpot</text>
<text x="1919.3" y="1077.94">Acot2</text>
<text x="1919.3" y="1084.7">Sec62</text>
<text x="1919.3" y="1091.47">Chka</text>
<text x="1919.3" y="1098.24">Gm7030</text>
<text x="1919.3" y="1105.01">Cmc2</text>
<text x="1919.3" y="1111.78">Chordc1</text>
<text x="1919.3" y="1118.54">Nampt</text>
<text x="1919.3" y="1125.31">Zfp654</text>
<text x="1919.3" y="1132.08">Eif1</text>
<text x="1919.3" y="1138.85">Btaf1</text>
<text x="1919.3" y="1145.62">Zfr</text>
<text x="1919.3" y="1152.38">Map1lc3b</text>
<text x="1919.3" y="1159.15">Srf</text>
<text x="1919.3" y="1165.92">Epn1</text>
<text x="1919.3" y="1172.69">Zfc3h1</text>
<text x="1919.3" y="1179.46">Zfp113</text>
<text x="1919.3" y="1186.22">Mylip</text>
<text x="1919.3" y="1192.99">Tax1bp1</text>
<text x="1919.3" y="1199.76">Nfyc</text>
<text x="1919.3" y="1206.53">Selenot</text>
<text x="1919.3" y="1213.3">Ddx3x</text>
<text x="1919.3" y="1220.06">Atp6v1c1</text>
<text x="1919.3" y="1226.83">Ddx5</text>
<text x="1919.3" y="1233.6">Mospd1</text>
<text x="1919.3" y="1240.37">Cavin4</text>
<text x="1919.3" y="1247.14">Exog</text>
<text x="1919.3" y="1253.9">Espn</text>
<text x="1919.3" y="1260.67">Col19a1</text>
<text x="1919.3" y="1267.44">Ntf3</text>
<text x="1919.3" y="1274.21">Nell1</text>
<text x="1919.3" y="1280.98">Nell2</text>
<text x="1919.3" y="1287.74">Il4ra</text>
<text x="1919.3" y="1294.51">Cxcl14</text>
<text x="1919.3" y="1301.28">Efemp2</text>
<text x="1919.3" y="1308.05">Actn3</text>
<text x="1919.3" y="1314.82">Anxa6</text>
<text x="1919.3" y="1321.58">Cpne1</text>
<text x="1919.3" y="1328.35">Snai1</text>
<text x="1919.3" y="1335.12">Acta1</text>
<text x="1919.3" y="1341.89">Myod1</text>
<text x="1919.3" y="1348.66">Tuba1b</text>
<text x="1919.3" y="1355.42">Cpne2</text>
<text x="1919.3" y="1362.19">Ckap4</text>
<text x="1919.3" y="1368.96">Sema3f</text>
<text x="1919.3" y="1375.73">Pls1</text>
<text x="1919.3" y="1382.5">Plk1</text>
<text x="1919.3" y="1389.26">Prr11</text>
<text x="1919.3" y="1396.03">Mybph</text>
<text x="1919.3" y="1402.8">Myog</text>
<text x="1919.3" y="1409.57">Klhl41</text>
<text x="1919.3" y="1416.34">Actn2</text>
<text x="1919.3" y="1423.1">Actc1</text>
<text x="1919.3" y="1429.87">Cnn1</text>
<text x="1919.3" y="1436.64">Has2</text>
<text x="1919.3" y="1443.41">Sgce</text>
<text x="1919.3" y="1450.18">Slc7a5</text>
<text x="1919.3" y="1456.94">Aldh9a1</text>
<text x="1919.3" y="1463.71">Otogl</text>
<text x="1919.3" y="1470.48">Amdhd1</text>
<text x="1919.3" y="1477.25">Gpr108</text>
<text x="1919.3" y="1484.02">Cyp1b1</text>
<text x="1919.3" y="1490.78">P3h4</text>
<text x="1919.3" y="1497.55">Cnn2</text>
<text x="1919.3" y="1504.32">Ehd2</text>
<text x="1919.3" y="1511.09">Osr1</text>
<text x="1919.3" y="1517.86">A4galt</text>
<text x="1919.3" y="1524.62">Tmed3</text>
<text x="1919.3" y="1531.39">Naga</text>
<text x="1919.3" y="1538.16">Cd9</text>
<text x="1919.3" y="1544.93">Serinc2</text>
<text x="1919.3" y="1551.7">Bik</text>
<text x="1919.3" y="1558.46">Cd34</text>
<text x="1919.3" y="1565.23">Mpp2</text>
<text x="1919.3" y="1572">Cdc42ep1</text>
<text x="1919.3" y="1578.77">Cdc42ep5</text>
<text x="1919.3" y="1585.54">Vgll2</text>
<text x="1919.3" y="1592.3">Pitx2</text>
<text x="1919.3" y="1599.07">Pde4a</text>
<text x="1919.3" y="1605.84">Tuba8</text>
<text x="1919.3" y="1612.61">Cd248</text>
<text x="1919.3" y="1619.38">Lgals1</text>
<text x="1919.3" y="1626.14">Gucam</text>
<text x="1919.3" y="1632.91">Pdia6</text>
<text x="1919.3" y="1639.68">Ccnd2</text>
<text x="1919.3" y="1646.45">Cd44</text>
<text x="1919.3" y="1653.22">Epha1</text>
</g>
<text transform="translate(1476.46 1658) rotate(90)" font-size="14.2" textLength="63.1" lengthAdjust="spacingAndGlyphs" stroke="#000" stroke-width="0.5">D2 HG_1</text>
<text transform="translate(1514.18 1658) rotate(90)" font-size="14.2" textLength="63.1" lengthAdjust="spacingAndGlyphs" stroke="#000" stroke-width="0.5">D2 HG_2</text>
<text transform="translate(1551.9 1658) rotate(90)" font-size="14.2" textLength="63.1" lengthAdjust="spacingAndGlyphs" stroke="#000" stroke-width="0.5">D2 HG_3</text>
<text transform="translate(1589.62 1658) rotate(90)" font-size="14.2" textLength="113.6" lengthAdjust="spacingAndGlyphs">D2HG+D2hgdh_3</text>
<text transform="translate(1627.34 1658) rotate(90)" font-size="14.2" textLength="113.6" lengthAdjust="spacingAndGlyphs">D2HG+D2hgdh_1</text>
<text transform="translate(1665.06 1658) rotate(90)" font-size="14.2" textLength="113.6" lengthAdjust="spacingAndGlyphs">D2HG+D2hgdh_2</text>
<text transform="translate(1702.78 1658) rotate(90)" font-size="14.2" textLength="69.2" lengthAdjust="spacingAndGlyphs" stroke="#000" stroke-width="0.5">D2hgdh_1</text>
<text transform="translate(1740.5 1658) rotate(90)" font-size="14.2" textLength="69.2" lengthAdjust="spacingAndGlyphs" stroke="#000" stroke-width="0.5">D2hgdh_2</text>
<text transform="translate(1778.22 1658) rotate(90)" font-size="14.2" textLength="69.2" lengthAdjust="spacingAndGlyphs" stroke="#000" stroke-width="0.5">D2hgdh_3</text>
<text transform="translate(1815.94 1658) rotate(90)" font-size="14.2" textLength="47" lengthAdjust="spacingAndGlyphs" stroke="#000" stroke-width="0.5">NTC_3</text>
<text transform="translate(1853.66 1658) rotate(90)" font-size="14.2" textLength="47" lengthAdjust="spacingAndGlyphs" stroke="#000" stroke-width="0.5">NTC_1</text>
<text transform="translate(1891.38 1658) rotate(90)" font-size="14.2" textLength="47" lengthAdjust="spacingAndGlyphs" stroke="#000" stroke-width="0.5">NTC_2</text>
<path d="M1509.8 947.7L1509.8 914.3M1509.8 914.3L1708 914.3M1708 914.3L1708 934.1M1622.7 951.2L1622.7 927.3M1622.7 927.3L1792.2 927.3M1792.2 927.3L1792.2 944.3M1736 951.2L1736 941.6M1736 941.6L1848.5 941.6M1848.5 941.6L1848.5 951.2M1481.26 954.6L1481.26 948.4M1481.26 948.4L1538.1 948.4M1538.1 948.4L1538.1 951.2M1518.98 954.6L1518.98 951.2M1518.98 951.2L1556.7 951.2M1556.7 951.2L1556.7 954.6M1594.42 954.6L1594.42 951.2M1594.42 951.2L1669.86 951.2M1669.86 951.2L1669.86 954.6M1632.14 951.2L1632.14 954.6M1707.58 954.6L1707.58 951.2M1707.58 951.2L1783.02 951.2M1783.02 951.2L1783.02 954.6M1745.3 951.2L1745.3 954.6M1820.74 954.6L1820.74 951.2M1820.74 951.2L1896.18 951.2M1896.18 951.2L1896.18 954.6M1858.46 951.2L1858.46 954.6" fill="none" stroke="#000" stroke-width="1.5" stroke-linecap="square"/>
<path d="M1454.6 1088.3L1438.2 1088.3M1438.2 1088.3L1438.2 1428.4M1438.2 1428.4L1453.9 1428.4M1454.6 1017.7L1454.6 1159.9M1454.6 1017.7L1460.5 1017.7M1454.6 1159.9L1460.5 1159.9M1452.9 1349.2L1452.9 1508.5M1452.9 1349.2L1458 1349.2M1452.9 1508.5L1458 1508.5M1458 1318L1458 1380M1458 1318L1461 1318M1458 1380L1461 1380M1458 1460L1458 1560M1458 1460L1461 1460M1458 1560L1461 1560M1460.7 1000L1460.7 1062M1460.7 1100L1460.7 1235M1460.7 1250L1460.7 1300M1460.7 1500L1460.7 1540M1460.7 1570L1460.7 1640" fill="none" stroke="#000" stroke-width="1.5" stroke-linecap="square"/>
</g>
<g id="panel-h">
<clipPath id="panel-hc"><path d="M155.72 2132.41L145.3 2121.9L136.48 2110.25L129.41 2097.64L124.2 2084.31L120.95 2070.47L119.71 2056.36L120.5 2042.23L123.32 2028.31L128.1 2014.84L134.77 2002.06L143.22 1990.18L153.29 1979.4L164.83 1969.92L177.62 1961.89L191.46 1955.44L206.1 1950.7L221.3 1947.74L236.79 1946.61L252.31 1947.33L267.59 1949.89L282.37 1954.25L296.41 1960.33L309.45 1968.02L321.28 1977.19L464.58 2103.99L475 2114.5L483.82 2126.15L490.89 2138.76L496.1 2152.09L499.35 2165.93L500.59 2180.04L499.8 2194.17L496.98 2208.09L492.2 2221.56L485.53 2234.34L477.08 2246.22L467.01 2257L455.47 2266.48L442.68 2274.51L428.84 2280.96L414.2 2285.7L399 2288.66L383.51 2289.79L367.99 2289.07L352.71 2286.51L337.93 2282.15L323.89 2276.07L310.85 2268.38L299.02 2259.21Z"/></clipPath>
<path d="M155.72 2132.41L145.3 2121.9L136.48 2110.25L129.41 2097.64L124.2 2084.31L120.95 2070.47L119.71 2056.36L120.5 2042.23L123.32 2028.31L128.1 2014.84L134.77 2002.06L143.22 1990.18L153.29 1979.4L164.83 1969.92L177.62 1961.89L191.46 1955.44L206.1 1950.7L221.3 1947.74L236.79 1946.61L252.31 1947.33L267.59 1949.89L282.37 1954.25L296.41 1960.33L309.45 1968.02L321.28 1977.19L464.58 2103.99L475 2114.5L483.82 2126.15L490.89 2138.76L496.1 2152.09L499.35 2165.93L500.59 2180.04L499.8 2194.17L496.98 2208.09L492.2 2221.56L485.53 2234.34L477.08 2246.22L467.01 2257L455.47 2266.48L442.68 2274.51L428.84 2280.96L414.2 2285.7L399 2288.66L383.51 2289.79L367.99 2289.07L352.71 2286.51L337.93 2282.15L323.89 2276.07L310.85 2268.38L299.02 2259.21Z" fill="rgb(25,61,177)" fill-opacity="0.5" stroke="rgb(50,50,165)" stroke-opacity="0.85" stroke-width="1"/>
<rect x="190.7" y="1900" width="400" height="430" fill="rgb(236,142,184)" fill-opacity="0.25" clip-path="url(#panel-hc)"/>
<path d="M226.74 2068.47L216.27 2058.02L207.38 2046.4L200.24 2033.83L194.96 2020.52L191.64 2006.7L190.32 1992.59L191.04 1978.45L193.77 1964.52L198.48 1951.03L205.09 1938.22L213.47 1926.3L223.49 1915.49L234.97 1905.95L247.72 1897.86L261.52 1891.36L276.14 1886.55L291.32 1883.52L306.8 1882.32L322.33 1882.97L337.62 1885.46L352.43 1889.75L366.5 1895.77L379.58 1903.4L391.46 1912.53L536.86 2039.93L547.33 2050.38L556.22 2062L563.36 2074.57L568.64 2087.88L571.96 2101.7L573.28 2115.81L572.56 2129.95L569.83 2143.88L565.12 2157.37L558.51 2170.18L550.13 2182.1L540.11 2192.91L528.63 2202.45L515.88 2210.54L502.08 2217.04L487.46 2221.85L472.28 2224.88L456.8 2226.08L441.27 2225.43L425.98 2222.94L411.17 2218.65L397.1 2212.63L384.02 2205L372.14 2195.87Z" fill="rgb(145,65,35)" fill-opacity="0.5" stroke="rgb(150,70,50)" stroke-opacity="0.6" stroke-width="1"/>
<path d="M372.14 1912.53L384.02 1903.4L397.1 1895.77L411.17 1889.75L425.98 1885.46L441.27 1882.97L456.8 1882.32L472.28 1883.52L487.46 1886.55L502.08 1891.36L515.88 1897.86L528.63 1905.95L540.11 1915.49L550.13 1926.3L558.51 1938.22L565.12 1951.03L569.83 1964.52L572.56 1978.45L573.28 1992.59L571.96 2006.7L568.64 2020.52L563.36 2033.83L556.22 2046.4L547.33 2058.02L536.86 2068.47L391.46 2195.87L379.58 2205L366.5 2212.63L352.43 2218.65L337.62 2222.94L322.33 2225.43L306.8 2226.08L291.32 2224.88L276.14 2221.85L261.52 2217.04L247.72 2210.54L234.97 2202.45L223.49 2192.91L213.47 2182.1L205.09 2170.18L198.48 2157.37L193.77 2143.88L191.04 2129.95L190.32 2115.81L191.64 2101.7L194.96 2087.88L200.24 2074.57L207.38 2062L216.27 2050.38L226.74 2039.93Z" fill="rgb(85,141,55)" fill-opacity="0.5" stroke="rgb(70,130,50)" stroke-opacity="0.7" stroke-width="1"/>
<path d="M442.32 1977.19L454.15 1968.02L467.19 1960.33L481.23 1954.25L496.01 1949.89L511.29 1947.33L526.81 1946.61L542.3 1947.74L557.5 1950.7L572.14 1955.44L585.98 1961.89L598.77 1969.92L610.31 1979.4L620.38 1990.18L628.83 2002.06L635.5 2014.84L640.28 2028.31L643.1 2042.23L643.89 2056.36L642.65 2070.47L639.4 2084.31L634.19 2097.64L627.12 2110.25L618.3 2121.9L607.88 2132.41L464.58 2259.21L452.75 2268.38L439.71 2276.07L425.67 2282.15L410.89 2286.51L395.61 2289.07L380.09 2289.79L364.6 2288.66L349.4 2285.7L334.76 2280.96L320.92 2274.51L308.13 2266.48L296.59 2257L286.52 2246.22L278.07 2234.34L271.4 2221.56L266.62 2208.09L263.8 2194.17L263.01 2180.04L264.25 2165.93L267.5 2152.09L272.71 2138.76L279.78 2126.15L288.6 2114.5L299.02 2103.99Z" fill="rgb(215,225,85)" fill-opacity="0.5" stroke="rgb(200,215,60)" stroke-opacity="0.8" stroke-width="1"/>
<g font-size="24" text-anchor="middle">
<text x="290.07" y="1932.27">2</text>
<text x="470.26" y="1930.67">4</text>
<text x="383.35" y="1980.02">15</text>
<text x="233.08" y="1993.71">0</text>
<text x="528.84" y="1989.57">0</text>
<text x="298.98" y="2050.06">0</text>
<text x="464.53" y="2051.65">0</text>
<text x="157.94" y="2066.62">7</text>
<text x="601.43" y="2065.98">5</text>
<text x="236.26" y="2133.48">1</text>
<text x="383.35" y="2129.66">0</text>
<text x="517.7" y="2129.66">0</text>
<text x="445.43" y="2182.19">0</text>
<text x="309.17" y="2201.29">0</text>
<text x="384.94" y="2260.82">12</text>
</g>
<text x="44.2" y="1859.2" font-size="20.4" textLength="276" lengthAdjust="spacingAndGlyphs">Enriched metabolites of D2HG</text>
<text x="384" y="1856.3" font-size="20.4" textLength="324.2" lengthAdjust="spacingAndGlyphs">Enriched metabolites of D2HG(2nd)</text>
<text transform="translate(98.2 2106) rotate(-90)" font-size="20.4" text-anchor="middle" textLength="277" lengthAdjust="spacingAndGlyphs">Depleted metabolites of D2HG</text>
<text transform="translate(663.3 2057.3) rotate(90)" font-size="20.4" text-anchor="middle" textLength="324" lengthAdjust="spacingAndGlyphs">Depleted metabolites of D2HG(2nd)</text>
</g>
<g id="panel-j">
<rect x="827.4" y="1851" width="419.2" height="385.4" fill="#fff"/>
<line x1="827.4" y1="2171.4" x2="1246.6" y2="2171.4" stroke="#f4f4f4" stroke-width="0.6" /><line x1="827.4" y1="2041.4" x2="1246.6" y2="2041.4" stroke="#f4f4f4" stroke-width="0.6" /><line x1="827.4" y1="1911.4" x2="1246.6" y2="1911.4" stroke="#f4f4f4" stroke-width="0.6" /><line x1="827.4" y1="2106.4" x2="1246.6" y2="2106.4" stroke="#ececec" stroke-width="1" /><line x1="827.4" y1="1976.4" x2="1246.6" y2="1976.4" stroke="#ececec" stroke-width="1" /><line x1="887.4" y1="1851" x2="887.4" y2="2236.4" stroke="#ececec" stroke-width="1" /><line x1="987.1" y1="1851" x2="987.1" y2="2236.4" stroke="#ececec" stroke-width="1" /><line x1="1086.8" y1="1851" x2="1086.8" y2="2236.4" stroke="#ececec" stroke-width="1" /><line x1="1186.6" y1="1851" x2="1186.6" y2="2236.4" stroke="#ececec" stroke-width="1" />
<rect x="842.5" y="2066.88" width="44.9" height="169.52" fill="#62482c"/>
<rect x="887.4" y="1879.16" width="44.9" height="357.24" fill="#425a28"/>
<rect x="942.2" y="2173.74" width="44.9" height="62.66" fill="#62482c"/>
<rect x="987.1" y="2156.84" width="44.9" height="79.56" fill="#425a28"/>
<rect x="1041.9" y="1888" width="44.9" height="348.4" fill="#62482c"/>
<rect x="1086.8" y="2032.04" width="44.9" height="204.36" fill="#425a28"/>
<rect x="1141.7" y="2231.2" width="44.9" height="5.2" fill="#62482c"/>
<rect x="1186.6" y="2219.5" width="44.9" height="16.9" fill="#425a28"/>
<rect x="827.4" y="1851" width="419.2" height="385.4" fill="none" stroke="#7f7f7f" stroke-width="1.2"/>
<g font-size="27.8" text-anchor="middle" fill="#333">
<text x="862" y="2055.5">652</text>
<text x="910" y="1878.3">1374</text>
<text x="965.7" y="2163.2">241</text>
<text x="1008.2" y="2124">306</text>
<text x="1061.4" y="1887.4">1340</text>
<text x="1112.3" y="2027.5">786</text>
<text x="1160.3" y="2221.5">20</text>
<text x="1203" y="2197.8">65</text>
</g>
<text x="820.5" y="2242.4" font-size="17.5" text-anchor="end" fill="#4d4d4d">0</text>
<line x1="823.5" y1="2236.4" x2="827.4" y2="2236.4" stroke="#7f7f7f" stroke-width="1" />
<text x="820.5" y="2112.4" font-size="17.5" text-anchor="end" fill="#4d4d4d">500</text>
<line x1="823.5" y1="2106.4" x2="827.4" y2="2106.4" stroke="#7f7f7f" stroke-width="1" />
<text x="820.5" y="1982.4" font-size="17.5" text-anchor="end" fill="#4d4d4d">1000</text>
<line x1="823.5" y1="1976.4" x2="827.4" y2="1976.4" stroke="#7f7f7f" stroke-width="1" />
<line x1="887.4" y1="2253.4" x2="887.4" y2="2256.4" stroke="#555" stroke-width="1" />
<line x1="987.1" y1="2253.4" x2="987.1" y2="2256.4" stroke="#555" stroke-width="1" />
<line x1="1086.8" y1="2253.4" x2="1086.8" y2="2256.4" stroke="#555" stroke-width="1" />
<line x1="1186.6" y1="2253.4" x2="1186.6" y2="2256.4" stroke="#555" stroke-width="1" />
<text x="1002" y="1844.8" font-size="28" text-anchor="middle" textLength="211" lengthAdjust="spacingAndGlyphs">Statistic of DEGs</text>
<text transform="translate(780.5 2092) rotate(-90)" font-size="27.7" text-anchor="middle" textLength="180" lengthAdjust="spacingAndGlyphs">DGEs Number</text>
<rect x="1170.2" y="1873.6" width="12.8" height="12.2" fill="#62482c"/>
<rect x="1170.2" y="1887.6" width="12.8" height="12.4" fill="#425a28"/>
<text x="1185" y="1884.4" font-size="17.5">Up</text>
<text x="1185" y="1900.9" font-size="17.5">Down</text>
<g font-size="17.6" text-anchor="end" fill="#1a1a1a"><text transform="translate(882.32 2252.2) rotate(-58.5)">D2HG + D2hpgh</text><text transform="translate(914.79 2250.56) rotate(-58.5)">vs D2HG .DESeq2</text><text transform="translate(980.55 2254.11) rotate(-58.5)">D2HG + D2hgdh</text><text transform="translate(1019.29 2247.29) rotate(-58.5)">vs D2hgdh .DESeq2</text><text transform="translate(1068.4 2269.66) rotate(-58.5)">D2HG vs</text><text transform="translate(1113.7 2248.65) rotate(-58.5)">NTC .DESeq2</text><text transform="translate(1168.54 2262.84) rotate(-58.5)">D2hgdh vs</text><text transform="translate(1209.74 2251.38) rotate(-58.5)">NTC .DESeq2</text></g>
<g id="panel-k">
<clipPath id="panel-kc"><path d="M1428.9 2118.26L1418.72 2107.32L1410.15 2095.21L1403.32 2082.15L1398.35 2068.35L1395.33 2054.07L1394.3 2039.53L1395.29 2024.98L1398.28 2010.69L1403.22 1996.89L1410.02 1983.81L1418.56 1971.68L1428.71 1960.72L1440.28 1951.1L1453.09 1942.99L1466.9 1936.53L1481.48 1931.83L1496.59 1928.97L1511.97 1928L1527.34 1928.94L1542.46 1931.76L1557.06 1936.43L1570.89 1942.86L1583.71 1950.94L1595.3 1960.54L1737 2094.24L1747.18 2105.18L1755.75 2117.29L1762.58 2130.35L1767.55 2144.15L1770.57 2158.43L1771.6 2172.97L1770.61 2187.52L1767.62 2201.81L1762.68 2215.61L1755.88 2228.69L1747.34 2240.82L1737.19 2251.78L1725.62 2261.4L1712.81 2269.51L1699 2275.97L1684.42 2280.67L1669.31 2283.53L1653.93 2284.5L1638.56 2283.56L1623.44 2280.74L1608.84 2276.07L1595.01 2269.64L1582.19 2261.56L1570.6 2251.96Z"/></clipPath>
<path d="M1428.9 2118.26L1418.72 2107.32L1410.15 2095.21L1403.32 2082.15L1398.35 2068.35L1395.33 2054.07L1394.3 2039.53L1395.29 2024.98L1398.28 2010.69L1403.22 1996.89L1410.02 1983.81L1418.56 1971.68L1428.71 1960.72L1440.28 1951.1L1453.09 1942.99L1466.9 1936.53L1481.48 1931.83L1496.59 1928.97L1511.97 1928L1527.34 1928.94L1542.46 1931.76L1557.06 1936.43L1570.89 1942.86L1583.71 1950.94L1595.3 1960.54L1737 2094.24L1747.18 2105.18L1755.75 2117.29L1762.58 2130.35L1767.55 2144.15L1770.57 2158.43L1771.6 2172.97L1770.61 2187.52L1767.62 2201.81L1762.68 2215.61L1755.88 2228.69L1747.34 2240.82L1737.19 2251.78L1725.62 2261.4L1712.81 2269.51L1699 2275.97L1684.42 2280.67L1669.31 2283.53L1653.93 2284.5L1638.56 2283.56L1623.44 2280.74L1608.84 2276.07L1595.01 2269.64L1582.19 2261.56L1570.6 2251.96Z" fill="rgb(25,61,177)" fill-opacity="0.5" stroke="rgb(50,50,165)" stroke-opacity="0.85" stroke-width="1"/>
<rect x="1464.6" y="1900" width="400" height="440" fill="rgb(236,142,184)" fill-opacity="0.25" clip-path="url(#panel-kc)"/>
<path d="M1498.94 2051.41L1488.77 2040.46L1480.21 2028.34L1473.39 2015.28L1468.43 2001.48L1465.41 1987.19L1464.4 1972.65L1465.4 1958.11L1468.4 1943.82L1473.35 1930.01L1480.16 1916.94L1488.71 1904.82L1498.87 1893.86L1510.45 1884.25L1523.25 1876.15L1537.07 1869.7L1551.66 1865.01L1566.77 1862.16L1582.15 1861.2L1597.52 1862.15L1612.64 1864.98L1627.23 1869.66L1641.05 1876.1L1653.87 1884.19L1665.46 1893.79L1808.66 2029.09L1818.83 2040.04L1827.39 2052.16L1834.21 2065.22L1839.17 2079.02L1842.19 2093.31L1843.2 2107.85L1842.2 2122.39L1839.2 2136.68L1834.25 2150.49L1827.44 2163.56L1818.89 2175.68L1808.73 2186.64L1797.15 2196.25L1784.35 2204.35L1770.53 2210.8L1755.94 2215.49L1740.83 2218.34L1725.45 2219.3L1710.08 2218.35L1694.96 2215.52L1680.37 2210.84L1666.55 2204.4L1653.73 2196.31L1642.14 2186.71Z" fill="rgb(145,65,35)" fill-opacity="0.5" stroke="rgb(150,70,50)" stroke-opacity="0.6" stroke-width="1"/>
<path d="M1642.14 1893.79L1653.73 1884.19L1666.55 1876.1L1680.37 1869.66L1694.96 1864.98L1710.08 1862.15L1725.45 1861.2L1740.83 1862.16L1755.94 1865.01L1770.53 1869.7L1784.35 1876.15L1797.15 1884.25L1808.73 1893.86L1818.89 1904.82L1827.44 1916.94L1834.25 1930.01L1839.2 1943.82L1842.2 1958.11L1843.2 1972.65L1842.19 1987.19L1839.17 2001.48L1834.21 2015.28L1827.39 2028.34L1818.83 2040.46L1808.66 2051.41L1665.46 2186.71L1653.87 2196.31L1641.05 2204.4L1627.23 2210.84L1612.64 2215.52L1597.52 2218.35L1582.15 2219.3L1566.77 2218.34L1551.66 2215.49L1537.07 2210.8L1523.25 2204.35L1510.45 2196.25L1498.87 2186.64L1488.71 2175.68L1480.16 2163.56L1473.35 2150.49L1468.4 2136.68L1465.4 2122.39L1464.4 2107.85L1465.41 2093.31L1468.43 2079.02L1473.39 2065.22L1480.21 2052.16L1488.77 2040.04L1498.94 2029.09Z" fill="rgb(85,141,55)" fill-opacity="0.5" stroke="rgb(70,130,50)" stroke-opacity="0.7" stroke-width="1"/>
<path d="M1712.3 1960.54L1723.89 1950.94L1736.71 1942.86L1750.54 1936.43L1765.14 1931.76L1780.26 1928.94L1795.63 1928L1811.01 1928.97L1826.12 1931.83L1840.7 1936.53L1854.51 1942.99L1867.32 1951.1L1878.89 1960.72L1889.04 1971.68L1897.58 1983.81L1904.38 1996.89L1909.32 2010.69L1912.31 2024.98L1913.3 2039.53L1912.27 2054.07L1909.25 2068.35L1904.28 2082.15L1897.45 2095.21L1888.88 2107.32L1878.7 2118.26L1737 2251.96L1725.41 2261.56L1712.59 2269.64L1698.76 2276.07L1684.16 2280.74L1669.04 2283.56L1653.67 2284.5L1638.29 2283.53L1623.18 2280.67L1608.6 2275.97L1594.79 2269.51L1581.98 2261.4L1570.41 2251.78L1560.26 2240.82L1551.72 2228.69L1544.92 2215.61L1539.98 2201.81L1536.99 2187.52L1536 2172.97L1537.03 2158.43L1540.05 2144.15L1545.02 2130.35L1551.85 2117.29L1560.42 2105.18L1570.6 2094.24Z" fill="rgb(215,225,85)" fill-opacity="0.5" stroke="rgb(200,215,60)" stroke-opacity="0.8" stroke-width="1"/>
<g font-size="26" text-anchor="middle">
<text x="1563.7" y="1914.07">110</text>
<text x="1742.3" y="1911.2">1216</text>
<text x="1654.43" y="1962.78">37</text>
<text x="1506.39" y="1977.74">0</text>
<text x="1798.97" y="1972.97">0</text>
<text x="1571.02" y="2036">0</text>
<text x="1734.98" y="2037.6">0</text>
<text x="1439.54" y="2053.51">157</text>
<text x="1870.29" y="2052.56">551</text>
<text x="1508.94" y="2123.56">1</text>
<text x="1654.43" y="2119.73">0</text>
<text x="1801.84" y="2118.14">0</text>
<text x="1727.02" y="2192.96">0</text>
<text x="1581.53" y="2193.6">0</text>
<text x="1656.35" y="2255.68">101</text>
</g>
<text x="1368.4" y="1852.1" font-size="20.4" textLength="253.9" lengthAdjust="spacingAndGlyphs">UP gene of D2HG-vs-NTC</text>
<text x="1655.4" y="1854.5" font-size="20.4" textLength="306" lengthAdjust="spacingAndGlyphs">UP gene of D2HG-vs-NTC(2nd)</text>
<text transform="translate(1391 2046.1) rotate(-90)" font-size="20.4" text-anchor="middle" textLength="264.6" lengthAdjust="spacingAndGlyphs">Down gene of D2HG-vs-NTC</text>
<text transform="translate(1921.5 2080.5) rotate(90)" font-size="20.4" text-anchor="middle" textLength="311" lengthAdjust="spacingAndGlyphs">Down gene of D2HG-vs-NTC(2nd)</text>
</g>
<g font-weight="bold" font-size="48"><text x="10.5" y="56.9">a</text><text x="874" y="41">b</text><text x="1270" y="42.3">c</text><text x="875" y="503.4">d</text><text x="1234" y="498.9">e</text><text x="26" y="888.7">f</text><text x="520" y="888">g</text><text x="37" y="1810.9">h</text><text x="1292" y="885.1">i</text><text x="696" y="1811">j</text><text x="1333" y="1811.5">k</text></g>
</svg>
</body></html>
